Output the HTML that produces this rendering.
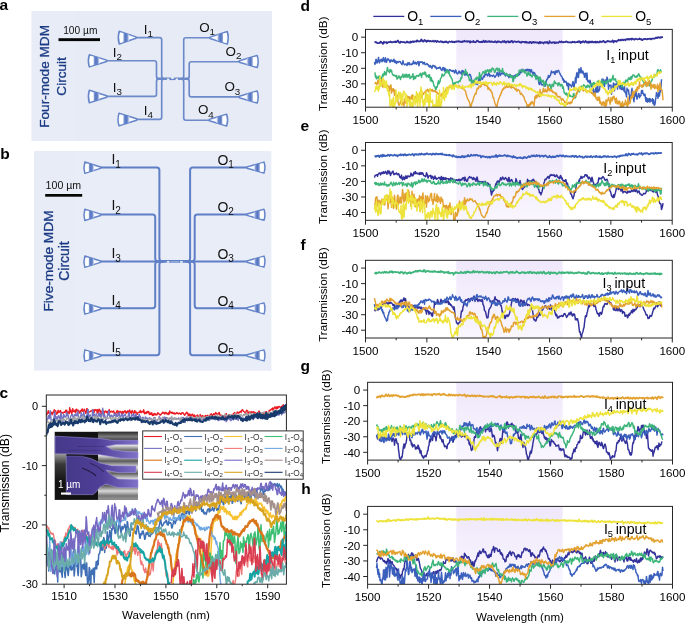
<!DOCTYPE html>
<html><head><meta charset="utf-8"><title>MDM figure</title>
<style>html,body{margin:0;padding:0;background:#fff;} svg{display:block;will-change:transform;}</style>
</head><body>
<svg width="685" height="624" viewBox="0 0 685 624" font-family='"Liberation Sans", sans-serif'>
<defs>
<linearGradient id="shade" x1="0" y1="0" x2="0" y2="1"><stop offset="0" stop-color="#efe7fb"/><stop offset="1" stop-color="#f9f6fe"/></linearGradient>
<linearGradient id="cpl" x1="0" y1="0" x2="1" y2="0"><stop offset="0" stop-color="#ffffff"/><stop offset="1" stop-color="#ffffff"/></linearGradient>
<clipPath id="d"><rect x="365.5" y="29.4" width="306.79999999999995" height="77.80000000000001"/></clipPath>
<clipPath id="e"><rect x="365.5" y="142.5" width="306.70000000000005" height="77.80000000000001"/></clipPath>
<clipPath id="f"><rect x="365.5" y="260.3" width="306.79999999999995" height="77.69999999999999"/></clipPath>
<clipPath id="g"><rect x="367.6" y="382.3" width="304.9" height="77.80000000000001"/></clipPath>
<clipPath id="h"><rect x="367.6" y="506.4" width="304.9" height="77.89999999999998"/></clipPath>
<clipPath id="c"><rect x="46.3" y="395.0" width="240.09999999999997" height="189.20000000000005"/></clipPath>
</defs>
<rect x="0" y="0" width="685" height="624" fill="#ffffff"/>
<text x="-0.60" y="10.20" font-size="15.5" text-anchor="start" font-weight="bold" fill="#000" >a</text>
<text x="0.20" y="158.60" font-size="15.5" text-anchor="start" font-weight="bold" fill="#000" >b</text>
<text x="-0.40" y="398.20" font-size="15.5" text-anchor="start" font-weight="bold" fill="#000" >c</text>
<text x="300.50" y="10.60" font-size="15.5" text-anchor="start" font-weight="bold" fill="#000" >d</text>
<text x="300.60" y="131.00" font-size="15.5" text-anchor="start" font-weight="bold" fill="#000" >e</text>
<text x="300.60" y="250.40" font-size="15.5" text-anchor="start" font-weight="bold" fill="#000" >f</text>
<text x="300.60" y="371.20" font-size="15.5" text-anchor="start" font-weight="bold" fill="#000" >g</text>
<text x="301.20" y="494.00" font-size="15.5" text-anchor="start" font-weight="bold" fill="#000" >h</text>
<rect x="31.4" y="11" width="240.6" height="130" fill="#e8ecf6"/>
<rect x="75" y="11" width="197" height="130" fill="#e6ebf5"/>
<rect x="58.5" y="38.2" width="41.5" height="2.9" fill="#050505"/>
<text x="80.30" y="33.60" font-size="10.2" text-anchor="middle" fill="#111" >100 µm</text>
<text x="49.20" y="76.40" font-size="13.6" text-anchor="middle" fill="#1a3a85" transform="rotate(-90 49.20 76.40)" stroke="#1a3a85" stroke-width="0.3">Four-mode MDM</text>
<text x="66.00" y="76.40" font-size="13.6" text-anchor="middle" fill="#1a3a85" transform="rotate(-90 66.00 76.40)" stroke="#1a3a85" stroke-width="0.3">Circuit</text>
<path d="M136.3,37.6 H159.5 Q161.7,37.6 161.7,39.800000000000004 V76.2 Q161.7,78.8 164.29999999999998,78.8" fill="none" stroke="#6c89ca" stroke-width="1.65" stroke-linejoin="round" stroke-linecap="round"/>
<path d="M107,60.7 H154.3 Q156.5,60.7 156.5,62.900000000000006 V76.2 Q156.5,78.8 159.1,78.8" fill="none" stroke="#6c89ca" stroke-width="1.65" stroke-linejoin="round" stroke-linecap="round"/>
<path d="M107,96.4 H154.3 Q156.5,96.4 156.5,94.2 V81.39999999999999 Q156.5,78.8 159.1,78.8" fill="none" stroke="#6c89ca" stroke-width="1.65" stroke-linejoin="round" stroke-linecap="round"/>
<path d="M137,119.4 H159.5 Q161.7,119.4 161.7,117.2 V81.39999999999999 Q161.7,78.8 164.29999999999998,78.8" fill="none" stroke="#6c89ca" stroke-width="1.65" stroke-linejoin="round" stroke-linecap="round"/>
<path d="M209.3,37.7 H185.89999999999998 Q183.7,37.7 183.7,39.900000000000006 V76.2 Q183.7,78.8 181.1,78.8" fill="none" stroke="#6c89ca" stroke-width="1.65" stroke-linejoin="round" stroke-linecap="round"/>
<path d="M239,61.7 H191.39999999999998 Q189.2,61.7 189.2,63.900000000000006 V76.2 Q189.2,78.8 186.6,78.8" fill="none" stroke="#6c89ca" stroke-width="1.65" stroke-linejoin="round" stroke-linecap="round"/>
<path d="M239,96.9 H191.39999999999998 Q189.2,96.9 189.2,94.7 V81.39999999999999 Q189.2,78.8 186.6,78.8" fill="none" stroke="#6c89ca" stroke-width="1.65" stroke-linejoin="round" stroke-linecap="round"/>
<path d="M209,120.2 H185.89999999999998 Q183.7,120.2 183.7,118.0 V81.39999999999999 Q183.7,78.8 181.1,78.8" fill="none" stroke="#6c89ca" stroke-width="1.65" stroke-linejoin="round" stroke-linecap="round"/>
<path d="M157.5,78.8 H170.2" fill="none" stroke="#6c89ca" stroke-width="2.4" stroke-linejoin="round" stroke-linecap="round"/>
<path d="M174.8,78.8 H188.2" fill="none" stroke="#6c89ca" stroke-width="2.4" stroke-linejoin="round" stroke-linecap="round"/>
<path d="M170,79.6 H175" fill="none" stroke="#5f7fc6" stroke-width="1.0" stroke-linejoin="round" stroke-linecap="round"/>
<ellipse cx="168.1" cy="79.3" rx="1.5" ry="0.8" fill="#f4f7fc"/>
<ellipse cx="176.8" cy="79.3" rx="1.5" ry="0.8" fill="#f4f7fc"/>
<path d="M136.00,36.90 L119.20,31.15 Q117.35,37.60 119.20,44.05 L136.00,38.30 Z" fill="#f6f8fd" stroke="#6685c9" stroke-width="1.5" stroke-linejoin="round"/>
<linearGradient id="g1360_376" gradientUnits="userSpaceOnUse" x1="128.94" y1="0" x2="123.40" y2="0"><stop offset="0" stop-color="#dde5f5"/><stop offset="0.3" stop-color="#6f8cd0"/><stop offset="0.6" stop-color="#5474c0"/><stop offset="1" stop-color="#8aa2d9"/></linearGradient>
<path d="M128.94,34.48 L123.40,32.59 L123.40,42.61 L128.94,40.72 Z" fill="url(#g1360_376)"/>
<path d="M123.06,33.07 L120.00,32.35 L120.00,42.85 L123.06,42.13 Z" fill="#ffffff" opacity="0.9"/>
<path d="M106.70,60.10 L89.30,54.70 Q87.39,60.80 89.30,66.90 L106.70,61.50 Z" fill="#f6f8fd" stroke="#6685c9" stroke-width="1.5" stroke-linejoin="round"/>
<linearGradient id="g1067_608" gradientUnits="userSpaceOnUse" x1="99.39" y1="0" x2="93.65" y2="0"><stop offset="0" stop-color="#dde5f5"/><stop offset="0.3" stop-color="#6f8cd0"/><stop offset="0.6" stop-color="#5474c0"/><stop offset="1" stop-color="#8aa2d9"/></linearGradient>
<path d="M99.39,57.83 L93.65,56.05 L93.65,65.55 L99.39,63.77 Z" fill="url(#g1067_608)"/>
<path d="M93.30,56.54 L90.10,55.90 L90.10,65.70 L93.30,65.06 Z" fill="#ffffff" opacity="0.9"/>
<path d="M106.70,95.80 L89.30,90.30 Q87.39,96.50 89.30,102.70 L106.70,97.20 Z" fill="#f6f8fd" stroke="#6685c9" stroke-width="1.5" stroke-linejoin="round"/>
<linearGradient id="g1067_965" gradientUnits="userSpaceOnUse" x1="99.39" y1="0" x2="93.65" y2="0"><stop offset="0" stop-color="#dde5f5"/><stop offset="0.3" stop-color="#6f8cd0"/><stop offset="0.6" stop-color="#5474c0"/><stop offset="1" stop-color="#8aa2d9"/></linearGradient>
<path d="M99.39,93.49 L93.65,91.67 L93.65,101.33 L99.39,99.51 Z" fill="url(#g1067_965)"/>
<path d="M93.30,92.16 L90.10,91.50 L90.10,101.50 L93.30,100.84 Z" fill="#ffffff" opacity="0.9"/>
<path d="M136.70,118.80 L119.00,113.20 Q117.05,119.50 119.00,125.80 L136.70,120.20 Z" fill="#f6f8fd" stroke="#6685c9" stroke-width="1.5" stroke-linejoin="round"/>
<linearGradient id="g1367_1195" gradientUnits="userSpaceOnUse" x1="129.27" y1="0" x2="123.42" y2="0"><stop offset="0" stop-color="#dde5f5"/><stop offset="0.3" stop-color="#6f8cd0"/><stop offset="0.6" stop-color="#5474c0"/><stop offset="1" stop-color="#8aa2d9"/></linearGradient>
<path d="M129.27,116.45 L123.42,114.60 L123.42,124.40 L129.27,122.55 Z" fill="url(#g1367_1195)"/>
<path d="M123.07,115.09 L119.80,114.40 L119.80,124.60 L123.07,123.91 Z" fill="#ffffff" opacity="0.9"/>
<path d="M210.00,37.10 L227.30,31.50 Q229.20,37.80 227.30,44.10 L210.00,38.50 Z" fill="#f6f8fd" stroke="#6685c9" stroke-width="1.5" stroke-linejoin="round"/>
<linearGradient id="g2100_378" gradientUnits="userSpaceOnUse" x1="217.27" y1="0" x2="222.98" y2="0"><stop offset="0" stop-color="#dde5f5"/><stop offset="0.3" stop-color="#6f8cd0"/><stop offset="0.6" stop-color="#5474c0"/><stop offset="1" stop-color="#8aa2d9"/></linearGradient>
<path d="M217.27,34.75 L222.98,32.90 L222.98,42.70 L217.27,40.85 Z" fill="url(#g2100_378)"/>
<path d="M223.32,33.39 L226.50,32.70 L226.50,42.90 L223.32,42.21 Z" fill="#ffffff" opacity="0.9"/>
<path d="M239.30,60.80 L257.20,55.45 Q259.17,61.50 257.20,67.55 L239.30,62.20 Z" fill="#f6f8fd" stroke="#6685c9" stroke-width="1.5" stroke-linejoin="round"/>
<linearGradient id="g2393_615" gradientUnits="userSpaceOnUse" x1="246.82" y1="0" x2="252.72" y2="0"><stop offset="0" stop-color="#dde5f5"/><stop offset="0.3" stop-color="#6f8cd0"/><stop offset="0.6" stop-color="#5474c0"/><stop offset="1" stop-color="#8aa2d9"/></linearGradient>
<path d="M246.82,58.55 L252.72,56.79 L252.72,66.21 L246.82,64.45 Z" fill="url(#g2393_615)"/>
<path d="M253.08,57.28 L256.40,56.65 L256.40,66.35 L253.08,65.72 Z" fill="#ffffff" opacity="0.9"/>
<path d="M239.30,96.30 L257.20,90.95 Q259.17,97.00 257.20,103.05 L239.30,97.70 Z" fill="#f6f8fd" stroke="#6685c9" stroke-width="1.5" stroke-linejoin="round"/>
<linearGradient id="g2393_970" gradientUnits="userSpaceOnUse" x1="246.82" y1="0" x2="252.72" y2="0"><stop offset="0" stop-color="#dde5f5"/><stop offset="0.3" stop-color="#6f8cd0"/><stop offset="0.6" stop-color="#5474c0"/><stop offset="1" stop-color="#8aa2d9"/></linearGradient>
<path d="M246.82,94.05 L252.72,92.29 L252.72,101.71 L246.82,99.95 Z" fill="url(#g2393_970)"/>
<path d="M253.08,92.78 L256.40,92.15 L256.40,101.85 L253.08,101.22 Z" fill="#ffffff" opacity="0.9"/>
<path d="M209.30,119.40 L226.70,114.25 Q228.61,120.10 226.70,125.95 L209.30,120.80 Z" fill="#f6f8fd" stroke="#6685c9" stroke-width="1.5" stroke-linejoin="round"/>
<linearGradient id="g2093_1201" gradientUnits="userSpaceOnUse" x1="216.61" y1="0" x2="222.35" y2="0"><stop offset="0" stop-color="#dde5f5"/><stop offset="0.3" stop-color="#6f8cd0"/><stop offset="0.6" stop-color="#5474c0"/><stop offset="1" stop-color="#8aa2d9"/></linearGradient>
<path d="M216.61,117.24 L222.35,115.54 L222.35,124.66 L216.61,122.96 Z" fill="url(#g2093_1201)"/>
<path d="M222.70,116.03 L225.90,115.45 L225.90,124.75 L222.70,124.17 Z" fill="#ffffff" opacity="0.9"/>
<text x="143.80" y="33.80" font-size="13.4" fill="#111">I<tspan font-size="9.8" dy="3.2">1</tspan></text>
<text x="112.70" y="57.00" font-size="13.4" fill="#111">I<tspan font-size="9.8" dy="3.2">2</tspan></text>
<text x="112.80" y="91.60" font-size="13.4" fill="#111">I<tspan font-size="9.8" dy="3.2">3</tspan></text>
<text x="143.80" y="115.00" font-size="13.4" fill="#111">I<tspan font-size="9.8" dy="3.2">4</tspan></text>
<text x="199.20" y="31.50" font-size="13.4" fill="#111">O<tspan font-size="9.8" dy="3.2">1</tspan></text>
<text x="225.60" y="56.20" font-size="13.4" fill="#111">O<tspan font-size="9.8" dy="3.2">2</tspan></text>
<text x="224.40" y="91.40" font-size="13.4" fill="#111">O<tspan font-size="9.8" dy="3.2">3</tspan></text>
<text x="197.90" y="114.40" font-size="13.4" fill="#111">O<tspan font-size="9.8" dy="3.2">4</tspan></text>
<rect x="34" y="151" width="237.2" height="219.5" fill="#e8ecf6"/>
<rect x="77" y="151" width="194.2" height="219.5" fill="#e9edf7"/>
<rect x="45.2" y="194" width="37" height="2.7" fill="#050505"/>
<text x="63.40" y="189.00" font-size="10.6" text-anchor="middle" fill="#111" >100 µm</text>
<text x="52.70" y="261.00" font-size="13.7" text-anchor="middle" fill="#1a3a85" transform="rotate(-90 52.70 261.00)" stroke="#1a3a85" stroke-width="0.3">Five-mode MDM</text>
<text x="69.40" y="261.00" font-size="13.9" text-anchor="middle" fill="#1a3a85" transform="rotate(-90 69.40 261.00)" stroke="#1a3a85" stroke-width="0.3">Circuit</text>
<path d="M100.6,167.4 H156.8 Q159.4,167.4 159.4,170.0 V258.2 Q159.4,261.4 162.6,261.4" fill="none" stroke="#5f7fc6" stroke-width="2.0" stroke-linejoin="round" stroke-linecap="round"/>
<path d="M100.6,214.5 H152.6 Q155.2,214.5 155.2,217.1 V258.2 Q155.2,261.4 158.39999999999998,261.4" fill="none" stroke="#5f7fc6" stroke-width="2.0" stroke-linejoin="round" stroke-linecap="round"/>
<path d="M100.6,261.4 H161.4" fill="none" stroke="#5f7fc6" stroke-width="2.0" stroke-linejoin="round" stroke-linecap="round"/>
<path d="M100.6,308.2 H152.6 Q155.2,308.2 155.2,305.59999999999997 V264.59999999999997 Q155.2,261.4 158.39999999999998,261.4" fill="none" stroke="#5f7fc6" stroke-width="2.0" stroke-linejoin="round" stroke-linecap="round"/>
<path d="M100.6,355.2 H156.8 Q159.4,355.2 159.4,352.59999999999997 V264.59999999999997 Q159.4,261.4 162.6,261.4" fill="none" stroke="#5f7fc6" stroke-width="2.0" stroke-linejoin="round" stroke-linecap="round"/>
<path d="M247.0,167.4 H192.7 Q190.1,167.4 190.1,170.0 V258.2 Q190.1,261.4 186.9,261.4" fill="none" stroke="#5f7fc6" stroke-width="2.0" stroke-linejoin="round" stroke-linecap="round"/>
<path d="M247.0,214.5 H197.29999999999998 Q194.7,214.5 194.7,217.1 V258.2 Q194.7,261.4 191.5,261.4" fill="none" stroke="#5f7fc6" stroke-width="2.0" stroke-linejoin="round" stroke-linecap="round"/>
<path d="M247.0,261.4 H188.1" fill="none" stroke="#5f7fc6" stroke-width="2.0" stroke-linejoin="round" stroke-linecap="round"/>
<path d="M247.0,308.2 H197.29999999999998 Q194.7,308.2 194.7,305.59999999999997 V264.59999999999997 Q194.7,261.4 191.5,261.4" fill="none" stroke="#5f7fc6" stroke-width="2.0" stroke-linejoin="round" stroke-linecap="round"/>
<path d="M247.0,355.2 H192.7 Q190.1,355.2 190.1,352.59999999999997 V264.59999999999997 Q190.1,261.4 186.9,261.4" fill="none" stroke="#5f7fc6" stroke-width="2.0" stroke-linejoin="round" stroke-linecap="round"/>
<path d="M159.4,261.4 H190.1" fill="none" stroke="#5f7fc6" stroke-width="2.8" stroke-linejoin="round" stroke-linecap="round"/>
<ellipse cx="168.1" cy="261.9" rx="1.6" ry="0.8" fill="#f4f7fc"/>
<ellipse cx="181.4" cy="261.9" rx="1.6" ry="0.8" fill="#f4f7fc"/>
<rect x="170.5" y="261.2" width="8.5" height="1.2" fill="#9fb3e0"/>
<path d="M100.60,167.00 L84.85,162.05 Q83.12,167.70 84.85,173.35 L100.60,168.40 Z" fill="#f6f8fd" stroke="#6685c9" stroke-width="1.5" stroke-linejoin="round"/>
<linearGradient id="g1006_1677" gradientUnits="userSpaceOnUse" x1="93.98" y1="0" x2="88.79" y2="0"><stop offset="0" stop-color="#dde5f5"/><stop offset="0.3" stop-color="#6f8cd0"/><stop offset="0.6" stop-color="#5474c0"/><stop offset="1" stop-color="#8aa2d9"/></linearGradient>
<path d="M93.98,164.92 L88.79,163.29 L88.79,172.11 L93.98,170.48 Z" fill="url(#g1006_1677)"/>
<path d="M88.47,163.79 L85.65,163.25 L85.65,172.15 L88.47,171.61 Z" fill="#ffffff" opacity="0.9"/>
<path d="M247.00,166.90 L264.00,162.10 Q265.87,167.60 264.00,173.10 L247.00,168.30 Z" fill="#f6f8fd" stroke="#6685c9" stroke-width="1.5" stroke-linejoin="round"/>
<linearGradient id="g2470_1676" gradientUnits="userSpaceOnUse" x1="254.14" y1="0" x2="259.75" y2="0"><stop offset="0" stop-color="#dde5f5"/><stop offset="0.3" stop-color="#6f8cd0"/><stop offset="0.6" stop-color="#5474c0"/><stop offset="1" stop-color="#8aa2d9"/></linearGradient>
<path d="M254.14,164.88 L259.75,163.30 L259.75,171.90 L254.14,170.32 Z" fill="url(#g2470_1676)"/>
<path d="M260.09,163.80 L263.20,163.30 L263.20,171.90 L260.09,171.40 Z" fill="#ffffff" opacity="0.9"/>
<path d="M100.60,214.10 L84.85,209.15 Q83.12,214.80 84.85,220.45 L100.60,215.50 Z" fill="#f6f8fd" stroke="#6685c9" stroke-width="1.5" stroke-linejoin="round"/>
<linearGradient id="g1006_2148" gradientUnits="userSpaceOnUse" x1="93.98" y1="0" x2="88.79" y2="0"><stop offset="0" stop-color="#dde5f5"/><stop offset="0.3" stop-color="#6f8cd0"/><stop offset="0.6" stop-color="#5474c0"/><stop offset="1" stop-color="#8aa2d9"/></linearGradient>
<path d="M93.98,212.02 L88.79,210.39 L88.79,219.21 L93.98,217.58 Z" fill="url(#g1006_2148)"/>
<path d="M88.47,210.89 L85.65,210.35 L85.65,219.25 L88.47,218.71 Z" fill="#ffffff" opacity="0.9"/>
<path d="M247.00,214.00 L264.00,209.20 Q265.87,214.70 264.00,220.20 L247.00,215.40 Z" fill="#f6f8fd" stroke="#6685c9" stroke-width="1.5" stroke-linejoin="round"/>
<linearGradient id="g2470_2147" gradientUnits="userSpaceOnUse" x1="254.14" y1="0" x2="259.75" y2="0"><stop offset="0" stop-color="#dde5f5"/><stop offset="0.3" stop-color="#6f8cd0"/><stop offset="0.6" stop-color="#5474c0"/><stop offset="1" stop-color="#8aa2d9"/></linearGradient>
<path d="M254.14,211.98 L259.75,210.40 L259.75,219.00 L254.14,217.42 Z" fill="url(#g2470_2147)"/>
<path d="M260.09,210.90 L263.20,210.40 L263.20,219.00 L260.09,218.50 Z" fill="#ffffff" opacity="0.9"/>
<path d="M100.60,261.00 L84.85,256.05 Q83.12,261.70 84.85,267.35 L100.60,262.40 Z" fill="#f6f8fd" stroke="#6685c9" stroke-width="1.5" stroke-linejoin="round"/>
<linearGradient id="g1006_2617" gradientUnits="userSpaceOnUse" x1="93.98" y1="0" x2="88.79" y2="0"><stop offset="0" stop-color="#dde5f5"/><stop offset="0.3" stop-color="#6f8cd0"/><stop offset="0.6" stop-color="#5474c0"/><stop offset="1" stop-color="#8aa2d9"/></linearGradient>
<path d="M93.98,258.92 L88.79,257.29 L88.79,266.11 L93.98,264.48 Z" fill="url(#g1006_2617)"/>
<path d="M88.47,257.79 L85.65,257.25 L85.65,266.15 L88.47,265.61 Z" fill="#ffffff" opacity="0.9"/>
<path d="M247.00,260.90 L264.00,256.10 Q265.87,261.60 264.00,267.10 L247.00,262.30 Z" fill="#f6f8fd" stroke="#6685c9" stroke-width="1.5" stroke-linejoin="round"/>
<linearGradient id="g2470_2615" gradientUnits="userSpaceOnUse" x1="254.14" y1="0" x2="259.75" y2="0"><stop offset="0" stop-color="#dde5f5"/><stop offset="0.3" stop-color="#6f8cd0"/><stop offset="0.6" stop-color="#5474c0"/><stop offset="1" stop-color="#8aa2d9"/></linearGradient>
<path d="M254.14,258.88 L259.75,257.30 L259.75,265.90 L254.14,264.32 Z" fill="url(#g2470_2615)"/>
<path d="M260.09,257.80 L263.20,257.30 L263.20,265.90 L260.09,265.40 Z" fill="#ffffff" opacity="0.9"/>
<path d="M100.60,307.80 L84.85,302.85 Q83.12,308.50 84.85,314.15 L100.60,309.20 Z" fill="#f6f8fd" stroke="#6685c9" stroke-width="1.5" stroke-linejoin="round"/>
<linearGradient id="g1006_3085" gradientUnits="userSpaceOnUse" x1="93.98" y1="0" x2="88.79" y2="0"><stop offset="0" stop-color="#dde5f5"/><stop offset="0.3" stop-color="#6f8cd0"/><stop offset="0.6" stop-color="#5474c0"/><stop offset="1" stop-color="#8aa2d9"/></linearGradient>
<path d="M93.98,305.72 L88.79,304.09 L88.79,312.91 L93.98,311.28 Z" fill="url(#g1006_3085)"/>
<path d="M88.47,304.59 L85.65,304.05 L85.65,312.95 L88.47,312.41 Z" fill="#ffffff" opacity="0.9"/>
<path d="M247.00,307.70 L264.00,302.90 Q265.87,308.40 264.00,313.90 L247.00,309.10 Z" fill="#f6f8fd" stroke="#6685c9" stroke-width="1.5" stroke-linejoin="round"/>
<linearGradient id="g2470_3084" gradientUnits="userSpaceOnUse" x1="254.14" y1="0" x2="259.75" y2="0"><stop offset="0" stop-color="#dde5f5"/><stop offset="0.3" stop-color="#6f8cd0"/><stop offset="0.6" stop-color="#5474c0"/><stop offset="1" stop-color="#8aa2d9"/></linearGradient>
<path d="M254.14,305.68 L259.75,304.10 L259.75,312.70 L254.14,311.12 Z" fill="url(#g2470_3084)"/>
<path d="M260.09,304.60 L263.20,304.10 L263.20,312.70 L260.09,312.20 Z" fill="#ffffff" opacity="0.9"/>
<path d="M100.60,354.80 L84.85,349.85 Q83.12,355.50 84.85,361.15 L100.60,356.20 Z" fill="#f6f8fd" stroke="#6685c9" stroke-width="1.5" stroke-linejoin="round"/>
<linearGradient id="g1006_3555" gradientUnits="userSpaceOnUse" x1="93.98" y1="0" x2="88.79" y2="0"><stop offset="0" stop-color="#dde5f5"/><stop offset="0.3" stop-color="#6f8cd0"/><stop offset="0.6" stop-color="#5474c0"/><stop offset="1" stop-color="#8aa2d9"/></linearGradient>
<path d="M93.98,352.72 L88.79,351.09 L88.79,359.91 L93.98,358.28 Z" fill="url(#g1006_3555)"/>
<path d="M88.47,351.59 L85.65,351.05 L85.65,359.95 L88.47,359.41 Z" fill="#ffffff" opacity="0.9"/>
<path d="M247.00,354.70 L264.00,349.90 Q265.87,355.40 264.00,360.90 L247.00,356.10 Z" fill="#f6f8fd" stroke="#6685c9" stroke-width="1.5" stroke-linejoin="round"/>
<linearGradient id="g2470_3554" gradientUnits="userSpaceOnUse" x1="254.14" y1="0" x2="259.75" y2="0"><stop offset="0" stop-color="#dde5f5"/><stop offset="0.3" stop-color="#6f8cd0"/><stop offset="0.6" stop-color="#5474c0"/><stop offset="1" stop-color="#8aa2d9"/></linearGradient>
<path d="M254.14,352.68 L259.75,351.10 L259.75,359.70 L254.14,358.12 Z" fill="url(#g2470_3554)"/>
<path d="M260.09,351.60 L263.20,351.10 L263.20,359.70 L260.09,359.20 Z" fill="#ffffff" opacity="0.9"/>
<text x="111.40" y="164.40" font-size="14" fill="#111">I<tspan font-size="10" dy="3.3">1</tspan></text>
<text x="217.40" y="165.00" font-size="14" fill="#111">O<tspan font-size="10" dy="3.3">1</tspan></text>
<text x="111.40" y="210.30" font-size="14" fill="#111">I<tspan font-size="10" dy="3.3">2</tspan></text>
<text x="217.40" y="212.10" font-size="14" fill="#111">O<tspan font-size="10" dy="3.3">2</tspan></text>
<text x="111.40" y="258.40" font-size="14" fill="#111">I<tspan font-size="10" dy="3.3">3</tspan></text>
<text x="217.40" y="259.00" font-size="14" fill="#111">O<tspan font-size="10" dy="3.3">3</tspan></text>
<text x="111.40" y="305.20" font-size="14" fill="#111">I<tspan font-size="10" dy="3.3">4</tspan></text>
<text x="217.40" y="305.80" font-size="14" fill="#111">O<tspan font-size="10" dy="3.3">4</tspan></text>
<text x="111.40" y="352.20" font-size="14" fill="#111">I<tspan font-size="10" dy="3.3">5</tspan></text>
<text x="217.40" y="352.80" font-size="14" fill="#111">O<tspan font-size="10" dy="3.3">5</tspan></text>
<rect x="456.3" y="29.4" width="106.3" height="77.80" fill="url(#shade)"/>
<polyline points="374.5,42.5 375.0,42.1 375.5,42.3 376.0,42.1 376.5,42.3 377.0,42.9 377.5,43.2 378.0,43.2 378.5,43.2 379.0,43.1 379.5,42.7 380.0,42.8 380.5,41.6 381.0,41.6 381.5,42.4 382.0,42.8 382.5,43.2 383.0,43.9 383.5,42.7 384.0,41.7 384.5,42.6 385.0,42.6 385.5,42.4 386.0,42.3 386.5,42.2 387.0,43.3 387.5,42.9 388.0,42.2 388.5,42.3 389.0,42.1 389.5,42.0 390.0,42.1 390.5,41.5 391.0,42.1 391.5,42.0 392.0,42.5 392.5,42.2 393.0,41.9 393.5,42.0 394.0,41.9 394.5,41.6 395.0,42.3 395.5,41.5 396.0,42.2 396.5,42.1 397.0,41.2 397.5,40.9 398.0,40.5 398.5,41.9 399.0,42.3 399.5,42.7 400.0,42.9 400.5,41.7 401.0,41.7 401.5,42.0 402.0,42.1 402.5,42.0 403.0,42.1 403.5,42.3 404.0,42.0 404.5,42.0 405.0,42.7 405.5,42.7 406.0,42.4 406.5,42.1 407.0,41.4 407.5,42.3 408.0,42.5 408.5,42.2 409.0,42.1 409.5,42.7 410.0,42.6 410.5,41.5 411.0,42.5 411.5,42.3 412.0,41.9 412.5,41.3 413.0,41.4 413.5,42.2 414.0,41.4 414.5,41.6 415.0,41.5 415.5,41.3 416.0,41.6 416.5,41.6 417.0,40.3 417.5,40.5 418.0,41.3 418.5,41.5 419.0,41.4 419.5,41.3 420.0,41.2 420.5,41.3 421.0,39.9 421.5,39.4 422.0,40.5 422.5,41.3 423.0,41.1 423.5,41.6 424.0,40.9 424.5,40.0 425.0,40.3 425.5,40.9 426.0,41.4 426.5,41.9 427.0,40.6 427.5,41.1 428.0,40.6 428.5,40.6 429.0,41.2 429.5,41.4 430.0,41.2 430.5,40.8 431.0,41.3 431.5,41.3 432.0,41.4 432.5,41.4 433.0,40.6 433.5,41.4 434.0,41.6 434.5,41.6 435.0,40.8 435.5,40.7 436.0,41.4 436.5,42.0 437.0,41.5 437.5,40.9 438.0,41.5 438.5,41.7 439.0,41.8 439.5,41.9 440.0,41.8 440.5,41.2 441.0,41.5 441.5,41.9 442.0,41.4 442.5,42.2 443.0,42.4 443.5,42.1 444.0,42.3 444.5,41.6 445.0,42.2 445.5,42.0 446.0,41.3 446.5,42.1 447.0,42.0 447.5,42.3 448.0,42.8 448.5,42.0 449.0,41.8 449.5,41.5 450.0,41.8 450.5,42.0 451.0,41.9 451.5,41.6 452.0,41.3 452.5,42.1 453.0,42.2 453.5,42.1 454.0,41.6 454.5,42.4 455.0,41.9 455.5,41.6 456.0,41.9 456.5,41.3 457.0,41.6 457.5,41.6 458.0,41.3 458.5,41.1 459.0,41.8 459.5,41.5 460.0,41.7 460.5,41.6 461.0,42.1 461.5,41.6 462.0,41.8 462.5,42.1 463.0,41.2 463.5,41.5 464.0,41.4 464.5,40.8 465.0,41.6 465.5,41.3 466.0,41.4 466.5,41.5 467.0,41.1 467.5,41.8 468.0,41.3 468.5,41.3 469.0,41.1 469.5,42.0 470.0,42.6 470.5,41.2 471.0,42.0 471.5,41.8 472.0,41.9 472.5,41.6 473.0,41.8 473.5,40.9 474.0,42.1 474.5,42.2 475.0,42.2 475.5,42.3 476.0,42.0 476.5,41.5 477.0,40.6 477.5,41.1 478.0,41.0 478.5,41.8 479.0,41.9 479.5,41.8 480.0,42.2 480.5,42.2 481.0,41.8 481.5,41.6 482.0,42.3 482.5,42.1 483.0,41.8 483.5,40.6 484.0,41.4 484.5,42.2 485.0,41.8 485.5,41.0 486.0,41.8 486.5,41.3 487.0,41.9 487.5,41.7 488.0,41.8 488.5,41.2 489.0,41.7 489.5,41.3 490.0,42.0 490.5,41.6 491.0,41.8 491.5,41.3 492.0,41.6 492.5,41.9 493.0,41.9 493.5,42.2 494.0,42.1 494.5,42.0 495.0,41.2 495.5,41.4 496.0,42.1 496.5,42.5 497.0,42.3 497.5,41.4 498.0,41.2 498.5,41.9 499.0,41.6 499.5,41.6 500.0,41.9 500.5,42.1 501.0,42.4 501.5,42.3 502.0,42.2 502.5,41.2 503.0,41.3 503.5,41.6 504.0,42.0 504.5,41.0 505.0,41.8 505.5,42.5 506.0,42.7 506.5,41.6 507.0,41.5 507.5,41.8 508.0,41.2 508.5,41.7 509.0,42.6 509.5,41.7 510.0,41.5 510.5,42.2 511.0,41.7 511.5,40.9 512.0,40.8 512.5,41.7 513.0,42.6 513.5,41.6 514.0,41.5 514.5,41.4 515.0,41.6 515.5,41.6 516.0,41.9 516.5,42.1 517.0,41.9 517.5,41.7 518.0,41.6 518.5,41.4 519.0,41.5 519.5,42.2 520.0,42.4 520.5,42.1 521.0,42.9 521.5,42.1 522.0,41.7 522.5,42.0 523.0,41.8 523.5,41.9 524.0,41.9 524.5,42.4 525.0,42.5 525.5,41.7 526.0,41.9 526.5,42.7 527.0,42.1 527.5,42.6 528.0,42.3 528.5,42.8 529.0,43.0 529.5,42.1 530.0,41.9 530.5,42.1 531.0,42.6 531.5,43.2 532.0,42.0 532.5,42.0 533.0,42.7 533.5,41.8 534.0,42.1 534.5,42.6 535.0,42.3 535.5,42.2 536.0,42.7 536.5,42.4 537.0,42.7 537.5,42.4 538.0,43.0 538.5,43.3 539.0,43.3 539.5,41.8 540.0,41.9 540.5,43.2 541.0,42.7 541.5,42.3 542.0,42.4 542.5,42.7 543.0,42.6 543.5,43.5 544.0,42.7 544.5,42.3 545.0,42.1 545.5,42.3 546.0,42.8 546.5,42.6 547.0,41.8 547.5,42.6 548.0,43.4 548.5,43.5 549.0,42.9 549.5,41.2 550.0,42.1 550.5,42.6 551.0,42.5 551.5,42.6 552.0,43.0 552.5,42.4 553.0,42.4 553.5,42.2 554.0,42.0 554.5,43.1 555.0,43.3 555.5,42.6 556.0,42.4 556.5,42.8 557.0,42.6 557.5,42.5 558.0,42.9 558.5,42.7 559.0,42.1 559.5,41.5 560.0,41.9 560.5,41.9 561.0,42.4 561.5,41.4 562.0,41.8 562.5,41.8 563.0,42.4 563.5,42.4 564.0,42.0 564.5,42.2 565.0,42.2 565.5,42.2 566.0,41.3 566.5,41.5 567.0,41.6 567.5,42.2 568.0,42.4 568.5,42.2 569.0,42.3 569.5,42.4 570.0,42.4 570.5,42.2 571.0,42.3 571.5,42.7 572.0,42.2 572.5,41.7 573.0,42.2 573.5,42.1 574.0,42.1 574.5,41.7 575.0,42.5 575.5,42.4 576.0,42.2 576.5,42.2 577.0,42.2 577.5,41.6 578.0,42.3 578.5,41.7 579.0,41.2 579.5,41.3 580.0,42.3 580.5,43.1 581.0,41.7 581.5,42.1 582.0,42.4 582.5,41.9 583.0,41.1 583.5,41.6 584.0,42.0 584.5,42.5 585.0,41.7 585.5,41.0 586.0,41.4 586.5,42.1 587.0,42.6 587.5,42.6 588.0,41.6 588.5,41.8 589.0,42.8 589.5,41.6 590.0,42.1 590.5,41.6 591.0,42.3 591.5,42.4 592.0,41.4 592.5,42.0 593.0,42.4 593.5,42.4 594.0,41.9 594.5,41.9 595.0,42.6 595.5,41.7 596.0,41.6 596.5,42.5 597.0,42.0 597.5,41.7 598.0,42.4 598.5,42.3 599.0,42.5 599.5,41.6 600.0,41.4 600.5,41.6 601.0,42.2 601.5,41.7 602.0,41.9 602.5,41.7 603.0,41.2 603.5,40.8 604.0,41.4 604.5,42.2 605.0,42.3 605.5,42.5 606.0,41.6 606.5,41.7 607.0,41.4 607.5,41.0 608.0,41.4 608.5,41.2 609.0,41.2 609.5,41.7 610.0,41.6 610.5,41.7 611.0,41.8 611.5,41.3 612.0,41.3 612.5,40.3 613.0,41.0 613.5,42.5 614.0,41.8 614.5,40.8 615.0,40.9 615.5,41.3 616.0,41.4 616.5,41.8 617.0,40.9 617.5,40.9 618.0,40.5 618.5,39.7 619.0,40.2 619.5,40.4 620.0,40.4 620.5,39.8 621.0,40.4 621.5,40.0 622.0,39.5 622.5,39.6 623.0,40.4 623.5,40.0 624.0,39.5 624.5,39.6 625.0,39.9 625.5,40.4 626.0,39.4 626.5,39.1 627.0,39.1 627.5,39.5 628.0,38.9 628.5,39.1 629.0,39.7 629.5,39.3 630.0,38.9 630.5,38.8 631.0,39.1 631.5,39.7 632.0,38.5 632.5,38.7 633.0,38.8 633.5,39.3 634.0,39.4 634.5,39.7 635.0,39.0 635.5,38.7 636.0,38.9 636.5,39.0 637.0,39.3 637.5,39.5 638.0,39.3 638.5,39.1 639.0,39.2 639.5,38.5 640.0,39.3 640.5,39.5 641.0,39.0 641.5,39.1 642.0,40.0 642.5,40.1 643.0,39.5 643.5,39.1 644.0,39.0 644.5,39.1 645.0,38.8 645.5,38.8 646.0,39.2 646.5,39.3 647.0,39.3 647.5,38.8 648.0,39.1 648.5,39.0 649.0,38.8 649.5,38.7 650.0,38.9 650.5,38.6 651.0,39.4 651.5,39.3 652.0,38.6 652.5,38.6 653.0,38.6 653.5,38.5 654.0,38.7 654.5,38.7 655.0,38.4 655.5,38.0 656.0,37.5 656.5,37.9 657.0,38.2 657.5,37.4 658.0,37.6 658.5,37.2 659.0,37.4 659.5,37.6 660.0,37.9 660.5,37.2 661.0,37.3 661.5,37.5 662.0,37.0 662.5,37.1 663.0,37.0" fill="none" stroke="#32309a" stroke-width="1.75" stroke-linejoin="round" clip-path="url(#d)"/>
<polyline points="374.5,61.9 375.0,64.4 375.5,62.0 376.0,59.3 376.5,59.9 377.0,63.1 377.5,62.3 378.0,60.8 378.5,57.4 379.0,61.1 379.5,62.9 380.0,60.5 380.5,60.9 381.0,59.3 381.5,59.8 382.0,61.7 382.5,61.1 383.0,58.4 383.5,57.7 384.0,60.4 384.5,61.8 385.0,61.9 385.5,57.7 386.0,60.6 386.5,62.4 387.0,60.5 387.5,59.4 388.0,58.6 388.5,60.1 389.0,59.7 389.5,60.7 390.0,62.4 390.5,61.0 391.0,59.7 391.5,61.1 392.0,60.4 392.5,61.5 393.0,61.2 393.5,60.1 394.0,59.2 394.5,62.4 395.0,60.8 395.5,60.9 396.0,63.0 396.5,63.4 397.0,61.4 397.5,62.1 398.0,62.5 398.5,62.3 399.0,61.3 399.5,61.8 400.0,61.9 400.5,61.7 401.0,63.4 401.5,63.6 402.0,64.7 402.5,63.0 403.0,60.7 403.5,63.1 404.0,64.1 404.5,64.7 405.0,64.6 405.5,64.2 406.0,63.8 406.5,64.5 407.0,65.6 407.5,64.2 408.0,62.6 408.5,63.8 409.0,64.6 409.5,62.7 410.0,64.8 410.5,64.4 411.0,64.5 411.5,64.7 412.0,63.4 412.5,64.2 413.0,62.8 413.5,61.0 414.0,63.6 414.5,63.7 415.0,63.0 415.5,62.2 416.0,63.9 416.5,64.3 417.0,62.8 417.5,62.1 418.0,61.4 418.5,63.8 419.0,65.7 419.5,62.9 420.0,61.6 420.5,62.3 421.0,62.3 421.5,62.3 422.0,61.7 422.5,62.1 423.0,64.1 423.5,62.6 424.0,63.2 424.5,62.3 425.0,64.6 425.5,64.6 426.0,64.5 426.5,64.2 427.0,63.5 427.5,64.3 428.0,65.1 428.5,64.8 429.0,66.5 429.5,66.1 430.0,67.2 430.5,65.6 431.0,66.7 431.5,66.9 432.0,68.4 432.5,66.4 433.0,65.3 433.5,65.8 434.0,66.0 434.5,65.8 435.0,67.4 435.5,66.3 436.0,67.8 436.5,69.1 437.0,68.0 437.5,67.9 438.0,68.3 438.5,67.7 439.0,68.3 439.5,67.2 440.0,67.1 440.5,68.1 441.0,69.4 441.5,69.9 442.0,70.4 442.5,68.8 443.0,67.5 443.5,67.7 444.0,69.7 444.5,71.1 445.0,68.1 445.5,69.9 446.0,70.6 446.5,69.4 447.0,70.9 447.5,70.1 448.0,70.4 448.5,71.6 449.0,70.4 449.5,69.6 450.0,69.8 450.5,70.4 451.0,70.3 451.5,71.1 452.0,70.7 452.5,71.5 453.0,70.3 453.5,71.0 454.0,71.0 454.5,73.0 455.0,72.1 455.5,69.9 456.0,70.4 456.5,73.1 457.0,73.0 457.5,74.0 458.0,73.4 458.5,72.4 459.0,71.0 459.5,71.3 460.0,73.0 460.5,72.5 461.0,72.7 461.5,74.2 462.0,70.6 462.5,70.5 463.0,72.6 463.5,71.3 464.0,73.2 464.5,75.1 465.0,72.1 465.5,73.3 466.0,75.0 466.5,72.9 467.0,73.0 467.5,75.0 468.0,75.8 468.5,76.0 469.0,75.0 469.5,74.3 470.0,74.4 470.5,75.3 471.0,77.2 471.5,79.0 472.0,82.6 472.5,84.3 473.0,82.6 473.5,81.6 474.0,80.2 474.5,82.3 475.0,83.2 475.5,83.7 476.0,83.8 476.5,83.8 477.0,84.6 477.5,84.4 478.0,83.3 478.5,80.1 479.0,78.2 479.5,78.5 480.0,81.1 480.5,80.2 481.0,77.0 481.5,78.8 482.0,78.3 482.5,79.4 483.0,77.8 483.5,76.0 484.0,76.6 484.5,76.9 485.0,73.4 485.5,74.8 486.0,74.2 486.5,74.3 487.0,75.0 487.5,75.9 488.0,74.7 488.5,73.2 489.0,73.2 489.5,75.9 490.0,76.4 490.5,75.1 491.0,75.5 491.5,75.7 492.0,76.0 492.5,76.3 493.0,75.3 493.5,75.1 494.0,75.7 494.5,76.9 495.0,77.3 495.5,76.4 496.0,75.7 496.5,75.0 497.0,72.7 497.5,72.8 498.0,75.3 498.5,76.5 499.0,73.7 499.5,70.9 500.0,74.7 500.5,75.4 501.0,73.8 501.5,73.0 502.0,73.3 502.5,73.8 503.0,72.3 503.5,73.7 504.0,74.3 504.5,74.7 505.0,74.3 505.5,76.0 506.0,75.7 506.5,73.4 507.0,74.7 507.5,75.8 508.0,75.4 508.5,76.3 509.0,77.7 509.5,75.5 510.0,74.3 510.5,75.0 511.0,75.8 511.5,76.1 512.0,75.7 512.5,76.2 513.0,76.6 513.5,77.7 514.0,75.6 514.5,75.6 515.0,77.9 515.5,74.9 516.0,75.0 516.5,76.1 517.0,75.6 517.5,74.4 518.0,75.2 518.5,75.2 519.0,73.5 519.5,74.6 520.0,72.5 520.5,70.8 521.0,72.8 521.5,72.2 522.0,69.3 522.5,71.4 523.0,71.5 523.5,70.7 524.0,71.1 524.5,70.5 525.0,70.6 525.5,69.8 526.0,70.4 526.5,69.3 527.0,70.8 527.5,69.4 528.0,69.3 528.5,71.0 529.0,71.1 529.5,69.5 530.0,70.5 530.5,72.1 531.0,69.7 531.5,69.8 532.0,72.3 532.5,72.5 533.0,74.2 533.5,72.2 534.0,72.9 534.5,72.8 535.0,73.9 535.5,75.7 536.0,75.3 536.5,75.7 537.0,78.5 537.5,77.5 538.0,77.4 538.5,81.1 539.0,84.0 539.5,84.6 540.0,81.9 540.5,80.9 541.0,82.7 541.5,84.5 542.0,85.1 542.5,85.1 543.0,84.5 543.5,84.6 544.0,83.6 544.5,84.8 545.0,86.3 545.5,84.4 546.0,83.6 546.5,80.4 547.0,79.0 547.5,79.1 548.0,77.2 548.5,75.4 549.0,77.4 549.5,77.1 550.0,75.7 550.5,75.2 551.0,73.0 551.5,71.0 552.0,72.8 552.5,72.4 553.0,72.4 553.5,71.8 554.0,71.6 554.5,74.2 555.0,74.4 555.5,71.8 556.0,70.7 556.5,72.4 557.0,72.5 557.5,70.9 558.0,70.7 558.5,70.3 559.0,71.5 559.5,72.8 560.0,73.5 560.5,74.9 561.0,75.7 561.5,76.3 562.0,76.9 562.5,78.4 563.0,80.0 563.5,78.9 564.0,82.3 564.5,80.7 565.0,82.1 565.5,82.0 566.0,81.4 566.5,82.8 567.0,85.7 567.5,84.4 568.0,83.1 568.5,89.8 569.0,83.7 569.5,84.7 570.0,84.4 570.5,85.2 571.0,85.7 571.5,87.1 572.0,85.8 572.5,83.3 573.0,81.4 573.5,84.7 574.0,89.9 574.5,83.3 575.0,82.2 575.5,77.4 576.0,82.9 576.5,74.4 577.0,72.5 577.5,74.6 578.0,77.6 578.5,77.4 579.0,68.8 579.5,69.9 580.0,73.0 580.5,71.7 581.0,67.6 581.5,72.3 582.0,72.9 582.5,70.9 583.0,71.5 583.5,74.0 584.0,73.3 584.5,77.3 585.0,75.7 585.5,73.2 586.0,75.1 586.5,79.5 587.0,73.0 587.5,80.2 588.0,81.8 588.5,80.8 589.0,81.4 589.5,83.1 590.0,80.2 590.5,82.0 591.0,84.9 591.5,86.2 592.0,85.6 592.5,90.4 593.0,89.5 593.5,88.7 594.0,94.1 594.5,91.7 595.0,93.6 595.5,89.7 596.0,87.6 596.5,91.3 597.0,92.4 597.5,82.0 598.0,88.4 598.5,91.8 599.0,90.4 599.5,89.9 600.0,86.1 600.5,86.0 601.0,82.1 601.5,81.3 602.0,79.2 602.5,82.6 603.0,78.9 603.5,82.7 604.0,84.8 604.5,86.4 605.0,80.0 605.5,81.9 606.0,79.9 606.5,80.9 607.0,77.1 607.5,78.4 608.0,81.8 608.5,89.2 609.0,86.2 609.5,85.1 610.0,85.8 610.5,85.4 611.0,85.0 611.5,94.2 612.0,88.5 612.5,87.4 613.0,86.3 613.5,82.9 614.0,90.3 614.5,90.8 615.0,84.1 615.5,84.3 616.0,84.5 616.5,83.2 617.0,83.2 617.5,89.2 618.0,85.4 618.5,84.2 619.0,86.1 619.5,85.1 620.0,88.8 620.5,84.0 621.0,85.2 621.5,89.5 622.0,86.8 622.5,86.2 623.0,89.7 623.5,89.5 624.0,90.9 624.5,86.2 625.0,92.4 625.5,92.0 626.0,94.0 626.5,96.9 627.0,88.1 627.5,90.6 628.0,90.1 628.5,89.8 629.0,94.4 629.5,95.1 630.0,101.7 630.5,96.8 631.0,96.8 631.5,91.2 632.0,88.3 632.5,94.2 633.0,91.5 633.5,99.1 634.0,101.8 634.5,94.4 635.0,94.8 635.5,96.0 636.0,90.4 636.5,96.7 637.0,99.2 637.5,96.5 638.0,96.1 638.5,93.4 639.0,93.7 639.5,97.8 640.0,95.9 640.5,96.1 641.0,95.2 641.5,90.5 642.0,93.2 642.5,90.4 643.0,93.6 643.5,93.6 644.0,95.5 644.5,95.6 645.0,94.1 645.5,98.3 646.0,101.3 646.5,97.8 647.0,101.9 647.5,102.2 648.0,98.8 648.5,101.6 649.0,99.4 649.5,98.6 650.0,102.1 650.5,99.0 651.0,100.9 651.5,101.0 652.0,100.8 652.5,98.7 653.0,103.6 653.5,99.8 654.0,104.7 654.5,105.3 655.0,104.3 655.5,100.2 656.0,97.0 656.5,92.6 657.0,94.3 657.5,95.1 658.0,98.3 658.5,92.6 659.0,96.2 659.5,96.0 660.0,90.4 660.5,91.7 661.0,86.8 661.5,79.3" fill="none" stroke="#3a5fbd" stroke-width="1.45" stroke-linejoin="round" clip-path="url(#d)"/>
<polyline points="374.5,72.6 375.0,73.1 375.5,77.2 376.0,75.7 376.5,78.8 377.0,78.2 377.5,77.6 378.0,76.8 378.5,76.2 379.0,78.9 379.5,76.1 380.0,77.8 380.5,80.0 381.0,79.6 381.5,77.3 382.0,78.3 382.5,75.2 383.0,73.9 383.5,76.0 384.0,75.0 384.5,71.5 385.0,72.6 385.5,74.5 386.0,75.0 386.5,72.5 387.0,70.1 387.5,67.5 388.0,70.2 388.5,71.3 389.0,71.9 389.5,72.7 390.0,69.5 390.5,70.3 391.0,71.6 391.5,70.2 392.0,72.9 392.5,74.2 393.0,75.2 393.5,75.5 394.0,74.8 394.5,75.6 395.0,75.4 395.5,76.5 396.0,75.8 396.5,75.4 397.0,79.2 397.5,78.4 398.0,78.1 398.5,76.5 399.0,75.8 399.5,77.9 400.0,78.0 400.5,79.6 401.0,76.5 401.5,77.4 402.0,76.3 402.5,75.2 403.0,74.1 403.5,77.4 404.0,76.3 404.5,76.7 405.0,74.4 405.5,74.6 406.0,77.4 406.5,74.2 407.0,74.9 407.5,76.9 408.0,77.3 408.5,74.8 409.0,74.7 409.5,74.5 410.0,78.6 410.5,77.4 411.0,77.0 411.5,77.5 412.0,76.2 412.5,75.2 413.0,73.8 413.5,79.6 414.0,78.9 414.5,76.4 415.0,77.8 415.5,78.5 416.0,76.3 416.5,75.5 417.0,76.1 417.5,75.9 418.0,75.6 418.5,76.4 419.0,75.7 419.5,74.3 420.0,74.9 420.5,73.3 421.0,74.8 421.5,77.3 422.0,75.3 422.5,72.9 423.0,74.2 423.5,73.7 424.0,73.0 424.5,72.1 425.0,74.7 425.5,72.3 426.0,74.6 426.5,76.9 427.0,75.5 427.5,76.0 428.0,75.4 428.5,77.3 429.0,74.7 429.5,74.8 430.0,78.0 430.5,80.8 431.0,77.4 431.5,78.5 432.0,81.6 432.5,80.6 433.0,81.6 433.5,83.7 434.0,86.0 434.5,86.4 435.0,87.2 435.5,89.0 436.0,89.7 436.5,86.8 437.0,87.5 437.5,85.9 438.0,82.6 438.5,80.8 439.0,83.9 439.5,82.2 440.0,82.0 440.5,78.3 441.0,78.0 441.5,77.4 442.0,74.1 442.5,74.1 443.0,75.8 443.5,76.0 444.0,75.5 444.5,74.2 445.0,73.8 445.5,71.7 446.0,72.8 446.5,72.4 447.0,69.7 447.5,71.4 448.0,71.9 448.5,73.6 449.0,71.0 449.5,73.9 450.0,76.2 450.5,76.1 451.0,77.2 451.5,78.4 452.0,78.8 452.5,81.0 453.0,84.0 453.5,86.0 454.0,85.5 454.5,82.7 455.0,83.4 455.5,83.4 456.0,82.1 456.5,82.0 457.0,82.0 457.5,82.0 458.0,82.9 458.5,81.9 459.0,81.0 459.5,81.0 460.0,81.5 460.5,79.5 461.0,77.6 461.5,78.5 462.0,76.3 462.5,72.9 463.0,73.8 463.5,73.5 464.0,73.2 464.5,73.8 465.0,72.0 465.5,69.5 466.0,72.7 466.5,71.9 467.0,72.4 467.5,75.1 468.0,74.8 468.5,76.3 469.0,78.4 469.5,80.5 470.0,80.1 470.5,79.5 471.0,81.7 471.5,80.2 472.0,82.6 472.5,81.2 473.0,80.6 473.5,81.2 474.0,83.8 474.5,82.3 475.0,79.6 475.5,78.2 476.0,78.9 476.5,79.5 477.0,77.1 477.5,78.6 478.0,77.4 478.5,78.8 479.0,77.7 479.5,72.6 480.0,75.6 480.5,78.9 481.0,76.0 481.5,75.0 482.0,74.1 482.5,73.7 483.0,71.6 483.5,72.1 484.0,72.6 484.5,73.3 485.0,71.4 485.5,70.3 486.0,73.2 486.5,71.6 487.0,71.2 487.5,69.7 488.0,70.3 488.5,71.9 489.0,72.5 489.5,69.7 490.0,70.2 490.5,69.8 491.0,72.0 491.5,71.1 492.0,68.2 492.5,68.0 493.0,69.0 493.5,68.7 494.0,69.8 494.5,72.5 495.0,72.2 495.5,71.1 496.0,68.8 496.5,69.0 497.0,68.0 497.5,69.2 498.0,71.0 498.5,69.6 499.0,68.5 499.5,69.1 500.0,71.8 500.5,70.6 501.0,70.6 501.5,71.2 502.0,71.8 502.5,68.4 503.0,70.9 503.5,72.3 504.0,72.6 504.5,72.5 505.0,73.7 505.5,74.4 506.0,75.2 506.5,73.5 507.0,74.5 507.5,74.6 508.0,75.7 508.5,75.4 509.0,74.8 509.5,75.6 510.0,74.7 510.5,76.8 511.0,77.5 511.5,75.9 512.0,75.7 512.5,78.2 513.0,81.7 513.5,81.0 514.0,77.5 514.5,76.4 515.0,77.8 515.5,76.7 516.0,76.7 516.5,75.6 517.0,74.0 517.5,76.3 518.0,73.8 518.5,73.9 519.0,71.0 519.5,70.2 520.0,70.4 520.5,70.0 521.0,70.7 521.5,71.9 522.0,71.9 522.5,71.2 523.0,70.1 523.5,69.3 524.0,71.5 524.5,72.9 525.0,71.8 525.5,71.3 526.0,72.7 526.5,73.9 527.0,76.1 527.5,75.4 528.0,72.3 528.5,72.7 529.0,74.6 529.5,72.9 530.0,75.6 530.5,74.0 531.0,75.5 531.5,76.1 532.0,77.1 532.5,75.6 533.0,75.3 533.5,75.3 534.0,75.3 534.5,74.6 535.0,76.8 535.5,76.5 536.0,79.6 536.5,77.4 537.0,76.0 537.5,76.7 538.0,78.2 538.5,77.1 539.0,81.3 539.5,81.1 540.0,77.0 540.5,78.5 541.0,79.6 541.5,82.1 542.0,81.0 542.5,82.2 543.0,80.3 543.5,80.9 544.0,86.3 544.5,84.8 545.0,83.2 545.5,81.3 546.0,82.9 546.5,83.9 547.0,84.2 547.5,85.9 548.0,89.6 548.5,86.5 549.0,85.2 549.5,84.3 550.0,84.5 550.5,86.6 551.0,88.8 551.5,87.9 552.0,84.4 552.5,84.2 553.0,85.6 553.5,86.4 554.0,82.5 554.5,80.9 555.0,83.1 555.5,82.5 556.0,83.7 556.5,83.4 557.0,83.5 557.5,84.2 558.0,85.9 558.5,82.9 559.0,82.8 559.5,84.2 560.0,85.1 560.5,86.1 561.0,84.3 561.5,84.7 562.0,84.6 562.5,88.2 563.0,86.3 563.5,88.1 564.0,92.0 564.5,93.2 565.0,93.1 565.5,94.5 566.0,93.8 566.5,93.0 567.0,94.9 567.5,96.3 568.0,95.0 568.5,93.3 569.0,94.5 569.5,94.5 570.0,96.6 570.5,96.0 571.0,96.2 571.5,96.5 572.0,96.5 572.5,96.9 573.0,97.0 573.5,93.7 574.0,93.5 574.5,98.1 575.0,96.4 575.5,97.8 576.0,95.6 576.5,94.4 577.0,93.5 577.5,92.6 578.0,91.3 578.5,88.6 579.0,87.8 579.5,91.8 580.0,89.0 580.5,87.6 581.0,86.4 581.5,86.7 582.0,86.3 582.5,87.5 583.0,87.6 583.5,84.8 584.0,84.8 584.5,85.6 585.0,86.0 585.5,87.3 586.0,88.0 586.5,87.0 587.0,85.6 587.5,87.0 588.0,85.1 588.5,86.3 589.0,86.2 589.5,87.8 590.0,86.1 590.5,84.1 591.0,84.4 591.5,84.8 592.0,83.4 592.5,84.9 593.0,85.1 593.5,82.7 594.0,82.5 594.5,83.9 595.0,83.6 595.5,84.4 596.0,84.6 596.5,83.1 597.0,83.4 597.5,81.3 598.0,82.4 598.5,81.7 599.0,80.5 599.5,81.0 600.0,83.9 600.5,85.3 601.0,81.7 601.5,82.3 602.0,80.2 602.5,81.9 603.0,85.2 603.5,81.9 604.0,81.8 604.5,81.7 605.0,81.4 605.5,83.8 606.0,83.7 606.5,83.1 607.0,80.7 607.5,81.0 608.0,81.9 608.5,81.4 609.0,81.5 609.5,79.5 610.0,79.2 610.5,81.9 611.0,81.4 611.5,79.2 612.0,80.1 612.5,77.7 613.0,75.3 613.5,78.3 614.0,80.1 614.5,79.7 615.0,79.2 615.5,78.7 616.0,81.6 616.5,81.5 617.0,81.8 617.5,82.3 618.0,82.8 618.5,83.6 619.0,83.6 619.5,83.2 620.0,83.4 620.5,82.4 621.0,83.9 621.5,84.8 622.0,87.0 622.5,84.7 623.0,83.6 623.5,82.2 624.0,83.1 624.5,83.8 625.0,83.8 625.5,80.5 626.0,80.1 626.5,80.2 627.0,81.7 627.5,81.6 628.0,79.0 628.5,79.1 629.0,77.4 629.5,79.4 630.0,79.1 630.5,79.5 631.0,76.4 631.5,79.0 632.0,77.9 632.5,75.9 633.0,74.8 633.5,75.6 634.0,75.2 634.5,75.5 635.0,77.0 635.5,76.7 636.0,77.3 636.5,75.9 637.0,77.0 637.5,76.6 638.0,75.0 638.5,73.8 639.0,74.3 639.5,75.4 640.0,76.9 640.5,76.9 641.0,77.2 641.5,78.8 642.0,79.8 642.5,78.4 643.0,81.1 643.5,81.0 644.0,83.0 644.5,82.8 645.0,84.2 645.5,84.0 646.0,85.1 646.5,86.4 647.0,85.4 647.5,85.1 648.0,84.6 648.5,83.4 649.0,85.1 649.5,85.8 650.0,83.2 650.5,83.3 651.0,81.6 651.5,80.9 652.0,80.4 652.5,77.3 653.0,76.9 653.5,76.9 654.0,77.3 654.5,74.6 655.0,75.4 655.5,75.7 656.0,75.1 656.5,74.1 657.0,74.6 657.5,70.2 658.0,69.6 658.5,70.5 659.0,70.8 659.5,72.5 660.0,72.6 660.5,69.8 661.0,71.4 661.5,70.8" fill="none" stroke="#3db57a" stroke-width="1.45" stroke-linejoin="round" clip-path="url(#d)"/>
<polyline points="374.5,83.8 375.0,83.6 375.5,82.5 376.0,82.6 376.5,83.6 377.0,84.4 377.5,83.4 378.0,79.9 378.5,81.2 379.0,81.8 379.5,86.6 380.0,86.3 380.5,84.6 381.0,82.6 381.5,81.6 382.0,79.5 382.5,86.9 383.0,87.1 383.5,84.6 384.0,84.0 384.5,86.9 385.0,84.7 385.5,85.3 386.0,84.4 386.5,85.4 387.0,84.8 387.5,89.2 388.0,88.2 388.5,86.0 389.0,88.3 389.5,91.0 390.0,87.4 390.5,85.1 391.0,85.0 391.5,93.1 392.0,88.6 392.5,91.1 393.0,90.1 393.5,88.8 394.0,91.4 394.5,95.3 395.0,90.1 395.5,95.5 396.0,100.9 396.5,97.6 397.0,96.7 397.5,94.9 398.0,102.0 398.5,104.2 399.0,105.4 399.5,104.7 400.0,103.4 400.5,101.1 401.0,100.5 401.5,103.8 402.0,104.6 402.5,104.4 403.0,102.5 403.5,102.7 404.0,106.2 404.5,99.1 405.0,99.9 405.5,100.6 406.0,103.2 406.5,98.4 407.0,101.0 407.5,96.2 408.0,96.9 408.5,100.6 409.0,96.7 409.5,97.1 410.0,101.4 410.5,99.0 411.0,98.1 411.5,95.9 412.0,99.0 412.5,94.7 413.0,99.8 413.5,96.9 414.0,97.4 414.5,99.2 415.0,99.1 415.5,96.6 416.0,97.2 416.5,96.4 417.0,94.1 417.5,93.9 418.0,98.8 418.5,98.0 419.0,97.2 419.5,97.7 420.0,95.5 420.5,95.0 421.0,97.9 421.5,95.5 422.0,95.3 422.5,95.2 423.0,93.4 423.5,94.3 424.0,92.6 424.5,92.5 425.0,92.0 425.5,92.1 426.0,90.5 426.5,90.9 427.0,90.6 427.5,89.3 428.0,90.1 428.5,91.8 429.0,90.3 429.5,89.5 430.0,89.1 430.5,89.2 431.0,90.1 431.5,90.9 432.0,89.6 432.5,89.5 433.0,91.6 433.5,91.1 434.0,90.9 434.5,91.5 435.0,90.4 435.5,91.2 436.0,92.4 436.5,91.9 437.0,92.3 437.5,93.8 438.0,93.3 438.5,93.4 439.0,94.7 439.5,94.7 440.0,95.4 440.5,95.5 441.0,96.3 441.5,93.5 442.0,95.4 442.5,94.4 443.0,95.0 443.5,94.0 444.0,93.6 444.5,92.8 445.0,91.3 445.5,90.6 446.0,89.0 446.5,90.3 447.0,88.6 447.5,87.4 448.0,87.6 448.5,87.8 449.0,86.9 449.5,87.7 450.0,87.1 450.5,87.0 451.0,86.9 451.5,87.6 452.0,85.9 452.5,85.1 453.0,88.0 453.5,86.1 454.0,86.3 454.5,86.3 455.0,86.2 455.5,85.1 456.0,85.8 456.5,86.0 457.0,86.6 457.5,86.3 458.0,87.0 458.5,85.5 459.0,85.5 459.5,86.3 460.0,87.0 460.5,87.2 461.0,87.8 461.5,87.5 462.0,88.4 462.5,88.0 463.0,88.6 463.5,89.5 464.0,89.3 464.5,89.9 465.0,90.6 465.5,90.8 466.0,93.6 466.5,95.2 467.0,97.1 467.5,98.7 468.0,99.0 468.5,100.2 469.0,101.5 469.5,102.0 470.0,105.0 470.5,107.5 471.0,106.2 471.5,104.9 472.0,102.3 472.5,102.0 473.0,100.1 473.5,98.3 474.0,96.4 474.5,95.6 475.0,94.2 475.5,93.3 476.0,94.0 476.5,91.6 477.0,88.8 477.5,88.9 478.0,87.8 478.5,88.7 479.0,86.0 479.5,86.4 480.0,86.0 480.5,87.0 481.0,86.5 481.5,84.6 482.0,83.1 482.5,84.2 483.0,83.7 483.5,84.6 484.0,83.8 484.5,83.8 485.0,85.6 485.5,85.5 486.0,85.2 486.5,85.8 487.0,86.0 487.5,85.8 488.0,89.4 488.5,87.7 489.0,87.9 489.5,89.6 490.0,89.3 490.5,90.9 491.0,90.6 491.5,92.0 492.0,92.3 492.5,95.0 493.0,97.6 493.5,97.5 494.0,99.4 494.5,101.6 495.0,103.6 495.5,104.4 496.0,106.0 496.5,106.4 497.0,106.6 497.5,103.4 498.0,101.4 498.5,99.6 499.0,98.3 499.5,97.4 500.0,95.5 500.5,95.4 501.0,92.9 501.5,93.2 502.0,90.5 502.5,90.3 503.0,88.7 503.5,89.5 504.0,87.7 504.5,87.2 505.0,88.1 505.5,87.2 506.0,86.2 506.5,85.8 507.0,87.2 507.5,86.7 508.0,87.3 508.5,86.8 509.0,86.9 509.5,85.2 510.0,84.6 510.5,87.4 511.0,85.5 511.5,88.0 512.0,87.4 512.5,86.9 513.0,87.6 513.5,86.8 514.0,87.7 514.5,88.1 515.0,89.0 515.5,89.8 516.0,88.7 516.5,89.6 517.0,91.4 517.5,90.0 518.0,89.6 518.5,90.0 519.0,90.4 519.5,90.6 520.0,92.7 520.5,94.3 521.0,93.9 521.5,93.2 522.0,94.2 522.5,95.3 523.0,95.5 523.5,96.8 524.0,96.9 524.5,99.3 525.0,100.3 525.5,101.5 526.0,102.0 526.5,103.6 527.0,105.1 527.5,108.2 528.0,104.9 528.5,109.7 529.0,104.6 529.5,104.2 530.0,105.5 530.5,102.5 531.0,104.3 531.5,103.3 532.0,101.4 532.5,102.0 533.0,103.5 533.5,104.1 534.0,105.9 534.5,101.0 535.0,96.6 535.5,98.6 536.0,95.4 536.5,97.9 537.0,95.2 537.5,96.8 538.0,95.1 538.5,95.6 539.0,94.0 539.5,96.8 540.0,89.5 540.5,94.4 541.0,94.1 541.5,92.9 542.0,92.6 542.5,91.9 543.0,90.1 543.5,88.2 544.0,91.9 544.5,91.6 545.0,91.5 545.5,89.2 546.0,91.5 546.5,91.3 547.0,92.0 547.5,89.3 548.0,86.5 548.5,88.9 549.0,90.6 549.5,88.8 550.0,90.8 550.5,89.4 551.0,90.5 551.5,91.2 552.0,90.1 552.5,91.8 553.0,92.8 553.5,91.9 554.0,92.3 554.5,92.4 555.0,93.3 555.5,94.3 556.0,93.0 556.5,93.8 557.0,95.8 557.5,95.9 558.0,97.1 558.5,96.9 559.0,96.6 559.5,96.4 560.0,97.7 560.5,97.3 561.0,98.9 561.5,100.5 562.0,99.1 562.5,98.8 563.0,99.0 563.5,100.4 564.0,100.6 564.5,102.1 565.0,102.9 565.5,101.9 566.0,102.4 566.5,102.1 567.0,103.8 567.5,104.3 568.0,103.0 568.5,102.7 569.0,102.2 569.5,103.6 570.0,103.9 570.5,102.0 571.0,102.3 571.5,103.1 572.0,102.1 572.5,99.8 573.0,99.4 573.5,98.2 574.0,98.5 574.5,96.4 575.0,96.6 575.5,96.2 576.0,96.1 576.5,92.4 577.0,94.0 577.5,91.3 578.0,90.3 578.5,91.2 579.0,90.9 579.5,90.1 580.0,90.3 580.5,89.6 581.0,89.2 581.5,88.5 582.0,88.9 582.5,89.4 583.0,90.4 583.5,91.1 584.0,89.5 584.5,89.5 585.0,89.3 585.5,90.9 586.0,90.1 586.5,92.2 587.0,90.5 587.5,90.9 588.0,91.4 588.5,91.5 589.0,91.0 589.5,91.9 590.0,92.1 590.5,92.1 591.0,92.9 591.5,93.3 592.0,92.0 592.5,93.6 593.0,94.7 593.5,93.9 594.0,95.6 594.5,96.2 595.0,92.6 595.5,96.0 596.0,98.5 596.5,97.9 597.0,99.8 597.5,100.3 598.0,97.0 598.5,100.6 599.0,99.3 599.5,97.1 600.0,103.5 600.5,101.3 601.0,103.3 601.5,104.8 602.0,105.5 602.5,102.7 603.0,101.9 603.5,101.8 604.0,105.4 604.5,102.4 605.0,106.7 605.5,105.4 606.0,100.0 606.5,105.5 607.0,100.1 607.5,100.9 608.0,100.4 608.5,97.4 609.0,99.3 609.5,100.5 610.0,104.4 610.5,102.0 611.0,97.4 611.5,99.0 612.0,101.0 612.5,98.5 613.0,96.8 613.5,97.9 614.0,96.2 614.5,99.8 615.0,98.5 615.5,103.0 616.0,99.9 616.5,98.1 617.0,103.8 617.5,102.0 618.0,101.2 618.5,104.0 619.0,102.2 619.5,101.1 620.0,102.3 620.5,107.3 621.0,108.2 621.5,103.6 622.0,105.9 622.5,101.6 623.0,107.5 623.5,104.1 624.0,105.6 624.5,103.6 625.0,104.0 625.5,100.1 626.0,104.8 626.5,102.7 627.0,104.1 627.5,107.4 628.0,96.9 628.5,104.6 629.0,103.1 629.5,102.5 630.0,103.2 630.5,100.5 631.0,96.7 631.5,98.4 632.0,97.7 632.5,91.7 633.0,96.9 633.5,96.4 634.0,91.7 634.5,93.1 635.0,91.7 635.5,90.4 636.0,89.4 636.5,91.1 637.0,87.5 637.5,90.9 638.0,86.5 638.5,88.6 639.0,88.5 639.5,82.0 640.0,85.8 640.5,85.9 641.0,85.8 641.5,85.2 642.0,87.4 642.5,87.1 643.0,84.4 643.5,86.3 644.0,83.7 644.5,84.7 645.0,82.8 645.5,80.9 646.0,82.1 646.5,86.4 647.0,84.9 647.5,82.8 648.0,85.7 648.5,81.6 649.0,81.5 649.5,80.7 650.0,83.5 650.5,85.4 651.0,89.2 651.5,83.9 652.0,85.6 652.5,86.1 653.0,87.6 653.5,84.8 654.0,84.7 654.5,88.5 655.0,84.8 655.5,88.1 656.0,86.9 656.5,87.8 657.0,88.4 657.5,84.2 658.0,91.6 658.5,85.7 659.0,86.7 659.5,89.4 660.0,82.9 660.5,86.3 661.0,89.3 661.5,89.2 662.0,90.5 662.5,94.1 663.0,100.2" fill="none" stroke="#e3a12f" stroke-width="1.45" stroke-linejoin="round" clip-path="url(#d)"/>
<polyline points="374.5,92.1 375.0,90.5 375.5,89.5 376.0,86.4 376.5,85.7 377.0,89.5 377.5,88.1 378.0,86.5 378.5,91.2 379.0,86.6 379.5,88.5 380.0,75.9 380.5,85.4 381.0,85.8 381.5,83.2 382.0,84.3 382.5,80.7 383.0,78.0 383.5,80.6 384.0,87.5 384.5,80.3 385.0,82.5 385.5,87.5 386.0,87.7 386.5,81.0 387.0,86.9 387.5,91.0 388.0,87.7 388.5,92.0 389.0,95.9 389.5,92.1 390.0,106.3 390.5,104.7 391.0,105.1 391.5,100.5 392.0,99.4 392.5,110.1 393.0,100.6 393.5,97.1 394.0,107.8 394.5,107.5 395.0,102.9 395.5,103.6 396.0,90.0 396.5,101.1 397.0,101.5 397.5,98.9 398.0,98.3 398.5,92.0 399.0,95.7 399.5,92.8 400.0,99.1 400.5,92.6 401.0,97.4 401.5,105.6 402.0,94.3 402.5,101.5 403.0,96.2 403.5,91.2 404.0,92.0 404.5,91.9 405.0,92.9 405.5,101.0 406.0,98.7 406.5,94.8 407.0,106.4 407.5,100.5 408.0,98.3 408.5,99.9 409.0,101.1 409.5,105.2 410.0,105.9 410.5,99.2 411.0,104.5 411.5,108.7 412.0,102.7 412.5,102.7 413.0,107.2 413.5,96.8 414.0,95.6 414.5,97.2 415.0,104.9 415.5,100.9 416.0,102.4 416.5,91.7 417.0,93.8 417.5,106.9 418.0,102.3 418.5,94.7 419.0,100.5 419.5,92.1 420.0,106.1 420.5,94.3 421.0,87.0 421.5,91.0 422.0,90.8 422.5,102.6 423.0,100.8 423.5,109.4 424.0,101.6 424.5,99.1 425.0,104.8 425.5,93.6 426.0,98.2 426.5,91.8 427.0,102.2 427.5,101.3 428.0,94.4 428.5,98.5 429.0,108.4 429.5,109.1 430.0,89.0 430.5,100.0 431.0,102.2 431.5,102.2 432.0,102.3 432.5,100.1 433.0,107.6 433.5,105.7 434.0,106.9 434.5,104.5 435.0,105.4 435.5,114.9 436.0,110.3 436.5,94.8 437.0,107.5 437.5,100.7 438.0,106.8 438.5,96.3 439.0,106.3 439.5,90.1 440.0,100.5 440.5,107.2 441.0,105.6 441.5,103.4 442.0,98.1 442.5,92.8 443.0,98.2 443.5,87.4 444.0,94.5 444.5,100.4 445.0,92.7 445.5,96.9 446.0,97.0 446.5,87.2 447.0,87.7 447.5,94.1 448.0,90.6 448.5,90.5 449.0,87.4 449.5,85.3 450.0,85.3 450.5,87.1 451.0,85.1 451.5,89.5 452.0,88.2 452.5,88.6 453.0,85.8 453.5,85.8 454.0,89.5 454.5,87.3 455.0,84.8 455.5,86.2 456.0,84.8 456.5,87.1 457.0,86.3 457.5,86.1 458.0,88.1 458.5,86.1 459.0,87.4 459.5,87.1 460.0,87.8 460.5,87.3 461.0,88.3 461.5,86.9 462.0,87.5 462.5,85.1 463.0,86.9 463.5,87.3 464.0,89.4 464.5,87.6 465.0,86.6 465.5,86.9 466.0,86.4 466.5,86.8 467.0,86.8 467.5,86.7 468.0,85.9 468.5,87.2 469.0,86.9 469.5,84.9 470.0,85.1 470.5,84.1 471.0,88.0 471.5,87.1 472.0,85.0 472.5,84.1 473.0,83.5 473.5,85.7 474.0,84.3 474.5,83.8 475.0,83.6 475.5,80.6 476.0,81.6 476.5,82.6 477.0,83.2 477.5,81.7 478.0,83.1 478.5,82.3 479.0,81.6 479.5,83.2 480.0,81.5 480.5,81.9 481.0,84.3 481.5,83.7 482.0,82.9 482.5,83.4 483.0,82.4 483.5,82.1 484.0,83.1 484.5,83.0 485.0,83.5 485.5,81.7 486.0,84.0 486.5,82.3 487.0,82.6 487.5,85.1 488.0,83.4 488.5,82.8 489.0,83.7 489.5,82.8 490.0,82.7 490.5,82.4 491.0,82.4 491.5,82.8 492.0,84.2 492.5,85.5 493.0,83.4 493.5,83.8 494.0,82.1 494.5,84.4 495.0,83.4 495.5,84.5 496.0,83.7 496.5,85.2 497.0,82.5 497.5,82.4 498.0,83.1 498.5,83.4 499.0,84.4 499.5,83.4 500.0,81.8 500.5,82.4 501.0,82.7 501.5,83.6 502.0,83.2 502.5,84.8 503.0,84.2 503.5,83.2 504.0,81.7 504.5,85.2 505.0,84.0 505.5,83.3 506.0,83.7 506.5,83.3 507.0,84.6 507.5,83.7 508.0,85.7 508.5,83.1 509.0,84.4 509.5,83.6 510.0,85.0 510.5,85.7 511.0,84.6 511.5,84.3 512.0,84.9 512.5,84.8 513.0,86.3 513.5,85.2 514.0,84.9 514.5,84.4 515.0,85.0 515.5,85.5 516.0,87.0 516.5,85.0 517.0,85.8 517.5,85.2 518.0,85.6 518.5,84.5 519.0,85.4 519.5,85.8 520.0,83.6 520.5,84.9 521.0,84.2 521.5,86.2 522.0,85.5 522.5,87.8 523.0,86.8 523.5,85.5 524.0,86.5 524.5,86.3 525.0,86.0 525.5,87.9 526.0,86.8 526.5,87.7 527.0,88.5 527.5,87.2 528.0,88.0 528.5,89.7 529.0,88.6 529.5,88.0 530.0,89.6 530.5,88.8 531.0,88.2 531.5,90.1 532.0,88.8 532.5,89.9 533.0,90.3 533.5,90.8 534.0,91.3 534.5,90.4 535.0,91.2 535.5,91.6 536.0,92.6 536.5,92.1 537.0,91.9 537.5,93.3 538.0,91.8 538.5,92.8 539.0,92.5 539.5,95.2 540.0,93.9 540.5,95.1 541.0,96.5 541.5,94.6 542.0,95.2 542.5,94.0 543.0,95.0 543.5,94.5 544.0,95.8 544.5,95.4 545.0,94.9 545.5,95.0 546.0,95.1 546.5,95.3 547.0,95.5 547.5,96.3 548.0,94.7 548.5,94.9 549.0,95.7 549.5,96.8 550.0,95.9 550.5,96.3 551.0,95.8 551.5,97.4 552.0,95.8 552.5,95.8 553.0,96.1 553.5,96.0 554.0,96.7 554.5,98.4 555.0,98.0 555.5,96.3 556.0,99.0 556.5,99.6 557.0,99.0 557.5,100.6 558.0,100.0 558.5,101.0 559.0,99.9 559.5,103.5 560.0,103.6 560.5,103.6 561.0,104.6 561.5,102.2 562.0,103.2 562.5,104.4 563.0,104.0 563.5,103.6 564.0,105.6 564.5,106.0 565.0,104.9 565.5,106.6 566.0,104.7 566.5,102.1 567.0,100.0 567.5,98.1 568.0,98.1 568.5,94.1 569.0,93.6 569.5,91.9 570.0,88.4 570.5,89.9 571.0,89.6 571.5,90.6 572.0,89.4 572.5,89.4 573.0,89.0 573.5,89.3 574.0,87.4 574.5,87.8 575.0,89.3 575.5,90.6 576.0,87.4 576.5,89.8 577.0,88.7 577.5,88.6 578.0,88.4 578.5,87.7 579.0,87.4 579.5,90.3 580.0,86.1 580.5,88.1 581.0,89.8 581.5,87.8 582.0,89.3 582.5,88.6 583.0,86.5 583.5,89.4 584.0,89.6 584.5,89.2 585.0,90.3 585.5,89.1 586.0,90.2 586.5,90.1 587.0,92.8 587.5,91.9 588.0,91.4 588.5,90.8 589.0,90.2 589.5,90.4 590.0,89.4 590.5,91.8 591.0,88.6 591.5,90.1 592.0,90.0 592.5,87.8 593.0,88.0 593.5,85.9 594.0,86.4 594.5,85.4 595.0,87.0 595.5,84.4 596.0,83.9 596.5,85.0 597.0,82.2 597.5,83.7 598.0,85.6 598.5,83.8 599.0,84.9 599.5,80.4 600.0,83.7 600.5,85.2 601.0,83.7 601.5,86.8 602.0,84.7 602.5,86.4 603.0,87.5 603.5,88.3 604.0,88.6 604.5,88.1 605.0,89.8 605.5,89.6 606.0,92.7 606.5,91.2 607.0,90.8 607.5,93.7 608.0,94.9 608.5,93.4 609.0,92.4 609.5,90.5 610.0,91.4 610.5,93.2 611.0,93.2 611.5,89.5 612.0,90.4 612.5,88.1 613.0,91.2 613.5,91.2 614.0,88.5 614.5,89.3 615.0,86.1 615.5,86.3 616.0,87.1 616.5,87.2 617.0,85.4 617.5,86.0 618.0,84.0 618.5,80.3 619.0,84.6 619.5,84.9 620.0,80.4 620.5,83.3 621.0,84.4 621.5,84.3 622.0,83.3 622.5,82.6 623.0,84.1 623.5,83.6 624.0,84.7 624.5,84.0 625.0,85.7 625.5,83.7 626.0,85.2 626.5,85.0 627.0,84.1 627.5,84.7 628.0,82.2 628.5,83.5 629.0,86.5 629.5,85.4 630.0,83.7 630.5,85.1 631.0,84.0 631.5,82.3 632.0,83.9 632.5,84.9 633.0,83.1 633.5,85.3 634.0,83.1 634.5,82.0 635.0,81.5 635.5,83.9 636.0,84.0 636.5,80.0 637.0,80.5 637.5,79.0 638.0,81.4 638.5,79.0 639.0,79.7 639.5,78.8 640.0,77.6 640.5,80.7 641.0,78.8 641.5,78.6 642.0,77.8 642.5,78.2 643.0,79.8 643.5,78.0 644.0,81.1 644.5,80.0 645.0,78.0 645.5,78.1 646.0,77.4 646.5,77.9 647.0,76.2 647.5,77.0 648.0,80.7 648.5,77.9 649.0,79.1 649.5,76.7 650.0,77.6 650.5,76.6 651.0,75.0 651.5,77.3 652.0,78.1 652.5,76.9 653.0,77.6 653.5,77.3 654.0,74.5 654.5,75.4 655.0,76.2 655.5,76.1 656.0,75.7 656.5,74.1 657.0,76.1 657.5,74.7 658.0,72.3 658.5,72.1 659.0,72.8 659.5,73.4 660.0,71.8 660.5,72.6 661.0,72.0 661.5,73.0" fill="none" stroke="#ede33a" stroke-width="1.45" stroke-linejoin="round" clip-path="url(#d)"/>
<rect x="365.5" y="29.4" width="306.80" height="77.80" fill="none" stroke="#262626" stroke-width="1.0"/>
<line x1="365.50" y1="107.20" x2="365.50" y2="111.60" stroke="#262626" stroke-width="1.0"/>
<text x="365.50" y="123.80" font-size="11.6" text-anchor="middle" >1500</text>
<line x1="396.18" y1="107.20" x2="396.18" y2="109.50" stroke="#262626" stroke-width="1.0"/>
<line x1="426.86" y1="107.20" x2="426.86" y2="111.60" stroke="#262626" stroke-width="1.0"/>
<text x="426.86" y="123.80" font-size="11.6" text-anchor="middle" >1520</text>
<line x1="457.54" y1="107.20" x2="457.54" y2="109.50" stroke="#262626" stroke-width="1.0"/>
<line x1="488.22" y1="107.20" x2="488.22" y2="111.60" stroke="#262626" stroke-width="1.0"/>
<text x="488.22" y="123.80" font-size="11.6" text-anchor="middle" >1540</text>
<line x1="518.90" y1="107.20" x2="518.90" y2="109.50" stroke="#262626" stroke-width="1.0"/>
<line x1="549.58" y1="107.20" x2="549.58" y2="111.60" stroke="#262626" stroke-width="1.0"/>
<text x="549.58" y="123.80" font-size="11.6" text-anchor="middle" >1560</text>
<line x1="580.26" y1="107.20" x2="580.26" y2="109.50" stroke="#262626" stroke-width="1.0"/>
<line x1="610.94" y1="107.20" x2="610.94" y2="111.60" stroke="#262626" stroke-width="1.0"/>
<text x="610.94" y="123.80" font-size="11.6" text-anchor="middle" >1580</text>
<line x1="641.62" y1="107.20" x2="641.62" y2="109.50" stroke="#262626" stroke-width="1.0"/>
<line x1="672.30" y1="107.20" x2="672.30" y2="111.60" stroke="#262626" stroke-width="1.0"/>
<text x="672.30" y="123.80" font-size="11.6" text-anchor="middle" >1600</text>
<line x1="365.50" y1="37.18" x2="361.10" y2="37.18" stroke="#262626" stroke-width="1.0"/>
<text x="358.20" y="41.38" font-size="11.6" text-anchor="end" >0</text>
<line x1="365.50" y1="52.74" x2="361.10" y2="52.74" stroke="#262626" stroke-width="1.0"/>
<text x="358.20" y="56.94" font-size="11.6" text-anchor="end" >-10</text>
<line x1="365.50" y1="68.30" x2="361.10" y2="68.30" stroke="#262626" stroke-width="1.0"/>
<text x="358.20" y="72.50" font-size="11.6" text-anchor="end" >-20</text>
<line x1="365.50" y1="83.86" x2="361.10" y2="83.86" stroke="#262626" stroke-width="1.0"/>
<text x="358.20" y="88.06" font-size="11.6" text-anchor="end" >-30</text>
<line x1="365.50" y1="99.42" x2="361.10" y2="99.42" stroke="#262626" stroke-width="1.0"/>
<text x="358.20" y="103.62" font-size="11.6" text-anchor="end" >-40</text>
<text x="327.40" y="63.80" font-size="11.7" text-anchor="middle" transform="rotate(-90 327.40 63.80)" >Transmission (dB)</text>
<text x="606.20" y="60.40" font-size="14.2">I<tspan font-size="9.2" dy="3.0">1</tspan><tspan dy="-3.0" dx="2.7">input</tspan></text>
<rect x="456.3" y="142.5" width="106.3" height="77.80" fill="url(#shade)"/>
<polyline points="374.5,177.6 375.0,175.6 375.5,175.3 376.0,175.0 376.5,174.8 377.0,174.7 377.5,176.2 378.0,174.4 378.5,174.1 379.0,173.2 379.5,173.2 380.0,172.8 380.5,174.9 381.0,173.9 381.5,173.0 382.0,172.3 382.5,173.5 383.0,173.6 383.5,171.7 384.0,173.1 384.5,173.2 385.0,172.3 385.5,171.3 386.0,172.5 386.5,173.8 387.0,174.2 387.5,171.9 388.0,170.6 388.5,172.0 389.0,173.5 389.5,171.3 390.0,172.3 390.5,175.6 391.0,174.1 391.5,173.6 392.0,172.3 392.5,171.8 393.0,171.1 393.5,173.4 394.0,174.7 394.5,173.6 395.0,173.4 395.5,174.1 396.0,173.7 396.5,172.9 397.0,174.1 397.5,174.7 398.0,174.5 398.5,173.6 399.0,174.2 399.5,176.3 400.0,177.5 400.5,178.0 401.0,176.7 401.5,175.1 402.0,178.7 402.5,179.9 403.0,178.5 403.5,177.0 404.0,178.6 404.5,179.6 405.0,177.6 405.5,175.9 406.0,178.3 406.5,176.2 407.0,178.3 407.5,175.9 408.0,176.7 408.5,175.9 409.0,176.4 409.5,176.8 410.0,176.6 410.5,175.2 411.0,173.1 411.5,173.9 412.0,175.9 412.5,174.5 413.0,175.8 413.5,174.0 414.0,172.3 414.5,173.8 415.0,172.3 415.5,171.5 416.0,173.8 416.5,173.4 417.0,173.1 417.5,173.2 418.0,174.1 418.5,173.5 419.0,173.2 419.5,174.6 420.0,172.5 420.5,173.7 421.0,174.2 421.5,172.8 422.0,173.9 422.5,172.8 423.0,173.4 423.5,175.2 424.0,175.7 424.5,175.9 425.0,176.2 425.5,176.7 426.0,176.2 426.5,172.7 427.0,173.9 427.5,174.8 428.0,178.1 428.5,176.9 429.0,176.1 429.5,175.7 430.0,175.7 430.5,175.2 431.0,177.5 431.5,178.6 432.0,176.1 432.5,176.3 433.0,176.7 433.5,179.3 434.0,178.6 434.5,177.9 435.0,176.0 435.5,178.6 436.0,177.7 436.5,179.2 437.0,179.0 437.5,178.6 438.0,178.5 438.5,177.5 439.0,177.4 439.5,177.6 440.0,178.8 440.5,180.1 441.0,177.4 441.5,176.4 442.0,179.5 442.5,180.2 443.0,177.7 443.5,177.5 444.0,179.5 444.5,178.8 445.0,177.7 445.5,179.6 446.0,177.9 446.5,178.6 447.0,178.8 447.5,178.8 448.0,178.9 448.5,178.8 449.0,181.9 449.5,181.4 450.0,178.9 450.5,178.0 451.0,180.5 451.5,180.3 452.0,178.3 452.5,179.0 453.0,179.1 453.5,179.5 454.0,179.4 454.5,182.0 455.0,180.3 455.5,181.0 456.0,179.8 456.5,179.9 457.0,179.7 457.5,180.8 458.0,180.1 458.5,180.4 459.0,179.1 459.5,180.1 460.0,180.7 460.5,179.5 461.0,180.1 461.5,179.3 462.0,179.9 462.5,178.0 463.0,178.4 463.5,177.7 464.0,178.8 464.5,180.7 465.0,177.1 465.5,178.8 466.0,179.7 466.5,181.2 467.0,180.6 467.5,181.1 468.0,178.6 468.5,177.8 469.0,177.5 469.5,176.6 470.0,177.8 470.5,177.8 471.0,177.3 471.5,177.3 472.0,178.3 472.5,179.2 473.0,179.6 473.5,177.5 474.0,178.3 474.5,179.1 475.0,178.5 475.5,180.9 476.0,181.3 476.5,179.0 477.0,177.0 477.5,178.7 478.0,181.7 478.5,184.0 479.0,181.2 479.5,182.4 480.0,183.1 480.5,182.1 481.0,181.6 481.5,183.0 482.0,182.9 482.5,181.9 483.0,181.5 483.5,182.7 484.0,182.6 484.5,183.7 485.0,181.2 485.5,182.3 486.0,184.2 486.5,184.7 487.0,182.6 487.5,183.3 488.0,183.1 488.5,185.2 489.0,184.6 489.5,184.2 490.0,184.9 490.5,189.7 491.0,192.0 491.5,195.1 492.0,193.4 492.5,190.6 493.0,191.5 493.5,190.1 494.0,190.3 494.5,188.9 495.0,186.9 495.5,185.1 496.0,183.5 496.5,184.6 497.0,181.6 497.5,181.0 498.0,182.0 498.5,181.1 499.0,182.8 499.5,181.2 500.0,180.1 500.5,177.8 501.0,178.7 501.5,179.9 502.0,179.0 502.5,177.0 503.0,177.6 503.5,178.3 504.0,179.5 504.5,179.1 505.0,178.3 505.5,177.5 506.0,178.4 506.5,178.7 507.0,180.3 507.5,180.7 508.0,181.6 508.5,177.8 509.0,177.4 509.5,180.9 510.0,181.7 510.5,180.5 511.0,180.1 511.5,179.5 512.0,180.2 512.5,182.0 513.0,182.2 513.5,182.7 514.0,182.7 514.5,183.2 515.0,182.2 515.5,182.6 516.0,178.6 516.5,180.2 517.0,181.7 517.5,184.0 518.0,184.6 518.5,183.6 519.0,182.4 519.5,184.3 520.0,180.4 520.5,182.8 521.0,185.0 521.5,186.3 522.0,188.4 522.5,189.6 523.0,188.4 523.5,188.1 524.0,187.1 524.5,187.0 525.0,186.3 525.5,185.1 526.0,183.6 526.5,183.7 527.0,183.5 527.5,179.3 528.0,181.4 528.5,183.3 529.0,180.6 529.5,181.3 530.0,180.8 530.5,182.1 531.0,181.5 531.5,180.9 532.0,180.8 532.5,179.6 533.0,180.1 533.5,179.3 534.0,180.5 534.5,181.8 535.0,181.5 535.5,182.5 536.0,181.6 536.5,185.6 537.0,187.0 537.5,184.0 538.0,186.3 538.5,189.0 539.0,190.1 539.5,192.9 540.0,192.3 540.5,192.8 541.0,194.9 541.5,192.9 542.0,192.0 542.5,189.3 543.0,186.9 543.5,185.1 544.0,182.8 544.5,181.7 545.0,179.2 545.5,179.4 546.0,179.7 546.5,178.6 547.0,178.1 547.5,177.2 548.0,176.4 548.5,177.5 549.0,178.5 549.5,176.9 550.0,175.3 550.5,175.7 551.0,174.5 551.5,175.2 552.0,175.2 552.5,174.9 553.0,175.4 553.5,175.3 554.0,174.6 554.5,176.4 555.0,176.0 555.5,176.5 556.0,175.9 556.5,174.9 557.0,175.3 557.5,177.1 558.0,177.3 558.5,177.9 559.0,177.1 559.5,178.7 560.0,177.2 560.5,175.5 561.0,176.1 561.5,178.7 562.0,177.8 562.5,179.5 563.0,180.3 563.5,181.2 564.0,180.6 564.5,181.3 565.0,181.4 565.5,179.7 566.0,179.9 566.5,184.1 567.0,183.7 567.5,183.1 568.0,185.9 568.5,186.8 569.0,187.9 569.5,187.9 570.0,189.5 570.5,193.5 571.0,194.2 571.5,194.3 572.0,196.7 572.5,197.2 573.0,198.8 573.5,197.0 574.0,195.6 574.5,191.5 575.0,192.4 575.5,192.1 576.0,187.3 576.5,184.1 577.0,183.8 577.5,183.2 578.0,182.7 578.5,183.3 579.0,180.1 579.5,181.1 580.0,178.7 580.5,178.4 581.0,176.3 581.5,177.5 582.0,178.4 582.5,176.9 583.0,177.0 583.5,176.8 584.0,177.1 584.5,176.4 585.0,174.6 585.5,174.6 586.0,175.0 586.5,176.1 587.0,174.9 587.5,177.0 588.0,177.6 588.5,178.9 589.0,177.1 589.5,177.3 590.0,178.4 590.5,179.2 591.0,181.9 591.5,179.6 592.0,177.2 592.5,179.1 593.0,182.2 593.5,182.4 594.0,185.1 594.5,186.6 595.0,184.5 595.5,185.1 596.0,184.4 596.5,184.0 597.0,183.7 597.5,182.7 598.0,183.0 598.5,179.5 599.0,177.8 599.5,179.0 600.0,178.8 600.5,178.5 601.0,178.1 601.5,178.9 602.0,178.0 602.5,177.2 603.0,176.5 603.5,177.5 604.0,177.8 604.5,179.3 605.0,180.2 605.5,180.5 606.0,179.4 606.5,179.5 607.0,179.2 607.5,180.5 608.0,183.2 608.5,184.7 609.0,186.0 609.5,188.3 610.0,191.1 610.5,191.7 611.0,193.4 611.5,195.6 612.0,196.6 612.5,197.1 613.0,197.5 613.5,194.8 614.0,197.4 614.5,196.2 615.0,194.0 615.5,192.4 616.0,190.1 616.5,188.0 617.0,187.4 617.5,187.5 618.0,188.6 618.5,189.6 619.0,189.1 619.5,187.6 620.0,188.7 620.5,189.3 621.0,191.0 621.5,190.2 622.0,188.5 622.5,191.0 623.0,192.9 623.5,191.6 624.0,191.7 624.5,191.7 625.0,191.3 625.5,192.1 626.0,192.4 626.5,192.8 627.0,193.3 627.5,191.3 628.0,192.6 628.5,192.1 629.0,191.2 629.5,191.4 630.0,192.3 630.5,191.5 631.0,191.7 631.5,190.0 632.0,190.6 632.5,190.9 633.0,191.4 633.5,190.3 634.0,189.5 634.5,190.9 635.0,189.3 635.5,191.5 636.0,190.3 636.5,189.7 637.0,190.9 637.5,192.7 638.0,191.4 638.5,192.0 639.0,190.9 639.5,192.5 640.0,194.1 640.5,194.0 641.0,194.1 641.5,195.2 642.0,195.4 642.5,195.1 643.0,194.4 643.5,193.5 644.0,193.3 644.5,193.8 645.0,193.7 645.5,193.2 646.0,192.3 646.5,190.2 647.0,191.1 647.5,190.7 648.0,189.3 648.5,190.1 649.0,189.4 649.5,190.2 650.0,189.9 650.5,189.7 651.0,190.6 651.5,190.5 652.0,190.9 652.5,191.3 653.0,191.8 653.5,192.0 654.0,190.4 654.5,189.2 655.0,189.7 655.5,192.4 656.0,192.1 656.5,189.9 657.0,192.1 657.5,194.9 658.0,196.1 658.5,197.3 659.0,200.0 659.5,202.7 660.0,203.8 660.5,203.6 661.0,204.4 661.5,209.6 662.0,208.1 662.5,206.5 663.0,203.2" fill="none" stroke="#32309a" stroke-width="1.45" stroke-linejoin="round" clip-path="url(#e)"/>
<polyline points="374.5,155.9 375.0,155.9 375.5,156.6 376.0,156.9 376.5,155.8 377.0,155.9 377.5,155.7 378.0,156.3 378.5,155.4 379.0,156.0 379.5,157.1 380.0,156.4 380.5,155.7 381.0,155.2 381.5,155.3 382.0,156.6 382.5,156.3 383.0,154.7 383.5,155.9 384.0,156.1 384.5,155.2 385.0,155.9 385.5,156.2 386.0,155.5 386.5,155.5 387.0,155.9 387.5,155.5 388.0,154.7 388.5,154.9 389.0,155.3 389.5,156.0 390.0,154.8 390.5,154.9 391.0,155.2 391.5,155.2 392.0,155.2 392.5,155.5 393.0,155.5 393.5,155.6 394.0,155.2 394.5,154.7 395.0,155.2 395.5,155.5 396.0,155.2 396.5,155.2 397.0,155.8 397.5,156.3 398.0,155.2 398.5,155.3 399.0,155.4 399.5,155.0 400.0,154.6 400.5,154.2 401.0,155.3 401.5,155.2 402.0,154.6 402.5,154.6 403.0,154.5 403.5,155.5 404.0,155.3 404.5,154.3 405.0,154.2 405.5,154.7 406.0,155.5 406.5,155.4 407.0,154.8 407.5,155.1 408.0,154.7 408.5,154.9 409.0,154.4 409.5,154.4 410.0,154.5 410.5,155.0 411.0,154.9 411.5,154.7 412.0,154.7 412.5,153.8 413.0,154.3 413.5,155.0 414.0,155.7 414.5,154.4 415.0,154.3 415.5,154.2 416.0,154.5 416.5,154.1 417.0,154.7 417.5,154.3 418.0,154.3 418.5,154.8 419.0,154.5 419.5,153.7 420.0,154.2 420.5,154.6 421.0,154.5 421.5,153.5 422.0,154.1 422.5,154.2 423.0,154.3 423.5,154.2 424.0,154.8 424.5,154.0 425.0,153.8 425.5,154.4 426.0,154.2 426.5,153.4 427.0,153.3 427.5,153.7 428.0,154.2 428.5,154.4 429.0,154.3 429.5,154.0 430.0,154.0 430.5,153.8 431.0,154.1 431.5,154.8 432.0,154.7 432.5,154.3 433.0,153.5 433.5,153.7 434.0,154.3 434.5,153.9 435.0,154.6 435.5,154.4 436.0,153.4 436.5,153.8 437.0,153.9 437.5,154.3 438.0,154.4 438.5,153.8 439.0,154.0 439.5,153.9 440.0,154.3 440.5,153.6 441.0,154.0 441.5,154.5 442.0,153.4 442.5,154.3 443.0,154.6 443.5,154.6 444.0,154.5 444.5,154.9 445.0,155.0 445.5,154.6 446.0,154.6 446.5,155.3 447.0,155.2 447.5,155.1 448.0,155.0 448.5,154.8 449.0,155.3 449.5,154.7 450.0,155.5 450.5,155.3 451.0,155.6 451.5,155.6 452.0,155.5 452.5,156.6 453.0,155.6 453.5,155.1 454.0,155.8 454.5,156.3 455.0,156.3 455.5,156.9 456.0,156.6 456.5,156.3 457.0,157.3 457.5,157.4 458.0,157.0 458.5,156.6 459.0,157.3 459.5,156.8 460.0,156.7 460.5,157.4 461.0,157.1 461.5,157.1 462.0,155.8 462.5,156.0 463.0,156.7 463.5,157.3 464.0,156.1 464.5,157.3 465.0,156.3 465.5,156.4 466.0,156.6 466.5,156.2 467.0,156.5 467.5,156.0 468.0,154.9 468.5,156.2 469.0,155.9 469.5,156.4 470.0,156.1 470.5,155.8 471.0,154.6 471.5,155.3 472.0,155.4 472.5,155.6 473.0,155.5 473.5,155.4 474.0,154.8 474.5,155.5 475.0,155.7 475.5,154.9 476.0,155.1 476.5,155.0 477.0,154.8 477.5,155.3 478.0,155.8 478.5,155.7 479.0,155.5 479.5,155.5 480.0,155.9 480.5,155.7 481.0,157.5 481.5,156.7 482.0,156.7 482.5,156.0 483.0,156.3 483.5,156.3 484.0,156.7 484.5,156.6 485.0,157.0 485.5,157.1 486.0,156.7 486.5,156.6 487.0,157.0 487.5,157.6 488.0,157.5 488.5,156.9 489.0,156.7 489.5,156.7 490.0,157.8 490.5,157.3 491.0,157.2 491.5,156.3 492.0,156.4 492.5,156.8 493.0,156.7 493.5,156.8 494.0,156.4 494.5,156.3 495.0,156.8 495.5,155.7 496.0,155.0 496.5,155.2 497.0,157.1 497.5,156.6 498.0,155.8 498.5,156.1 499.0,155.6 499.5,155.1 500.0,156.0 500.5,155.6 501.0,155.7 501.5,155.9 502.0,155.9 502.5,156.0 503.0,155.9 503.5,155.5 504.0,155.5 504.5,155.0 505.0,155.3 505.5,155.7 506.0,155.6 506.5,156.1 507.0,156.5 507.5,155.3 508.0,155.6 508.5,155.9 509.0,156.3 509.5,156.2 510.0,156.0 510.5,156.5 511.0,156.7 511.5,156.5 512.0,157.0 512.5,157.6 513.0,156.4 513.5,156.0 514.0,157.1 514.5,156.8 515.0,157.5 515.5,157.0 516.0,157.5 516.5,157.5 517.0,158.3 517.5,157.8 518.0,158.1 518.5,157.8 519.0,157.3 519.5,157.5 520.0,157.9 520.5,157.3 521.0,157.6 521.5,158.1 522.0,158.3 522.5,158.5 523.0,157.8 523.5,158.1 524.0,156.8 524.5,157.7 525.0,157.3 525.5,157.2 526.0,157.5 526.5,158.1 527.0,157.5 527.5,157.4 528.0,156.8 528.5,156.3 529.0,156.1 529.5,157.1 530.0,156.9 530.5,156.9 531.0,156.2 531.5,155.4 532.0,155.5 532.5,155.8 533.0,156.3 533.5,156.1 534.0,155.2 534.5,156.1 535.0,156.3 535.5,156.5 536.0,156.3 536.5,155.0 537.0,155.7 537.5,156.2 538.0,155.7 538.5,155.5 539.0,155.3 539.5,155.7 540.0,156.8 540.5,156.5 541.0,156.0 541.5,155.6 542.0,155.8 542.5,155.7 543.0,155.9 543.5,156.8 544.0,156.4 544.5,155.6 545.0,155.9 545.5,155.4 546.0,155.7 546.5,156.3 547.0,156.9 547.5,157.3 548.0,157.2 548.5,157.0 549.0,157.0 549.5,155.7 550.0,156.8 550.5,156.8 551.0,156.9 551.5,157.5 552.0,157.1 552.5,156.3 553.0,156.9 553.5,157.2 554.0,156.5 554.5,156.9 555.0,157.2 555.5,156.9 556.0,156.5 556.5,155.9 557.0,155.7 557.5,155.6 558.0,156.4 558.5,156.6 559.0,155.9 559.5,155.4 560.0,155.8 560.5,155.6 561.0,155.4 561.5,156.2 562.0,156.5 562.5,156.0 563.0,155.2 563.5,155.7 564.0,156.1 564.5,156.7 565.0,156.8 565.5,156.0 566.0,155.7 566.5,156.1 567.0,156.4 567.5,156.5 568.0,156.1 568.5,156.5 569.0,156.7 569.5,156.7 570.0,156.3 570.5,156.7 571.0,156.2 571.5,156.7 572.0,156.2 572.5,155.7 573.0,156.3 573.5,156.2 574.0,156.6 574.5,157.1 575.0,155.9 575.5,156.2 576.0,155.8 576.5,156.6 577.0,157.3 577.5,156.7 578.0,156.9 578.5,156.6 579.0,156.3 579.5,155.9 580.0,156.9 580.5,156.9 581.0,156.9 581.5,156.9 582.0,156.5 582.5,157.3 583.0,157.7 583.5,157.3 584.0,157.5 584.5,157.1 585.0,156.5 585.5,156.3 586.0,156.2 586.5,157.0 587.0,157.3 587.5,156.5 588.0,156.9 588.5,156.5 589.0,156.6 589.5,156.9 590.0,157.2 590.5,156.4 591.0,155.9 591.5,156.6 592.0,156.9 592.5,157.4 593.0,156.6 593.5,156.5 594.0,156.3 594.5,156.5 595.0,157.0 595.5,157.0 596.0,155.8 596.5,155.8 597.0,156.9 597.5,156.8 598.0,156.8 598.5,156.7 599.0,156.6 599.5,157.2 600.0,156.1 600.5,157.2 601.0,157.3 601.5,157.4 602.0,157.0 602.5,157.1 603.0,156.4 603.5,156.1 604.0,156.8 604.5,155.9 605.0,156.4 605.5,156.2 606.0,156.8 606.5,157.1 607.0,156.5 607.5,156.7 608.0,156.0 608.5,156.9 609.0,156.8 609.5,156.9 610.0,156.7 610.5,156.5 611.0,156.5 611.5,156.7 612.0,157.0 612.5,157.2 613.0,156.5 613.5,156.5 614.0,156.5 614.5,156.1 615.0,156.7 615.5,156.5 616.0,156.8 616.5,157.5 617.0,156.8 617.5,156.4 618.0,156.3 618.5,156.6 619.0,156.8 619.5,155.7 620.0,156.1 620.5,156.2 621.0,155.4 621.5,155.5 622.0,155.9 622.5,155.4 623.0,155.6 623.5,155.3 624.0,155.3 624.5,155.4 625.0,155.5 625.5,155.1 626.0,153.8 626.5,154.3 627.0,155.5 627.5,155.5 628.0,154.6 628.5,153.5 629.0,153.8 629.5,154.2 630.0,154.2 630.5,155.2 631.0,154.7 631.5,154.3 632.0,153.6 632.5,154.2 633.0,154.0 633.5,153.5 634.0,154.2 634.5,154.4 635.0,154.5 635.5,154.4 636.0,154.2 636.5,154.6 637.0,154.3 637.5,154.9 638.0,154.2 638.5,153.5 639.0,153.5 639.5,153.1 640.0,153.5 640.5,153.6 641.0,153.9 641.5,153.0 642.0,153.8 642.5,154.8 643.0,154.1 643.5,153.9 644.0,153.4 644.5,153.7 645.0,153.1 645.5,153.4 646.0,153.8 646.5,153.1 647.0,153.1 647.5,153.4 648.0,153.5 648.5,154.1 649.0,154.4 649.5,153.9 650.0,154.1 650.5,153.4 651.0,153.2 651.5,153.2 652.0,153.3 652.5,153.5 653.0,153.2 653.5,153.2 654.0,153.9 654.5,153.4 655.0,153.3 655.5,152.8 656.0,152.7 656.5,153.3 657.0,153.7 657.5,153.2 658.0,152.9 658.5,153.1 659.0,152.9 659.5,153.2 660.0,153.1 660.5,153.1 661.0,152.9 661.5,153.0 662.0,153.1" fill="none" stroke="#3a5fbd" stroke-width="1.75" stroke-linejoin="round" clip-path="url(#e)"/>
<polyline points="374.5,184.0 375.0,182.4 375.5,184.6 376.0,182.6 376.5,182.9 377.0,184.8 377.5,183.5 378.0,184.1 378.5,183.3 379.0,185.6 379.5,185.2 380.0,185.0 380.5,182.9 381.0,184.1 381.5,185.1 382.0,183.8 382.5,183.3 383.0,184.5 383.5,184.9 384.0,185.0 384.5,182.0 385.0,184.8 385.5,184.4 386.0,185.0 386.5,184.3 387.0,186.3 387.5,185.7 388.0,185.1 388.5,184.6 389.0,185.9 389.5,185.1 390.0,184.2 390.5,183.1 391.0,182.2 391.5,183.9 392.0,183.9 392.5,185.9 393.0,185.6 393.5,182.3 394.0,183.3 394.5,183.6 395.0,185.4 395.5,184.1 396.0,182.5 396.5,183.1 397.0,184.6 397.5,184.3 398.0,183.8 398.5,183.4 399.0,182.4 399.5,184.5 400.0,182.9 400.5,183.1 401.0,182.7 401.5,182.3 402.0,182.5 402.5,185.9 403.0,183.9 403.5,182.7 404.0,184.7 404.5,185.0 405.0,184.9 405.5,184.5 406.0,183.5 406.5,185.4 407.0,186.6 407.5,185.2 408.0,182.9 408.5,184.1 409.0,183.8 409.5,184.2 410.0,185.3 410.5,185.1 411.0,186.1 411.5,182.4 412.0,183.5 412.5,187.3 413.0,186.3 413.5,183.2 414.0,183.1 414.5,182.2 415.0,183.3 415.5,184.7 416.0,181.8 416.5,183.6 417.0,183.1 417.5,183.4 418.0,182.7 418.5,180.4 419.0,180.2 419.5,182.5 420.0,182.6 420.5,180.9 421.0,181.6 421.5,181.3 422.0,178.8 422.5,179.1 423.0,181.7 423.5,180.2 424.0,179.8 424.5,178.9 425.0,181.3 425.5,180.4 426.0,180.2 426.5,180.2 427.0,182.5 427.5,180.8 428.0,181.1 428.5,180.3 429.0,180.6 429.5,181.4 430.0,181.3 430.5,180.7 431.0,182.6 431.5,183.5 432.0,183.6 432.5,183.2 433.0,182.0 433.5,181.2 434.0,181.7 434.5,183.9 435.0,184.3 435.5,183.5 436.0,183.6 436.5,184.3 437.0,183.6 437.5,183.1 438.0,183.6 438.5,180.8 439.0,183.5 439.5,183.3 440.0,184.1 440.5,183.2 441.0,180.7 441.5,181.4 442.0,182.6 442.5,181.1 443.0,183.6 443.5,183.4 444.0,182.1 444.5,182.8 445.0,182.6 445.5,182.1 446.0,183.4 446.5,180.3 447.0,181.5 447.5,183.0 448.0,181.8 448.5,181.7 449.0,180.6 449.5,181.7 450.0,182.7 450.5,181.0 451.0,180.9 451.5,179.4 452.0,180.7 452.5,182.1 453.0,182.8 453.5,181.4 454.0,179.4 454.5,179.5 455.0,181.9 455.5,182.7 456.0,182.7 456.5,182.6 457.0,183.5 457.5,183.5 458.0,183.5 458.5,184.2 459.0,183.1 459.5,181.8 460.0,182.0 460.5,183.3 461.0,184.2 461.5,185.7 462.0,185.5 462.5,183.1 463.0,183.8 463.5,184.7 464.0,183.5 464.5,184.4 465.0,183.6 465.5,183.4 466.0,184.3 466.5,185.1 467.0,186.9 467.5,186.2 468.0,185.0 468.5,183.7 469.0,183.0 469.5,184.8 470.0,186.5 470.5,184.4 471.0,184.0 471.5,184.3 472.0,185.1 472.5,185.5 473.0,183.0 473.5,182.8 474.0,183.6 474.5,184.4 475.0,183.8 475.5,185.0 476.0,184.3 476.5,185.1 477.0,184.1 477.5,183.5 478.0,182.4 478.5,184.1 479.0,182.4 479.5,185.3 480.0,183.0 480.5,182.6 481.0,182.5 481.5,183.4 482.0,183.6 482.5,183.3 483.0,183.1 483.5,185.9 484.0,183.8 484.5,182.1 485.0,185.0 485.5,184.9 486.0,183.7 486.5,182.6 487.0,185.4 487.5,186.2 488.0,185.8 488.5,185.8 489.0,186.1 489.5,184.9 490.0,184.9 490.5,186.4 491.0,189.0 491.5,187.9 492.0,189.1 492.5,190.1 493.0,189.4 493.5,189.1 494.0,188.8 494.5,189.0 495.0,187.2 495.5,186.8 496.0,186.4 496.5,188.1 497.0,187.7 497.5,184.8 498.0,183.8 498.5,184.8 499.0,183.0 499.5,184.3 500.0,185.8 500.5,185.4 501.0,185.2 501.5,184.1 502.0,182.7 502.5,183.1 503.0,182.7 503.5,184.3 504.0,184.9 504.5,184.0 505.0,184.2 505.5,184.2 506.0,185.6 506.5,184.4 507.0,184.1 507.5,184.3 508.0,183.8 508.5,183.9 509.0,182.9 509.5,186.0 510.0,182.9 510.5,183.5 511.0,184.8 511.5,186.0 512.0,184.4 512.5,182.5 513.0,183.4 513.5,185.0 514.0,182.7 514.5,182.7 515.0,184.4 515.5,185.9 516.0,183.0 516.5,182.3 517.0,184.2 517.5,183.0 518.0,182.7 518.5,185.0 519.0,184.7 519.5,185.0 520.0,184.2 520.5,185.4 521.0,185.4 521.5,187.0 522.0,185.3 522.5,184.8 523.0,185.6 523.5,186.2 524.0,186.5 524.5,184.5 525.0,183.5 525.5,183.8 526.0,182.9 526.5,185.4 527.0,186.9 527.5,185.9 528.0,185.2 528.5,182.4 529.0,182.9 529.5,182.1 530.0,181.1 530.5,182.4 531.0,184.3 531.5,184.1 532.0,184.6 532.5,181.8 533.0,183.6 533.5,184.1 534.0,185.2 534.5,187.2 535.0,185.2 535.5,186.0 536.0,186.1 536.5,183.5 537.0,184.0 537.5,184.5 538.0,186.5 538.5,188.4 539.0,187.4 539.5,184.6 540.0,185.4 540.5,186.6 541.0,186.5 541.5,185.9 542.0,185.4 542.5,185.8 543.0,186.3 543.5,187.0 544.0,188.6 544.5,185.1 545.0,185.0 545.5,184.8 546.0,185.5 546.5,185.6 547.0,183.8 547.5,183.0 548.0,184.3 548.5,184.4 549.0,182.8 549.5,180.9 550.0,180.8 550.5,181.3 551.0,182.1 551.5,181.8 552.0,181.3 552.5,180.5 553.0,180.8 553.5,181.5 554.0,181.0 554.5,181.2 555.0,182.9 555.5,183.0 556.0,181.5 556.5,179.3 557.0,180.5 557.5,182.0 558.0,183.9 558.5,184.0 559.0,182.5 559.5,180.4 560.0,182.5 560.5,182.6 561.0,182.5 561.5,183.5 562.0,184.3 562.5,185.2 563.0,186.0 563.5,185.7 564.0,185.3 564.5,184.0 565.0,184.7 565.5,187.0 566.0,187.2 566.5,186.1 567.0,185.7 567.5,187.6 568.0,188.5 568.5,187.9 569.0,186.7 569.5,188.9 570.0,190.2 570.5,189.1 571.0,189.9 571.5,188.9 572.0,187.8 572.5,185.0 573.0,187.1 573.5,186.7 574.0,186.3 574.5,184.6 575.0,187.1 575.5,186.5 576.0,183.5 576.5,183.6 577.0,182.2 577.5,183.2 578.0,183.2 578.5,182.7 579.0,182.4 579.5,182.9 580.0,182.8 580.5,183.4 581.0,182.3 581.5,182.9 582.0,182.1 582.5,182.6 583.0,182.6 583.5,183.0 584.0,182.1 584.5,183.1 585.0,181.4 585.5,181.8 586.0,180.3 586.5,181.6 587.0,182.8 587.5,182.0 588.0,182.3 588.5,183.4 589.0,181.7 589.5,183.1 590.0,184.1 590.5,185.4 591.0,185.1 591.5,185.2 592.0,186.1 592.5,184.6 593.0,186.1 593.5,186.0 594.0,186.4 594.5,185.1 595.0,185.5 595.5,186.5 596.0,187.2 596.5,186.1 597.0,184.6 597.5,184.3 598.0,184.8 598.5,186.7 599.0,184.0 599.5,185.6 600.0,183.5 600.5,185.4 601.0,183.8 601.5,182.2 602.0,180.5 602.5,182.0 603.0,182.7 603.5,184.0 604.0,183.5 604.5,185.5 605.0,183.3 605.5,183.3 606.0,185.5 606.5,184.2 607.0,181.3 607.5,183.9 608.0,185.1 608.5,185.8 609.0,185.5 609.5,183.8 610.0,185.4 610.5,186.6 611.0,187.2 611.5,186.3 612.0,184.2 612.5,184.6 613.0,185.3 613.5,184.9 614.0,185.2 614.5,185.3 615.0,186.6 615.5,185.5 616.0,185.9 616.5,186.2 617.0,186.0 617.5,188.0 618.0,184.8 618.5,184.5 619.0,186.2 619.5,185.0 620.0,185.6 620.5,184.4 621.0,186.9 621.5,185.9 622.0,183.9 622.5,186.0 623.0,186.8 623.5,185.0 624.0,186.1 624.5,185.9 625.0,186.9 625.5,185.0 626.0,187.0 626.5,185.7 627.0,185.0 627.5,184.5 628.0,185.2 628.5,184.1 629.0,185.3 629.5,184.0 630.0,187.4 630.5,187.6 631.0,185.5 631.5,184.8 632.0,185.0 632.5,187.6 633.0,185.5 633.5,186.1 634.0,186.5 634.5,185.5 635.0,185.2 635.5,186.1 636.0,186.6 636.5,186.6 637.0,187.8 637.5,186.4 638.0,185.5 638.5,183.8 639.0,187.2 639.5,188.7 640.0,186.3 640.5,187.3 641.0,188.6 641.5,188.7 642.0,188.5 642.5,187.3 643.0,187.5 643.5,188.7 644.0,189.1 644.5,187.3 645.0,187.7 645.5,189.5 646.0,189.7 646.5,188.0 647.0,187.9 647.5,188.9 648.0,190.5 648.5,191.4 649.0,188.8 649.5,188.7 650.0,189.1 650.5,189.5 651.0,188.6 651.5,189.9 652.0,189.2 652.5,188.9 653.0,190.1 653.5,189.4 654.0,188.8 654.5,191.0 655.0,191.2 655.5,191.7 656.0,190.1 656.5,188.9 657.0,189.7 657.5,191.1 658.0,190.4 658.5,189.8 659.0,190.2 659.5,189.7 660.0,191.3 660.5,194.0 661.0,194.0 661.5,187.9" fill="none" stroke="#3db57a" stroke-width="1.45" stroke-linejoin="round" clip-path="url(#e)"/>
<polyline points="374.5,204.4 375.0,205.0 375.5,199.0 376.0,197.3 376.5,198.5 377.0,196.8 377.5,205.9 378.0,202.3 378.5,200.5 379.0,200.1 379.5,203.1 380.0,204.6 380.5,201.3 381.0,201.3 381.5,203.1 382.0,198.9 382.5,201.1 383.0,201.7 383.5,199.5 384.0,204.6 384.5,205.1 385.0,203.8 385.5,195.4 386.0,198.8 386.5,199.7 387.0,199.3 387.5,196.7 388.0,208.8 388.5,203.5 389.0,195.6 389.5,197.8 390.0,202.2 390.5,202.1 391.0,198.8 391.5,207.4 392.0,203.4 392.5,197.3 393.0,198.5 393.5,208.4 394.0,202.2 394.5,195.3 395.0,200.8 395.5,205.0 396.0,202.3 396.5,209.2 397.0,201.1 397.5,195.3 398.0,195.3 398.5,204.6 399.0,202.4 399.5,202.6 400.0,197.0 400.5,197.5 401.0,203.3 401.5,202.4 402.0,197.0 402.5,189.5 403.0,192.3 403.5,198.8 404.0,202.1 404.5,199.9 405.0,193.5 405.5,194.0 406.0,200.9 406.5,192.7 407.0,194.4 407.5,200.4 408.0,195.3 408.5,190.1 409.0,192.4 409.5,200.1 410.0,201.6 410.5,195.8 411.0,206.3 411.5,201.1 412.0,191.2 412.5,197.2 413.0,203.1 413.5,198.4 414.0,194.2 414.5,204.0 415.0,202.0 415.5,206.7 416.0,199.7 416.5,203.1 417.0,202.1 417.5,199.2 418.0,206.6 418.5,198.9 419.0,202.9 419.5,195.6 420.0,211.6 420.5,202.9 421.0,196.8 421.5,199.2 422.0,206.9 422.5,195.6 423.0,193.0 423.5,203.5 424.0,201.7 424.5,201.4 425.0,203.4 425.5,195.7 426.0,197.5 426.5,207.1 427.0,199.1 427.5,195.9 428.0,197.6 428.5,201.9 429.0,199.8 429.5,200.6 430.0,196.9 430.5,195.0 431.0,193.4 431.5,193.5 432.0,200.9 432.5,199.7 433.0,204.5 433.5,201.1 434.0,198.4 434.5,193.6 435.0,200.0 435.5,200.8 436.0,201.3 436.5,198.7 437.0,194.3 437.5,202.2 438.0,201.9 438.5,196.6 439.0,198.1 439.5,199.8 440.0,201.2 440.5,203.2 441.0,196.9 441.5,200.0 442.0,201.1 442.5,199.1 443.0,202.5 443.5,207.0 444.0,206.4 444.5,205.7 445.0,205.5 445.5,211.0 446.0,206.8 446.5,205.2 447.0,207.7 447.5,208.0 448.0,209.7 448.5,205.8 449.0,211.2 449.5,205.7 450.0,203.0 450.5,212.7 451.0,214.6 451.5,211.4 452.0,210.9 452.5,209.4 453.0,211.3 453.5,213.7 454.0,224.5 454.5,220.7 455.0,221.7 455.5,212.3 456.0,216.1 456.5,213.4 457.0,216.1 457.5,214.5 458.0,207.4 458.5,212.0 459.0,206.6 459.5,201.1 460.0,205.3 460.5,203.4 461.0,204.1 461.5,204.2 462.0,205.9 462.5,202.1 463.0,201.3 463.5,203.6 464.0,205.1 464.5,197.7 465.0,200.4 465.5,204.1 466.0,200.4 466.5,201.7 467.0,200.1 467.5,199.0 468.0,200.4 468.5,200.4 469.0,200.7 469.5,199.6 470.0,198.5 470.5,199.0 471.0,199.5 471.5,199.7 472.0,199.0 472.5,200.2 473.0,201.5 473.5,201.5 474.0,201.3 474.5,201.0 475.0,200.6 475.5,202.0 476.0,202.4 476.5,203.4 477.0,203.4 477.5,205.6 478.0,205.4 478.5,206.3 479.0,207.3 479.5,209.8 480.0,209.2 480.5,211.7 481.0,213.4 481.5,214.8 482.0,215.5 482.5,216.2 483.0,216.7 483.5,217.4 484.0,217.4 484.5,217.4 485.0,216.6 485.5,215.2 486.0,214.2 486.5,212.6 487.0,212.9 487.5,210.8 488.0,208.5 488.5,207.1 489.0,206.3 489.5,205.6 490.0,204.2 490.5,202.6 491.0,201.3 491.5,201.3 492.0,200.1 492.5,199.0 493.0,198.5 493.5,197.0 494.0,196.1 494.5,195.9 495.0,195.8 495.5,195.2 496.0,195.4 496.5,194.2 497.0,195.2 497.5,196.0 498.0,194.5 498.5,194.7 499.0,195.0 499.5,195.3 500.0,194.2 500.5,196.3 501.0,196.3 501.5,197.1 502.0,197.0 502.5,197.5 503.0,197.2 503.5,198.6 504.0,200.6 504.5,200.1 505.0,202.1 505.5,202.1 506.0,204.2 506.5,206.6 507.0,205.7 507.5,206.0 508.0,207.2 508.5,206.6 509.0,206.7 509.5,205.1 510.0,204.9 510.5,204.6 511.0,202.9 511.5,203.7 512.0,202.2 512.5,201.6 513.0,199.7 513.5,196.8 514.0,198.1 514.5,196.6 515.0,196.7 515.5,195.5 516.0,192.8 516.5,191.6 517.0,192.7 517.5,192.1 518.0,191.0 518.5,191.5 519.0,190.9 519.5,189.4 520.0,189.0 520.5,187.7 521.0,187.3 521.5,185.7 522.0,187.4 522.5,186.3 523.0,186.8 523.5,183.8 524.0,185.1 524.5,184.6 525.0,184.8 525.5,185.6 526.0,183.5 526.5,182.6 527.0,183.3 527.5,184.6 528.0,184.9 528.5,182.3 529.0,183.6 529.5,185.3 530.0,183.4 530.5,182.7 531.0,183.7 531.5,183.9 532.0,182.8 532.5,184.1 533.0,183.5 533.5,183.7 534.0,182.1 534.5,182.9 535.0,182.7 535.5,183.7 536.0,181.1 536.5,184.7 537.0,184.2 537.5,182.6 538.0,184.0 538.5,183.0 539.0,183.5 539.5,185.1 540.0,185.8 540.5,184.9 541.0,186.2 541.5,185.1 542.0,185.9 542.5,185.4 543.0,186.2 543.5,186.2 544.0,184.5 544.5,184.5 545.0,184.5 545.5,185.5 546.0,185.7 546.5,183.7 547.0,183.2 547.5,183.7 548.0,185.5 548.5,181.9 549.0,182.6 549.5,183.2 550.0,182.9 550.5,182.1 551.0,182.6 551.5,182.4 552.0,181.9 552.5,182.0 553.0,181.8 553.5,183.5 554.0,181.5 554.5,182.0 555.0,181.0 555.5,180.7 556.0,181.0 556.5,182.2 557.0,181.4 557.5,181.7 558.0,181.2 558.5,180.4 559.0,181.9 559.5,181.2 560.0,181.6 560.5,182.0 561.0,182.2 561.5,182.4 562.0,182.5 562.5,181.9 563.0,182.7 563.5,182.2 564.0,183.7 564.5,184.5 565.0,183.7 565.5,186.6 566.0,187.7 566.5,186.8 567.0,186.9 567.5,187.4 568.0,189.8 568.5,189.0 569.0,189.3 569.5,190.3 570.0,190.8 570.5,191.4 571.0,192.1 571.5,191.2 572.0,192.0 572.5,191.9 573.0,192.2 573.5,192.8 574.0,190.8 574.5,191.1 575.0,190.6 575.5,190.8 576.0,189.6 576.5,190.0 577.0,188.2 577.5,188.2 578.0,187.9 578.5,188.1 579.0,186.3 579.5,186.4 580.0,185.2 580.5,186.0 581.0,183.2 581.5,184.0 582.0,182.7 582.5,181.0 583.0,181.9 583.5,183.8 584.0,183.3 584.5,181.7 585.0,182.1 585.5,181.4 586.0,183.1 586.5,183.0 587.0,182.6 587.5,182.9 588.0,183.5 588.5,185.3 589.0,183.1 589.5,184.4 590.0,184.9 590.5,184.9 591.0,185.7 591.5,185.6 592.0,185.2 592.5,186.8 593.0,186.9 593.5,187.0 594.0,187.5 594.5,186.8 595.0,188.4 595.5,188.4 596.0,189.9 596.5,190.2 597.0,189.3 597.5,190.3 598.0,189.3 598.5,191.0 599.0,192.2 599.5,191.7 600.0,193.0 600.5,193.4 601.0,192.6 601.5,194.4 602.0,194.0 602.5,192.3 603.0,193.3 603.5,193.4 604.0,193.8 604.5,193.6 605.0,193.0 605.5,191.4 606.0,191.7 606.5,190.3 607.0,189.8 607.5,190.6 608.0,189.6 608.5,189.7 609.0,188.8 609.5,187.6 610.0,187.8 610.5,187.6 611.0,187.7 611.5,186.1 612.0,185.6 612.5,186.2 613.0,186.7 613.5,186.5 614.0,185.8 614.5,186.5 615.0,186.2 615.5,187.5 616.0,186.8 616.5,187.0 617.0,186.1 617.5,186.9 618.0,185.1 618.5,186.4 619.0,187.0 619.5,186.3 620.0,188.3 620.5,188.3 621.0,187.5 621.5,187.9 622.0,187.9 622.5,186.0 623.0,187.3 623.5,187.8 624.0,190.0 624.5,186.9 625.0,188.3 625.5,189.9 626.0,187.9 626.5,188.0 627.0,190.4 627.5,188.0 628.0,188.5 628.5,188.1 629.0,187.6 629.5,187.6 630.0,187.6 630.5,188.6 631.0,187.9 631.5,188.9 632.0,188.9 632.5,189.1 633.0,188.5 633.5,188.6 634.0,187.7 634.5,185.7 635.0,188.9 635.5,188.7 636.0,187.9 636.5,187.8 637.0,188.5 637.5,188.0 638.0,187.6 638.5,187.9 639.0,187.5 639.5,187.2 640.0,186.7 640.5,187.1 641.0,187.9 641.5,187.8 642.0,187.3 642.5,189.6 643.0,187.3 643.5,187.1 644.0,187.3 644.5,188.2 645.0,188.3 645.5,187.4 646.0,187.4 646.5,189.0 647.0,186.7 647.5,186.3 648.0,187.5 648.5,187.6 649.0,188.1 649.5,187.1 650.0,187.7 650.5,187.7 651.0,188.1 651.5,187.1 652.0,188.5 652.5,187.7 653.0,188.7 653.5,188.7 654.0,186.8 654.5,187.7 655.0,188.5 655.5,187.8 656.0,188.6 656.5,187.4 657.0,188.1 657.5,188.4 658.0,187.5 658.5,187.5 659.0,188.4 659.5,188.2 660.0,188.4 660.5,188.2 661.0,188.7 661.5,189.7" fill="none" stroke="#e3a12f" stroke-width="1.45" stroke-linejoin="round" clip-path="url(#e)"/>
<polyline points="374.5,209.6 375.0,205.2 375.5,212.1 376.0,210.3 376.5,201.1 377.0,209.6 377.5,212.2 378.0,215.5 378.5,214.2 379.0,202.8 379.5,205.5 380.0,210.5 380.5,214.0 381.0,213.3 381.5,203.2 382.0,204.8 382.5,199.6 383.0,201.0 383.5,202.5 384.0,203.9 384.5,196.7 385.0,195.7 385.5,201.7 386.0,200.2 386.5,195.7 387.0,194.6 387.5,195.0 388.0,199.9 388.5,202.3 389.0,202.9 389.5,199.7 390.0,189.1 390.5,197.5 391.0,195.7 391.5,191.8 392.0,206.8 392.5,202.2 393.0,198.0 393.5,202.7 394.0,204.0 394.5,203.2 395.0,207.6 395.5,200.4 396.0,203.0 396.5,203.4 397.0,202.9 397.5,204.4 398.0,204.5 398.5,208.7 399.0,211.9 399.5,212.2 400.0,211.2 400.5,213.7 401.0,205.2 401.5,218.4 402.0,218.7 402.5,218.7 403.0,205.8 403.5,203.0 404.0,217.2 404.5,210.7 405.0,207.0 405.5,203.9 406.0,209.1 406.5,202.7 407.0,197.8 407.5,189.6 408.0,194.8 408.5,203.2 409.0,199.8 409.5,198.5 410.0,200.1 410.5,195.5 411.0,196.4 411.5,208.9 412.0,195.2 412.5,198.7 413.0,200.1 413.5,198.2 414.0,201.2 414.5,206.5 415.0,201.0 415.5,197.7 416.0,205.3 416.5,205.3 417.0,211.1 417.5,202.9 418.0,203.4 418.5,203.2 419.0,201.3 419.5,202.6 420.0,211.3 420.5,210.2 421.0,199.6 421.5,208.3 422.0,203.2 422.5,212.6 423.0,206.4 423.5,200.0 424.0,204.1 424.5,204.6 425.0,212.1 425.5,222.2 426.0,215.3 426.5,215.8 427.0,214.3 427.5,217.8 428.0,212.5 428.5,212.6 429.0,213.4 429.5,218.9 430.0,217.6 430.5,211.5 431.0,214.2 431.5,211.5 432.0,217.0 432.5,213.3 433.0,208.3 433.5,211.2 434.0,213.6 434.5,213.8 435.0,219.4 435.5,210.9 436.0,207.7 436.5,204.0 437.0,208.0 437.5,225.5 438.0,212.3 438.5,207.8 439.0,210.0 439.5,213.8 440.0,212.5 440.5,212.5 441.0,216.6 441.5,216.5 442.0,208.6 442.5,206.8 443.0,214.6 443.5,220.6 444.0,216.4 444.5,209.5 445.0,210.4 445.5,209.4 446.0,210.9 446.5,216.8 447.0,210.3 447.5,218.1 448.0,213.0 448.5,211.4 449.0,214.1 449.5,208.8 450.0,208.3 450.5,213.1 451.0,210.1 451.5,211.2 452.0,206.5 452.5,212.1 453.0,213.1 453.5,208.2 454.0,210.1 454.5,208.7 455.0,206.6 455.5,208.9 456.0,207.8 456.5,206.9 457.0,204.4 457.5,207.6 458.0,205.8 458.5,203.5 459.0,204.8 459.5,209.0 460.0,208.5 460.5,202.8 461.0,209.9 461.5,205.7 462.0,205.9 462.5,201.4 463.0,208.6 463.5,205.7 464.0,210.2 464.5,206.9 465.0,206.5 465.5,209.1 466.0,206.0 466.5,209.1 467.0,211.0 467.5,214.1 468.0,211.9 468.5,214.6 469.0,214.4 469.5,217.6 470.0,217.2 470.5,217.3 471.0,218.4 471.5,218.1 472.0,216.1 472.5,216.0 473.0,215.2 473.5,214.9 474.0,212.2 474.5,211.9 475.0,211.4 475.5,211.1 476.0,209.0 476.5,207.8 477.0,207.3 477.5,206.4 478.0,205.7 478.5,203.9 479.0,203.6 479.5,204.4 480.0,205.1 480.5,204.9 481.0,205.0 481.5,203.2 482.0,205.6 482.5,203.2 483.0,203.5 483.5,205.0 484.0,204.9 484.5,205.1 485.0,203.7 485.5,203.1 486.0,204.7 486.5,205.1 487.0,203.0 487.5,201.5 488.0,202.1 488.5,204.1 489.0,201.5 489.5,203.0 490.0,202.7 490.5,202.8 491.0,203.9 491.5,201.7 492.0,204.1 492.5,202.8 493.0,201.6 493.5,199.9 494.0,200.2 494.5,200.9 495.0,199.7 495.5,199.7 496.0,199.9 496.5,199.5 497.0,199.2 497.5,198.7 498.0,199.6 498.5,198.7 499.0,200.4 499.5,198.8 500.0,198.6 500.5,198.1 501.0,197.8 501.5,197.5 502.0,198.5 502.5,197.4 503.0,197.9 503.5,198.4 504.0,198.7 504.5,198.9 505.0,200.5 505.5,202.6 506.0,201.1 506.5,202.4 507.0,201.2 507.5,202.4 508.0,204.5 508.5,205.3 509.0,204.3 509.5,203.8 510.0,206.8 510.5,203.3 511.0,207.0 511.5,205.7 512.0,204.8 512.5,208.0 513.0,206.0 513.5,206.7 514.0,206.1 514.5,206.9 515.0,206.1 515.5,206.3 516.0,203.9 516.5,203.5 517.0,201.4 517.5,203.1 518.0,201.5 518.5,200.4 519.0,199.3 519.5,199.7 520.0,198.0 520.5,198.0 521.0,197.0 521.5,198.6 522.0,196.3 522.5,195.2 523.0,193.5 523.5,195.2 524.0,194.6 524.5,194.2 525.0,194.1 525.5,194.0 526.0,192.3 526.5,191.9 527.0,192.0 527.5,194.4 528.0,193.4 528.5,194.7 529.0,193.7 529.5,193.6 530.0,196.3 530.5,194.7 531.0,195.6 531.5,194.8 532.0,196.0 532.5,195.3 533.0,194.6 533.5,195.8 534.0,196.6 534.5,196.6 535.0,197.0 535.5,197.0 536.0,199.0 536.5,197.0 537.0,198.0 537.5,200.2 538.0,199.6 538.5,200.6 539.0,201.1 539.5,200.6 540.0,201.4 540.5,202.5 541.0,202.5 541.5,202.1 542.0,201.8 542.5,201.2 543.0,202.5 543.5,201.7 544.0,201.5 544.5,202.2 545.0,202.9 545.5,201.8 546.0,200.9 546.5,201.6 547.0,202.0 547.5,200.4 548.0,200.3 548.5,198.8 549.0,200.9 549.5,199.1 550.0,198.6 550.5,200.4 551.0,198.6 551.5,200.4 552.0,197.1 552.5,197.7 553.0,197.4 553.5,196.4 554.0,196.0 554.5,197.2 555.0,197.2 555.5,196.5 556.0,196.0 556.5,195.4 557.0,198.3 557.5,195.1 558.0,196.8 558.5,195.7 559.0,197.4 559.5,196.9 560.0,197.4 560.5,196.2 561.0,197.2 561.5,195.3 562.0,196.3 562.5,197.0 563.0,197.7 563.5,198.5 564.0,198.9 564.5,199.4 565.0,200.8 565.5,201.3 566.0,200.8 566.5,203.7 567.0,204.5 567.5,203.8 568.0,203.1 568.5,206.3 569.0,205.9 569.5,207.6 570.0,206.8 570.5,208.2 571.0,209.6 571.5,208.9 572.0,207.3 572.5,209.5 573.0,208.4 573.5,207.8 574.0,207.4 574.5,205.9 575.0,208.0 575.5,204.8 576.0,204.3 576.5,203.8 577.0,203.7 577.5,202.3 578.0,202.2 578.5,201.4 579.0,199.8 579.5,200.5 580.0,200.3 580.5,199.6 581.0,200.1 581.5,198.6 582.0,199.8 582.5,199.3 583.0,197.7 583.5,197.6 584.0,199.0 584.5,199.5 585.0,199.2 585.5,200.1 586.0,199.9 586.5,198.5 587.0,199.0 587.5,199.9 588.0,198.6 588.5,199.0 589.0,198.0 589.5,199.6 590.0,198.9 590.5,199.3 591.0,200.5 591.5,199.0 592.0,199.2 592.5,198.2 593.0,196.3 593.5,198.0 594.0,199.2 594.5,198.4 595.0,199.0 595.5,199.3 596.0,197.3 596.5,199.6 597.0,199.1 597.5,198.3 598.0,201.3 598.5,199.7 599.0,199.3 599.5,200.2 600.0,200.2 600.5,201.4 601.0,200.8 601.5,200.9 602.0,200.5 602.5,202.2 603.0,202.6 603.5,200.2 604.0,201.7 604.5,201.7 605.0,203.3 605.5,205.1 606.0,203.7 606.5,205.8 607.0,205.3 607.5,204.9 608.0,206.4 608.5,206.4 609.0,208.0 609.5,207.3 610.0,206.9 610.5,207.4 611.0,208.8 611.5,208.0 612.0,208.1 612.5,208.5 613.0,209.6 613.5,207.8 614.0,209.3 614.5,207.0 615.0,206.9 615.5,206.4 616.0,205.1 616.5,205.2 617.0,207.4 617.5,205.5 618.0,203.2 618.5,203.7 619.0,204.3 619.5,202.4 620.0,202.2 620.5,201.6 621.0,201.3 621.5,200.9 622.0,202.7 622.5,200.5 623.0,200.7 623.5,201.7 624.0,203.4 624.5,205.5 625.0,201.3 625.5,201.5 626.0,202.0 626.5,201.6 627.0,203.0 627.5,206.3 628.0,205.3 628.5,204.6 629.0,204.4 629.5,204.7 630.0,204.9 630.5,203.6 631.0,205.7 631.5,206.4 632.0,207.2 632.5,206.3 633.0,205.5 633.5,207.7 634.0,206.8 634.5,207.3 635.0,208.5 635.5,210.5 636.0,206.8 636.5,212.3 637.0,208.3 637.5,206.9 638.0,207.2 638.5,210.6 639.0,208.5 639.5,209.3 640.0,210.3 640.5,211.9 641.0,211.0 641.5,210.1 642.0,210.1 642.5,212.4 643.0,207.6 643.5,209.2 644.0,208.4 644.5,206.9 645.0,207.2 645.5,207.2 646.0,210.0 646.5,208.9 647.0,207.4 647.5,205.1 648.0,206.3 648.5,203.5 649.0,203.6 649.5,200.0 650.0,204.0 650.5,201.1 651.0,202.0 651.5,201.3 652.0,199.4 652.5,197.2 653.0,197.8 653.5,202.5 654.0,200.2 654.5,198.7 655.0,201.5 655.5,202.1 656.0,200.7 656.5,200.1 657.0,200.3 657.5,197.4 658.0,201.2 658.5,201.4 659.0,198.1 659.5,199.8 660.0,196.9 660.5,197.1 661.0,197.2 661.5,200.1" fill="none" stroke="#ede33a" stroke-width="1.45" stroke-linejoin="round" clip-path="url(#e)"/>
<rect x="365.5" y="142.5" width="306.70" height="77.80" fill="none" stroke="#262626" stroke-width="1.0"/>
<line x1="365.50" y1="220.30" x2="365.50" y2="224.70" stroke="#262626" stroke-width="1.0"/>
<text x="365.50" y="236.90" font-size="11.6" text-anchor="middle" >1500</text>
<line x1="396.17" y1="220.30" x2="396.17" y2="222.60" stroke="#262626" stroke-width="1.0"/>
<line x1="426.84" y1="220.30" x2="426.84" y2="224.70" stroke="#262626" stroke-width="1.0"/>
<text x="426.84" y="236.90" font-size="11.6" text-anchor="middle" >1520</text>
<line x1="457.51" y1="220.30" x2="457.51" y2="222.60" stroke="#262626" stroke-width="1.0"/>
<line x1="488.18" y1="220.30" x2="488.18" y2="224.70" stroke="#262626" stroke-width="1.0"/>
<text x="488.18" y="236.90" font-size="11.6" text-anchor="middle" >1540</text>
<line x1="518.85" y1="220.30" x2="518.85" y2="222.60" stroke="#262626" stroke-width="1.0"/>
<line x1="549.52" y1="220.30" x2="549.52" y2="224.70" stroke="#262626" stroke-width="1.0"/>
<text x="549.52" y="236.90" font-size="11.6" text-anchor="middle" >1560</text>
<line x1="580.19" y1="220.30" x2="580.19" y2="222.60" stroke="#262626" stroke-width="1.0"/>
<line x1="610.86" y1="220.30" x2="610.86" y2="224.70" stroke="#262626" stroke-width="1.0"/>
<text x="610.86" y="236.90" font-size="11.6" text-anchor="middle" >1580</text>
<line x1="641.53" y1="220.30" x2="641.53" y2="222.60" stroke="#262626" stroke-width="1.0"/>
<line x1="672.20" y1="220.30" x2="672.20" y2="224.70" stroke="#262626" stroke-width="1.0"/>
<text x="672.20" y="236.90" font-size="11.6" text-anchor="middle" >1600</text>
<line x1="365.50" y1="150.28" x2="361.10" y2="150.28" stroke="#262626" stroke-width="1.0"/>
<text x="358.20" y="154.48" font-size="11.6" text-anchor="end" >0</text>
<line x1="365.50" y1="165.84" x2="361.10" y2="165.84" stroke="#262626" stroke-width="1.0"/>
<text x="358.20" y="170.04" font-size="11.6" text-anchor="end" >-10</text>
<line x1="365.50" y1="181.40" x2="361.10" y2="181.40" stroke="#262626" stroke-width="1.0"/>
<text x="358.20" y="185.60" font-size="11.6" text-anchor="end" >-20</text>
<line x1="365.50" y1="196.96" x2="361.10" y2="196.96" stroke="#262626" stroke-width="1.0"/>
<text x="358.20" y="201.16" font-size="11.6" text-anchor="end" >-30</text>
<line x1="365.50" y1="212.52" x2="361.10" y2="212.52" stroke="#262626" stroke-width="1.0"/>
<text x="358.20" y="216.72" font-size="11.6" text-anchor="end" >-40</text>
<text x="327.40" y="176.90" font-size="11.7" text-anchor="middle" transform="rotate(-90 327.40 176.90)" >Transmission (dB)</text>
<text x="603.30" y="172.50" font-size="14.2">I<tspan font-size="9.2" dy="3.0">2</tspan><tspan dy="-3.0" dx="2.7">input</tspan></text>
<rect x="456.3" y="260.3" width="106.3" height="77.70" fill="url(#shade)"/>
<polyline points="374.5,309.4 375.0,310.6 375.5,310.8 376.0,308.3 376.5,308.8 377.0,309.8 377.5,308.0 378.0,310.0 378.5,309.5 379.0,309.3 379.5,309.1 380.0,305.4 380.5,305.7 381.0,308.4 381.5,307.3 382.0,306.4 382.5,304.9 383.0,305.2 383.5,302.7 384.0,302.8 384.5,302.5 385.0,304.1 385.5,302.3 386.0,303.1 386.5,302.2 387.0,303.0 387.5,302.9 388.0,304.7 388.5,304.1 389.0,302.2 389.5,303.2 390.0,303.4 390.5,302.2 391.0,302.4 391.5,302.9 392.0,303.7 392.5,303.9 393.0,305.5 393.5,305.0 394.0,304.5 394.5,307.1 395.0,308.3 395.5,307.0 396.0,307.7 396.5,305.9 397.0,307.7 397.5,306.2 398.0,305.4 398.5,306.5 399.0,303.1 399.5,301.8 400.0,302.0 400.5,300.2 401.0,301.9 401.5,299.9 402.0,301.5 402.5,301.2 403.0,300.8 403.5,298.8 404.0,297.8 404.5,300.3 405.0,300.8 405.5,298.8 406.0,301.4 406.5,303.1 407.0,305.1 407.5,307.1 408.0,306.9 408.5,306.2 409.0,308.7 409.5,308.5 410.0,307.1 410.5,308.0 411.0,307.7 411.5,305.8 412.0,307.4 412.5,305.2 413.0,306.3 413.5,308.1 414.0,305.4 414.5,308.7 415.0,308.3 415.5,308.8 416.0,306.5 416.5,306.7 417.0,306.3 417.5,307.0 418.0,308.4 418.5,307.2 419.0,307.6 419.5,307.1 420.0,307.8 420.5,308.7 421.0,306.9 421.5,308.8 422.0,309.1 422.5,308.1 423.0,308.0 423.5,308.8 424.0,307.7 424.5,308.7 425.0,309.5 425.5,310.7 426.0,311.1 426.5,314.1 427.0,310.0 427.5,310.6 428.0,310.4 428.5,312.0 429.0,314.4 429.5,311.8 430.0,312.5 430.5,313.2 431.0,312.9 431.5,315.7 432.0,313.5 432.5,316.2 433.0,312.8 433.5,311.9 434.0,307.8 434.5,303.3 435.0,303.7 435.5,304.3 436.0,303.6 436.5,303.0 437.0,302.2 437.5,299.4 438.0,300.6 438.5,303.4 439.0,303.7 439.5,303.4 440.0,303.2 440.5,301.2 441.0,299.2 441.5,301.1 442.0,301.7 442.5,302.1 443.0,302.0 443.5,301.1 444.0,300.3 444.5,300.5 445.0,301.1 445.5,302.3 446.0,302.8 446.5,302.3 447.0,301.4 447.5,301.9 448.0,300.5 448.5,304.2 449.0,302.1 449.5,304.2 450.0,303.5 450.5,305.2 451.0,304.8 451.5,305.1 452.0,306.7 452.5,307.2 453.0,307.4 453.5,309.5 454.0,306.6 454.5,309.2 455.0,314.2 455.5,318.6 456.0,319.0 456.5,322.9 457.0,322.9 457.5,323.2 458.0,324.4 458.5,323.7 459.0,322.5 459.5,322.5 460.0,321.8 460.5,318.7 461.0,314.3 461.5,310.9 462.0,311.4 462.5,310.8 463.0,307.0 463.5,305.9 464.0,302.2 464.5,301.1 465.0,301.7 465.5,300.2 466.0,299.6 466.5,300.2 467.0,300.2 467.5,299.8 468.0,298.7 468.5,298.7 469.0,300.2 469.5,301.7 470.0,299.0 470.5,298.7 471.0,298.2 471.5,298.1 472.0,298.7 472.5,300.5 473.0,299.1 473.5,296.9 474.0,296.0 474.5,298.2 475.0,301.4 475.5,299.1 476.0,299.5 476.5,299.5 477.0,298.0 477.5,300.2 478.0,301.5 478.5,300.2 479.0,299.4 479.5,300.7 480.0,300.3 480.5,299.9 481.0,301.3 481.5,301.4 482.0,299.5 482.5,300.0 483.0,304.7 483.5,305.1 484.0,306.8 484.5,310.6 485.0,310.8 485.5,311.7 486.0,314.0 486.5,316.2 487.0,318.0 487.5,317.6 488.0,317.6 488.5,313.2 489.0,309.7 489.5,308.9 490.0,307.9 490.5,307.4 491.0,306.2 491.5,304.8 492.0,300.9 492.5,301.0 493.0,301.5 493.5,300.8 494.0,300.6 494.5,299.1 495.0,296.8 495.5,298.4 496.0,299.9 496.5,299.7 497.0,299.8 497.5,301.1 498.0,301.7 498.5,300.9 499.0,300.6 499.5,301.2 500.0,302.9 500.5,305.3 501.0,305.2 501.5,307.2 502.0,310.5 502.5,313.1 503.0,312.3 503.5,315.2 504.0,315.4 504.5,316.6 505.0,318.5 505.5,318.2 506.0,315.3 506.5,315.2 507.0,316.0 507.5,315.1 508.0,316.5 508.5,314.9 509.0,315.1 509.5,313.3 510.0,311.6 510.5,308.7 511.0,305.6 511.5,303.3 512.0,299.9 512.5,299.3 513.0,298.4 513.5,299.0 514.0,300.1 514.5,300.4 515.0,299.6 515.5,298.5 516.0,299.4 516.5,300.4 517.0,300.3 517.5,298.9 518.0,299.2 518.5,301.0 519.0,305.3 519.5,303.3 520.0,302.9 520.5,300.0 521.0,301.2 521.5,300.3 522.0,300.8 522.5,304.7 523.0,306.0 523.5,301.8 524.0,300.5 524.5,303.9 525.0,305.1 525.5,305.1 526.0,303.0 526.5,303.3 527.0,304.0 527.5,305.5 528.0,304.5 528.5,304.6 529.0,305.1 529.5,305.2 530.0,305.7 530.5,305.9 531.0,306.6 531.5,307.1 532.0,309.6 532.5,310.2 533.0,313.9 533.5,316.9 534.0,319.9 534.5,319.6 535.0,319.9 535.5,321.1 536.0,320.9 536.5,319.1 537.0,316.5 537.5,317.4 538.0,316.4 538.5,316.1 539.0,314.7 539.5,312.9 540.0,314.9 540.5,314.9 541.0,311.9 541.5,311.0 542.0,310.7 542.5,310.0 543.0,309.4 543.5,308.5 544.0,307.5 544.5,306.9 545.0,305.9 545.5,305.6 546.0,306.2 546.5,307.7 547.0,308.2 547.5,306.9 548.0,306.9 548.5,306.8 549.0,308.5 549.5,309.2 550.0,309.5 550.5,304.9 551.0,306.0 551.5,307.7 552.0,310.3 552.5,309.7 553.0,308.7 553.5,309.3 554.0,309.3 554.5,308.6 555.0,312.5 555.5,314.2 556.0,315.8 556.5,314.3 557.0,315.6 557.5,318.1 558.0,318.0 558.5,316.8 559.0,317.5 559.5,316.2 560.0,316.1 560.5,316.3 561.0,316.0 561.5,315.8 562.0,315.4 562.5,316.5 563.0,316.4 563.5,315.5 564.0,313.8 564.5,314.1 565.0,313.5 565.5,314.7 566.0,315.8 566.5,317.4 567.0,316.6 567.5,316.2 568.0,314.6 568.5,314.6 569.0,313.0 569.5,313.2 570.0,314.8 570.5,312.5 571.0,311.9 571.5,313.4 572.0,315.3 572.5,316.0 573.0,313.9 573.5,314.0 574.0,315.3 574.5,314.1 575.0,316.8 575.5,319.8 576.0,318.6 576.5,319.1 577.0,320.1 577.5,318.7 578.0,320.8 578.5,323.0 579.0,327.6 579.5,331.9 580.0,331.4 580.5,334.5 581.0,335.5 581.5,338.0 582.0,334.0 582.5,332.8 583.0,331.4 583.5,328.8 584.0,327.6 584.5,323.1 585.0,318.9 585.5,315.8 586.0,316.9 586.5,316.5 587.0,312.9 587.5,311.5 588.0,308.7 588.5,306.8 589.0,305.1 589.5,306.9 590.0,304.7 590.5,305.0 591.0,304.8 591.5,304.2 592.0,304.5 592.5,304.5 593.0,305.0 593.5,304.6 594.0,306.5 594.5,306.4 595.0,305.4 595.5,306.4 596.0,309.5 596.5,310.5 597.0,312.6 597.5,313.9 598.0,313.6 598.5,313.4 599.0,316.2 599.5,315.9 600.0,312.5 600.5,312.7 601.0,312.6 601.5,314.3 602.0,312.7 602.5,310.4 603.0,307.2 603.5,306.0 604.0,306.8 604.5,304.1 605.0,303.5 605.5,304.1 606.0,303.9 606.5,304.0 607.0,304.5 607.5,302.7 608.0,300.6 608.5,301.5 609.0,301.0 609.5,302.2 610.0,303.5 610.5,302.5 611.0,303.1 611.5,304.3 612.0,305.1 612.5,306.0 613.0,306.9 613.5,309.9 614.0,310.0 614.5,307.6 615.0,309.2 615.5,310.4 616.0,310.7 616.5,309.9 617.0,306.5 617.5,309.8 618.0,310.9 618.5,308.8 619.0,308.0 619.5,308.8 620.0,311.0 620.5,311.5 621.0,309.7 621.5,310.0 622.0,310.1 622.5,313.4 623.0,311.8 623.5,311.5 624.0,312.8 624.5,312.4 625.0,316.2 625.5,316.3 626.0,315.3 626.5,315.0 627.0,315.7 627.5,317.8 628.0,317.0 628.5,314.2 629.0,314.4 629.5,315.4 630.0,313.1 630.5,313.7 631.0,312.2 631.5,310.6 632.0,311.1 632.5,312.8 633.0,309.3 633.5,310.1 634.0,311.5 634.5,309.5 635.0,309.8 635.5,309.9 636.0,309.5 636.5,306.8 637.0,307.9 637.5,306.9 638.0,305.2 638.5,305.2 639.0,305.6 639.5,305.1 640.0,306.7 640.5,305.2 641.0,303.2 641.5,305.4 642.0,304.1 642.5,306.6 643.0,307.0 643.5,308.6 644.0,309.7 644.5,310.9 645.0,311.5 645.5,312.9 646.0,314.9 646.5,315.0 647.0,314.7 647.5,316.4 648.0,318.6 648.5,317.6 649.0,318.3 649.5,317.4 650.0,315.3 650.5,315.7 651.0,316.4 651.5,316.1 652.0,314.7 652.5,312.6 653.0,311.0 653.5,309.0 654.0,307.9 654.5,308.9 655.0,308.0 655.5,306.7 656.0,305.6 656.5,303.6 657.0,304.7 657.5,306.9 658.0,306.2 658.5,303.5 659.0,301.9 659.5,301.8 660.0,304.7 660.5,305.8 661.0,302.6 661.5,304.5 662.0,304.3" fill="none" stroke="#32309a" stroke-width="1.45" stroke-linejoin="round" clip-path="url(#f)"/>
<polyline points="374.5,304.1 375.0,308.6 375.5,308.8 376.0,309.1 376.5,306.9 377.0,308.6 377.5,306.5 378.0,307.5 378.5,307.9 379.0,309.0 379.5,306.5 380.0,305.7 380.5,308.0 381.0,307.0 381.5,308.8 382.0,310.8 382.5,309.8 383.0,313.2 383.5,312.1 384.0,314.5 384.5,316.4 385.0,317.3 385.5,318.0 386.0,319.0 386.5,321.2 387.0,319.2 387.5,320.4 388.0,315.4 388.5,315.2 389.0,311.9 389.5,311.9 390.0,310.1 390.5,310.7 391.0,310.5 391.5,309.2 392.0,309.3 392.5,309.7 393.0,307.8 393.5,308.1 394.0,308.2 394.5,309.9 395.0,308.8 395.5,308.5 396.0,305.1 396.5,306.8 397.0,309.0 397.5,308.0 398.0,306.6 398.5,307.8 399.0,306.2 399.5,305.4 400.0,306.1 400.5,305.0 401.0,305.8 401.5,306.3 402.0,307.7 402.5,305.9 403.0,306.2 403.5,307.2 404.0,304.3 404.5,304.3 405.0,305.5 405.5,306.4 406.0,307.9 406.5,308.0 407.0,308.0 407.5,310.8 408.0,309.4 408.5,311.7 409.0,311.2 409.5,310.0 410.0,311.2 410.5,310.0 411.0,308.3 411.5,306.0 412.0,310.1 412.5,310.0 413.0,309.5 413.5,307.6 414.0,306.7 414.5,306.1 415.0,304.9 415.5,305.4 416.0,307.8 416.5,306.5 417.0,305.0 417.5,305.4 418.0,306.2 418.5,304.1 419.0,304.7 419.5,303.5 420.0,302.4 420.5,302.8 421.0,300.8 421.5,301.6 422.0,301.7 422.5,302.8 423.0,301.2 423.5,300.3 424.0,301.7 424.5,304.2 425.0,299.8 425.5,299.4 426.0,299.7 426.5,300.9 427.0,300.4 427.5,300.3 428.0,299.8 428.5,300.3 429.0,299.0 429.5,299.3 430.0,299.8 430.5,300.0 431.0,300.3 431.5,301.9 432.0,301.3 432.5,301.1 433.0,301.1 433.5,302.6 434.0,302.4 434.5,301.4 435.0,302.4 435.5,302.4 436.0,302.8 436.5,303.7 437.0,303.3 437.5,302.9 438.0,304.2 438.5,303.6 439.0,303.3 439.5,303.2 440.0,304.3 440.5,304.1 441.0,302.4 441.5,302.9 442.0,303.9 442.5,300.7 443.0,301.0 443.5,301.8 444.0,302.8 444.5,300.5 445.0,299.0 445.5,299.5 446.0,300.5 446.5,300.3 447.0,297.1 447.5,298.2 448.0,298.4 448.5,299.3 449.0,299.0 449.5,298.3 450.0,296.7 450.5,299.5 451.0,299.7 451.5,297.9 452.0,297.2 452.5,294.6 453.0,296.7 453.5,297.0 454.0,297.5 454.5,298.3 455.0,300.4 455.5,296.3 456.0,296.9 456.5,297.8 457.0,300.5 457.5,299.0 458.0,299.5 458.5,299.5 459.0,297.5 459.5,296.8 460.0,297.4 460.5,300.6 461.0,301.5 461.5,299.6 462.0,302.4 462.5,302.6 463.0,302.5 463.5,303.1 464.0,303.3 464.5,301.8 465.0,304.8 465.5,303.4 466.0,303.6 466.5,305.5 467.0,306.2 467.5,304.1 468.0,301.9 468.5,299.7 469.0,300.2 469.5,301.3 470.0,301.5 470.5,299.5 471.0,298.8 471.5,299.5 472.0,299.5 472.5,298.8 473.0,298.0 473.5,297.8 474.0,297.1 474.5,296.9 475.0,300.5 475.5,298.3 476.0,298.1 476.5,295.1 477.0,294.5 477.5,296.5 478.0,297.1 478.5,296.7 479.0,296.4 479.5,295.9 480.0,296.8 480.5,296.9 481.0,295.9 481.5,296.7 482.0,297.1 482.5,297.6 483.0,298.0 483.5,297.2 484.0,298.0 484.5,299.3 485.0,298.4 485.5,296.3 486.0,296.9 486.5,298.7 487.0,300.5 487.5,299.4 488.0,298.1 488.5,297.8 489.0,298.4 489.5,299.7 490.0,301.7 490.5,300.6 491.0,301.7 491.5,303.5 492.0,303.0 492.5,303.5 493.0,303.7 493.5,302.4 494.0,302.5 494.5,301.4 495.0,304.4 495.5,305.3 496.0,302.5 496.5,304.9 497.0,305.6 497.5,304.6 498.0,302.4 498.5,303.9 499.0,304.2 499.5,302.7 500.0,303.7 500.5,304.1 501.0,303.4 501.5,303.4 502.0,303.0 502.5,302.9 503.0,300.8 503.5,300.8 504.0,301.7 504.5,301.4 505.0,298.4 505.5,300.5 506.0,300.6 506.5,301.2 507.0,302.2 507.5,300.5 508.0,297.0 508.5,297.0 509.0,300.0 509.5,300.1 510.0,300.3 510.5,300.3 511.0,299.4 511.5,299.4 512.0,299.5 512.5,300.1 513.0,301.3 513.5,299.4 514.0,300.0 514.5,299.0 515.0,301.4 515.5,300.6 516.0,302.6 516.5,301.1 517.0,302.2 517.5,301.4 518.0,302.3 518.5,303.3 519.0,304.1 519.5,303.6 520.0,306.3 520.5,306.2 521.0,303.6 521.5,304.0 522.0,304.3 522.5,306.1 523.0,304.1 523.5,303.3 524.0,303.9 524.5,304.2 525.0,305.6 525.5,303.6 526.0,302.8 526.5,302.1 527.0,300.0 527.5,300.0 528.0,298.5 528.5,299.1 529.0,298.7 529.5,298.0 530.0,299.6 530.5,300.7 531.0,301.7 531.5,299.3 532.0,297.6 532.5,297.0 533.0,298.6 533.5,299.5 534.0,300.7 534.5,298.8 535.0,300.1 535.5,298.9 536.0,298.7 536.5,299.6 537.0,299.1 537.5,298.8 538.0,300.6 538.5,300.3 539.0,298.8 539.5,299.2 540.0,300.3 540.5,301.4 541.0,301.7 541.5,301.0 542.0,301.6 542.5,300.7 543.0,301.2 543.5,301.1 544.0,303.2 544.5,303.2 545.0,300.7 545.5,301.3 546.0,301.7 546.5,299.0 547.0,300.5 547.5,299.9 548.0,301.7 548.5,299.0 549.0,297.6 549.5,300.8 550.0,298.2 550.5,298.1 551.0,298.2 551.5,299.3 552.0,297.2 552.5,295.0 553.0,295.7 553.5,296.9 554.0,298.5 554.5,298.7 555.0,297.9 555.5,297.4 556.0,299.0 556.5,296.8 557.0,297.3 557.5,296.4 558.0,297.7 558.5,299.0 559.0,296.0 559.5,297.5 560.0,298.7 560.5,299.8 561.0,298.1 561.5,298.1 562.0,296.8 562.5,296.9 563.0,297.1 563.5,300.6 564.0,298.6 564.5,296.8 565.0,297.6 565.5,298.1 566.0,295.8 566.5,297.4 567.0,296.5 567.5,299.0 568.0,296.3 568.5,298.9 569.0,299.3 569.5,296.8 570.0,296.1 570.5,295.8 571.0,294.9 571.5,297.4 572.0,295.6 572.5,296.4 573.0,293.9 573.5,294.1 574.0,297.2 574.5,297.0 575.0,298.5 575.5,297.7 576.0,296.1 576.5,295.2 577.0,297.2 577.5,297.5 578.0,296.7 578.5,295.5 579.0,297.2 579.5,296.5 580.0,296.7 580.5,297.3 581.0,297.2 581.5,296.4 582.0,296.1 582.5,294.5 583.0,296.5 583.5,298.8 584.0,298.6 584.5,298.3 585.0,296.0 585.5,295.8 586.0,296.9 586.5,296.3 587.0,295.7 587.5,298.2 588.0,298.3 588.5,297.3 589.0,294.8 589.5,295.8 590.0,297.6 590.5,298.0 591.0,297.5 591.5,295.5 592.0,294.7 592.5,295.6 593.0,297.2 593.5,296.9 594.0,296.1 594.5,298.0 595.0,296.6 595.5,296.6 596.0,296.9 596.5,296.7 597.0,294.5 597.5,295.8 598.0,297.4 598.5,297.5 599.0,297.5 599.5,296.8 600.0,296.5 600.5,296.5 601.0,295.1 601.5,295.9 602.0,294.2 602.5,294.7 603.0,294.9 603.5,295.7 604.0,296.6 604.5,295.8 605.0,294.5 605.5,295.3 606.0,293.7 606.5,294.8 607.0,293.7 607.5,292.9 608.0,295.2 608.5,293.6 609.0,293.5 609.5,294.3 610.0,292.0 610.5,291.5 611.0,294.0 611.5,292.4 612.0,292.5 612.5,292.1 613.0,292.7 613.5,291.8 614.0,291.9 614.5,294.1 615.0,294.1 615.5,293.3 616.0,291.2 616.5,292.4 617.0,292.2 617.5,294.0 618.0,293.5 618.5,292.5 619.0,292.0 619.5,291.4 620.0,291.3 620.5,291.1 621.0,291.6 621.5,289.8 622.0,291.0 622.5,292.6 623.0,291.2 623.5,290.1 624.0,290.4 624.5,292.1 625.0,292.3 625.5,291.5 626.0,292.0 626.5,293.8 627.0,290.8 627.5,288.2 628.0,290.8 628.5,291.8 629.0,291.8 629.5,293.1 630.0,289.4 630.5,290.7 631.0,289.9 631.5,292.2 632.0,292.2 632.5,291.0 633.0,291.5 633.5,292.4 634.0,291.4 634.5,290.8 635.0,292.9 635.5,292.3 636.0,292.2 636.5,291.0 637.0,292.2 637.5,293.1 638.0,295.5 638.5,294.8 639.0,294.0 639.5,293.2 640.0,291.7 640.5,291.8 641.0,293.9 641.5,294.6 642.0,294.5 642.5,293.7 643.0,293.8 643.5,294.2 644.0,295.5 644.5,294.5 645.0,292.9 645.5,293.5 646.0,296.4 646.5,296.6 647.0,296.6 647.5,293.6 648.0,290.5 648.5,293.8 649.0,295.2 649.5,294.8 650.0,292.9 650.5,293.7 651.0,296.1 651.5,295.6 652.0,295.8 652.5,295.1 653.0,293.8 653.5,294.2 654.0,296.8 654.5,295.3 655.0,295.1 655.5,297.0 656.0,297.0 656.5,296.9 657.0,295.7 657.5,294.8 658.0,295.3 658.5,296.1 659.0,294.9 659.5,295.1 660.0,296.8 660.5,297.0 661.0,297.9 661.5,297.1 662.0,296.7" fill="none" stroke="#3a5fbd" stroke-width="1.45" stroke-linejoin="round" clip-path="url(#f)"/>
<polyline points="374.5,274.1 375.0,273.4 375.5,272.6 376.0,272.5 376.5,273.5 377.0,273.3 377.5,273.0 378.0,272.9 378.5,272.1 379.0,272.5 379.5,272.1 380.0,272.5 380.5,272.8 381.0,272.7 381.5,272.9 382.0,272.5 382.5,272.1 383.0,272.4 383.5,272.8 384.0,272.4 384.5,271.6 385.0,272.0 385.5,272.9 386.0,272.3 386.5,271.8 387.0,272.2 387.5,272.5 388.0,272.8 388.5,272.6 389.0,272.1 389.5,272.6 390.0,271.4 390.5,271.3 391.0,271.9 391.5,272.2 392.0,271.2 392.5,272.5 393.0,272.8 393.5,272.0 394.0,272.1 394.5,271.8 395.0,271.9 395.5,272.1 396.0,272.3 396.5,272.3 397.0,272.1 397.5,272.1 398.0,272.0 398.5,272.6 399.0,272.6 399.5,273.3 400.0,273.2 400.5,272.0 401.0,272.2 401.5,272.2 402.0,272.3 402.5,272.1 403.0,273.1 403.5,273.5 404.0,273.5 404.5,272.6 405.0,272.1 405.5,272.6 406.0,272.8 406.5,273.0 407.0,273.9 407.5,273.4 408.0,272.8 408.5,273.2 409.0,272.7 409.5,272.2 410.0,272.4 410.5,273.5 411.0,273.3 411.5,273.0 412.0,272.3 412.5,272.3 413.0,272.4 413.5,272.2 414.0,271.7 414.5,271.8 415.0,271.7 415.5,270.8 416.0,271.1 416.5,271.7 417.0,271.6 417.5,270.8 418.0,270.8 418.5,271.5 419.0,270.7 419.5,270.4 420.0,270.4 420.5,270.5 421.0,271.1 421.5,271.3 422.0,271.4 422.5,271.1 423.0,271.5 423.5,271.1 424.0,269.9 424.5,270.3 425.0,271.0 425.5,272.2 426.0,271.8 426.5,271.2 427.0,271.2 427.5,271.2 428.0,270.9 428.5,271.4 429.0,271.5 429.5,271.2 430.0,271.8 430.5,271.6 431.0,271.9 431.5,271.4 432.0,271.6 432.5,271.9 433.0,271.2 433.5,271.9 434.0,271.6 434.5,271.0 435.0,271.7 435.5,271.7 436.0,271.8 436.5,271.8 437.0,271.8 437.5,271.9 438.0,272.3 438.5,271.5 439.0,272.0 439.5,271.7 440.0,272.3 440.5,271.9 441.0,271.0 441.5,271.3 442.0,272.0 442.5,271.9 443.0,272.0 443.5,271.8 444.0,272.8 444.5,273.1 445.0,272.2 445.5,272.3 446.0,272.4 446.5,272.3 447.0,272.0 447.5,272.9 448.0,272.8 448.5,271.7 449.0,273.3 449.5,273.4 450.0,273.5 450.5,273.0 451.0,272.8 451.5,272.9 452.0,272.9 452.5,272.8 453.0,273.2 453.5,274.8 454.0,273.2 454.5,273.2 455.0,273.3 455.5,272.2 456.0,272.6 456.5,272.8 457.0,272.5 457.5,272.7 458.0,273.0 458.5,273.0 459.0,273.1 459.5,273.1 460.0,273.0 460.5,272.1 461.0,271.9 461.5,272.1 462.0,272.9 462.5,273.2 463.0,273.1 463.5,272.5 464.0,272.6 464.5,272.0 465.0,271.8 465.5,273.2 466.0,272.9 466.5,272.1 467.0,271.5 467.5,272.1 468.0,271.4 468.5,271.9 469.0,272.6 469.5,272.0 470.0,272.5 470.5,272.5 471.0,272.1 471.5,272.2 472.0,272.7 472.5,272.3 473.0,271.6 473.5,270.7 474.0,272.3 474.5,272.5 475.0,271.9 475.5,271.5 476.0,272.0 476.5,272.1 477.0,271.8 477.5,271.4 478.0,271.8 478.5,272.7 479.0,272.3 479.5,271.8 480.0,272.5 480.5,272.2 481.0,271.8 481.5,271.8 482.0,271.6 482.5,271.5 483.0,272.1 483.5,272.8 484.0,272.3 484.5,272.4 485.0,272.0 485.5,272.4 486.0,272.9 486.5,272.1 487.0,272.3 487.5,271.7 488.0,272.2 488.5,272.7 489.0,273.1 489.5,271.9 490.0,272.6 490.5,272.5 491.0,272.4 491.5,272.3 492.0,273.3 492.5,273.2 493.0,272.3 493.5,272.3 494.0,272.2 494.5,272.8 495.0,273.6 495.5,273.3 496.0,272.1 496.5,271.9 497.0,271.7 497.5,272.3 498.0,272.6 498.5,272.6 499.0,272.9 499.5,273.2 500.0,272.8 500.5,272.0 501.0,272.6 501.5,272.9 502.0,272.6 502.5,272.4 503.0,272.6 503.5,271.9 504.0,271.9 504.5,272.0 505.0,272.1 505.5,271.9 506.0,271.9 506.5,271.7 507.0,271.6 507.5,271.9 508.0,272.4 508.5,272.8 509.0,273.7 509.5,272.3 510.0,272.7 510.5,272.2 511.0,271.8 511.5,272.3 512.0,272.9 512.5,271.9 513.0,272.5 513.5,272.2 514.0,272.8 514.5,272.8 515.0,273.0 515.5,272.3 516.0,271.8 516.5,271.2 517.0,272.1 517.5,271.8 518.0,272.5 518.5,273.0 519.0,272.9 519.5,273.3 520.0,272.9 520.5,273.1 521.0,272.7 521.5,272.4 522.0,271.9 522.5,272.6 523.0,272.7 523.5,272.6 524.0,272.1 524.5,272.8 525.0,273.4 525.5,272.7 526.0,272.7 526.5,272.7 527.0,272.8 527.5,272.1 528.0,272.2 528.5,273.0 529.0,273.0 529.5,271.8 530.0,272.4 530.5,271.7 531.0,272.5 531.5,273.0 532.0,272.7 532.5,273.2 533.0,272.2 533.5,272.3 534.0,272.7 534.5,272.9 535.0,272.4 535.5,272.8 536.0,272.8 536.5,273.7 537.0,273.2 537.5,272.1 538.0,272.2 538.5,272.9 539.0,273.4 539.5,272.3 540.0,272.3 540.5,272.5 541.0,272.0 541.5,272.7 542.0,273.4 542.5,273.4 543.0,272.7 543.5,271.6 544.0,271.8 544.5,272.3 545.0,273.6 545.5,273.7 546.0,273.2 546.5,273.5 547.0,273.1 547.5,273.1 548.0,272.5 548.5,272.0 549.0,272.4 549.5,273.5 550.0,274.2 550.5,273.0 551.0,272.2 551.5,272.6 552.0,273.0 552.5,273.2 553.0,273.0 553.5,272.3 554.0,272.9 554.5,273.1 555.0,272.8 555.5,272.6 556.0,272.9 556.5,274.0 557.0,273.9 557.5,273.4 558.0,273.4 558.5,273.0 559.0,272.2 559.5,272.2 560.0,272.8 560.5,272.7 561.0,272.8 561.5,273.6 562.0,272.1 562.5,272.3 563.0,272.3 563.5,273.0 564.0,272.5 564.5,273.1 565.0,272.7 565.5,272.9 566.0,272.3 566.5,272.6 567.0,272.6 567.5,272.1 568.0,272.6 568.5,273.4 569.0,272.3 569.5,272.7 570.0,273.0 570.5,272.2 571.0,273.1 571.5,272.8 572.0,272.3 572.5,272.6 573.0,273.3 573.5,273.2 574.0,273.3 574.5,273.3 575.0,273.2 575.5,272.7 576.0,272.5 576.5,273.2 577.0,273.0 577.5,273.0 578.0,272.4 578.5,272.1 579.0,272.5 579.5,272.5 580.0,272.3 580.5,272.8 581.0,273.0 581.5,272.7 582.0,273.4 582.5,273.3 583.0,273.2 583.5,272.5 584.0,272.7 584.5,273.5 585.0,273.3 585.5,273.8 586.0,273.1 586.5,273.7 587.0,274.0 587.5,273.0 588.0,271.9 588.5,272.3 589.0,272.1 589.5,272.8 590.0,273.3 590.5,273.4 591.0,273.6 591.5,273.0 592.0,272.7 592.5,272.7 593.0,272.9 593.5,272.7 594.0,273.3 594.5,273.6 595.0,273.1 595.5,273.2 596.0,273.3 596.5,273.2 597.0,273.7 597.5,273.4 598.0,273.5 598.5,272.8 599.0,272.7 599.5,272.9 600.0,273.8 600.5,273.9 601.0,273.9 601.5,273.6 602.0,273.0 602.5,274.2 603.0,273.5 603.5,274.1 604.0,273.9 604.5,273.4 605.0,273.3 605.5,273.1 606.0,273.1 606.5,273.3 607.0,274.1 607.5,273.6 608.0,272.3 608.5,272.6 609.0,273.4 609.5,273.6 610.0,273.3 610.5,273.2 611.0,273.3 611.5,273.6 612.0,273.2 612.5,272.9 613.0,273.9 613.5,274.2 614.0,273.8 614.5,273.5 615.0,272.5 615.5,273.5 616.0,273.9 616.5,273.7 617.0,273.7 617.5,273.2 618.0,273.4 618.5,273.6 619.0,273.1 619.5,273.1 620.0,273.5 620.5,274.0 621.0,273.3 621.5,273.4 622.0,273.2 622.5,273.9 623.0,273.6 623.5,273.5 624.0,273.2 624.5,273.6 625.0,273.0 625.5,273.5 626.0,273.5 626.5,274.3 627.0,273.3 627.5,273.4 628.0,273.8 628.5,274.4 629.0,273.7 629.5,273.3 630.0,273.1 630.5,273.9 631.0,273.5 631.5,273.7 632.0,274.1 632.5,274.1 633.0,273.9 633.5,273.4 634.0,273.9 634.5,273.9 635.0,274.4 635.5,273.3 636.0,273.0 636.5,272.8 637.0,272.7 637.5,273.8 638.0,273.9 638.5,273.9 639.0,273.6 639.5,273.8 640.0,273.1 640.5,272.9 641.0,273.9 641.5,273.7 642.0,274.0 642.5,273.9 643.0,273.7 643.5,274.6 644.0,273.8 644.5,273.7 645.0,273.9 645.5,273.6 646.0,273.0 646.5,273.2 647.0,273.6 647.5,273.2 648.0,273.9 648.5,273.7 649.0,273.4 649.5,274.2 650.0,273.9 650.5,273.8 651.0,273.3 651.5,273.8 652.0,273.9 652.5,273.6 653.0,273.8 653.5,273.4 654.0,273.5 654.5,273.9 655.0,273.0 655.5,273.8 656.0,274.2 656.5,274.1 657.0,273.5 657.5,273.5 658.0,273.9 658.5,274.2 659.0,273.7 659.5,274.6 660.0,273.4 660.5,274.2 661.0,274.2 661.5,273.7 662.0,274.6" fill="none" stroke="#3db57a" stroke-width="1.75" stroke-linejoin="round" clip-path="url(#f)"/>
<polyline points="374.5,298.1 375.0,300.4 375.5,302.3 376.0,306.2 376.5,306.2 377.0,304.7 377.5,304.5 378.0,305.5 378.5,305.3 379.0,305.7 379.5,303.6 380.0,303.9 380.5,305.0 381.0,303.2 381.5,301.6 382.0,301.0 382.5,301.6 383.0,303.2 383.5,303.0 384.0,301.7 384.5,301.1 385.0,302.9 385.5,302.8 386.0,300.3 386.5,299.8 387.0,299.0 387.5,300.1 388.0,301.0 388.5,300.9 389.0,300.5 389.5,301.4 390.0,298.3 390.5,300.8 391.0,298.5 391.5,300.2 392.0,299.8 392.5,299.5 393.0,300.3 393.5,301.2 394.0,300.9 394.5,302.7 395.0,302.1 395.5,302.7 396.0,303.9 396.5,304.3 397.0,302.9 397.5,303.2 398.0,304.3 398.5,303.8 399.0,304.5 399.5,304.3 400.0,303.2 400.5,305.0 401.0,306.4 401.5,303.5 402.0,302.8 402.5,302.6 403.0,304.0 403.5,304.6 404.0,302.6 404.5,302.2 405.0,304.2 405.5,305.3 406.0,302.1 406.5,301.3 407.0,303.1 407.5,306.9 408.0,304.2 408.5,304.5 409.0,301.9 409.5,302.6 410.0,305.1 410.5,306.4 411.0,305.3 411.5,304.8 412.0,305.6 412.5,305.7 413.0,307.1 413.5,307.9 414.0,308.9 414.5,308.4 415.0,308.4 415.5,309.9 416.0,310.8 416.5,309.5 417.0,309.7 417.5,311.8 418.0,311.3 418.5,313.1 419.0,313.3 419.5,310.6 420.0,310.7 420.5,310.0 421.0,313.1 421.5,311.0 422.0,312.0 422.5,309.3 423.0,308.8 423.5,309.4 424.0,308.0 424.5,308.1 425.0,308.4 425.5,307.4 426.0,307.5 426.5,309.0 427.0,308.4 427.5,308.9 428.0,308.3 428.5,307.5 429.0,306.7 429.5,305.9 430.0,308.4 430.5,307.7 431.0,309.4 431.5,309.5 432.0,310.2 432.5,309.8 433.0,309.5 433.5,308.8 434.0,309.0 434.5,313.4 435.0,313.0 435.5,311.1 436.0,311.7 436.5,315.6 437.0,314.9 437.5,313.9 438.0,314.4 438.5,313.9 439.0,315.7 439.5,316.7 440.0,314.7 440.5,313.6 441.0,314.9 441.5,310.8 442.0,312.4 442.5,312.0 443.0,312.9 443.5,310.7 444.0,310.2 444.5,310.2 445.0,311.6 445.5,309.0 446.0,307.7 446.5,309.6 447.0,310.2 447.5,307.8 448.0,309.2 448.5,309.8 449.0,310.2 449.5,309.9 450.0,311.2 450.5,311.1 451.0,311.7 451.5,312.3 452.0,312.3 452.5,312.1 453.0,312.3 453.5,313.5 454.0,312.9 454.5,313.9 455.0,316.8 455.5,317.6 456.0,318.8 456.5,319.7 457.0,319.4 457.5,317.3 458.0,318.9 458.5,320.1 459.0,320.2 459.5,318.8 460.0,318.4 460.5,319.6 461.0,319.8 461.5,321.0 462.0,319.8 462.5,321.5 463.0,321.7 463.5,319.7 464.0,318.5 464.5,320.8 465.0,318.8 465.5,318.7 466.0,318.8 466.5,316.6 467.0,316.0 467.5,315.4 468.0,316.0 468.5,315.7 469.0,315.7 469.5,312.2 470.0,311.7 470.5,313.7 471.0,314.0 471.5,313.6 472.0,312.5 472.5,312.7 473.0,314.5 473.5,314.8 474.0,314.4 474.5,313.3 475.0,313.8 475.5,315.7 476.0,318.6 476.5,318.5 477.0,316.7 477.5,318.7 478.0,320.8 478.5,321.2 479.0,321.6 479.5,323.5 480.0,325.3 480.5,327.5 481.0,329.2 481.5,329.1 482.0,330.3 482.5,333.0 483.0,336.5 483.5,338.7 484.0,337.5 484.5,336.4 485.0,338.4 485.5,336.6 486.0,336.5 486.5,334.5 487.0,331.8 487.5,327.5 488.0,328.5 488.5,328.7 489.0,327.4 489.5,324.4 490.0,324.0 490.5,322.1 491.0,322.5 491.5,322.0 492.0,318.7 492.5,316.4 493.0,318.0 493.5,314.8 494.0,314.3 494.5,314.6 495.0,317.5 495.5,319.3 496.0,318.7 496.5,316.9 497.0,317.7 497.5,316.5 498.0,317.6 498.5,321.3 499.0,320.6 499.5,319.0 500.0,319.8 500.5,320.7 501.0,322.1 501.5,323.5 502.0,325.6 502.5,326.6 503.0,328.0 503.5,329.3 504.0,332.5 504.5,331.6 505.0,330.9 505.5,327.2 506.0,329.7 506.5,332.0 507.0,330.3 507.5,328.9 508.0,329.6 508.5,329.5 509.0,332.3 509.5,331.7 510.0,329.0 510.5,329.9 511.0,327.7 511.5,325.8 512.0,326.7 512.5,326.5 513.0,326.5 513.5,322.6 514.0,322.2 514.5,322.5 515.0,322.2 515.5,324.4 516.0,323.5 516.5,322.6 517.0,322.3 517.5,325.0 518.0,323.8 518.5,322.2 519.0,322.6 519.5,322.5 520.0,322.7 520.5,322.2 521.0,321.5 521.5,321.4 522.0,321.1 522.5,322.3 523.0,322.5 523.5,321.7 524.0,322.6 524.5,319.6 525.0,318.9 525.5,318.7 526.0,319.0 526.5,316.5 527.0,318.3 527.5,318.6 528.0,316.9 528.5,318.3 529.0,316.4 529.5,315.2 530.0,317.4 530.5,317.7 531.0,317.0 531.5,316.6 532.0,317.0 532.5,318.0 533.0,315.6 533.5,316.0 534.0,316.2 534.5,315.4 535.0,316.5 535.5,316.4 536.0,315.3 536.5,314.0 537.0,316.0 537.5,313.3 538.0,313.4 538.5,311.6 539.0,310.0 539.5,307.4 540.0,308.1 540.5,308.4 541.0,309.1 541.5,308.7 542.0,306.7 542.5,306.3 543.0,306.6 543.5,307.9 544.0,307.4 544.5,307.2 545.0,306.7 545.5,306.1 546.0,306.9 546.5,307.0 547.0,307.3 547.5,309.4 548.0,307.4 548.5,305.8 549.0,306.3 549.5,307.3 550.0,306.8 550.5,307.7 551.0,306.4 551.5,306.6 552.0,305.7 552.5,306.9 553.0,306.8 553.5,307.2 554.0,305.9 554.5,307.2 555.0,305.3 555.5,303.6 556.0,305.6 556.5,306.8 557.0,306.1 557.5,304.7 558.0,307.6 558.5,304.9 559.0,302.7 559.5,304.9 560.0,305.7 560.5,305.4 561.0,305.5 561.5,303.0 562.0,302.8 562.5,303.2 563.0,307.0 563.5,306.4 564.0,303.5 564.5,303.4 565.0,302.0 565.5,303.9 566.0,301.9 566.5,301.5 567.0,303.5 567.5,304.2 568.0,305.1 568.5,301.0 569.0,299.6 569.5,302.6 570.0,302.4 570.5,301.7 571.0,300.6 571.5,301.9 572.0,300.8 572.5,303.2 573.0,300.2 573.5,300.2 574.0,301.1 574.5,301.9 575.0,302.6 575.5,302.3 576.0,300.4 576.5,298.5 577.0,300.3 577.5,301.7 578.0,303.4 578.5,301.9 579.0,299.6 579.5,300.9 580.0,300.8 580.5,302.1 581.0,301.9 581.5,301.6 582.0,301.3 582.5,304.0 583.0,300.5 583.5,301.2 584.0,300.8 584.5,302.8 585.0,304.8 585.5,302.8 586.0,302.7 586.5,304.1 587.0,305.4 587.5,303.5 588.0,303.3 588.5,302.5 589.0,303.5 589.5,304.4 590.0,303.0 590.5,303.9 591.0,305.8 591.5,305.4 592.0,304.4 592.5,304.7 593.0,303.7 593.5,303.7 594.0,300.7 594.5,303.2 595.0,305.0 595.5,303.7 596.0,303.4 596.5,303.0 597.0,303.6 597.5,302.3 598.0,302.3 598.5,302.0 599.0,300.2 599.5,300.5 600.0,301.8 600.5,300.4 601.0,299.3 601.5,297.9 602.0,299.8 602.5,299.4 603.0,299.2 603.5,299.8 604.0,300.1 604.5,298.2 605.0,300.3 605.5,300.6 606.0,301.1 606.5,298.7 607.0,301.1 607.5,302.1 608.0,301.6 608.5,302.7 609.0,302.8 609.5,302.8 610.0,304.0 610.5,303.3 611.0,303.3 611.5,306.0 612.0,305.4 612.5,305.2 613.0,307.6 613.5,306.7 614.0,306.5 614.5,305.5 615.0,305.4 615.5,308.4 616.0,306.3 616.5,306.2 617.0,305.9 617.5,307.6 618.0,307.8 618.5,308.1 619.0,306.0 619.5,305.0 620.0,303.1 620.5,306.2 621.0,305.3 621.5,305.2 622.0,306.7 622.5,306.0 623.0,306.3 623.5,304.3 624.0,305.2 624.5,306.0 625.0,305.0 625.5,302.8 626.0,304.1 626.5,303.6 627.0,303.6 627.5,304.1 628.0,302.8 628.5,302.2 629.0,304.2 629.5,302.7 630.0,303.5 630.5,301.5 631.0,301.2 631.5,301.1 632.0,303.8 632.5,305.2 633.0,304.7 633.5,305.5 634.0,304.5 634.5,304.1 635.0,302.9 635.5,305.4 636.0,307.0 636.5,306.8 637.0,304.5 637.5,303.9 638.0,304.1 638.5,306.2 639.0,305.5 639.5,306.3 640.0,305.1 640.5,304.1 641.0,306.1 641.5,304.6 642.0,303.1 642.5,304.7 643.0,302.6 643.5,302.2 644.0,301.6 644.5,305.2 645.0,303.4 645.5,303.1 646.0,302.9 646.5,301.0 647.0,301.5 647.5,302.0 648.0,301.0 648.5,302.2 649.0,303.4 649.5,301.9 650.0,302.8 650.5,302.1 651.0,300.4 651.5,302.2 652.0,302.9 652.5,301.1 653.0,302.4 653.5,301.6 654.0,301.5 654.5,302.9 655.0,303.0 655.5,303.5 656.0,303.0 656.5,303.2 657.0,302.8 657.5,302.4 658.0,304.1 658.5,302.3 659.0,302.5 659.5,302.3 660.0,304.2 660.5,303.8 661.0,302.5 661.5,305.5 662.0,307.5" fill="none" stroke="#e3a12f" stroke-width="1.45" stroke-linejoin="round" clip-path="url(#f)"/>
<polyline points="374.5,309.1 375.0,307.2 375.5,307.9 376.0,309.9 376.5,309.5 377.0,307.3 377.5,306.5 378.0,306.7 378.5,306.9 379.0,307.5 379.5,306.2 380.0,304.6 380.5,303.1 381.0,305.8 381.5,305.5 382.0,305.6 382.5,306.4 383.0,305.4 383.5,305.6 384.0,304.8 384.5,304.5 385.0,306.0 385.5,307.0 386.0,305.5 386.5,304.9 387.0,307.1 387.5,306.5 388.0,305.0 388.5,305.8 389.0,306.9 389.5,306.4 390.0,305.6 390.5,308.1 391.0,310.4 391.5,308.3 392.0,308.8 392.5,310.5 393.0,314.4 393.5,313.1 394.0,312.7 394.5,314.5 395.0,313.4 395.5,315.4 396.0,317.6 396.5,318.7 397.0,315.8 397.5,316.7 398.0,318.0 398.5,316.1 399.0,315.7 399.5,315.5 400.0,313.4 400.5,313.7 401.0,312.5 401.5,312.7 402.0,312.2 402.5,311.6 403.0,310.5 403.5,311.2 404.0,310.3 404.5,309.1 405.0,309.7 405.5,308.7 406.0,309.0 406.5,308.2 407.0,307.2 407.5,307.8 408.0,308.7 408.5,308.1 409.0,310.5 409.5,312.1 410.0,309.7 410.5,306.8 411.0,306.6 411.5,308.1 412.0,308.2 412.5,308.4 413.0,308.0 413.5,309.1 414.0,310.3 414.5,311.1 415.0,309.7 415.5,311.4 416.0,313.3 416.5,314.0 417.0,316.0 417.5,318.1 418.0,319.1 418.5,318.0 419.0,322.1 419.5,321.5 420.0,321.9 420.5,320.9 421.0,322.2 421.5,320.4 422.0,320.4 422.5,321.1 423.0,322.1 423.5,321.9 424.0,319.4 424.5,321.2 425.0,322.8 425.5,322.7 426.0,322.8 426.5,322.4 427.0,320.7 427.5,319.7 428.0,319.0 428.5,318.4 429.0,321.6 429.5,319.8 430.0,320.4 430.5,321.6 431.0,321.8 431.5,320.8 432.0,319.6 432.5,320.4 433.0,318.8 433.5,320.4 434.0,319.3 434.5,322.1 435.0,319.5 435.5,319.1 436.0,320.4 436.5,318.4 437.0,318.5 437.5,321.7 438.0,323.6 438.5,320.9 439.0,321.1 439.5,319.5 440.0,317.6 440.5,319.9 441.0,321.2 441.5,320.2 442.0,321.0 442.5,322.3 443.0,323.2 443.5,320.8 444.0,320.1 444.5,321.8 445.0,319.3 445.5,315.1 446.0,319.9 446.5,321.7 447.0,322.8 447.5,321.7 448.0,317.4 448.5,319.0 449.0,320.4 449.5,322.1 450.0,324.2 450.5,328.4 451.0,333.3 451.5,334.1 452.0,336.5 452.5,337.9 453.0,338.7 453.5,335.2 454.0,335.3 454.5,334.2 455.0,331.8 455.5,333.9 456.0,332.6 456.5,327.9 457.0,333.7 457.5,335.5 458.0,329.0 458.5,325.5 459.0,326.3 459.5,326.7 460.0,326.7 460.5,326.5 461.0,323.9 461.5,323.8 462.0,324.8 462.5,324.0 463.0,324.7 463.5,320.0 464.0,320.8 464.5,320.5 465.0,320.7 465.5,318.3 466.0,319.0 466.5,315.8 467.0,317.4 467.5,318.1 468.0,318.2 468.5,317.5 469.0,318.5 469.5,317.5 470.0,318.6 470.5,318.2 471.0,315.9 471.5,317.2 472.0,319.0 472.5,317.9 473.0,317.9 473.5,317.4 474.0,316.2 474.5,318.8 475.0,320.6 475.5,321.8 476.0,318.1 476.5,318.2 477.0,322.7 477.5,320.3 478.0,321.0 478.5,324.1 479.0,321.4 479.5,324.2 480.0,323.4 480.5,321.2 481.0,322.6 481.5,324.4 482.0,327.3 482.5,325.5 483.0,325.7 483.5,325.7 484.0,326.0 484.5,325.1 485.0,326.0 485.5,327.3 486.0,330.3 486.5,329.9 487.0,328.4 487.5,327.2 488.0,328.2 488.5,333.9 489.0,333.3 489.5,333.6 490.0,335.8 490.5,338.3 491.0,333.0 491.5,334.8 492.0,334.4 492.5,335.3 493.0,334.1 493.5,333.2 494.0,329.0 494.5,326.6 495.0,328.2 495.5,326.8 496.0,324.5 496.5,320.7 497.0,319.2 497.5,321.5 498.0,323.1 498.5,320.6 499.0,318.5 499.5,318.2 500.0,318.2 500.5,318.1 501.0,317.2 501.5,315.3 502.0,313.0 502.5,314.5 503.0,318.1 503.5,313.3 504.0,313.4 504.5,311.1 505.0,312.2 505.5,311.0 506.0,307.6 506.5,305.5 507.0,306.9 507.5,309.2 508.0,309.7 508.5,308.0 509.0,309.3 509.5,308.4 510.0,306.3 510.5,307.3 511.0,311.0 511.5,309.2 512.0,308.2 512.5,310.7 513.0,311.7 513.5,312.2 514.0,308.5 514.5,313.3 515.0,315.5 515.5,316.1 516.0,319.8 516.5,317.5 517.0,316.8 517.5,320.3 518.0,325.6 518.5,329.2 519.0,326.7 519.5,327.9 520.0,325.8 520.5,325.8 521.0,329.0 521.5,330.0 522.0,330.0 522.5,325.0 523.0,323.8 523.5,326.5 524.0,324.7 524.5,323.5 525.0,320.7 525.5,321.4 526.0,316.5 526.5,314.4 527.0,316.5 527.5,313.9 528.0,310.1 528.5,312.9 529.0,314.4 529.5,309.7 530.0,312.1 530.5,307.7 531.0,305.2 531.5,303.9 532.0,304.5 532.5,309.7 533.0,307.7 533.5,306.3 534.0,307.7 534.5,308.8 535.0,306.7 535.5,308.6 536.0,305.9 536.5,307.5 537.0,306.8 537.5,308.6 538.0,306.0 538.5,307.5 539.0,306.8 539.5,309.5 540.0,311.1 540.5,311.7 541.0,313.9 541.5,311.4 542.0,311.2 542.5,315.2 543.0,316.7 543.5,315.2 544.0,315.7 544.5,314.3 545.0,315.7 545.5,315.8 546.0,315.7 546.5,316.5 547.0,316.3 547.5,318.3 548.0,315.7 548.5,314.3 549.0,311.9 549.5,313.0 550.0,311.9 550.5,314.2 551.0,313.6 551.5,312.5 552.0,314.6 552.5,309.2 553.0,310.2 553.5,308.0 554.0,306.0 554.5,309.2 555.0,309.3 555.5,308.2 556.0,310.9 556.5,310.0 557.0,305.5 557.5,306.2 558.0,307.5 558.5,305.0 559.0,307.6 559.5,306.6 560.0,303.8 560.5,304.2 561.0,301.9 561.5,303.7 562.0,305.5 562.5,306.8 563.0,302.0 563.5,305.9 564.0,305.4 564.5,302.6 565.0,303.2 565.5,304.5 566.0,304.5 566.5,303.3 567.0,302.9 567.5,300.6 568.0,298.9 568.5,301.1 569.0,307.4 569.5,306.6 570.0,303.0 570.5,300.0 571.0,301.3 571.5,302.4 572.0,305.9 572.5,304.4 573.0,300.2 573.5,298.6 574.0,301.5 574.5,303.7 575.0,305.0 575.5,302.6 576.0,301.4 576.5,301.5 577.0,303.5 577.5,301.6 578.0,301.6 578.5,302.0 579.0,302.3 579.5,300.7 580.0,298.9 580.5,301.2 581.0,304.0 581.5,303.0 582.0,301.7 582.5,302.1 583.0,300.8 583.5,299.8 584.0,301.1 584.5,301.0 585.0,303.6 585.5,301.9 586.0,302.3 586.5,300.4 587.0,301.5 587.5,303.1 588.0,300.8 588.5,300.8 589.0,301.9 589.5,301.9 590.0,302.5 590.5,299.9 591.0,302.6 591.5,300.4 592.0,300.9 592.5,301.9 593.0,300.9 593.5,300.5 594.0,299.6 594.5,299.3 595.0,303.4 595.5,300.7 596.0,301.2 596.5,302.0 597.0,301.2 597.5,299.5 598.0,298.4 598.5,298.2 599.0,301.0 599.5,299.4 600.0,300.3 600.5,299.5 601.0,298.5 601.5,299.0 602.0,300.6 602.5,299.3 603.0,299.5 603.5,299.6 604.0,296.8 604.5,296.7 605.0,296.9 605.5,299.2 606.0,298.1 606.5,299.2 607.0,299.3 607.5,298.2 608.0,299.4 608.5,299.9 609.0,299.0 609.5,297.6 610.0,297.4 610.5,300.1 611.0,299.5 611.5,300.4 612.0,299.9 612.5,297.8 613.0,298.4 613.5,299.5 614.0,300.5 614.5,300.2 615.0,300.7 615.5,301.6 616.0,303.7 616.5,300.9 617.0,300.3 617.5,301.6 618.0,303.2 618.5,301.7 619.0,301.4 619.5,299.7 620.0,301.4 620.5,301.8 621.0,300.8 621.5,300.5 622.0,300.9 622.5,302.5 623.0,301.9 623.5,301.6 624.0,301.7 624.5,302.6 625.0,302.5 625.5,299.8 626.0,301.1 626.5,301.4 627.0,300.5 627.5,301.5 628.0,303.1 628.5,299.5 629.0,298.8 629.5,301.3 630.0,301.9 630.5,299.5 631.0,296.6 631.5,301.3 632.0,299.8 632.5,298.8 633.0,300.1 633.5,298.7 634.0,298.7 634.5,301.4 635.0,300.2 635.5,301.5 636.0,302.1 636.5,300.8 637.0,295.9 637.5,298.5 638.0,302.1 638.5,303.3 639.0,302.3 639.5,301.5 640.0,302.8 640.5,301.3 641.0,301.1 641.5,302.4 642.0,306.4 642.5,303.4 643.0,303.4 643.5,302.4 644.0,303.4 644.5,304.4 645.0,304.1 645.5,305.3 646.0,306.5 646.5,305.0 647.0,304.9 647.5,305.9 648.0,304.1 648.5,306.3 649.0,306.7 649.5,305.1 650.0,304.5 650.5,305.4 651.0,306.5 651.5,305.5 652.0,304.0 652.5,304.4 653.0,305.6 653.5,303.4 654.0,304.2 654.5,304.2 655.0,303.2 655.5,304.7 656.0,304.9 656.5,304.5 657.0,304.4 657.5,304.2 658.0,302.5 658.5,304.3 659.0,303.3 659.5,302.5 660.0,301.9 660.5,303.0 661.0,303.3 661.5,302.8 662.0,301.5" fill="none" stroke="#ede33a" stroke-width="1.45" stroke-linejoin="round" clip-path="url(#f)"/>
<rect x="365.5" y="260.3" width="306.80" height="77.70" fill="none" stroke="#262626" stroke-width="1.0"/>
<line x1="365.50" y1="338.00" x2="365.50" y2="342.40" stroke="#262626" stroke-width="1.0"/>
<text x="365.50" y="354.60" font-size="11.6" text-anchor="middle" >1500</text>
<line x1="396.18" y1="338.00" x2="396.18" y2="340.30" stroke="#262626" stroke-width="1.0"/>
<line x1="426.86" y1="338.00" x2="426.86" y2="342.40" stroke="#262626" stroke-width="1.0"/>
<text x="426.86" y="354.60" font-size="11.6" text-anchor="middle" >1520</text>
<line x1="457.54" y1="338.00" x2="457.54" y2="340.30" stroke="#262626" stroke-width="1.0"/>
<line x1="488.22" y1="338.00" x2="488.22" y2="342.40" stroke="#262626" stroke-width="1.0"/>
<text x="488.22" y="354.60" font-size="11.6" text-anchor="middle" >1540</text>
<line x1="518.90" y1="338.00" x2="518.90" y2="340.30" stroke="#262626" stroke-width="1.0"/>
<line x1="549.58" y1="338.00" x2="549.58" y2="342.40" stroke="#262626" stroke-width="1.0"/>
<text x="549.58" y="354.60" font-size="11.6" text-anchor="middle" >1560</text>
<line x1="580.26" y1="338.00" x2="580.26" y2="340.30" stroke="#262626" stroke-width="1.0"/>
<line x1="610.94" y1="338.00" x2="610.94" y2="342.40" stroke="#262626" stroke-width="1.0"/>
<text x="610.94" y="354.60" font-size="11.6" text-anchor="middle" >1580</text>
<line x1="641.62" y1="338.00" x2="641.62" y2="340.30" stroke="#262626" stroke-width="1.0"/>
<line x1="672.30" y1="338.00" x2="672.30" y2="342.40" stroke="#262626" stroke-width="1.0"/>
<text x="672.30" y="354.60" font-size="11.6" text-anchor="middle" >1600</text>
<line x1="365.50" y1="268.07" x2="361.10" y2="268.07" stroke="#262626" stroke-width="1.0"/>
<text x="358.20" y="272.27" font-size="11.6" text-anchor="end" >0</text>
<line x1="365.50" y1="283.61" x2="361.10" y2="283.61" stroke="#262626" stroke-width="1.0"/>
<text x="358.20" y="287.81" font-size="11.6" text-anchor="end" >-10</text>
<line x1="365.50" y1="299.15" x2="361.10" y2="299.15" stroke="#262626" stroke-width="1.0"/>
<text x="358.20" y="303.35" font-size="11.6" text-anchor="end" >-20</text>
<line x1="365.50" y1="314.69" x2="361.10" y2="314.69" stroke="#262626" stroke-width="1.0"/>
<text x="358.20" y="318.89" font-size="11.6" text-anchor="end" >-30</text>
<line x1="365.50" y1="330.23" x2="361.10" y2="330.23" stroke="#262626" stroke-width="1.0"/>
<text x="358.20" y="334.43" font-size="11.6" text-anchor="end" >-40</text>
<text x="327.40" y="294.65" font-size="11.7" text-anchor="middle" transform="rotate(-90 327.40 294.65)" >Transmission (dB)</text>
<text x="602.60" y="287.90" font-size="14.2">I<tspan font-size="9.2" dy="3.0">3</tspan><tspan dy="-3.0" dx="2.7">input</tspan></text>
<rect x="456.3" y="382.3" width="106.3" height="77.80" fill="url(#shade)"/>
<polyline points="376.5,437.3 377.0,435.6 377.5,438.9 378.0,434.9 378.5,435.7 379.0,438.1 379.5,440.6 380.0,438.2 380.5,436.9 381.0,435.5 381.5,436.5 382.0,435.4 382.5,440.6 383.0,438.2 383.5,438.2 384.0,438.6 384.5,440.1 385.0,439.1 385.5,438.2 386.0,437.7 386.5,439.5 387.0,439.5 387.5,438.3 388.0,438.1 388.5,437.6 389.0,440.2 389.5,440.5 390.0,438.1 390.5,438.8 391.0,438.1 391.5,438.1 392.0,441.6 392.5,440.1 393.0,438.2 393.5,438.1 394.0,439.8 394.5,445.2 395.0,441.4 395.5,439.9 396.0,438.6 396.5,440.4 397.0,443.4 397.5,443.7 398.0,443.4 398.5,449.6 399.0,452.8 399.5,457.9 400.0,458.7 400.5,459.8 401.0,458.5 401.5,456.7 402.0,457.5 402.5,454.0 403.0,449.7 403.5,446.2 404.0,444.0 404.5,448.0 405.0,445.8 405.5,443.8 406.0,443.3 406.5,440.5 407.0,435.4 407.5,435.3 408.0,433.9 408.5,435.1 409.0,435.5 409.5,437.5 410.0,440.6 410.5,439.9 411.0,441.8 411.5,445.0 412.0,443.2 412.5,446.9 413.0,446.7 413.5,445.2 414.0,444.7 414.5,444.9 415.0,446.3 415.5,449.1 416.0,449.0 416.5,447.1 417.0,448.3 417.5,448.5 418.0,445.1 418.5,445.8 419.0,449.6 419.5,448.3 420.0,453.0 420.5,450.5 421.0,450.6 421.5,454.8 422.0,455.5 422.5,457.1 423.0,456.1 423.5,458.2 424.0,457.1 424.5,456.7 425.0,455.6 425.5,455.7 426.0,456.8 426.5,454.3 427.0,454.0 427.5,450.7 428.0,450.7 428.5,446.4 429.0,445.5 429.5,440.7 430.0,439.1 430.5,441.7 431.0,438.5 431.5,437.7 432.0,436.5 432.5,440.4 433.0,436.8 433.5,433.2 434.0,431.5 434.5,436.2 435.0,436.0 435.5,437.4 436.0,440.8 436.5,437.3 437.0,434.7 437.5,433.7 438.0,433.5 438.5,433.0 439.0,434.1 439.5,435.2 440.0,438.0 440.5,436.3 441.0,439.0 441.5,439.1 442.0,441.8 442.5,441.9 443.0,439.7 443.5,443.6 444.0,444.4 444.5,446.7 445.0,446.0 445.5,445.9 446.0,446.4 446.5,447.8 447.0,448.7 447.5,444.5 448.0,444.3 448.5,443.4 449.0,443.3 449.5,442.1 450.0,439.2 450.5,438.6 451.0,439.0 451.5,439.4 452.0,436.5 452.5,438.3 453.0,442.3 453.5,440.8 454.0,436.3 454.5,436.1 455.0,435.7 455.5,437.2 456.0,432.9 456.5,434.0 457.0,432.7 457.5,435.5 458.0,435.6 458.5,434.3 459.0,434.9 459.5,435.1 460.0,434.1 460.5,435.6 461.0,435.4 461.5,437.1 462.0,436.4 462.5,433.7 463.0,436.2 463.5,435.8 464.0,435.0 464.5,436.7 465.0,435.1 465.5,435.7 466.0,436.1 466.5,438.0 467.0,435.7 467.5,439.9 468.0,439.6 468.5,438.5 469.0,443.2 469.5,444.9 470.0,442.3 470.5,445.2 471.0,448.9 471.5,450.4 472.0,449.0 472.5,449.6 473.0,445.4 473.5,445.8 474.0,439.8 474.5,436.8 475.0,437.1 475.5,437.4 476.0,434.0 476.5,431.7 477.0,430.6 477.5,433.8 478.0,431.2 478.5,435.0 479.0,433.6 479.5,428.6 480.0,427.4 480.5,426.8 481.0,428.7 481.5,428.8 482.0,429.6 482.5,431.8 483.0,429.7 483.5,428.7 484.0,428.3 484.5,426.4 485.0,429.1 485.5,431.9 486.0,429.7 486.5,429.5 487.0,427.3 487.5,429.6 488.0,428.9 488.5,427.5 489.0,429.9 489.5,431.4 490.0,431.7 490.5,429.0 491.0,428.0 491.5,429.5 492.0,433.5 492.5,437.0 493.0,435.0 493.5,436.2 494.0,435.5 494.5,436.9 495.0,440.3 495.5,443.1 496.0,442.4 496.5,443.5 497.0,447.7 497.5,450.7 498.0,446.7 498.5,447.5 499.0,444.7 499.5,442.1 500.0,438.9 500.5,438.5 501.0,439.0 501.5,443.0 502.0,439.4 502.5,434.0 503.0,429.2 503.5,430.5 504.0,432.1 504.5,427.9 505.0,428.9 505.5,428.6 506.0,426.1 506.5,422.6 507.0,422.0 507.5,422.2 508.0,427.4 508.5,428.0 509.0,424.5 509.5,425.8 510.0,426.3 510.5,425.4 511.0,423.9 511.5,426.5 512.0,423.2 512.5,426.7 513.0,425.7 513.5,425.1 514.0,425.6 514.5,426.3 515.0,428.3 515.5,431.4 516.0,432.6 516.5,432.7 517.0,429.7 517.5,432.6 518.0,434.2 518.5,438.5 519.0,438.2 519.5,437.4 520.0,441.4 520.5,436.0 521.0,434.3 521.5,440.9 522.0,441.8 522.5,445.1 523.0,447.4 523.5,442.2 524.0,442.8 524.5,443.8 525.0,446.7 525.5,447.6 526.0,450.5 526.5,454.3 527.0,455.1 527.5,458.1 528.0,460.2 528.5,460.1 529.0,456.7 529.5,456.6 530.0,452.9 530.5,451.1 531.0,453.5 531.5,452.3 532.0,449.0 532.5,446.5 533.0,442.9 533.5,440.2 534.0,437.5 534.5,435.7 535.0,433.9 535.5,434.4 536.0,435.1 536.5,434.0 537.0,433.8 537.5,431.0 538.0,428.9 538.5,431.3 539.0,432.5 539.5,432.6 540.0,432.0 540.5,427.7 541.0,431.0 541.5,432.1 542.0,433.5 542.5,430.8 543.0,430.4 543.5,434.5 544.0,435.9 544.5,438.0 545.0,437.2 545.5,439.4 546.0,437.5 546.5,438.3 547.0,440.3 547.5,441.2 548.0,438.5 548.5,439.8 549.0,441.4 549.5,441.4 550.0,446.0 550.5,445.5 551.0,441.3 551.5,439.6 552.0,441.4 552.5,441.0 553.0,442.0 553.5,441.5 554.0,442.9 554.5,443.9 555.0,443.8 555.5,444.6 556.0,446.2 556.5,445.7 557.0,445.6 557.5,445.8 558.0,445.2 558.5,444.9 559.0,447.3 559.5,449.8 560.0,449.5 560.5,448.6 561.0,450.6 561.5,449.5 562.0,448.9 562.5,449.3 563.0,450.2 563.5,449.0 564.0,451.0 564.5,454.9 565.0,456.8 565.5,454.9 566.0,455.3 566.5,456.0 567.0,457.2 567.5,456.2 568.0,457.6 568.5,457.2 569.0,457.1 569.5,457.3 570.0,458.1 570.5,461.6 571.0,459.1 571.5,457.8 572.0,458.2 572.5,453.8 573.0,453.3 573.5,451.0 574.0,449.1 574.5,451.7 575.0,451.6 575.5,447.7 576.0,447.6 576.5,448.0 577.0,444.7 577.5,444.4 578.0,443.3 578.5,441.6 579.0,441.5 579.5,442.7 580.0,439.9 580.5,435.2 581.0,437.4 581.5,438.6 582.0,438.3 582.5,437.7 583.0,433.7 583.5,430.8 584.0,431.8 584.5,430.7 585.0,433.3 585.5,435.1 586.0,433.2 586.5,431.1 587.0,430.0 587.5,434.5 588.0,433.8 588.5,434.3 589.0,434.2 589.5,429.9 590.0,436.1 590.5,438.3 591.0,438.2 591.5,436.8 592.0,436.4 592.5,439.8 593.0,438.6 593.5,441.6 594.0,441.2 594.5,441.3 595.0,443.4 595.5,443.0 596.0,441.5 596.5,444.5 597.0,440.9 597.5,446.0 598.0,447.4 598.5,443.5 599.0,442.2 599.5,443.1 600.0,444.6 600.5,445.5 601.0,445.7 601.5,442.3 602.0,443.2 602.5,445.7 603.0,447.6 603.5,448.7 604.0,447.1 604.5,444.5 605.0,444.1 605.5,445.6 606.0,447.4 606.5,452.1 607.0,451.7 607.5,452.7 608.0,453.6 608.5,454.6 609.0,452.6 609.5,454.3 610.0,457.1 610.5,459.2 611.0,457.7 611.5,457.1 612.0,457.7 612.5,455.6 613.0,456.8 613.5,456.2 614.0,456.8 614.5,457.0 615.0,453.8 615.5,450.9 616.0,451.0 616.5,445.5 617.0,442.6 617.5,443.3 618.0,442.4 618.5,440.4 619.0,441.8 619.5,440.6 620.0,438.3 620.5,437.1 621.0,434.7 621.5,439.8 622.0,441.2 622.5,439.1 623.0,436.9 623.5,437.4 624.0,440.7 624.5,441.1 625.0,442.3 625.5,443.4 626.0,441.9 626.5,440.1 627.0,442.6 627.5,444.0 628.0,449.5 628.5,449.3 629.0,450.8 629.5,452.8 630.0,454.5 630.5,452.8 631.0,455.3 631.5,454.1 632.0,451.8 632.5,445.3 633.0,442.6 633.5,443.1 634.0,439.9 634.5,435.5 635.0,439.5 635.5,437.1 636.0,435.5 636.5,436.2 637.0,433.3 637.5,430.6 638.0,426.5 638.5,427.4 639.0,430.8 639.5,431.1 640.0,429.1 640.5,428.9 641.0,429.4 641.5,425.6 642.0,427.1 642.5,428.2 643.0,424.9 643.5,426.7 644.0,430.0 644.5,431.7 645.0,434.1 645.5,432.8 646.0,434.3 646.5,438.5 647.0,437.5 647.5,434.1 648.0,441.8 648.5,448.3 649.0,448.2 649.5,449.8 650.0,449.8 650.5,449.6 651.0,451.0 651.5,451.3 652.0,450.3 652.5,449.9 653.0,456.2 653.5,453.6 654.0,452.3 654.5,450.3 655.0,448.0 655.5,447.0 656.0,447.5 656.5,447.6 657.0,445.7 657.5,445.7 658.0,449.6 658.5,447.1 659.0,443.1 659.5,446.3 660.0,446.0 660.5,444.4 661.0,444.8 661.5,443.1 662.0,441.4" fill="none" stroke="#32309a" stroke-width="1.45" stroke-linejoin="round" clip-path="url(#g)"/>
<polyline points="376.5,436.1 377.0,437.3 377.5,434.2 378.0,436.5 378.5,435.0 379.0,436.6 379.5,437.6 380.0,440.2 380.5,439.7 381.0,441.5 381.5,441.4 382.0,439.9 382.5,435.4 383.0,439.1 383.5,441.7 384.0,442.7 384.5,438.3 385.0,435.5 385.5,433.5 386.0,441.3 386.5,439.7 387.0,439.9 387.5,440.0 388.0,438.2 388.5,434.0 389.0,435.1 389.5,440.4 390.0,438.1 390.5,437.0 391.0,436.2 391.5,438.6 392.0,435.8 392.5,435.7 393.0,433.7 393.5,435.0 394.0,433.5 394.5,436.3 395.0,436.3 395.5,433.3 396.0,435.8 396.5,434.2 397.0,434.0 397.5,431.2 398.0,433.0 398.5,435.1 399.0,432.3 399.5,434.4 400.0,435.1 400.5,432.8 401.0,430.9 401.5,432.0 402.0,432.3 402.5,434.6 403.0,433.5 403.5,431.7 404.0,429.7 404.5,431.1 405.0,434.6 405.5,432.2 406.0,432.4 406.5,432.3 407.0,435.9 407.5,434.1 408.0,432.8 408.5,434.6 409.0,436.4 409.5,432.9 410.0,435.0 410.5,433.5 411.0,433.9 411.5,437.1 412.0,437.8 412.5,434.0 413.0,435.4 413.5,434.1 414.0,434.2 414.5,433.5 415.0,434.9 415.5,433.2 416.0,432.5 416.5,433.4 417.0,433.8 417.5,434.0 418.0,431.9 418.5,432.2 419.0,431.0 419.5,432.0 420.0,434.7 420.5,434.8 421.0,432.3 421.5,430.2 422.0,431.7 422.5,429.0 423.0,430.6 423.5,433.7 424.0,432.1 424.5,431.7 425.0,432.2 425.5,432.5 426.0,430.9 426.5,434.5 427.0,439.1 427.5,435.9 428.0,431.5 428.5,432.5 429.0,435.7 429.5,436.0 430.0,435.6 430.5,437.3 431.0,438.2 431.5,437.8 432.0,435.3 432.5,434.0 433.0,432.9 433.5,432.8 434.0,433.2 434.5,433.6 435.0,431.9 435.5,433.1 436.0,434.3 436.5,434.8 437.0,432.7 437.5,430.5 438.0,433.1 438.5,433.0 439.0,433.0 439.5,432.2 440.0,431.3 440.5,432.1 441.0,430.8 441.5,431.6 442.0,434.0 442.5,431.3 443.0,430.6 443.5,432.0 444.0,432.9 444.5,430.8 445.0,431.6 445.5,433.9 446.0,434.3 446.5,434.7 447.0,435.9 447.5,438.1 448.0,438.0 448.5,438.0 449.0,437.0 449.5,437.1 450.0,438.9 450.5,440.8 451.0,439.6 451.5,439.7 452.0,440.2 452.5,438.6 453.0,437.5 453.5,438.8 454.0,436.8 454.5,439.4 455.0,436.6 455.5,437.4 456.0,437.8 456.5,437.0 457.0,435.9 457.5,434.4 458.0,434.6 458.5,432.3 459.0,435.8 459.5,434.1 460.0,432.4 460.5,430.7 461.0,428.6 461.5,428.7 462.0,426.0 462.5,426.5 463.0,426.0 463.5,426.6 464.0,423.0 464.5,422.8 465.0,425.3 465.5,424.1 466.0,422.9 466.5,425.2 467.0,424.4 467.5,426.7 468.0,423.6 468.5,425.7 469.0,425.3 469.5,421.8 470.0,423.7 470.5,426.1 471.0,426.4 471.5,425.2 472.0,424.5 472.5,424.6 473.0,425.0 473.5,428.6 474.0,428.9 474.5,428.8 475.0,429.3 475.5,430.2 476.0,430.0 476.5,428.6 477.0,427.6 477.5,434.5 478.0,433.9 478.5,432.0 479.0,429.2 479.5,430.4 480.0,430.2 480.5,431.4 481.0,432.6 481.5,429.0 482.0,428.4 482.5,430.3 483.0,429.0 483.5,428.8 484.0,428.6 484.5,426.2 485.0,426.6 485.5,425.9 486.0,427.5 486.5,427.5 487.0,427.4 487.5,424.1 488.0,425.9 488.5,427.6 489.0,425.8 489.5,430.1 490.0,426.8 490.5,424.0 491.0,423.9 491.5,426.6 492.0,426.6 492.5,424.7 493.0,426.3 493.5,425.2 494.0,425.3 494.5,424.3 495.0,423.2 495.5,425.5 496.0,425.2 496.5,426.4 497.0,423.5 497.5,425.8 498.0,423.5 498.5,425.5 499.0,426.5 499.5,429.1 500.0,428.1 500.5,425.5 501.0,425.0 501.5,427.2 502.0,427.7 502.5,429.7 503.0,429.8 503.5,428.8 504.0,430.7 504.5,431.7 505.0,430.7 505.5,433.3 506.0,433.2 506.5,432.2 507.0,432.3 507.5,436.0 508.0,437.7 508.5,438.4 509.0,438.2 509.5,438.1 510.0,440.1 510.5,443.7 511.0,443.3 511.5,443.5 512.0,439.8 512.5,439.1 513.0,438.3 513.5,434.4 514.0,435.3 514.5,433.5 515.0,433.9 515.5,433.2 516.0,431.7 516.5,429.8 517.0,429.5 517.5,430.6 518.0,431.1 518.5,432.2 519.0,430.8 519.5,428.9 520.0,427.3 520.5,427.6 521.0,427.3 521.5,428.2 522.0,427.0 522.5,426.4 523.0,428.0 523.5,425.7 524.0,427.9 524.5,426.6 525.0,428.3 525.5,427.6 526.0,427.4 526.5,428.6 527.0,424.3 527.5,426.1 528.0,426.4 528.5,426.1 529.0,426.5 529.5,424.8 530.0,428.9 530.5,430.0 531.0,428.3 531.5,425.4 532.0,427.9 532.5,427.5 533.0,429.6 533.5,428.9 534.0,429.0 534.5,428.3 535.0,429.9 535.5,431.1 536.0,430.6 536.5,429.2 537.0,427.7 537.5,429.9 538.0,429.7 538.5,432.4 539.0,430.1 539.5,429.9 540.0,430.0 540.5,432.2 541.0,431.0 541.5,430.0 542.0,428.5 542.5,431.5 543.0,429.3 543.5,431.9 544.0,428.8 544.5,425.4 545.0,426.8 545.5,430.2 546.0,429.3 546.5,426.6 547.0,426.2 547.5,427.8 548.0,428.0 548.5,425.6 549.0,425.0 549.5,424.0 550.0,426.8 550.5,427.9 551.0,427.1 551.5,423.1 552.0,422.7 552.5,424.0 553.0,425.4 553.5,424.1 554.0,424.1 554.5,421.7 555.0,420.9 555.5,424.8 556.0,426.5 556.5,427.8 557.0,424.9 557.5,423.4 558.0,422.1 558.5,425.6 559.0,425.0 559.5,424.2 560.0,420.9 560.5,424.5 561.0,424.1 561.5,425.3 562.0,428.3 562.5,428.5 563.0,424.7 563.5,424.4 564.0,426.1 564.5,427.3 565.0,425.3 565.5,428.7 566.0,428.0 566.5,425.7 567.0,426.7 567.5,429.2 568.0,428.9 568.5,429.0 569.0,426.8 569.5,428.7 570.0,425.8 570.5,428.1 571.0,426.5 571.5,427.0 572.0,427.1 572.5,428.3 573.0,426.7 573.5,427.1 574.0,426.5 574.5,425.4 575.0,425.3 575.5,425.6 576.0,425.3 576.5,424.9 577.0,423.3 577.5,426.2 578.0,425.9 578.5,422.3 579.0,422.7 579.5,423.8 580.0,421.4 580.5,421.7 581.0,422.6 581.5,423.5 582.0,424.5 582.5,424.6 583.0,422.6 583.5,422.3 584.0,419.8 584.5,420.9 585.0,423.6 585.5,421.9 586.0,421.1 586.5,422.5 587.0,421.8 587.5,421.5 588.0,422.5 588.5,424.2 589.0,425.9 589.5,424.4 590.0,424.3 590.5,424.8 591.0,426.6 591.5,428.5 592.0,426.6 592.5,428.2 593.0,428.9 593.5,430.9 594.0,429.8 594.5,427.2 595.0,428.6 595.5,431.7 596.0,430.4 596.5,428.0 597.0,428.3 597.5,432.9 598.0,432.3 598.5,430.6 599.0,431.7 599.5,432.0 600.0,433.9 600.5,430.5 601.0,432.7 601.5,431.3 602.0,430.8 602.5,434.0 603.0,429.4 603.5,428.2 604.0,431.0 604.5,432.0 605.0,432.1 605.5,430.7 606.0,430.4 606.5,429.7 607.0,429.6 607.5,427.2 608.0,429.7 608.5,431.4 609.0,429.7 609.5,429.7 610.0,428.5 610.5,429.4 611.0,429.0 611.5,430.0 612.0,428.7 612.5,427.6 613.0,431.8 613.5,434.6 614.0,434.2 614.5,432.2 615.0,432.5 615.5,433.2 616.0,434.1 616.5,436.0 617.0,435.9 617.5,434.4 618.0,431.2 618.5,433.0 619.0,434.7 619.5,434.7 620.0,435.4 620.5,435.5 621.0,433.9 621.5,435.5 622.0,439.2 622.5,437.7 623.0,436.4 623.5,435.6 624.0,436.3 624.5,434.2 625.0,436.2 625.5,436.8 626.0,434.4 626.5,438.1 627.0,439.4 627.5,436.6 628.0,435.7 628.5,436.9 629.0,434.8 629.5,439.1 630.0,438.5 630.5,436.3 631.0,434.2 631.5,434.6 632.0,434.9 632.5,433.7 633.0,435.1 633.5,436.9 634.0,438.8 634.5,439.8 635.0,438.4 635.5,433.4 636.0,434.4 636.5,435.8 637.0,435.4 637.5,435.0 638.0,436.1 638.5,436.7 639.0,433.8 639.5,434.0 640.0,432.0 640.5,431.8 641.0,435.6 641.5,437.8 642.0,435.5 642.5,434.0 643.0,431.3 643.5,431.5 644.0,432.7 644.5,433.0 645.0,435.1 645.5,434.0 646.0,430.8 646.5,430.3 647.0,432.7 647.5,433.9 648.0,432.8 648.5,429.9 649.0,428.5 649.5,430.5 650.0,431.5 650.5,431.2 651.0,429.5 651.5,429.3 652.0,427.0 652.5,429.0 653.0,429.7 653.5,428.4 654.0,429.1 654.5,431.1 655.0,429.9 655.5,427.0 656.0,427.6 656.5,430.3 657.0,435.1 657.5,431.5 658.0,428.5 658.5,430.5 659.0,430.3 659.5,430.0 660.0,431.7 660.5,433.4 661.0,434.1 661.5,435.2 662.0,434.6 662.5,434.1 663.0,435.3" fill="none" stroke="#3a5fbd" stroke-width="1.45" stroke-linejoin="round" clip-path="url(#g)"/>
<polyline points="376.5,426.0 377.0,424.9 377.5,427.2 378.0,426.7 378.5,428.0 379.0,429.6 379.5,429.8 380.0,430.2 380.5,431.6 381.0,429.8 381.5,429.7 382.0,432.0 382.5,432.3 383.0,429.2 383.5,428.5 384.0,430.2 384.5,428.2 385.0,429.7 385.5,428.7 386.0,427.0 386.5,426.6 387.0,430.9 387.5,430.4 388.0,427.8 388.5,427.9 389.0,428.0 389.5,427.9 390.0,427.8 390.5,428.6 391.0,427.9 391.5,425.6 392.0,428.0 392.5,429.8 393.0,430.4 393.5,428.0 394.0,427.0 394.5,427.3 395.0,429.9 395.5,428.2 396.0,428.3 396.5,427.2 397.0,429.2 397.5,427.3 398.0,429.6 398.5,432.3 399.0,429.2 399.5,430.4 400.0,425.9 400.5,427.9 401.0,427.2 401.5,427.7 402.0,428.3 402.5,427.8 403.0,428.0 403.5,429.7 404.0,430.0 404.5,428.5 405.0,429.4 405.5,428.0 406.0,425.7 406.5,428.5 407.0,430.2 407.5,427.8 408.0,427.3 408.5,427.5 409.0,426.5 409.5,428.3 410.0,427.6 410.5,427.7 411.0,426.9 411.5,428.2 412.0,426.5 412.5,425.8 413.0,425.5 413.5,425.7 414.0,427.8 414.5,425.1 415.0,424.5 415.5,426.5 416.0,424.5 416.5,425.6 417.0,423.8 417.5,424.6 418.0,425.5 418.5,424.2 419.0,425.2 419.5,425.6 420.0,422.8 420.5,425.6 421.0,424.0 421.5,424.2 422.0,426.2 422.5,423.7 423.0,422.3 423.5,425.0 424.0,425.0 424.5,426.9 425.0,427.9 425.5,427.0 426.0,423.6 426.5,425.5 427.0,428.1 427.5,427.6 428.0,425.9 428.5,425.2 429.0,425.3 429.5,427.5 430.0,427.3 430.5,427.7 431.0,426.1 431.5,424.6 432.0,426.3 432.5,426.4 433.0,427.3 433.5,426.5 434.0,423.9 434.5,425.6 435.0,425.6 435.5,426.1 436.0,424.9 436.5,422.6 437.0,421.7 437.5,422.6 438.0,423.4 438.5,423.9 439.0,426.0 439.5,425.6 440.0,423.1 440.5,420.6 441.0,423.9 441.5,425.0 442.0,423.7 442.5,424.7 443.0,424.8 443.5,424.9 444.0,425.0 444.5,426.3 445.0,423.4 445.5,422.6 446.0,423.7 446.5,425.7 447.0,427.8 447.5,428.5 448.0,427.1 448.5,426.7 449.0,428.0 449.5,428.5 450.0,430.2 450.5,429.2 451.0,429.9 451.5,429.0 452.0,428.7 452.5,429.3 453.0,432.6 453.5,433.8 454.0,431.5 454.5,431.6 455.0,433.5 455.5,432.9 456.0,431.9 456.5,429.1 457.0,430.0 457.5,431.4 458.0,431.7 458.5,431.0 459.0,431.1 459.5,427.4 460.0,425.2 460.5,428.3 461.0,427.7 461.5,428.0 462.0,428.1 462.5,427.7 463.0,429.8 463.5,428.2 464.0,430.1 464.5,432.2 465.0,427.4 465.5,427.3 466.0,427.0 466.5,429.8 467.0,428.2 467.5,428.7 468.0,427.3 468.5,429.5 469.0,429.7 469.5,431.8 470.0,432.2 470.5,428.4 471.0,426.9 471.5,430.5 472.0,433.0 472.5,431.1 473.0,431.1 473.5,431.1 474.0,433.1 474.5,433.5 475.0,432.4 475.5,433.4 476.0,433.8 476.5,434.3 477.0,435.1 477.5,437.7 478.0,436.6 478.5,435.1 479.0,437.6 479.5,436.2 480.0,435.7 480.5,433.9 481.0,432.2 481.5,431.5 482.0,431.5 482.5,433.0 483.0,429.6 483.5,429.7 484.0,428.2 484.5,428.9 485.0,426.9 485.5,425.1 486.0,425.9 486.5,428.5 487.0,427.4 487.5,424.0 488.0,424.9 488.5,426.5 489.0,425.8 489.5,425.6 490.0,423.7 490.5,424.5 491.0,424.7 491.5,422.1 492.0,424.1 492.5,426.2 493.0,426.2 493.5,425.4 494.0,423.8 494.5,424.9 495.0,425.6 495.5,425.4 496.0,425.4 496.5,426.5 497.0,425.6 497.5,426.0 498.0,425.3 498.5,426.2 499.0,426.8 499.5,429.0 500.0,430.3 500.5,428.1 501.0,426.2 501.5,427.7 502.0,427.8 502.5,427.3 503.0,428.3 503.5,427.4 504.0,428.5 504.5,424.3 505.0,423.5 505.5,426.3 506.0,429.1 506.5,428.0 507.0,426.4 507.5,425.6 508.0,426.0 508.5,427.5 509.0,425.4 509.5,425.8 510.0,425.9 510.5,425.6 511.0,426.5 511.5,426.1 512.0,425.7 512.5,425.6 513.0,427.9 513.5,429.9 514.0,426.5 514.5,427.5 515.0,426.8 515.5,426.1 516.0,426.2 516.5,429.6 517.0,428.9 517.5,430.8 518.0,431.0 518.5,430.2 519.0,429.0 519.5,428.9 520.0,430.2 520.5,430.9 521.0,431.7 521.5,431.9 522.0,433.1 522.5,435.4 523.0,435.1 523.5,434.1 524.0,433.5 524.5,434.8 525.0,438.5 525.5,439.2 526.0,435.8 526.5,436.2 527.0,437.9 527.5,437.6 528.0,436.1 528.5,436.1 529.0,438.4 529.5,438.6 530.0,439.3 530.5,439.9 531.0,437.6 531.5,436.7 532.0,436.5 532.5,437.4 533.0,434.8 533.5,435.2 534.0,435.1 534.5,434.5 535.0,435.2 535.5,435.6 536.0,435.3 536.5,436.7 537.0,438.9 537.5,438.7 538.0,436.9 538.5,435.0 539.0,440.4 539.5,441.7 540.0,442.8 540.5,442.8 541.0,444.7 541.5,447.5 542.0,445.6 542.5,445.9 543.0,446.1 543.5,447.2 544.0,446.2 544.5,445.8 545.0,444.1 545.5,444.2 546.0,442.9 546.5,441.6 547.0,443.2 547.5,442.5 548.0,440.5 548.5,438.9 549.0,439.1 549.5,440.4 550.0,438.2 550.5,434.6 551.0,435.5 551.5,436.1 552.0,436.0 552.5,435.4 553.0,434.1 553.5,434.6 554.0,433.6 554.5,433.1 555.0,432.5 555.5,433.5 556.0,433.9 556.5,432.9 557.0,434.5 557.5,433.9 558.0,435.4 558.5,437.7 559.0,433.7 559.5,432.5 560.0,434.7 560.5,437.2 561.0,435.9 561.5,437.6 562.0,437.7 562.5,438.1 563.0,437.1 563.5,438.9 564.0,441.8 564.5,443.3 565.0,443.6 565.5,443.9 566.0,447.8 566.5,445.5 567.0,445.0 567.5,440.4 568.0,442.5 568.5,442.6 569.0,442.3 569.5,441.3 570.0,438.3 570.5,438.2 571.0,435.9 571.5,435.9 572.0,435.3 572.5,433.4 573.0,433.2 573.5,431.4 574.0,431.2 574.5,428.0 575.0,427.9 575.5,427.2 576.0,427.4 576.5,424.2 577.0,422.4 577.5,424.6 578.0,427.0 578.5,427.9 579.0,425.5 579.5,424.4 580.0,423.6 580.5,425.0 581.0,428.9 581.5,429.1 582.0,427.6 582.5,429.4 583.0,430.6 583.5,428.9 584.0,430.9 584.5,430.6 585.0,429.5 585.5,431.2 586.0,430.9 586.5,431.9 587.0,431.4 587.5,431.7 588.0,433.2 588.5,433.8 589.0,434.3 589.5,433.2 590.0,432.1 590.5,432.8 591.0,432.5 591.5,431.8 592.0,433.1 592.5,435.0 593.0,432.7 593.5,432.8 594.0,432.0 594.5,435.3 595.0,435.0 595.5,434.2 596.0,434.4 596.5,433.1 597.0,431.4 597.5,430.3 598.0,429.3 598.5,429.4 599.0,431.5 599.5,427.9 600.0,427.4 600.5,429.0 601.0,426.1 601.5,423.8 602.0,423.8 602.5,423.8 603.0,425.1 603.5,424.5 604.0,421.5 604.5,422.6 605.0,422.6 605.5,425.1 606.0,426.0 606.5,426.4 607.0,428.1 607.5,425.8 608.0,424.9 608.5,427.7 609.0,428.2 609.5,427.5 610.0,429.6 610.5,428.2 611.0,429.8 611.5,429.7 612.0,427.0 612.5,427.9 613.0,426.4 613.5,432.3 614.0,430.7 614.5,431.8 615.0,427.5 615.5,427.0 616.0,427.4 616.5,427.7 617.0,430.5 617.5,429.4 618.0,427.7 618.5,428.9 619.0,430.8 619.5,430.3 620.0,426.5 620.5,427.7 621.0,429.1 621.5,430.0 622.0,430.1 622.5,428.3 623.0,427.0 623.5,429.0 624.0,425.8 624.5,424.9 625.0,425.8 625.5,426.4 626.0,425.4 626.5,425.8 627.0,426.6 627.5,424.5 628.0,423.9 628.5,422.7 629.0,422.4 629.5,426.8 630.0,424.9 630.5,426.3 631.0,424.9 631.5,423.6 632.0,422.7 632.5,423.4 633.0,425.2 633.5,428.0 634.0,425.9 634.5,428.1 635.0,433.6 635.5,431.5 636.0,430.8 636.5,431.1 637.0,432.9 637.5,432.5 638.0,434.8 638.5,433.9 639.0,433.1 639.5,434.1 640.0,433.4 640.5,435.0 641.0,433.0 641.5,429.4 642.0,431.2 642.5,428.5 643.0,429.5 643.5,430.3 644.0,427.8 644.5,425.5 645.0,426.3 645.5,425.3 646.0,426.6 646.5,426.3 647.0,427.2 647.5,426.5 648.0,426.3 648.5,427.6 649.0,426.6 649.5,423.8 650.0,424.2 650.5,426.9 651.0,425.8 651.5,426.3 652.0,424.4 652.5,425.8 653.0,428.9 653.5,426.0 654.0,425.4 654.5,426.6 655.0,428.4 655.5,430.5 656.0,429.2 656.5,429.1 657.0,428.8 657.5,428.6 658.0,430.9 658.5,430.2 659.0,431.0 659.5,431.6 660.0,432.1 660.5,432.9 661.0,435.4 661.5,436.0 662.0,438.2 662.5,439.3 663.0,439.0" fill="none" stroke="#3db57a" stroke-width="1.45" stroke-linejoin="round" clip-path="url(#g)"/>
<polyline points="376.5,396.6 377.0,397.6 377.5,396.5 378.0,397.2 378.5,396.8 379.0,396.6 379.5,396.2 380.0,396.1 380.5,397.4 381.0,396.1 381.5,395.5 382.0,395.2 382.5,396.0 383.0,396.4 383.5,396.2 384.0,396.4 384.5,396.5 385.0,395.7 385.5,395.1 386.0,394.3 386.5,395.6 387.0,395.9 387.5,396.1 388.0,395.8 388.5,394.4 389.0,395.7 389.5,396.4 390.0,395.7 390.5,395.3 391.0,395.3 391.5,395.8 392.0,395.1 392.5,396.3 393.0,395.3 393.5,395.0 394.0,395.3 394.5,395.4 395.0,395.7 395.5,395.5 396.0,395.1 396.5,395.0 397.0,395.9 397.5,396.0 398.0,395.9 398.5,395.6 399.0,396.1 399.5,396.6 400.0,397.4 400.5,397.0 401.0,396.6 401.5,396.4 402.0,396.3 402.5,396.9 403.0,396.7 403.5,396.9 404.0,397.0 404.5,397.2 405.0,396.7 405.5,396.7 406.0,397.0 406.5,396.7 407.0,396.5 407.5,395.8 408.0,396.4 408.5,396.3 409.0,396.4 409.5,395.2 410.0,395.8 410.5,395.6 411.0,395.1 411.5,395.4 412.0,395.4 412.5,394.7 413.0,395.3 413.5,394.3 414.0,394.4 414.5,394.4 415.0,395.0 415.5,394.9 416.0,394.6 416.5,394.8 417.0,394.8 417.5,394.7 418.0,394.5 418.5,394.4 419.0,394.1 419.5,394.1 420.0,394.6 420.5,395.4 421.0,395.2 421.5,394.3 422.0,393.9 422.5,394.7 423.0,395.5 423.5,394.1 424.0,394.2 424.5,394.8 425.0,395.2 425.5,394.6 426.0,394.1 426.5,394.5 427.0,394.5 427.5,394.6 428.0,394.0 428.5,394.5 429.0,394.8 429.5,394.7 430.0,394.7 430.5,394.5 431.0,394.1 431.5,394.9 432.0,395.5 432.5,395.1 433.0,394.3 433.5,393.9 434.0,393.8 434.5,393.8 435.0,394.7 435.5,394.2 436.0,394.6 436.5,394.3 437.0,394.7 437.5,394.1 438.0,394.4 438.5,394.0 439.0,393.9 439.5,393.6 440.0,394.5 440.5,395.3 441.0,395.1 441.5,394.4 442.0,394.3 442.5,394.6 443.0,394.6 443.5,393.7 444.0,393.8 444.5,394.6 445.0,394.4 445.5,394.9 446.0,395.2 446.5,395.4 447.0,395.2 447.5,395.4 448.0,395.3 448.5,395.6 449.0,394.1 449.5,394.7 450.0,395.5 450.5,394.7 451.0,394.9 451.5,394.6 452.0,395.1 452.5,395.6 453.0,395.2 453.5,395.2 454.0,394.8 454.5,395.1 455.0,395.8 455.5,395.2 456.0,395.1 456.5,395.2 457.0,395.0 457.5,395.1 458.0,395.5 458.5,395.5 459.0,394.4 459.5,394.8 460.0,394.8 460.5,395.1 461.0,395.1 461.5,395.3 462.0,395.6 462.5,395.7 463.0,395.1 463.5,395.0 464.0,395.2 464.5,394.5 465.0,395.5 465.5,395.2 466.0,396.6 466.5,396.5 467.0,395.9 467.5,395.1 468.0,395.5 468.5,395.5 469.0,396.1 469.5,396.2 470.0,395.6 470.5,396.2 471.0,395.4 471.5,395.8 472.0,396.0 472.5,395.4 473.0,395.6 473.5,396.4 474.0,395.6 474.5,395.7 475.0,395.5 475.5,396.4 476.0,396.6 476.5,395.6 477.0,395.7 477.5,395.7 478.0,395.6 478.5,396.1 479.0,396.3 479.5,395.4 480.0,395.6 480.5,396.2 481.0,395.9 481.5,396.1 482.0,396.2 482.5,396.2 483.0,396.1 483.5,397.1 484.0,396.5 484.5,396.3 485.0,396.3 485.5,396.5 486.0,396.6 486.5,396.7 487.0,396.7 487.5,396.7 488.0,396.1 488.5,396.8 489.0,396.8 489.5,396.8 490.0,396.3 490.5,395.9 491.0,396.1 491.5,396.3 492.0,396.0 492.5,396.9 493.0,396.6 493.5,396.0 494.0,396.6 494.5,396.6 495.0,396.9 495.5,397.0 496.0,397.7 496.5,397.3 497.0,397.3 497.5,397.3 498.0,396.5 498.5,396.4 499.0,396.2 499.5,396.2 500.0,395.8 500.5,397.3 501.0,396.7 501.5,397.4 502.0,396.9 502.5,397.5 503.0,396.9 503.5,396.9 504.0,396.9 504.5,396.7 505.0,397.3 505.5,397.6 506.0,397.2 506.5,396.1 507.0,396.8 507.5,397.3 508.0,397.4 508.5,397.2 509.0,397.0 509.5,398.1 510.0,397.5 510.5,396.9 511.0,396.9 511.5,396.9 512.0,397.2 512.5,397.9 513.0,397.4 513.5,397.2 514.0,396.9 514.5,396.9 515.0,397.6 515.5,396.9 516.0,396.4 516.5,396.9 517.0,397.0 517.5,396.9 518.0,396.5 518.5,396.7 519.0,396.7 519.5,396.6 520.0,397.0 520.5,396.8 521.0,397.7 521.5,396.8 522.0,396.6 522.5,396.5 523.0,396.8 523.5,396.9 524.0,396.8 524.5,396.6 525.0,397.8 525.5,397.2 526.0,396.7 526.5,397.4 527.0,397.6 527.5,397.0 528.0,397.2 528.5,398.1 529.0,397.5 529.5,397.1 530.0,396.9 530.5,397.1 531.0,396.7 531.5,396.8 532.0,397.3 532.5,397.3 533.0,396.8 533.5,396.3 534.0,396.8 534.5,397.5 535.0,397.0 535.5,397.1 536.0,397.6 536.5,397.1 537.0,397.2 537.5,397.3 538.0,396.9 538.5,396.4 539.0,396.6 539.5,397.2 540.0,397.3 540.5,397.9 541.0,397.8 541.5,397.5 542.0,397.5 542.5,396.6 543.0,397.4 543.5,398.2 544.0,397.9 544.5,396.8 545.0,396.0 545.5,397.4 546.0,397.6 546.5,397.7 547.0,397.6 547.5,398.1 548.0,397.1 548.5,397.0 549.0,397.8 549.5,397.3 550.0,397.2 550.5,396.8 551.0,397.2 551.5,397.5 552.0,396.3 552.5,396.5 553.0,396.5 553.5,397.1 554.0,397.7 554.5,396.4 555.0,396.5 555.5,397.3 556.0,397.2 556.5,397.5 557.0,397.3 557.5,397.7 558.0,396.4 558.5,396.4 559.0,396.2 559.5,396.4 560.0,396.3 560.5,396.6 561.0,397.3 561.5,397.0 562.0,396.4 562.5,397.7 563.0,397.0 563.5,397.1 564.0,397.2 564.5,396.8 565.0,397.0 565.5,396.7 566.0,396.6 566.5,396.4 567.0,396.6 567.5,397.5 568.0,397.2 568.5,396.4 569.0,397.0 569.5,396.8 570.0,396.4 570.5,396.6 571.0,396.5 571.5,397.1 572.0,396.7 572.5,396.6 573.0,396.8 573.5,396.4 574.0,395.7 574.5,397.0 575.0,396.7 575.5,396.5 576.0,397.2 576.5,396.9 577.0,396.5 577.5,396.5 578.0,396.4 578.5,396.7 579.0,397.0 579.5,396.9 580.0,396.7 580.5,395.9 581.0,395.9 581.5,396.2 582.0,396.2 582.5,396.3 583.0,397.1 583.5,396.9 584.0,397.1 584.5,396.8 585.0,396.7 585.5,396.6 586.0,396.2 586.5,396.3 587.0,396.6 587.5,396.3 588.0,396.1 588.5,396.5 589.0,396.2 589.5,396.3 590.0,396.7 590.5,397.1 591.0,396.3 591.5,396.1 592.0,396.2 592.5,396.0 593.0,396.9 593.5,396.5 594.0,396.2 594.5,396.2 595.0,396.7 595.5,396.5 596.0,397.2 596.5,396.5 597.0,396.0 597.5,396.9 598.0,397.2 598.5,397.1 599.0,397.0 599.5,397.1 600.0,398.0 600.5,397.4 601.0,397.3 601.5,397.4 602.0,397.3 602.5,397.6 603.0,398.2 603.5,397.1 604.0,397.4 604.5,397.8 605.0,398.1 605.5,398.8 606.0,398.4 606.5,398.4 607.0,397.8 607.5,398.4 608.0,397.1 608.5,397.7 609.0,398.7 609.5,398.5 610.0,398.6 610.5,398.4 611.0,397.9 611.5,398.3 612.0,397.8 612.5,398.4 613.0,398.0 613.5,399.0 614.0,398.5 614.5,398.0 615.0,397.7 615.5,398.6 616.0,397.9 616.5,398.6 617.0,398.1 617.5,397.2 618.0,398.2 618.5,398.4 619.0,398.4 619.5,398.5 620.0,398.2 620.5,398.1 621.0,397.7 621.5,398.5 622.0,398.0 622.5,397.2 623.0,397.4 623.5,397.9 624.0,398.6 624.5,398.6 625.0,398.1 625.5,398.2 626.0,397.4 626.5,398.2 627.0,398.3 627.5,398.1 628.0,397.2 628.5,397.5 629.0,398.6 629.5,398.6 630.0,398.2 630.5,397.5 631.0,398.5 631.5,398.4 632.0,398.3 632.5,398.9 633.0,397.7 633.5,397.5 634.0,397.9 634.5,397.9 635.0,398.8 635.5,398.7 636.0,398.0 636.5,397.7 637.0,398.4 637.5,398.1 638.0,398.3 638.5,398.6 639.0,397.6 639.5,397.7 640.0,397.8 640.5,397.8 641.0,397.9 641.5,397.8 642.0,397.9 642.5,398.5 643.0,397.7 643.5,398.3 644.0,397.9 644.5,398.0 645.0,398.2 645.5,398.5 646.0,398.0 646.5,397.8 647.0,397.7 647.5,397.4 648.0,398.8 648.5,398.2 649.0,398.2 649.5,398.2 650.0,398.0 650.5,398.3 651.0,398.1 651.5,398.7 652.0,397.6 652.5,397.1 653.0,397.7 653.5,398.9 654.0,397.8 654.5,397.7 655.0,397.6 655.5,397.2 656.0,397.6 656.5,398.6 657.0,399.3 657.5,397.7 658.0,397.3 658.5,396.5 659.0,397.6 659.5,397.2 660.0,397.7 660.5,398.2 661.0,397.2 661.5,397.1 662.0,397.1 662.5,397.2 663.0,398.1" fill="none" stroke="#e3a12f" stroke-width="1.75" stroke-linejoin="round" clip-path="url(#g)"/>
<polyline points="376.5,428.8 377.0,429.1 377.5,426.9 378.0,427.4 378.5,438.6 379.0,434.2 379.5,434.1 380.0,437.6 380.5,431.5 381.0,435.4 381.5,434.4 382.0,436.4 382.5,435.5 383.0,432.7 383.5,431.4 384.0,436.0 384.5,434.9 385.0,436.2 385.5,430.4 386.0,437.3 386.5,430.8 387.0,430.9 387.5,430.5 388.0,431.3 388.5,425.6 389.0,426.8 389.5,428.0 390.0,430.0 390.5,436.5 391.0,431.5 391.5,434.5 392.0,427.8 392.5,429.1 393.0,432.1 393.5,431.1 394.0,429.1 394.5,427.1 395.0,429.8 395.5,436.5 396.0,429.6 396.5,430.5 397.0,429.9 397.5,432.6 398.0,431.7 398.5,431.1 399.0,431.0 399.5,427.2 400.0,429.3 400.5,436.8 401.0,427.9 401.5,429.8 402.0,427.8 402.5,430.9 403.0,432.0 403.5,432.7 404.0,424.6 404.5,426.7 405.0,432.2 405.5,432.1 406.0,430.3 406.5,428.1 407.0,434.6 407.5,435.6 408.0,437.4 408.5,432.0 409.0,432.5 409.5,428.0 410.0,434.5 410.5,433.6 411.0,434.0 411.5,436.3 412.0,431.6 412.5,428.8 413.0,432.5 413.5,428.4 414.0,434.4 414.5,428.3 415.0,424.4 415.5,425.5 416.0,423.0 416.5,424.6 417.0,425.0 417.5,425.7 418.0,426.2 418.5,428.6 419.0,431.2 419.5,427.6 420.0,420.6 420.5,424.4 421.0,427.4 421.5,426.4 422.0,423.7 422.5,424.1 423.0,428.3 423.5,421.9 424.0,423.3 424.5,428.4 425.0,429.6 425.5,426.6 426.0,424.1 426.5,426.6 427.0,428.8 427.5,427.3 428.0,427.0 428.5,425.3 429.0,425.6 429.5,427.0 430.0,426.2 430.5,427.5 431.0,427.2 431.5,431.7 432.0,427.9 432.5,430.9 433.0,430.8 433.5,428.9 434.0,429.2 434.5,429.5 435.0,429.7 435.5,426.9 436.0,425.4 436.5,424.7 437.0,427.6 437.5,430.1 438.0,430.3 438.5,429.7 439.0,427.9 439.5,428.0 440.0,427.0 440.5,425.1 441.0,427.3 441.5,427.0 442.0,424.0 442.5,425.3 443.0,426.7 443.5,424.6 444.0,427.0 444.5,426.3 445.0,427.3 445.5,426.6 446.0,429.3 446.5,429.3 447.0,427.1 447.5,425.8 448.0,428.5 448.5,428.6 449.0,430.8 449.5,429.9 450.0,429.5 450.5,428.6 451.0,430.0 451.5,431.2 452.0,432.7 452.5,430.3 453.0,432.2 453.5,431.6 454.0,430.8 454.5,430.7 455.0,430.8 455.5,434.1 456.0,431.8 456.5,431.0 457.0,430.7 457.5,432.5 458.0,435.8 458.5,437.1 459.0,433.2 459.5,430.4 460.0,430.8 460.5,434.5 461.0,434.4 461.5,435.7 462.0,432.7 462.5,434.5 463.0,434.9 463.5,435.9 464.0,434.9 464.5,434.0 465.0,434.8 465.5,433.2 466.0,434.7 466.5,438.6 467.0,438.7 467.5,436.3 468.0,436.4 468.5,437.1 469.0,438.9 469.5,438.9 470.0,438.3 470.5,441.1 471.0,443.1 471.5,443.8 472.0,443.4 472.5,442.2 473.0,441.7 473.5,445.5 474.0,447.0 474.5,448.6 475.0,449.6 475.5,450.8 476.0,446.6 476.5,448.6 477.0,447.2 477.5,444.8 478.0,445.7 478.5,445.8 479.0,442.7 479.5,443.4 480.0,441.2 480.5,440.6 481.0,441.6 481.5,440.0 482.0,438.4 482.5,436.7 483.0,439.9 483.5,437.4 484.0,436.4 484.5,438.9 485.0,440.9 485.5,440.5 486.0,437.7 486.5,438.8 487.0,438.5 487.5,436.6 488.0,437.3 488.5,436.9 489.0,438.6 489.5,438.4 490.0,437.9 490.5,438.2 491.0,439.1 491.5,441.3 492.0,439.9 492.5,442.2 493.0,443.2 493.5,443.4 494.0,444.4 494.5,444.5 495.0,445.6 495.5,445.7 496.0,446.7 496.5,446.7 497.0,443.6 497.5,444.7 498.0,446.0 498.5,446.7 499.0,445.2 499.5,442.8 500.0,445.2 500.5,442.1 501.0,442.6 501.5,442.1 502.0,442.7 502.5,440.8 503.0,443.8 503.5,442.2 504.0,440.5 504.5,438.3 505.0,439.2 505.5,439.7 506.0,442.7 506.5,441.3 507.0,440.4 507.5,439.9 508.0,437.8 508.5,437.4 509.0,438.5 509.5,437.3 510.0,435.9 510.5,436.4 511.0,436.5 511.5,438.5 512.0,438.4 512.5,436.9 513.0,437.8 513.5,438.2 514.0,437.8 514.5,440.8 515.0,439.6 515.5,438.1 516.0,438.3 516.5,438.7 517.0,440.8 517.5,441.2 518.0,439.5 518.5,440.7 519.0,441.4 519.5,440.5 520.0,441.2 520.5,440.5 521.0,442.0 521.5,445.1 522.0,442.6 522.5,441.6 523.0,442.6 523.5,443.2 524.0,444.5 524.5,444.3 525.0,445.0 525.5,445.0 526.0,444.8 526.5,443.1 527.0,440.4 527.5,441.1 528.0,442.5 528.5,442.8 529.0,441.1 529.5,439.8 530.0,440.2 530.5,437.9 531.0,439.0 531.5,437.2 532.0,435.8 532.5,435.4 533.0,433.4 533.5,433.5 534.0,433.1 534.5,432.7 535.0,429.4 535.5,430.9 536.0,431.7 536.5,430.6 537.0,428.7 537.5,429.2 538.0,428.0 538.5,427.4 539.0,428.3 539.5,430.7 540.0,429.5 540.5,428.8 541.0,427.6 541.5,427.5 542.0,430.0 542.5,428.1 543.0,429.7 543.5,428.8 544.0,429.7 544.5,428.6 545.0,429.5 545.5,432.2 546.0,432.6 546.5,433.5 547.0,432.3 547.5,432.4 548.0,433.7 548.5,433.9 549.0,435.4 549.5,434.0 550.0,436.3 550.5,434.3 551.0,433.1 551.5,434.0 552.0,434.4 552.5,434.8 553.0,434.0 553.5,431.9 554.0,431.2 554.5,427.7 555.0,429.3 555.5,427.9 556.0,425.4 556.5,427.7 557.0,426.6 557.5,426.1 558.0,424.7 558.5,424.4 559.0,422.9 559.5,421.1 560.0,423.0 560.5,423.9 561.0,424.4 561.5,422.1 562.0,421.2 562.5,422.4 563.0,422.2 563.5,420.5 564.0,422.4 564.5,425.5 565.0,422.7 565.5,421.7 566.0,421.0 566.5,421.0 567.0,420.6 567.5,420.7 568.0,421.3 568.5,422.1 569.0,424.9 569.5,424.3 570.0,422.2 570.5,420.7 571.0,419.9 571.5,420.3 572.0,421.5 572.5,423.2 573.0,420.8 573.5,420.7 574.0,422.7 574.5,421.5 575.0,420.9 575.5,422.6 576.0,420.5 576.5,422.1 577.0,418.7 577.5,420.3 578.0,420.8 578.5,420.7 579.0,420.3 579.5,418.4 580.0,417.9 580.5,418.3 581.0,417.6 581.5,418.9 582.0,419.1 582.5,418.4 583.0,419.3 583.5,419.4 584.0,416.7 584.5,416.6 585.0,415.5 585.5,418.0 586.0,418.2 586.5,416.9 587.0,416.6 587.5,417.2 588.0,414.6 588.5,415.3 589.0,417.3 589.5,415.0 590.0,415.4 590.5,415.5 591.0,416.6 591.5,417.6 592.0,415.3 592.5,412.5 593.0,413.3 593.5,415.8 594.0,416.2 594.5,414.8 595.0,416.6 595.5,415.9 596.0,414.6 596.5,413.7 597.0,412.5 597.5,413.1 598.0,416.4 598.5,416.7 599.0,415.0 599.5,414.4 600.0,413.5 600.5,412.0 601.0,414.5 601.5,414.2 602.0,414.1 602.5,413.3 603.0,415.8 603.5,414.6 604.0,414.4 604.5,413.3 605.0,414.0 605.5,412.3 606.0,413.0 606.5,414.4 607.0,412.7 607.5,412.9 608.0,410.8 608.5,413.6 609.0,413.3 609.5,415.4 610.0,414.1 610.5,413.7 611.0,412.8 611.5,413.8 612.0,413.1 612.5,411.8 613.0,412.7 613.5,413.6 614.0,410.6 614.5,410.4 615.0,412.6 615.5,412.6 616.0,412.5 616.5,411.2 617.0,411.0 617.5,411.2 618.0,412.4 618.5,412.1 619.0,412.7 619.5,413.0 620.0,412.9 620.5,410.7 621.0,412.2 621.5,411.8 622.0,410.9 622.5,414.0 623.0,412.7 623.5,410.7 624.0,410.7 624.5,410.9 625.0,412.4 625.5,411.3 626.0,411.4 626.5,411.6 627.0,411.3 627.5,410.8 628.0,413.6 628.5,412.7 629.0,410.2 629.5,407.5 630.0,409.5 630.5,408.0 631.0,410.7 631.5,411.5 632.0,413.7 632.5,409.9 633.0,410.8 633.5,411.1 634.0,411.3 634.5,409.3 635.0,409.1 635.5,411.1 636.0,410.6 636.5,414.3 637.0,412.9 637.5,409.3 638.0,410.1 638.5,409.6 639.0,409.7 639.5,408.3 640.0,408.8 640.5,410.3 641.0,411.1 641.5,410.2 642.0,410.8 642.5,411.2 643.0,408.6 643.5,408.0 644.0,409.8 644.5,409.4 645.0,410.7 645.5,410.7 646.0,411.4 646.5,410.4 647.0,409.3 647.5,410.4 648.0,408.6 648.5,408.2 649.0,409.5 649.5,408.8 650.0,408.8 650.5,408.2 651.0,409.4 651.5,409.4 652.0,410.9 652.5,411.8 653.0,410.4 653.5,409.6 654.0,409.5 654.5,409.4 655.0,409.0 655.5,410.7 656.0,411.3 656.5,411.8 657.0,408.5 657.5,409.5 658.0,411.0 658.5,411.3 659.0,411.0 659.5,412.5 660.0,413.1 660.5,409.7 661.0,411.6 661.5,411.2 662.0,411.2 662.5,410.3 663.0,411.8" fill="none" stroke="#ede33a" stroke-width="1.45" stroke-linejoin="round" clip-path="url(#g)"/>
<rect x="367.6" y="382.3" width="304.90" height="77.80" fill="none" stroke="#262626" stroke-width="1.0"/>
<line x1="367.60" y1="460.10" x2="367.60" y2="464.50" stroke="#262626" stroke-width="1.0"/>
<text x="367.60" y="476.70" font-size="11.6" text-anchor="middle" >1500</text>
<line x1="398.09" y1="460.10" x2="398.09" y2="462.40" stroke="#262626" stroke-width="1.0"/>
<line x1="428.58" y1="460.10" x2="428.58" y2="464.50" stroke="#262626" stroke-width="1.0"/>
<text x="428.58" y="476.70" font-size="11.6" text-anchor="middle" >1520</text>
<line x1="459.07" y1="460.10" x2="459.07" y2="462.40" stroke="#262626" stroke-width="1.0"/>
<line x1="489.56" y1="460.10" x2="489.56" y2="464.50" stroke="#262626" stroke-width="1.0"/>
<text x="489.56" y="476.70" font-size="11.6" text-anchor="middle" >1540</text>
<line x1="520.05" y1="460.10" x2="520.05" y2="462.40" stroke="#262626" stroke-width="1.0"/>
<line x1="550.54" y1="460.10" x2="550.54" y2="464.50" stroke="#262626" stroke-width="1.0"/>
<text x="550.54" y="476.70" font-size="11.6" text-anchor="middle" >1560</text>
<line x1="581.03" y1="460.10" x2="581.03" y2="462.40" stroke="#262626" stroke-width="1.0"/>
<line x1="611.52" y1="460.10" x2="611.52" y2="464.50" stroke="#262626" stroke-width="1.0"/>
<text x="611.52" y="476.70" font-size="11.6" text-anchor="middle" >1580</text>
<line x1="642.01" y1="460.10" x2="642.01" y2="462.40" stroke="#262626" stroke-width="1.0"/>
<line x1="672.50" y1="460.10" x2="672.50" y2="464.50" stroke="#262626" stroke-width="1.0"/>
<text x="672.50" y="476.70" font-size="11.6" text-anchor="middle" >1600</text>
<line x1="367.60" y1="390.08" x2="363.20" y2="390.08" stroke="#262626" stroke-width="1.0"/>
<text x="360.30" y="394.28" font-size="11.6" text-anchor="end" >0</text>
<line x1="367.60" y1="405.64" x2="363.20" y2="405.64" stroke="#262626" stroke-width="1.0"/>
<text x="360.30" y="409.84" font-size="11.6" text-anchor="end" >-10</text>
<line x1="367.60" y1="421.20" x2="363.20" y2="421.20" stroke="#262626" stroke-width="1.0"/>
<text x="360.30" y="425.40" font-size="11.6" text-anchor="end" >-20</text>
<line x1="367.60" y1="436.76" x2="363.20" y2="436.76" stroke="#262626" stroke-width="1.0"/>
<text x="360.30" y="440.96" font-size="11.6" text-anchor="end" >-30</text>
<line x1="367.60" y1="452.32" x2="363.20" y2="452.32" stroke="#262626" stroke-width="1.0"/>
<text x="360.30" y="456.52" font-size="11.6" text-anchor="end" >-40</text>
<text x="329.60" y="416.70" font-size="11.7" text-anchor="middle" transform="rotate(-90 329.60 416.70)" >Transmission (dB)</text>
<text x="603.90" y="409.00" font-size="14.2">I<tspan font-size="9.2" dy="3.0">4</tspan><tspan dy="-3.0" dx="2.7">input</tspan></text>
<rect x="456.3" y="506.4" width="106.3" height="77.90" fill="url(#shade)"/>
<polyline points="376.5,562.4 377.0,560.3 377.5,558.7 378.0,557.4 378.5,557.2 379.0,556.6 379.5,557.9 380.0,557.3 380.5,559.1 381.0,558.0 381.5,558.5 382.0,558.2 382.5,559.2 383.0,560.2 383.5,561.4 384.0,561.0 384.5,560.6 385.0,562.7 385.5,561.9 386.0,561.4 386.5,563.8 387.0,563.2 387.5,560.7 388.0,558.5 388.5,559.9 389.0,562.8 389.5,563.2 390.0,560.0 390.5,562.3 391.0,563.9 391.5,563.0 392.0,561.4 392.5,563.9 393.0,564.5 393.5,565.5 394.0,565.7 394.5,566.6 395.0,567.3 395.5,568.8 396.0,569.0 396.5,568.4 397.0,571.2 397.5,569.6 398.0,574.4 398.5,574.8 399.0,575.5 399.5,574.1 400.0,578.5 400.5,577.5 401.0,576.0 401.5,574.6 402.0,575.1 402.5,571.5 403.0,570.2 403.5,568.5 404.0,569.7 404.5,564.3 405.0,561.5 405.5,559.3 406.0,560.4 406.5,561.4 407.0,556.6 407.5,557.1 408.0,555.5 408.5,554.3 409.0,556.7 409.5,557.7 410.0,555.9 410.5,557.7 411.0,555.0 411.5,553.3 412.0,552.8 412.5,555.2 413.0,554.0 413.5,556.8 414.0,557.4 414.5,555.4 415.0,555.4 415.5,556.6 416.0,554.8 416.5,559.9 417.0,560.5 417.5,558.8 418.0,558.2 418.5,558.8 419.0,561.3 419.5,563.1 420.0,566.3 420.5,568.7 421.0,569.0 421.5,570.2 422.0,572.5 422.5,574.9 423.0,572.2 423.5,573.0 424.0,576.4 424.5,574.7 425.0,575.7 425.5,575.6 426.0,575.9 426.5,574.5 427.0,573.2 427.5,575.8 428.0,573.8 428.5,575.7 429.0,574.6 429.5,574.4 430.0,574.9 430.5,573.8 431.0,573.7 431.5,573.5 432.0,573.0 432.5,574.5 433.0,573.7 433.5,571.8 434.0,571.7 434.5,573.4 435.0,576.8 435.5,572.5 436.0,571.3 436.5,573.6 437.0,572.7 437.5,570.6 438.0,572.1 438.5,572.9 439.0,570.4 439.5,569.9 440.0,569.8 440.5,570.6 441.0,569.7 441.5,568.4 442.0,564.6 442.5,566.1 443.0,565.7 443.5,561.6 444.0,563.2 444.5,563.2 445.0,563.5 445.5,562.9 446.0,559.1 446.5,558.2 447.0,558.6 447.5,560.0 448.0,559.6 448.5,559.0 449.0,558.4 449.5,559.8 450.0,558.2 450.5,558.2 451.0,561.2 451.5,559.4 452.0,560.2 452.5,560.3 453.0,557.7 453.5,561.4 454.0,560.5 454.5,561.9 455.0,560.7 455.5,562.0 456.0,561.4 456.5,561.3 457.0,564.3 457.5,564.8 458.0,563.2 458.5,562.2 459.0,563.0 459.5,563.3 460.0,561.5 460.5,558.9 461.0,556.7 461.5,556.3 462.0,557.9 462.5,556.6 463.0,558.0 463.5,558.5 464.0,558.1 464.5,553.3 465.0,554.1 465.5,555.1 466.0,556.1 466.5,556.0 467.0,557.7 467.5,558.1 468.0,557.5 468.5,556.7 469.0,557.6 469.5,559.5 470.0,560.9 470.5,560.1 471.0,562.9 471.5,565.2 472.0,566.4 472.5,561.8 473.0,562.0 473.5,564.9 474.0,566.4 474.5,563.6 475.0,560.7 475.5,561.3 476.0,559.1 476.5,559.0 477.0,556.5 477.5,554.9 478.0,552.9 478.5,556.3 479.0,553.7 479.5,551.2 480.0,551.0 480.5,553.4 481.0,553.4 481.5,552.1 482.0,551.9 482.5,551.1 483.0,548.9 483.5,549.1 484.0,552.6 484.5,551.9 485.0,551.4 485.5,551.8 486.0,553.5 486.5,555.2 487.0,555.8 487.5,557.4 488.0,557.4 488.5,554.9 489.0,557.7 489.5,557.0 490.0,554.3 490.5,556.3 491.0,556.4 491.5,552.8 492.0,550.3 492.5,549.3 493.0,550.1 493.5,546.5 494.0,547.8 494.5,552.2 495.0,549.6 495.5,547.9 496.0,548.1 496.5,548.4 497.0,548.6 497.5,550.8 498.0,551.4 498.5,551.1 499.0,551.4 499.5,549.5 500.0,550.9 500.5,554.0 501.0,553.2 501.5,552.7 502.0,555.3 502.5,554.4 503.0,558.0 503.5,559.2 504.0,559.1 504.5,559.4 505.0,561.8 505.5,560.9 506.0,561.2 506.5,556.5 507.0,556.9 507.5,554.8 508.0,556.9 508.5,554.8 509.0,552.7 509.5,553.4 510.0,551.3 510.5,553.3 511.0,554.7 511.5,555.5 512.0,552.5 512.5,552.0 513.0,552.3 513.5,553.1 514.0,552.9 514.5,554.7 515.0,556.4 515.5,556.4 516.0,556.6 516.5,559.1 517.0,556.2 517.5,554.9 518.0,556.5 518.5,554.6 519.0,556.3 519.5,555.2 520.0,557.4 520.5,557.1 521.0,557.6 521.5,554.8 522.0,552.0 522.5,552.9 523.0,552.2 523.5,551.2 524.0,548.7 524.5,549.1 525.0,548.0 525.5,549.1 526.0,550.5 526.5,549.2 527.0,548.8 527.5,549.2 528.0,550.2 528.5,551.4 529.0,551.5 529.5,549.7 530.0,550.0 530.5,553.3 531.0,556.3 531.5,555.6 532.0,552.8 532.5,552.9 533.0,554.6 533.5,555.4 534.0,554.9 534.5,556.0 535.0,557.7 535.5,557.0 536.0,557.3 536.5,557.6 537.0,558.3 537.5,557.2 538.0,555.7 538.5,555.0 539.0,556.7 539.5,555.6 540.0,552.5 540.5,550.3 541.0,550.2 541.5,549.6 542.0,551.9 542.5,548.7 543.0,548.1 543.5,547.0 544.0,549.3 544.5,549.2 545.0,549.3 545.5,551.3 546.0,550.4 546.5,552.2 547.0,553.9 547.5,554.5 548.0,557.4 548.5,559.0 549.0,558.3 549.5,558.6 550.0,561.2 550.5,560.5 551.0,563.5 551.5,565.4 552.0,564.1 552.5,560.1 553.0,563.1 553.5,563.3 554.0,561.5 554.5,560.2 555.0,559.0 555.5,560.1 556.0,559.2 556.5,560.8 557.0,558.7 557.5,558.6 558.0,558.1 558.5,560.5 559.0,561.2 559.5,560.7 560.0,561.9 560.5,560.9 561.0,560.4 561.5,557.8 562.0,558.0 562.5,561.5 563.0,560.5 563.5,560.0 564.0,558.5 564.5,557.5 565.0,558.2 565.5,557.1 566.0,555.3 566.5,557.3 567.0,556.4 567.5,555.2 568.0,553.0 568.5,553.3 569.0,554.7 569.5,550.0 570.0,551.3 570.5,551.9 571.0,551.4 571.5,551.5 572.0,552.5 572.5,552.7 573.0,552.5 573.5,550.5 574.0,550.3 574.5,551.4 575.0,549.6 575.5,550.6 576.0,552.2 576.5,552.7 577.0,552.7 577.5,550.9 578.0,551.7 578.5,551.0 579.0,551.6 579.5,553.5 580.0,552.5 580.5,552.5 581.0,554.9 581.5,554.8 582.0,553.2 582.5,556.7 583.0,558.4 583.5,559.5 584.0,559.9 584.5,558.8 585.0,557.6 585.5,556.8 586.0,558.0 586.5,561.1 587.0,563.7 587.5,563.1 588.0,563.6 588.5,561.1 589.0,558.7 589.5,557.1 590.0,558.8 590.5,561.7 591.0,563.4 591.5,563.3 592.0,559.8 592.5,561.7 593.0,561.0 593.5,557.6 594.0,561.3 594.5,560.6 595.0,559.3 595.5,556.0 596.0,557.7 596.5,557.7 597.0,557.0 597.5,557.5 598.0,555.5 598.5,556.5 599.0,553.8 599.5,556.4 600.0,552.0 600.5,550.3 601.0,553.8 601.5,555.0 602.0,552.4 602.5,556.4 603.0,553.9 603.5,552.4 604.0,555.1 604.5,555.4 605.0,554.4 605.5,551.6 606.0,553.3 606.5,555.6 607.0,553.1 607.5,554.9 608.0,557.2 608.5,555.0 609.0,556.1 609.5,557.3 610.0,555.5 610.5,555.7 611.0,557.7 611.5,559.4 612.0,558.5 612.5,557.1 613.0,557.2 613.5,554.7 614.0,556.4 614.5,560.2 615.0,561.9 615.5,558.2 616.0,554.5 616.5,555.2 617.0,557.7 617.5,560.8 618.0,559.1 618.5,558.4 619.0,557.0 619.5,557.0 620.0,560.1 620.5,560.2 621.0,558.0 621.5,557.7 622.0,557.2 622.5,558.0 623.0,558.7 623.5,560.0 624.0,561.9 624.5,557.2 625.0,557.6 625.5,557.8 626.0,558.9 626.5,557.0 627.0,561.0 627.5,561.0 628.0,560.3 628.5,557.0 629.0,557.1 629.5,558.7 630.0,559.9 630.5,557.5 631.0,560.4 631.5,559.3 632.0,560.5 632.5,560.5 633.0,561.6 633.5,562.2 634.0,560.3 634.5,559.7 635.0,560.7 635.5,561.6 636.0,560.3 636.5,558.4 637.0,562.3 637.5,562.9 638.0,562.5 638.5,560.4 639.0,559.9 639.5,562.3 640.0,560.5 640.5,557.9 641.0,561.1 641.5,558.9 642.0,557.7 642.5,559.5 643.0,558.7 643.5,556.8 644.0,554.7 644.5,551.9 645.0,553.0 645.5,554.4 646.0,554.7 646.5,551.9 647.0,549.0 647.5,549.2 648.0,553.0 648.5,555.9 649.0,553.5 649.5,551.2 650.0,550.3 650.5,550.3 651.0,550.9 651.5,552.0 652.0,551.7 652.5,552.4 653.0,553.1 653.5,553.0 654.0,552.1 654.5,554.2 655.0,553.2 655.5,555.4 656.0,556.7 656.5,558.7 657.0,558.3 657.5,557.0 658.0,556.1 658.5,556.7 659.0,556.5 659.5,557.2 660.0,555.7 660.5,557.3 661.0,556.9 661.5,558.1 662.0,556.8 662.5,556.9 663.0,558.0" fill="none" stroke="#32309a" stroke-width="1.45" stroke-linejoin="round" clip-path="url(#h)"/>
<polyline points="376.5,568.1 377.0,563.5 377.5,570.1 378.0,574.4 378.5,569.4 379.0,577.1 379.5,573.3 380.0,580.6 380.5,579.4 381.0,580.9 381.5,583.2 382.0,585.1 382.5,577.9 383.0,578.0 383.5,569.9 384.0,579.4 384.5,579.7 385.0,569.4 385.5,579.9 386.0,567.3 386.5,569.1 387.0,577.6 387.5,569.2 388.0,565.2 388.5,562.3 389.0,563.2 389.5,577.0 390.0,571.9 390.5,566.1 391.0,563.8 391.5,568.2 392.0,568.4 392.5,574.1 393.0,567.1 393.5,573.4 394.0,575.5 394.5,567.2 395.0,576.4 395.5,573.9 396.0,575.5 396.5,574.5 397.0,572.5 397.5,578.4 398.0,580.2 398.5,568.9 399.0,576.7 399.5,577.0 400.0,581.9 400.5,585.9 401.0,581.4 401.5,583.3 402.0,578.4 402.5,575.9 403.0,586.7 403.5,578.2 404.0,585.8 404.5,582.3 405.0,574.9 405.5,569.4 406.0,571.2 406.5,566.4 407.0,558.8 407.5,566.4 408.0,569.9 408.5,574.6 409.0,573.4 409.5,562.2 410.0,561.3 410.5,564.2 411.0,571.0 411.5,567.3 412.0,572.6 412.5,571.9 413.0,569.6 413.5,569.7 414.0,568.7 414.5,570.4 415.0,576.3 415.5,570.7 416.0,565.0 416.5,577.9 417.0,571.0 417.5,579.5 418.0,581.0 418.5,578.3 419.0,576.7 419.5,582.7 420.0,577.7 420.5,581.8 421.0,582.4 421.5,578.4 422.0,585.6 422.5,580.7 423.0,575.2 423.5,578.6 424.0,581.1 424.5,573.0 425.0,577.1 425.5,581.5 426.0,579.6 426.5,579.5 427.0,579.2 427.5,578.6 428.0,572.9 428.5,571.7 429.0,574.4 429.5,568.9 430.0,577.1 430.5,573.4 431.0,582.4 431.5,578.8 432.0,573.3 432.5,577.8 433.0,576.0 433.5,577.8 434.0,586.1 434.5,572.6 435.0,572.9 435.5,579.6 436.0,587.0 436.5,577.8 437.0,585.3 437.5,580.1 438.0,579.6 438.5,571.8 439.0,578.0 439.5,578.0 440.0,580.8 440.5,585.5 441.0,577.6 441.5,572.2 442.0,577.4 442.5,588.9 443.0,580.6 443.5,582.5 444.0,582.2 444.5,581.1 445.0,578.3 445.5,572.7 446.0,580.9 446.5,577.7 447.0,576.2 447.5,573.8 448.0,577.4 448.5,571.5 449.0,574.9 449.5,570.8 450.0,578.7 450.5,570.7 451.0,575.1 451.5,566.5 452.0,568.7 452.5,568.2 453.0,570.9 453.5,573.5 454.0,571.4 454.5,572.5 455.0,569.6 455.5,569.5 456.0,568.3 456.5,575.7 457.0,573.9 457.5,567.7 458.0,563.2 458.5,574.9 459.0,580.7 459.5,578.4 460.0,575.7 460.5,578.7 461.0,575.1 461.5,572.9 462.0,576.8 462.5,579.4 463.0,575.2 463.5,572.6 464.0,576.0 464.5,576.0 465.0,574.5 465.5,573.0 466.0,576.6 466.5,576.0 467.0,575.0 467.5,575.6 468.0,574.1 468.5,578.1 469.0,576.2 469.5,575.8 470.0,575.0 470.5,578.2 471.0,578.6 471.5,577.6 472.0,581.3 472.5,580.4 473.0,580.6 473.5,580.5 474.0,582.9 474.5,581.6 475.0,582.1 475.5,582.3 476.0,581.1 476.5,581.7 477.0,579.4 477.5,578.9 478.0,581.7 478.5,576.8 479.0,577.9 479.5,577.2 480.0,573.2 480.5,575.2 481.0,575.6 481.5,574.1 482.0,573.6 482.5,572.9 483.0,572.6 483.5,572.2 484.0,570.7 484.5,571.8 485.0,570.7 485.5,570.5 486.0,569.4 486.5,568.8 487.0,568.8 487.5,569.2 488.0,570.9 488.5,570.2 489.0,569.5 489.5,569.2 490.0,567.3 490.5,570.1 491.0,570.4 491.5,569.3 492.0,570.9 492.5,570.4 493.0,570.5 493.5,571.3 494.0,570.9 494.5,572.1 495.0,572.3 495.5,574.2 496.0,576.2 496.5,573.3 497.0,572.6 497.5,574.4 498.0,575.4 498.5,574.9 499.0,575.0 499.5,576.0 500.0,577.8 500.5,577.4 501.0,576.1 501.5,575.3 502.0,575.6 502.5,575.2 503.0,575.1 503.5,573.9 504.0,572.4 504.5,571.3 505.0,571.1 505.5,571.7 506.0,568.6 506.5,568.9 507.0,568.0 507.5,567.8 508.0,566.7 508.5,567.5 509.0,566.0 509.5,566.8 510.0,564.1 510.5,564.3 511.0,566.7 511.5,565.4 512.0,564.2 512.5,565.0 513.0,565.2 513.5,564.4 514.0,566.8 514.5,566.2 515.0,564.6 515.5,567.1 516.0,569.6 516.5,567.1 517.0,569.1 517.5,566.6 518.0,566.2 518.5,568.4 519.0,569.2 519.5,569.4 520.0,568.0 520.5,567.6 521.0,566.0 521.5,568.6 522.0,565.6 522.5,567.3 523.0,566.9 523.5,566.6 524.0,567.1 524.5,567.3 525.0,567.2 525.5,566.0 526.0,565.0 526.5,564.3 527.0,564.4 527.5,566.4 528.0,564.5 528.5,563.7 529.0,563.8 529.5,564.9 530.0,564.9 530.5,563.9 531.0,561.5 531.5,563.1 532.0,562.5 532.5,562.9 533.0,564.4 533.5,563.3 534.0,561.6 534.5,564.0 535.0,562.7 535.5,562.4 536.0,563.5 536.5,563.5 537.0,563.3 537.5,562.5 538.0,562.3 538.5,564.4 539.0,565.1 539.5,562.8 540.0,563.6 540.5,564.2 541.0,565.1 541.5,566.1 542.0,568.2 542.5,567.8 543.0,570.1 543.5,571.1 544.0,573.0 544.5,575.2 545.0,575.7 545.5,575.8 546.0,578.1 546.5,576.2 547.0,574.7 547.5,576.9 548.0,574.2 548.5,572.6 549.0,572.4 549.5,571.2 550.0,570.2 550.5,568.6 551.0,568.4 551.5,565.7 552.0,566.1 552.5,566.4 553.0,563.3 553.5,562.9 554.0,562.8 554.5,563.2 555.0,564.1 555.5,561.2 556.0,560.4 556.5,562.3 557.0,560.0 557.5,559.8 558.0,558.8 558.5,560.0 559.0,557.8 559.5,556.5 560.0,557.7 560.5,558.5 561.0,557.8 561.5,557.2 562.0,558.3 562.5,560.2 563.0,559.4 563.5,558.7 564.0,559.0 564.5,561.2 565.0,561.0 565.5,562.1 566.0,563.1 566.5,565.5 567.0,564.8 567.5,565.0 568.0,565.3 568.5,567.8 569.0,568.5 569.5,570.2 570.0,570.2 570.5,574.4 571.0,573.3 571.5,575.0 572.0,576.3 572.5,574.9 573.0,574.5 573.5,573.5 574.0,574.2 574.5,572.9 575.0,572.5 575.5,571.3 576.0,571.2 576.5,568.9 577.0,570.2 577.5,567.0 578.0,567.0 578.5,566.3 579.0,566.8 579.5,565.7 580.0,566.5 580.5,564.2 581.0,564.2 581.5,563.6 582.0,563.2 582.5,563.2 583.0,563.2 583.5,562.8 584.0,563.3 584.5,561.1 585.0,562.5 585.5,560.8 586.0,561.7 586.5,561.8 587.0,560.6 587.5,560.1 588.0,560.7 588.5,561.5 589.0,560.9 589.5,560.7 590.0,560.4 590.5,561.0 591.0,561.6 591.5,561.6 592.0,562.5 592.5,562.5 593.0,566.8 593.5,565.4 594.0,566.4 594.5,567.2 595.0,568.8 595.5,569.5 596.0,571.2 596.5,569.7 597.0,570.6 597.5,567.9 598.0,569.2 598.5,568.1 599.0,568.6 599.5,568.0 600.0,567.3 600.5,568.1 601.0,567.7 601.5,568.0 602.0,567.1 602.5,566.8 603.0,567.1 603.5,567.3 604.0,565.3 604.5,565.0 605.0,565.6 605.5,564.3 606.0,564.5 606.5,564.7 607.0,565.9 607.5,567.9 608.0,567.4 608.5,565.7 609.0,567.4 609.5,568.5 610.0,566.7 610.5,567.1 611.0,567.5 611.5,567.5 612.0,568.9 612.5,567.9 613.0,569.1 613.5,568.0 614.0,570.0 614.5,570.1 615.0,568.2 615.5,570.9 616.0,571.0 616.5,570.5 617.0,569.6 617.5,569.6 618.0,569.5 618.5,570.4 619.0,569.2 619.5,570.7 620.0,570.1 620.5,572.4 621.0,570.2 621.5,570.4 622.0,570.0 622.5,571.4 623.0,570.8 623.5,571.3 624.0,570.0 624.5,570.8 625.0,569.7 625.5,569.6 626.0,568.5 626.5,568.2 627.0,566.2 627.5,566.7 628.0,565.4 628.5,568.2 629.0,567.1 629.5,566.3 630.0,565.3 630.5,568.3 631.0,566.9 631.5,565.4 632.0,568.2 632.5,567.7 633.0,569.5 633.5,564.6 634.0,566.7 634.5,565.7 635.0,569.0 635.5,569.4 636.0,572.6 636.5,573.1 637.0,573.9 637.5,575.7 638.0,575.3 638.5,580.0 639.0,581.6 639.5,581.2 640.0,581.0 640.5,579.6 641.0,581.9 641.5,583.3 642.0,579.8 642.5,579.4 643.0,579.8 643.5,580.3 644.0,583.4 644.5,581.0 645.0,584.6 645.5,583.4 646.0,580.8 646.5,576.4 647.0,580.3 647.5,582.2 648.0,581.8 648.5,585.1 649.0,579.1 649.5,575.4 650.0,582.2 650.5,580.2 651.0,574.7 651.5,580.0 652.0,575.8 652.5,579.0 653.0,577.2 653.5,577.5 654.0,573.5 654.5,573.8 655.0,575.4 655.5,574.8 656.0,574.6 656.5,574.2 657.0,575.3 657.5,571.8 658.0,571.4 658.5,576.5 659.0,575.7 659.5,580.1 660.0,573.7 660.5,573.2 661.0,574.3 661.5,575.7 662.0,574.8 662.5,567.2 663.0,571.0" fill="none" stroke="#3a5fbd" stroke-width="1.45" stroke-linejoin="round" clip-path="url(#h)"/>
<polyline points="376.5,553.5 377.0,553.8 377.5,554.1 378.0,553.7 378.5,554.4 379.0,552.9 379.5,551.3 380.0,552.7 380.5,551.9 381.0,551.8 381.5,552.0 382.0,551.8 382.5,553.1 383.0,550.6 383.5,553.4 384.0,551.5 384.5,552.9 385.0,552.5 385.5,552.7 386.0,554.3 386.5,548.9 387.0,550.7 387.5,554.4 388.0,554.6 388.5,555.3 389.0,554.8 389.5,556.8 390.0,557.8 390.5,557.5 391.0,557.0 391.5,556.7 392.0,556.3 392.5,558.9 393.0,557.5 393.5,558.0 394.0,559.4 394.5,559.9 395.0,559.5 395.5,560.9 396.0,561.3 396.5,561.5 397.0,560.3 397.5,562.2 398.0,561.4 398.5,561.7 399.0,561.4 399.5,561.5 400.0,559.9 400.5,562.2 401.0,558.7 401.5,559.8 402.0,560.1 402.5,560.6 403.0,560.8 403.5,561.4 404.0,559.3 404.5,556.8 405.0,555.5 405.5,558.5 406.0,559.9 406.5,559.6 407.0,559.9 407.5,559.2 408.0,556.9 408.5,555.4 409.0,558.1 409.5,557.5 410.0,557.2 410.5,558.2 411.0,557.9 411.5,556.5 412.0,556.3 412.5,560.4 413.0,563.8 413.5,562.5 414.0,558.6 414.5,559.8 415.0,564.1 415.5,564.6 416.0,564.5 416.5,566.4 417.0,570.6 417.5,572.3 418.0,570.9 418.5,572.2 419.0,573.8 419.5,573.8 420.0,574.6 420.5,573.5 421.0,573.1 421.5,575.9 422.0,575.4 422.5,574.7 423.0,572.2 423.5,572.2 424.0,568.1 424.5,567.7 425.0,566.6 425.5,569.9 426.0,570.5 426.5,568.6 427.0,568.8 427.5,566.9 428.0,566.3 428.5,565.7 429.0,566.8 429.5,567.4 430.0,568.7 430.5,567.1 431.0,567.8 431.5,567.2 432.0,563.3 432.5,562.2 433.0,560.1 433.5,563.6 434.0,565.8 434.5,565.2 435.0,564.7 435.5,565.6 436.0,564.2 436.5,564.2 437.0,564.5 437.5,565.1 438.0,562.6 438.5,561.4 439.0,563.0 439.5,564.7 440.0,564.7 440.5,565.6 441.0,562.7 441.5,564.8 442.0,566.7 442.5,563.2 443.0,565.0 443.5,565.0 444.0,566.4 444.5,567.1 445.0,567.7 445.5,567.2 446.0,568.6 446.5,569.6 447.0,569.5 447.5,568.4 448.0,569.0 448.5,569.8 449.0,571.7 449.5,570.0 450.0,571.9 450.5,571.9 451.0,569.4 451.5,568.1 452.0,568.3 452.5,568.0 453.0,568.8 453.5,567.6 454.0,567.4 454.5,566.8 455.0,565.9 455.5,565.9 456.0,565.5 456.5,562.0 457.0,562.5 457.5,563.5 458.0,566.5 458.5,566.1 459.0,561.3 459.5,561.1 460.0,562.5 460.5,561.3 461.0,562.7 461.5,562.7 462.0,561.5 462.5,561.2 463.0,559.7 463.5,561.4 464.0,562.9 464.5,563.2 465.0,565.6 465.5,562.1 466.0,564.1 466.5,561.5 467.0,561.9 467.5,563.0 468.0,561.9 468.5,560.6 469.0,561.6 469.5,563.4 470.0,563.4 470.5,565.6 471.0,567.5 471.5,565.6 472.0,566.3 472.5,569.1 473.0,568.0 473.5,568.8 474.0,569.1 474.5,568.9 475.0,568.4 475.5,571.9 476.0,570.8 476.5,569.5 477.0,567.4 477.5,569.8 478.0,572.2 478.5,573.7 479.0,574.1 479.5,573.5 480.0,571.1 480.5,567.6 481.0,574.3 481.5,576.7 482.0,572.7 482.5,570.3 483.0,572.0 483.5,571.3 484.0,569.7 484.5,571.4 485.0,573.6 485.5,569.8 486.0,567.5 486.5,568.8 487.0,568.4 487.5,571.0 488.0,569.9 488.5,568.2 489.0,566.8 489.5,567.5 490.0,565.3 490.5,566.2 491.0,566.3 491.5,566.5 492.0,564.5 492.5,562.9 493.0,564.1 493.5,566.7 494.0,566.0 494.5,566.5 495.0,565.1 495.5,564.0 496.0,563.4 496.5,566.8 497.0,569.8 497.5,570.0 498.0,571.0 498.5,569.4 499.0,572.4 499.5,574.4 500.0,573.2 500.5,574.3 501.0,575.0 501.5,574.6 502.0,573.9 502.5,575.8 503.0,575.4 503.5,574.7 504.0,576.7 504.5,579.5 505.0,576.0 505.5,577.0 506.0,578.8 506.5,582.1 507.0,579.0 507.5,581.3 508.0,578.7 508.5,577.2 509.0,580.5 509.5,579.7 510.0,578.4 510.5,579.9 511.0,579.5 511.5,581.8 512.0,579.2 512.5,577.8 513.0,578.8 513.5,579.4 514.0,581.4 514.5,580.0 515.0,578.9 515.5,578.9 516.0,578.0 516.5,579.8 517.0,580.0 517.5,578.9 518.0,580.0 518.5,581.9 519.0,580.9 519.5,580.6 520.0,584.1 520.5,583.3 521.0,583.8 521.5,580.6 522.0,580.2 522.5,581.4 523.0,582.0 523.5,582.4 524.0,582.0 524.5,580.2 525.0,579.1 525.5,579.8 526.0,577.7 526.5,577.8 527.0,578.9 527.5,577.4 528.0,577.0 528.5,575.9 529.0,574.9 529.5,569.6 530.0,570.5 530.5,570.9 531.0,571.3 531.5,568.2 532.0,565.2 532.5,566.2 533.0,566.1 533.5,568.2 534.0,565.8 534.5,566.9 535.0,566.1 535.5,564.9 536.0,565.3 536.5,563.6 537.0,564.1 537.5,565.2 538.0,565.9 538.5,564.0 539.0,562.3 539.5,566.7 540.0,566.4 540.5,565.1 541.0,566.5 541.5,566.2 542.0,566.2 542.5,567.3 543.0,566.7 543.5,564.1 544.0,564.7 544.5,565.7 545.0,567.5 545.5,568.1 546.0,567.3 546.5,570.2 547.0,568.2 547.5,569.5 548.0,566.0 548.5,566.9 549.0,565.2 549.5,567.1 550.0,569.1 550.5,566.7 551.0,566.8 551.5,565.2 552.0,565.8 552.5,566.4 553.0,566.8 553.5,565.2 554.0,565.0 554.5,564.2 555.0,564.8 555.5,564.2 556.0,564.0 556.5,563.5 557.0,564.2 557.5,566.9 558.0,565.1 558.5,567.7 559.0,566.5 559.5,566.5 560.0,566.1 560.5,564.7 561.0,563.9 561.5,562.4 562.0,564.6 562.5,564.2 563.0,567.2 563.5,566.1 564.0,563.2 564.5,561.5 565.0,561.9 565.5,560.8 566.0,561.1 566.5,561.9 567.0,563.3 567.5,560.9 568.0,561.2 568.5,562.9 569.0,562.3 569.5,559.9 570.0,559.0 570.5,558.4 571.0,560.4 571.5,564.1 572.0,561.2 572.5,558.3 573.0,560.9 573.5,560.7 574.0,560.0 574.5,558.4 575.0,557.1 575.5,557.6 576.0,558.8 576.5,559.0 577.0,559.1 577.5,557.6 578.0,558.1 578.5,560.0 579.0,560.6 579.5,562.0 580.0,558.2 580.5,557.4 581.0,555.7 581.5,555.5 582.0,560.2 582.5,562.0 583.0,562.3 583.5,560.2 584.0,560.1 584.5,560.1 585.0,559.6 585.5,559.2 586.0,560.5 586.5,561.5 587.0,562.0 587.5,561.3 588.0,559.8 588.5,559.4 589.0,560.9 589.5,561.0 590.0,560.7 590.5,559.0 591.0,560.1 591.5,558.8 592.0,558.4 592.5,560.4 593.0,559.7 593.5,558.2 594.0,556.4 594.5,556.9 595.0,556.5 595.5,557.8 596.0,558.6 596.5,560.0 597.0,556.9 597.5,555.7 598.0,554.1 598.5,555.6 599.0,556.8 599.5,555.7 600.0,555.8 600.5,554.0 601.0,555.5 601.5,555.9 602.0,553.0 602.5,556.1 603.0,556.5 603.5,557.8 604.0,555.6 604.5,554.7 605.0,554.6 605.5,554.7 606.0,556.3 606.5,556.5 607.0,552.9 607.5,554.7 608.0,555.4 608.5,554.6 609.0,555.4 609.5,557.8 610.0,557.9 610.5,555.3 611.0,554.1 611.5,554.3 612.0,554.5 612.5,557.9 613.0,554.2 613.5,553.6 614.0,556.7 614.5,559.7 615.0,558.3 615.5,555.8 616.0,555.0 616.5,554.1 617.0,556.4 617.5,557.4 618.0,557.9 618.5,558.6 619.0,558.6 619.5,559.0 620.0,559.7 620.5,560.4 621.0,558.1 621.5,556.6 622.0,556.1 622.5,559.4 623.0,556.9 623.5,558.9 624.0,557.6 624.5,558.6 625.0,556.0 625.5,554.7 626.0,555.3 626.5,553.4 627.0,554.6 627.5,556.4 628.0,556.0 628.5,556.1 629.0,556.0 629.5,553.4 630.0,555.7 630.5,555.0 631.0,554.3 631.5,551.3 632.0,551.7 632.5,554.8 633.0,556.1 633.5,553.5 634.0,553.0 634.5,554.0 635.0,552.9 635.5,555.1 636.0,555.2 636.5,554.8 637.0,554.8 637.5,553.7 638.0,555.7 638.5,554.8 639.0,553.9 639.5,553.3 640.0,555.1 640.5,554.6 641.0,555.5 641.5,553.1 642.0,554.2 642.5,555.8 643.0,556.6 643.5,557.9 644.0,557.0 644.5,554.7 645.0,553.9 645.5,557.8 646.0,559.1 646.5,558.9 647.0,559.6 647.5,558.5 648.0,559.1 648.5,559.8 649.0,558.3 649.5,556.9 650.0,560.9 650.5,561.2 651.0,556.9 651.5,558.0 652.0,558.9 652.5,558.6 653.0,562.3 653.5,562.8 654.0,561.5 654.5,561.6 655.0,560.2 655.5,561.3 656.0,560.2 656.5,560.6 657.0,561.5 657.5,561.8 658.0,561.2 658.5,561.7 659.0,562.5 659.5,562.1 660.0,561.2 660.5,558.1 661.0,559.4 661.5,559.1 662.0,558.7 662.5,557.6 663.0,556.6" fill="none" stroke="#3db57a" stroke-width="1.45" stroke-linejoin="round" clip-path="url(#h)"/>
<polyline points="376.5,550.9 377.0,550.1 377.5,550.9 378.0,552.8 378.5,555.2 379.0,553.3 379.5,552.1 380.0,556.7 380.5,555.5 381.0,556.5 381.5,550.9 382.0,552.4 382.5,551.8 383.0,555.7 383.5,555.9 384.0,553.8 384.5,553.2 385.0,554.8 385.5,555.0 386.0,555.0 386.5,555.7 387.0,553.1 387.5,552.3 388.0,553.8 388.5,553.9 389.0,551.6 389.5,552.4 390.0,551.6 390.5,551.6 391.0,550.6 391.5,551.5 392.0,554.2 392.5,552.5 393.0,550.5 393.5,550.3 394.0,554.1 394.5,552.6 395.0,552.0 395.5,554.3 396.0,553.6 396.5,552.5 397.0,553.0 397.5,553.6 398.0,552.0 398.5,552.1 399.0,552.0 399.5,552.0 400.0,551.4 400.5,554.5 401.0,553.4 401.5,555.3 402.0,553.3 402.5,550.3 403.0,552.4 403.5,551.5 404.0,554.4 404.5,556.3 405.0,555.2 405.5,553.1 406.0,556.5 406.5,555.0 407.0,555.0 407.5,555.9 408.0,556.9 408.5,559.3 409.0,560.0 409.5,559.9 410.0,559.9 410.5,558.4 411.0,556.8 411.5,560.1 412.0,559.2 412.5,557.0 413.0,556.9 413.5,558.1 414.0,557.8 414.5,556.1 415.0,555.9 415.5,556.5 416.0,554.8 416.5,554.8 417.0,557.9 417.5,555.0 418.0,553.3 418.5,552.6 419.0,553.4 419.5,555.3 420.0,554.0 420.5,552.4 421.0,553.9 421.5,554.0 422.0,553.6 422.5,552.0 423.0,551.2 423.5,552.4 424.0,552.2 424.5,554.2 425.0,552.1 425.5,550.9 426.0,553.0 426.5,553.1 427.0,553.2 427.5,555.0 428.0,553.0 428.5,550.9 429.0,551.7 429.5,554.3 430.0,554.2 430.5,556.1 431.0,555.5 431.5,554.5 432.0,555.5 432.5,556.5 433.0,556.0 433.5,553.4 434.0,554.1 434.5,555.2 435.0,554.6 435.5,555.3 436.0,557.9 436.5,557.5 437.0,555.8 437.5,557.1 438.0,555.8 438.5,555.6 439.0,556.1 439.5,556.8 440.0,558.1 440.5,555.1 441.0,554.1 441.5,557.9 442.0,558.2 442.5,555.6 443.0,556.1 443.5,555.2 444.0,555.6 444.5,555.1 445.0,558.9 445.5,558.0 446.0,558.1 446.5,558.6 447.0,559.0 447.5,558.1 448.0,556.7 448.5,558.0 449.0,561.7 449.5,559.9 450.0,557.3 450.5,557.6 451.0,559.0 451.5,557.9 452.0,557.9 452.5,557.7 453.0,558.5 453.5,559.6 454.0,560.6 454.5,560.9 455.0,559.4 455.5,558.5 456.0,558.2 456.5,558.6 457.0,558.3 457.5,560.0 458.0,560.1 458.5,560.3 459.0,560.6 459.5,559.3 460.0,557.3 460.5,560.1 461.0,559.8 461.5,558.8 462.0,558.3 462.5,560.5 463.0,562.8 463.5,560.0 464.0,560.9 464.5,561.3 465.0,559.4 465.5,559.8 466.0,562.2 466.5,561.0 467.0,562.3 467.5,563.5 468.0,563.0 468.5,560.0 469.0,561.0 469.5,563.9 470.0,564.8 470.5,565.8 471.0,565.9 471.5,566.8 472.0,566.7 472.5,567.5 473.0,568.1 473.5,568.7 474.0,569.2 474.5,568.3 475.0,570.9 475.5,573.4 476.0,573.0 476.5,568.6 477.0,570.2 477.5,569.4 478.0,569.4 478.5,571.1 479.0,568.8 479.5,569.1 480.0,570.5 480.5,570.6 481.0,568.4 481.5,565.6 482.0,567.9 482.5,567.6 483.0,565.5 483.5,567.1 484.0,568.3 484.5,565.9 485.0,566.8 485.5,567.1 486.0,567.6 486.5,566.9 487.0,565.3 487.5,564.4 488.0,564.5 488.5,564.6 489.0,567.1 489.5,565.0 490.0,566.6 490.5,567.4 491.0,565.9 491.5,567.6 492.0,565.3 492.5,567.3 493.0,569.0 493.5,569.0 494.0,570.9 494.5,571.0 495.0,571.5 495.5,571.5 496.0,573.9 496.5,576.4 497.0,574.7 497.5,576.4 498.0,577.0 498.5,578.9 499.0,580.1 499.5,583.3 500.0,583.3 500.5,582.0 501.0,583.3 501.5,582.4 502.0,580.6 502.5,577.6 503.0,578.2 503.5,576.5 504.0,573.2 504.5,571.0 505.0,572.9 505.5,572.4 506.0,570.1 506.5,571.4 507.0,571.1 507.5,569.7 508.0,570.7 508.5,571.3 509.0,572.7 509.5,569.6 510.0,570.9 510.5,571.2 511.0,571.7 511.5,570.3 512.0,569.1 512.5,571.2 513.0,567.3 513.5,568.5 514.0,569.6 514.5,572.2 515.0,572.4 515.5,569.7 516.0,568.7 516.5,570.3 517.0,569.6 517.5,571.2 518.0,570.7 518.5,569.1 519.0,570.3 519.5,570.6 520.0,572.1 520.5,574.5 521.0,573.5 521.5,573.3 522.0,574.4 522.5,572.2 523.0,574.4 523.5,574.9 524.0,573.4 524.5,574.2 525.0,574.0 525.5,578.3 526.0,575.2 526.5,574.6 527.0,574.1 527.5,573.1 528.0,572.5 528.5,568.3 529.0,567.7 529.5,564.9 530.0,567.0 530.5,563.8 531.0,561.9 531.5,563.8 532.0,561.9 532.5,561.7 533.0,562.5 533.5,560.9 534.0,560.2 534.5,563.8 535.0,563.6 535.5,561.4 536.0,559.5 536.5,558.2 537.0,560.1 537.5,562.4 538.0,560.5 538.5,560.4 539.0,560.5 539.5,559.9 540.0,560.3 540.5,563.8 541.0,563.6 541.5,561.4 542.0,559.6 542.5,561.8 543.0,561.4 543.5,563.3 544.0,563.4 544.5,561.7 545.0,562.5 545.5,561.1 546.0,561.9 546.5,563.0 547.0,563.6 547.5,563.0 548.0,564.6 548.5,563.2 549.0,562.1 549.5,563.0 550.0,562.9 550.5,563.7 551.0,565.9 551.5,565.5 552.0,564.6 552.5,564.9 553.0,565.0 553.5,561.6 554.0,560.8 554.5,559.0 555.0,554.8 555.5,557.0 556.0,556.1 556.5,552.9 557.0,553.4 557.5,552.0 558.0,549.9 558.5,550.1 559.0,549.4 559.5,550.5 560.0,551.6 560.5,551.1 561.0,550.1 561.5,551.4 562.0,550.3 562.5,549.3 563.0,550.7 563.5,552.6 564.0,551.9 564.5,549.9 565.0,549.7 565.5,549.5 566.0,550.1 566.5,550.5 567.0,549.3 567.5,549.4 568.0,549.1 568.5,550.0 569.0,548.7 569.5,550.1 570.0,551.6 570.5,550.9 571.0,549.1 571.5,548.6 572.0,549.2 572.5,549.1 573.0,550.4 573.5,550.0 574.0,548.6 574.5,547.7 575.0,547.6 575.5,549.2 576.0,551.1 576.5,549.5 577.0,546.8 577.5,548.4 578.0,546.6 578.5,548.3 579.0,550.1 579.5,548.4 580.0,548.2 580.5,549.5 581.0,548.5 581.5,546.8 582.0,549.4 582.5,549.3 583.0,549.1 583.5,547.2 584.0,547.6 584.5,546.9 585.0,546.0 585.5,546.6 586.0,544.6 586.5,545.3 587.0,545.7 587.5,545.4 588.0,545.3 588.5,546.4 589.0,545.8 589.5,545.1 590.0,543.1 590.5,543.2 591.0,545.9 591.5,544.1 592.0,544.3 592.5,545.7 593.0,542.7 593.5,542.6 594.0,542.7 594.5,542.7 595.0,544.0 595.5,542.3 596.0,540.8 596.5,541.7 597.0,543.3 597.5,542.6 598.0,542.9 598.5,542.4 599.0,543.9 599.5,542.6 600.0,540.5 600.5,543.2 601.0,541.4 601.5,540.6 602.0,543.5 602.5,540.0 603.0,539.7 603.5,539.8 604.0,541.3 604.5,540.0 605.0,541.1 605.5,539.2 606.0,539.5 606.5,539.5 607.0,539.2 607.5,539.6 608.0,541.0 608.5,541.6 609.0,538.7 609.5,538.8 610.0,541.2 610.5,540.9 611.0,540.7 611.5,538.8 612.0,537.7 612.5,539.8 613.0,538.4 613.5,539.4 614.0,538.9 614.5,541.4 615.0,538.2 615.5,537.5 616.0,538.5 616.5,540.6 617.0,540.0 617.5,539.9 618.0,539.1 618.5,538.4 619.0,539.7 619.5,537.8 620.0,536.2 620.5,536.2 621.0,539.3 621.5,540.7 622.0,539.6 622.5,537.0 623.0,539.1 623.5,539.3 624.0,539.3 624.5,539.5 625.0,538.1 625.5,537.2 626.0,536.9 626.5,537.3 627.0,537.2 627.5,536.5 628.0,539.4 628.5,538.7 629.0,538.3 629.5,538.9 630.0,539.9 630.5,538.2 631.0,538.7 631.5,536.4 632.0,536.5 632.5,538.2 633.0,538.5 633.5,538.6 634.0,539.4 634.5,538.6 635.0,538.9 635.5,538.0 636.0,537.9 636.5,537.3 637.0,535.4 637.5,538.0 638.0,540.0 638.5,539.1 639.0,539.3 639.5,537.3 640.0,536.9 640.5,537.9 641.0,538.1 641.5,537.4 642.0,536.5 642.5,537.1 643.0,535.6 643.5,537.1 644.0,538.1 644.5,539.2 645.0,538.3 645.5,537.9 646.0,535.8 646.5,537.6 647.0,537.5 647.5,537.1 648.0,537.5 648.5,538.8 649.0,537.7 649.5,538.8 650.0,538.4 650.5,538.9 651.0,537.7 651.5,539.9 652.0,540.8 652.5,540.7 653.0,538.8 653.5,539.1 654.0,542.1 654.5,542.0 655.0,540.4 655.5,540.5 656.0,541.0 656.5,540.2 657.0,540.3 657.5,540.6 658.0,540.0 658.5,541.0 659.0,541.5 659.5,542.2 660.0,541.4 660.5,542.0 661.0,540.3 661.5,540.0 662.0,539.8 662.5,541.9 663.0,541.6" fill="none" stroke="#e3a12f" stroke-width="1.45" stroke-linejoin="round" clip-path="url(#h)"/>
<polyline points="376.5,521.1 377.0,520.8 377.5,521.4 378.0,521.7 378.5,521.8 379.0,521.4 379.5,521.0 380.0,521.2 380.5,521.4 381.0,520.9 381.5,520.8 382.0,521.3 382.5,521.3 383.0,521.4 383.5,520.9 384.0,521.3 384.5,521.4 385.0,521.3 385.5,520.9 386.0,520.6 386.5,521.4 387.0,521.7 387.5,520.0 388.0,519.3 388.5,519.9 389.0,520.7 389.5,521.2 390.0,520.2 390.5,520.3 391.0,521.1 391.5,520.9 392.0,520.7 392.5,520.5 393.0,520.3 393.5,520.3 394.0,520.3 394.5,519.7 395.0,520.3 395.5,521.1 396.0,520.9 396.5,520.3 397.0,519.7 397.5,519.6 398.0,519.9 398.5,520.0 399.0,519.3 399.5,519.8 400.0,520.2 400.5,520.5 401.0,520.6 401.5,519.6 402.0,519.5 402.5,520.0 403.0,520.5 403.5,520.4 404.0,519.9 404.5,520.0 405.0,520.1 405.5,519.6 406.0,519.2 406.5,519.5 407.0,519.5 407.5,519.1 408.0,520.1 408.5,519.9 409.0,519.6 409.5,519.4 410.0,519.1 410.5,518.8 411.0,518.9 411.5,519.2 412.0,519.5 412.5,519.2 413.0,519.5 413.5,519.2 414.0,519.6 414.5,519.1 415.0,519.6 415.5,519.8 416.0,518.8 416.5,518.8 417.0,519.8 417.5,519.1 418.0,519.0 418.5,519.0 419.0,519.3 419.5,519.2 420.0,519.0 420.5,519.1 421.0,518.9 421.5,519.0 422.0,519.1 422.5,519.1 423.0,518.9 423.5,518.6 424.0,518.4 424.5,519.3 425.0,518.3 425.5,518.9 426.0,519.0 426.5,518.6 427.0,518.6 427.5,518.4 428.0,517.1 428.5,518.2 429.0,519.0 429.5,518.6 430.0,518.8 430.5,518.4 431.0,518.5 431.5,518.9 432.0,518.5 432.5,518.3 433.0,518.6 433.5,518.8 434.0,518.4 434.5,518.9 435.0,518.9 435.5,518.5 436.0,518.3 436.5,518.4 437.0,517.8 437.5,518.1 438.0,518.4 438.5,518.3 439.0,518.1 439.5,518.9 440.0,519.1 440.5,518.4 441.0,518.7 441.5,518.9 442.0,518.7 442.5,518.9 443.0,518.5 443.5,519.0 444.0,518.9 444.5,518.3 445.0,519.7 445.5,519.1 446.0,518.8 446.5,519.4 447.0,520.1 447.5,519.5 448.0,519.3 448.5,518.9 449.0,518.7 449.5,518.9 450.0,519.5 450.5,519.6 451.0,519.4 451.5,519.9 452.0,519.0 452.5,519.5 453.0,519.4 453.5,520.0 454.0,519.6 454.5,519.0 455.0,519.4 455.5,519.8 456.0,519.4 456.5,519.5 457.0,519.9 457.5,519.8 458.0,520.6 458.5,520.2 459.0,519.2 459.5,520.0 460.0,519.1 460.5,519.3 461.0,519.3 461.5,519.2 462.0,519.3 462.5,519.7 463.0,519.7 463.5,519.3 464.0,519.5 464.5,519.6 465.0,519.5 465.5,520.0 466.0,519.0 466.5,518.8 467.0,519.0 467.5,519.5 468.0,519.3 468.5,519.9 469.0,519.4 469.5,518.8 470.0,518.8 470.5,519.2 471.0,518.8 471.5,519.4 472.0,519.3 472.5,519.3 473.0,519.2 473.5,519.3 474.0,519.5 474.5,519.1 475.0,518.9 475.5,519.9 476.0,519.1 476.5,519.2 477.0,519.6 477.5,519.7 478.0,518.9 478.5,519.0 479.0,519.4 479.5,518.9 480.0,518.8 480.5,519.4 481.0,519.6 481.5,518.4 482.0,519.4 482.5,520.1 483.0,519.8 483.5,518.6 484.0,518.0 484.5,519.5 485.0,520.3 485.5,520.0 486.0,519.3 486.5,519.2 487.0,519.0 487.5,519.1 488.0,519.6 488.5,519.5 489.0,519.7 489.5,519.1 490.0,519.1 490.5,518.5 491.0,518.8 491.5,520.1 492.0,519.8 492.5,518.7 493.0,518.4 493.5,518.9 494.0,519.6 494.5,519.6 495.0,519.6 495.5,518.7 496.0,519.6 496.5,519.6 497.0,519.0 497.5,518.7 498.0,519.3 498.5,519.9 499.0,520.1 499.5,519.1 500.0,519.2 500.5,518.8 501.0,519.0 501.5,520.3 502.0,519.7 502.5,519.8 503.0,518.7 503.5,519.1 504.0,520.1 504.5,519.8 505.0,519.9 505.5,519.5 506.0,519.5 506.5,519.1 507.0,518.6 507.5,519.4 508.0,520.1 508.5,520.0 509.0,519.8 509.5,519.5 510.0,519.5 510.5,519.7 511.0,519.8 511.5,519.4 512.0,518.9 512.5,519.8 513.0,520.0 513.5,519.9 514.0,520.3 514.5,519.2 515.0,519.2 515.5,519.8 516.0,520.5 516.5,519.7 517.0,520.3 517.5,520.1 518.0,519.5 518.5,519.4 519.0,520.1 519.5,519.9 520.0,520.3 520.5,520.3 521.0,520.2 521.5,519.6 522.0,519.6 522.5,520.1 523.0,520.5 523.5,519.8 524.0,519.6 524.5,520.3 525.0,519.7 525.5,519.2 526.0,519.2 526.5,520.5 527.0,520.8 527.5,520.3 528.0,519.9 528.5,519.3 529.0,519.6 529.5,519.6 530.0,520.0 530.5,520.4 531.0,520.2 531.5,520.4 532.0,520.3 532.5,520.3 533.0,519.7 533.5,519.5 534.0,520.7 534.5,520.3 535.0,520.0 535.5,520.3 536.0,519.2 536.5,518.7 537.0,519.7 537.5,520.2 538.0,519.7 538.5,520.2 539.0,520.4 539.5,520.8 540.0,519.7 540.5,520.3 541.0,520.8 541.5,519.4 542.0,519.9 542.5,520.6 543.0,520.9 543.5,520.1 544.0,520.1 544.5,520.7 545.0,520.3 545.5,520.3 546.0,520.2 546.5,519.2 547.0,520.0 547.5,521.5 548.0,520.4 548.5,519.8 549.0,520.4 549.5,520.4 550.0,520.8 550.5,520.5 551.0,520.7 551.5,520.3 552.0,520.0 552.5,519.8 553.0,519.7 553.5,520.1 554.0,520.4 554.5,520.9 555.0,521.2 555.5,520.2 556.0,520.7 556.5,519.8 557.0,520.3 557.5,521.1 558.0,520.8 558.5,520.1 559.0,520.4 559.5,521.0 560.0,520.8 560.5,520.1 561.0,520.4 561.5,520.5 562.0,520.6 562.5,520.5 563.0,520.0 563.5,520.1 564.0,520.5 564.5,520.3 565.0,519.8 565.5,520.7 566.0,521.2 566.5,521.1 567.0,520.4 567.5,520.9 568.0,520.2 568.5,520.9 569.0,520.3 569.5,520.5 570.0,520.3 570.5,520.7 571.0,520.7 571.5,520.5 572.0,520.5 572.5,520.5 573.0,520.3 573.5,520.9 574.0,520.9 574.5,520.5 575.0,521.0 575.5,521.1 576.0,520.5 576.5,520.7 577.0,521.1 577.5,521.7 578.0,521.0 578.5,520.3 579.0,519.5 579.5,520.5 580.0,521.3 580.5,521.0 581.0,521.1 581.5,521.6 582.0,521.4 582.5,521.3 583.0,521.0 583.5,521.0 584.0,520.6 584.5,521.7 585.0,520.9 585.5,520.4 586.0,520.7 586.5,521.1 587.0,521.8 587.5,521.5 588.0,520.7 588.5,522.0 589.0,521.3 589.5,521.3 590.0,521.2 590.5,521.7 591.0,521.5 591.5,520.6 592.0,520.3 592.5,521.5 593.0,522.1 593.5,521.6 594.0,521.0 594.5,520.7 595.0,521.1 595.5,521.8 596.0,522.1 596.5,522.0 597.0,522.1 597.5,521.9 598.0,521.3 598.5,520.9 599.0,521.8 599.5,521.7 600.0,521.9 600.5,522.1 601.0,521.3 601.5,520.9 602.0,521.0 602.5,521.3 603.0,521.5 603.5,521.9 604.0,521.9 604.5,521.5 605.0,522.2 605.5,521.6 606.0,521.4 606.5,521.9 607.0,521.7 607.5,521.4 608.0,521.5 608.5,522.1 609.0,521.8 609.5,521.0 610.0,521.5 610.5,521.9 611.0,521.9 611.5,522.8 612.0,521.8 612.5,521.6 613.0,522.0 613.5,521.8 614.0,521.3 614.5,521.9 615.0,521.9 615.5,521.8 616.0,522.0 616.5,522.0 617.0,521.9 617.5,521.8 618.0,522.1 618.5,521.9 619.0,522.1 619.5,522.2 620.0,521.9 620.5,522.0 621.0,522.1 621.5,521.7 622.0,521.4 622.5,521.1 623.0,522.5 623.5,523.9 624.0,523.1 624.5,522.6 625.0,522.2 625.5,522.2 626.0,522.6 626.5,522.5 627.0,522.8 627.5,522.6 628.0,521.7 628.5,522.1 629.0,522.4 629.5,523.2 630.0,523.0 630.5,522.3 631.0,521.4 631.5,522.6 632.0,522.5 632.5,522.2 633.0,522.1 633.5,522.5 634.0,522.9 634.5,522.0 635.0,522.6 635.5,523.2 636.0,523.3 636.5,523.2 637.0,522.5 637.5,523.6 638.0,522.9 638.5,523.1 639.0,522.7 639.5,522.2 640.0,522.8 640.5,522.9 641.0,522.9 641.5,523.0 642.0,523.1 642.5,522.9 643.0,523.1 643.5,522.7 644.0,523.3 644.5,522.6 645.0,522.8 645.5,523.3 646.0,523.4 646.5,522.7 647.0,522.7 647.5,522.1 648.0,522.5 648.5,522.5 649.0,522.4 649.5,522.8 650.0,522.9 650.5,523.3 651.0,523.4 651.5,523.3 652.0,522.7 652.5,522.4 653.0,522.9 653.5,522.7 654.0,523.7 654.5,523.7 655.0,522.8 655.5,522.0 656.0,523.5 656.5,523.4 657.0,523.6 657.5,522.5 658.0,522.3 658.5,522.5 659.0,522.1 659.5,523.1 660.0,523.2 660.5,522.5 661.0,523.0 661.5,523.3 662.0,523.2 662.5,522.8 663.0,522.6" fill="none" stroke="#ede33a" stroke-width="1.75" stroke-linejoin="round" clip-path="url(#h)"/>
<rect x="367.6" y="506.4" width="304.90" height="77.90" fill="none" stroke="#262626" stroke-width="1.0"/>
<line x1="367.60" y1="584.30" x2="367.60" y2="588.70" stroke="#262626" stroke-width="1.0"/>
<text x="367.60" y="600.90" font-size="11.6" text-anchor="middle" >1500</text>
<line x1="398.09" y1="584.30" x2="398.09" y2="586.60" stroke="#262626" stroke-width="1.0"/>
<line x1="428.58" y1="584.30" x2="428.58" y2="588.70" stroke="#262626" stroke-width="1.0"/>
<text x="428.58" y="600.90" font-size="11.6" text-anchor="middle" >1520</text>
<line x1="459.07" y1="584.30" x2="459.07" y2="586.60" stroke="#262626" stroke-width="1.0"/>
<line x1="489.56" y1="584.30" x2="489.56" y2="588.70" stroke="#262626" stroke-width="1.0"/>
<text x="489.56" y="600.90" font-size="11.6" text-anchor="middle" >1540</text>
<line x1="520.05" y1="584.30" x2="520.05" y2="586.60" stroke="#262626" stroke-width="1.0"/>
<line x1="550.54" y1="584.30" x2="550.54" y2="588.70" stroke="#262626" stroke-width="1.0"/>
<text x="550.54" y="600.90" font-size="11.6" text-anchor="middle" >1560</text>
<line x1="581.03" y1="584.30" x2="581.03" y2="586.60" stroke="#262626" stroke-width="1.0"/>
<line x1="611.52" y1="584.30" x2="611.52" y2="588.70" stroke="#262626" stroke-width="1.0"/>
<text x="611.52" y="600.90" font-size="11.6" text-anchor="middle" >1580</text>
<line x1="642.01" y1="584.30" x2="642.01" y2="586.60" stroke="#262626" stroke-width="1.0"/>
<line x1="672.50" y1="584.30" x2="672.50" y2="588.70" stroke="#262626" stroke-width="1.0"/>
<text x="672.50" y="600.90" font-size="11.6" text-anchor="middle" >1600</text>
<line x1="367.60" y1="514.19" x2="363.20" y2="514.19" stroke="#262626" stroke-width="1.0"/>
<text x="360.30" y="518.39" font-size="11.6" text-anchor="end" >0</text>
<line x1="367.60" y1="529.77" x2="363.20" y2="529.77" stroke="#262626" stroke-width="1.0"/>
<text x="360.30" y="533.97" font-size="11.6" text-anchor="end" >-10</text>
<line x1="367.60" y1="545.35" x2="363.20" y2="545.35" stroke="#262626" stroke-width="1.0"/>
<text x="360.30" y="549.55" font-size="11.6" text-anchor="end" >-20</text>
<line x1="367.60" y1="560.93" x2="363.20" y2="560.93" stroke="#262626" stroke-width="1.0"/>
<text x="360.30" y="565.13" font-size="11.6" text-anchor="end" >-30</text>
<line x1="367.60" y1="576.51" x2="363.20" y2="576.51" stroke="#262626" stroke-width="1.0"/>
<text x="360.30" y="580.71" font-size="11.6" text-anchor="end" >-40</text>
<text x="329.60" y="540.85" font-size="11.7" text-anchor="middle" transform="rotate(-90 329.60 540.85)" >Transmission (dB)</text>
<text x="603.90" y="533.90" font-size="14.2">I<tspan font-size="9.2" dy="3.0">5</tspan><tspan dy="-3.0" dx="2.7">input</tspan></text>
<text x="520.00" y="620.80" font-size="11.6" text-anchor="middle" >Wavelength (nm)</text>
<line x1="373.30" y1="16.4" x2="404.30" y2="16.4" stroke="#32309a" stroke-width="1.3"/>
<text x="407.20" y="21.0" font-size="14">O<tspan font-size="9.5" dy="3.9">1</tspan></text>
<line x1="430.30" y1="16.4" x2="461.30" y2="16.4" stroke="#3a5fbd" stroke-width="1.3"/>
<text x="464.20" y="21.0" font-size="14">O<tspan font-size="9.5" dy="3.9">2</tspan></text>
<line x1="487.30" y1="16.4" x2="518.30" y2="16.4" stroke="#3db57a" stroke-width="1.3"/>
<text x="521.20" y="21.0" font-size="14">O<tspan font-size="9.5" dy="3.9">3</tspan></text>
<line x1="544.30" y1="16.4" x2="575.30" y2="16.4" stroke="#e3a12f" stroke-width="1.3"/>
<text x="578.20" y="21.0" font-size="14">O<tspan font-size="9.5" dy="3.9">4</tspan></text>
<line x1="601.30" y1="16.4" x2="632.30" y2="16.4" stroke="#ede33a" stroke-width="1.3"/>
<text x="635.20" y="21.0" font-size="14">O<tspan font-size="9.5" dy="3.9">5</tspan></text>
<polyline points="46.2,416.4 46.7,413.2 47.2,414.1 47.7,413.6 48.2,410.6 48.7,411.9 49.2,413.4 49.7,413.2 50.2,413.0 50.7,413.6 51.2,412.8 51.7,412.3 52.2,414.7 52.7,412.5 53.2,412.9 53.7,411.8 54.2,409.8 54.7,410.3 55.2,410.6 55.7,410.9 56.2,413.0 56.7,414.2 57.2,413.6 57.7,411.7 58.2,410.3 58.7,412.5 59.2,412.0 59.7,412.0 60.2,410.4 60.7,411.2 61.2,413.5 61.7,412.6 62.2,412.4 62.7,413.1 63.2,413.1 63.7,412.3 64.2,412.3 64.7,411.8 65.2,412.5 65.7,410.2 66.2,411.8 66.7,410.1 67.2,413.0 67.7,413.2 68.2,411.8 68.7,412.0 69.2,413.7 69.7,407.7 70.2,411.7 70.7,410.0 71.2,412.0 71.7,413.9 72.2,412.0 72.7,408.6 73.2,410.6 73.7,411.5 74.2,411.0 74.7,411.9 75.2,410.0 75.7,412.5 76.2,409.4 76.7,409.2 77.2,410.8 77.7,411.5 78.2,410.1 78.7,411.5 79.2,412.7 79.7,413.1 80.2,410.8 80.7,412.0 81.2,410.6 81.7,409.6 82.2,408.9 82.7,411.4 83.2,410.8 83.7,411.1 84.2,409.1 84.7,410.3 85.2,411.4 85.7,413.3 86.2,412.6 86.7,408.8 87.2,408.7 87.7,410.5 88.2,411.5 88.7,411.8 89.2,412.0 89.7,411.8 90.2,411.7 90.7,411.0 91.2,410.9 91.7,411.1 92.2,410.2 92.7,411.6 93.2,409.8 93.7,411.2 94.2,412.4 94.7,409.6 95.2,409.5 95.7,410.3 96.2,410.5 96.7,409.8 97.2,413.1 97.7,409.6 98.2,411.7 98.7,412.4 99.2,409.2 99.7,409.9 100.2,410.5 100.7,412.2 101.2,414.4 101.7,412.8 102.2,410.9 102.7,410.3 103.2,411.3 103.7,414.1 104.2,413.1 104.7,411.6 105.2,411.2 105.7,410.9 106.2,412.2 106.7,412.6 107.2,411.5 107.7,413.3 108.2,411.9 108.7,410.3 109.2,409.6 109.7,412.1 110.2,412.2 110.7,411.8 111.2,411.1 111.7,411.3 112.2,412.2 112.7,411.8 113.2,411.3 113.7,410.9 114.2,413.0 114.7,412.8 115.2,413.7 115.7,413.6 116.2,412.5 116.7,411.2 117.2,410.6 117.7,412.2 118.2,414.2 118.7,411.2 119.2,412.1 119.7,412.9 120.2,411.3 120.7,411.6 121.2,412.1 121.7,413.8 122.2,413.4 122.7,411.4 123.2,413.3 123.7,411.7 124.2,411.3 124.7,410.9 125.2,412.2 125.7,411.1 126.2,413.2 126.7,412.5 127.2,411.9 127.7,410.8 128.2,412.8 128.7,413.6 129.2,410.5 129.7,410.0 130.2,412.4 130.7,411.8 131.2,413.5 131.7,411.7 132.2,410.6 132.7,412.0 133.2,412.8 133.7,413.5 134.2,411.5 134.7,410.5 135.2,412.9 135.7,411.8 136.2,412.0 136.7,412.8 137.2,414.4 137.7,413.0 138.2,412.7 138.7,412.4 139.2,412.1 139.7,412.2 140.2,410.5 140.7,411.6 141.2,412.7 141.7,411.6 142.2,411.2 142.7,411.7 143.2,412.4 143.7,409.8 144.2,411.9 144.7,413.9 145.2,413.3 145.7,412.3 146.2,413.5 146.7,412.0 147.2,411.4 147.7,412.7 148.2,411.9 148.7,411.4 149.2,414.1 149.7,414.6 150.2,413.0 150.7,414.4 151.2,414.1 151.7,412.7 152.2,415.0 152.7,415.6 153.2,414.2 153.7,415.3 154.2,413.5 154.7,413.8 155.2,414.8 155.7,413.9 156.2,415.0 156.7,414.7 157.2,414.5 157.7,412.8 158.2,413.2 158.7,413.4 159.2,414.2 159.7,414.8 160.2,414.5 160.7,415.0 161.2,414.2 161.7,413.5 162.2,413.1 162.7,412.2 163.2,413.1 163.7,412.7 164.2,413.5 164.7,414.1 165.2,412.3 165.7,412.7 166.2,413.4 166.7,412.8 167.2,414.1 167.7,413.7 168.2,414.6 168.7,412.6 169.2,414.1 169.7,410.9 170.2,412.8 170.7,412.3 171.2,412.1 171.7,413.1 172.2,413.2 172.7,412.3 173.2,413.6 173.7,413.3 174.2,413.9 174.7,412.9 175.2,414.0 175.7,413.7 176.2,413.5 176.7,412.6 177.2,412.9 177.7,413.6 178.2,413.5 178.7,413.9 179.2,413.0 179.7,413.4 180.2,413.5 180.7,414.4 181.2,414.2 181.7,412.9 182.2,412.7 182.7,413.1 183.2,412.9 183.7,413.7 184.2,414.8 184.7,415.2 185.2,414.4 185.7,413.7 186.2,412.7 186.7,412.2 187.2,413.6 187.7,413.1 188.2,415.7 188.7,415.6 189.2,413.9 189.7,415.9 190.2,414.5 190.7,415.2 191.2,416.0 191.7,414.8 192.2,414.1 192.7,414.7 193.2,416.4 193.7,415.6 194.2,414.8 194.7,416.6 195.2,416.7 195.7,415.9 196.2,417.6 196.7,416.0 197.2,415.0 197.7,415.1 198.2,417.8 198.7,416.3 199.2,418.0 199.7,416.7 200.2,414.5 200.7,416.6 201.2,419.4 201.7,415.9 202.2,418.3 202.7,415.4 203.2,416.8 203.7,419.0 204.2,417.6 204.7,417.1 205.2,415.5 205.7,415.7 206.2,416.5 206.7,415.8 207.2,417.3 207.7,415.1 208.2,416.6 208.7,417.9 209.2,416.6 209.7,416.2 210.2,414.8 210.7,414.2 211.2,413.8 211.7,415.7 212.2,415.0 212.7,415.7 213.2,414.4 213.7,413.8 214.2,414.3 214.7,414.7 215.2,413.9 215.7,412.4 216.2,413.5 216.7,414.2 217.2,414.1 217.7,414.0 218.2,413.3 218.7,414.1 219.2,412.4 219.7,414.2 220.2,415.9 220.7,416.7 221.2,415.3 221.7,415.2 222.2,416.8 222.7,415.8 223.2,416.8 223.7,416.0 224.2,417.1 224.7,417.2 225.2,417.0 225.7,415.3 226.2,413.4 226.7,415.6 227.2,416.9 227.7,415.8 228.2,417.2 228.7,417.1 229.2,418.2 229.7,414.6 230.2,415.6 230.7,416.1 231.2,416.4 231.7,415.7 232.2,417.1 232.7,416.5 233.2,414.0 233.7,413.4 234.2,413.0 234.7,412.5 235.2,413.5 235.7,413.9 236.2,415.3 236.7,413.6 237.2,412.2 237.7,412.0 238.2,412.8 238.7,413.2 239.2,412.5 239.7,412.3 240.2,411.3 240.7,411.5 241.2,412.3 241.7,410.2 242.2,410.4 242.7,409.7 243.2,411.0 243.7,411.4 244.2,411.6 244.7,412.3 245.2,413.2 245.7,412.7 246.2,411.0 246.7,410.2 247.2,410.6 247.7,410.8 248.2,414.2 248.7,413.2 249.2,412.1 249.7,412.0 250.2,412.0 250.7,412.6 251.2,412.9 251.7,411.7 252.2,412.1 252.7,412.2 253.2,411.8 253.7,412.4 254.2,411.9 254.7,413.2 255.2,414.9 255.7,412.7 256.2,414.4 256.7,414.0 257.2,413.8 257.7,412.7 258.2,414.1 258.7,411.2 259.2,411.3 259.7,413.4 260.2,412.6 260.7,413.1 261.2,413.7 261.7,415.0 262.2,412.9 262.7,415.6 263.2,413.9 263.7,413.8 264.2,413.4 264.7,413.5 265.2,413.5 265.7,411.9 266.2,411.6 266.7,411.9 267.2,413.7 267.7,413.7 268.2,413.1 268.7,412.5 269.2,410.3 269.7,411.0 270.2,410.2 270.7,409.9 271.2,409.3 271.7,408.9 272.2,410.1 272.7,407.9 273.2,410.1 273.7,409.2 274.2,408.1 274.7,407.1 275.2,407.9 275.7,407.0 276.2,409.0 276.7,407.9 277.2,406.6 277.7,408.5 278.2,407.7 278.7,406.7 279.2,406.4 279.7,407.0 280.2,407.3 280.7,407.4 281.2,406.7 281.7,406.9 282.2,405.9 282.7,406.9 283.2,404.8 283.7,405.8 284.2,407.4 284.7,407.3 285.2,405.7 285.7,405.1 286.2,406.3" fill="none" stroke="#ec1c24" stroke-width="1.4" stroke-linejoin="round" clip-path="url(#c)"/>
<polyline points="46.2,563.7 46.7,557.6 47.2,557.5 47.7,556.3 48.2,558.9 48.7,570.9 49.2,562.3 49.7,555.0 50.2,560.3 50.7,556.9 51.2,556.7 51.7,556.7 52.2,555.1 52.7,561.9 53.2,569.5 53.7,572.8 54.2,573.4 54.7,574.0 55.2,567.0 55.7,568.3 56.2,570.0 56.7,558.9 57.2,561.9 57.7,581.9 58.2,564.1 58.7,561.1 59.2,564.8 59.7,571.5 60.2,572.0 60.7,569.8 61.2,562.0 61.7,573.5 62.2,577.2 62.7,565.4 63.2,562.5 63.7,561.7 64.2,560.4 64.7,574.4 65.2,577.6 65.7,567.8 66.2,560.6 66.7,569.6 67.2,566.8 67.7,572.1 68.2,575.6 68.7,570.4 69.2,565.5 69.7,560.8 70.2,565.5 70.7,569.3 71.2,570.1 71.7,565.2 72.2,569.7 72.7,558.1 73.2,551.6 73.7,566.7 74.2,576.0 74.7,570.4 75.2,556.7 75.7,556.0 76.2,562.3 76.7,566.4 77.2,563.2 77.7,572.2 78.2,575.6 78.7,566.6 79.2,552.1 79.7,555.3 80.2,560.4 80.7,557.4 81.2,576.7 81.7,574.0 82.2,564.9 82.7,564.9 83.2,564.5 83.7,569.1 84.2,564.2 84.7,562.3 85.2,570.9 85.7,575.5 86.2,566.7 86.7,562.9 87.2,577.1 87.7,585.1 88.2,581.7 88.7,579.1 89.2,567.4 89.7,568.3 90.2,583.0 90.7,587.3 91.2,572.4 91.7,569.9 92.2,573.1 92.7,574.4 93.2,568.3 93.7,573.5 94.2,582.5 94.7,567.7 95.2,569.1 95.7,568.0 96.2,561.6 96.7,569.0 97.2,562.6 97.7,560.6 98.2,564.8 98.7,554.3 99.2,553.9 99.7,553.3 100.2,549.8 100.7,542.1 101.2,547.7 101.7,550.0 102.2,549.6 102.7,550.2 103.2,544.3 103.7,537.6 104.2,539.1 104.7,552.4 105.2,545.4 105.7,542.7 106.2,548.3 106.7,541.7 107.2,531.8 107.7,538.1 108.2,541.2 108.7,535.9 109.2,536.5 109.7,530.4 110.2,533.9 110.7,541.8 111.2,539.7 111.7,528.4 112.2,529.9 112.7,528.4 113.2,524.5 113.7,521.2 114.2,523.1 114.7,531.3 115.2,533.5 115.7,530.8 116.2,522.5 116.7,527.8 117.2,531.7 117.7,534.6 118.2,530.1 118.7,525.1 119.2,517.0 119.7,521.6 120.2,528.4 120.7,531.0 121.2,533.0 121.7,527.3 122.2,526.4 122.7,529.2 123.2,528.6 123.7,527.0 124.2,526.9 124.7,524.2 125.2,525.4 125.7,529.2 126.2,535.0 126.7,530.1 127.2,521.5 127.7,522.6 128.2,528.3 128.7,531.2 129.2,529.2 129.7,536.1 130.2,535.9 130.7,526.7 131.2,523.0 131.7,528.8 132.2,530.0 132.7,529.5 133.2,528.9 133.7,530.4 134.2,529.1 134.7,530.4 135.2,533.3 135.7,532.0 136.2,534.0 136.7,530.4 137.2,525.3 137.7,527.0 138.2,526.4 138.7,531.7 139.2,533.7 139.7,538.1 140.2,538.2 140.7,533.7 141.2,533.8 141.7,534.8 142.2,531.3 142.7,533.5 143.2,531.1 143.7,533.8 144.2,535.5 144.7,539.3 145.2,538.7 145.7,535.5 146.2,532.7 146.7,534.3 147.2,534.0 147.7,532.1 148.2,533.7 148.7,536.0 149.2,535.6 149.7,535.7 150.2,536.5 150.7,534.8 151.2,529.3 151.7,534.1 152.2,533.3 152.7,533.5 153.2,532.6 153.7,529.7 154.2,530.6 154.7,530.0 155.2,527.4 155.7,533.6 156.2,531.0 156.7,527.6 157.2,528.3 157.7,529.9 158.2,530.4 158.7,527.9 159.2,525.8 159.7,523.7 160.2,519.8 160.7,519.1 161.2,523.0 161.7,525.7 162.2,525.3 162.7,525.9 163.2,524.3 163.7,523.8 164.2,522.2 164.7,522.5 165.2,522.4 165.7,521.2 166.2,520.1 166.7,521.3 167.2,524.7 167.7,523.9 168.2,525.1 168.7,521.2 169.2,523.2 169.7,523.3 170.2,522.7 170.7,522.8 171.2,524.1 171.7,528.0 172.2,527.8 172.7,525.3 173.2,523.5 173.7,520.8 174.2,522.5 174.7,521.2 175.2,523.8 175.7,522.3 176.2,520.0 176.7,519.8 177.2,520.0 177.7,518.0 178.2,517.9 178.7,516.5 179.2,515.2 179.7,518.7 180.2,520.5 180.7,518.6 181.2,516.6 181.7,514.6 182.2,513.2 182.7,516.7 183.2,519.1 183.7,517.4 184.2,511.3 184.7,511.2 185.2,513.7 185.7,511.4 186.2,512.8 186.7,513.8 187.2,511.1 187.7,510.1 188.2,507.7 188.7,512.3 189.2,514.6 189.7,513.1 190.2,509.0 190.7,509.6 191.2,509.8 191.7,508.1 192.2,507.0 192.7,509.8 193.2,508.0 193.7,507.4 194.2,506.3 194.7,505.9 195.2,505.1 195.7,510.9 196.2,507.9 196.7,505.3 197.2,506.4 197.7,507.1 198.2,502.9 198.7,503.8 199.2,504.7 199.7,509.5 200.2,506.7 200.7,504.7 201.2,505.9 201.7,511.4 202.2,510.7 202.7,511.8 203.2,509.5 203.7,512.9 204.2,514.0 204.7,512.3 205.2,512.9 205.7,512.9 206.2,514.6 206.7,512.8 207.2,510.8 207.7,509.3 208.2,509.4 208.7,508.9 209.2,511.9 209.7,507.6 210.2,510.3 210.7,510.9 211.2,510.1 211.7,510.1 212.2,508.1 212.7,507.6 213.2,509.9 213.7,511.0 214.2,510.2 214.7,507.8 215.2,505.9 215.7,506.3 216.2,505.8 216.7,510.2 217.2,510.1 217.7,508.5 218.2,510.8 218.7,511.4 219.2,505.4 219.7,504.7 220.2,502.8 220.7,502.0 221.2,502.2 221.7,497.5 222.2,500.3 222.7,501.0 223.2,504.2 223.7,504.9 224.2,501.0 224.7,499.4 225.2,496.7 225.7,498.3 226.2,498.0 226.7,500.0 227.2,502.1 227.7,495.9 228.2,496.8 228.7,496.8 229.2,498.9 229.7,496.7 230.2,500.9 230.7,498.1 231.2,495.0 231.7,498.5 232.2,503.3 232.7,502.7 233.2,497.7 233.7,499.8 234.2,500.7 234.7,500.1 235.2,496.2 235.7,496.2 236.2,495.4 236.7,496.5 237.2,498.6 237.7,501.3 238.2,498.4 238.7,496.7 239.2,495.1 239.7,495.5 240.2,500.5 240.7,502.4 241.2,503.8 241.7,496.4 242.2,495.0 242.7,496.3 243.2,496.0 243.7,495.4 244.2,496.8 244.7,498.9 245.2,497.1 245.7,494.6 246.2,497.0 246.7,497.8 247.2,500.3 247.7,493.9 248.2,492.7 248.7,494.3 249.2,496.6 249.7,495.5 250.2,498.7 250.7,500.2 251.2,497.1 251.7,494.9 252.2,494.3 252.7,492.8 253.2,493.9 253.7,491.4 254.2,495.7 254.7,494.9 255.2,497.9 255.7,500.4 256.2,494.8 256.7,490.4 257.2,492.4 257.7,493.9 258.2,497.5 258.7,497.4 259.2,497.2 259.7,495.5 260.2,493.3 260.7,488.8 261.2,489.2 261.7,489.9 262.2,486.9 262.7,489.7 263.2,494.3 263.7,494.5 264.2,491.0 264.7,490.6 265.2,491.4 265.7,489.8 266.2,490.5 266.7,487.4 267.2,487.4 267.7,486.5 268.2,490.5 268.7,489.1 269.2,485.9 269.7,489.9 270.2,487.0 270.7,485.3 271.2,482.9 271.7,483.0 272.2,484.9 272.7,485.9 273.2,485.4 273.7,484.5 274.2,483.6 274.7,483.9 275.2,484.0 275.7,485.5 276.2,486.0 276.7,485.1 277.2,483.4 277.7,487.0 278.2,487.4 278.7,486.1 279.2,483.9 279.7,485.6 280.2,485.8 280.7,487.7 281.2,486.1 281.7,487.4 282.2,492.3 282.7,489.0 283.2,490.1 283.7,493.1 284.2,491.6 284.7,494.8 285.2,494.3 285.7,492.2 286.2,495.2" fill="none" stroke="#3f6fb5" stroke-width="1.5" stroke-linejoin="round" clip-path="url(#c)"/>
<polyline points="123.7,599.0 124.2,589.3 124.7,584.4 125.2,581.9 125.7,578.0 126.2,574.4 126.7,573.1 127.2,571.0 127.7,567.5 128.2,567.0 128.7,565.6 129.2,568.0 129.7,567.0 130.2,565.3 130.7,565.1 131.2,569.2 131.7,569.4 132.2,572.0 132.7,570.9 133.2,574.5 133.7,577.2 134.2,581.0 134.7,581.4 135.2,583.0 135.7,583.7 136.2,585.2 136.7,585.9 137.2,588.6 137.7,587.7 138.2,587.6 138.7,586.4 139.2,588.3 139.7,589.8 140.2,590.0 140.7,588.7 141.2,588.3 141.7,587.3 142.2,588.0 142.7,587.8 143.2,588.9 143.7,589.1 144.2,586.1 144.7,589.2 145.2,588.8 145.7,587.5 146.2,587.2 146.7,589.3 147.2,585.9 147.7,587.9 148.2,588.6 148.7,589.2 149.2,590.0 149.7,591.1 150.2,588.0 150.7,588.8 151.2,588.8 151.7,589.1 152.2,590.2 152.7,587.8 153.2,587.9 153.7,588.8 154.2,588.3 154.7,588.8 155.2,588.1 155.7,587.8 156.2,588.2 156.7,588.4 157.2,585.3 157.7,587.2 158.2,587.9 158.7,588.0 159.2,586.6 159.7,589.4 160.2,591.4 160.7,589.6 161.2,587.7 161.7,588.6 162.2,587.7 162.7,590.4 163.2,589.1 163.7,589.5 164.2,587.7 164.7,588.3 165.2,587.0 165.7,587.4 166.2,587.7 166.7,589.9 167.2,590.8 167.7,588.8 168.2,587.0 168.7,589.3 169.2,590.4 169.7,589.1 170.2,588.4 170.7,587.8 171.2,588.1 171.7,586.1 172.2,585.3 172.7,584.4 173.2,580.6 173.7,575.2 174.2,571.1 174.7,566.1 175.2,562.1 175.7,559.5 176.2,553.6 176.7,552.9 177.2,549.5 177.7,547.8 178.2,544.3 178.7,543.3 179.2,537.7 179.7,534.4 180.2,534.5 180.7,533.2 181.2,529.9 181.7,530.2 182.2,530.1 182.7,526.9 183.2,521.2 183.7,520.7 184.2,519.4 184.7,519.4 185.2,518.0 185.7,516.0 186.2,518.4 186.7,520.4 187.2,519.6 187.7,515.8 188.2,517.8 188.7,519.7 189.2,517.9 189.7,516.9 190.2,515.9 190.7,518.9 191.2,519.8 191.7,519.6 192.2,521.2 192.7,524.0 193.2,524.6 193.7,524.5 194.2,527.1 194.7,528.9 195.2,528.3 195.7,531.3 196.2,533.6 196.7,536.0 197.2,535.9 197.7,536.0 198.2,539.1 198.7,539.8 199.2,538.3 199.7,539.9 200.2,540.2 200.7,538.5 201.2,542.0 201.7,546.4 202.2,549.9 202.7,554.7 203.2,561.7 203.7,567.6 204.2,570.9 204.7,574.0 205.2,575.1 205.7,574.8 206.2,574.5 206.7,574.7 207.2,576.1 207.7,575.9 208.2,576.1 208.7,575.2 209.2,570.6 209.7,571.0 210.2,564.2 210.7,556.6 211.2,546.5 211.7,539.2 212.2,532.6 212.7,527.1 213.2,524.0 213.7,522.2 214.2,521.3 214.7,520.3 215.2,521.0 215.7,518.4 216.2,517.3 216.7,518.5 217.2,520.5 217.7,515.2 218.2,510.8 218.7,513.1 219.2,512.7 219.7,512.6 220.2,509.7 220.7,506.0 221.2,508.1 221.7,507.7 222.2,509.5 222.7,506.9 223.2,506.9 223.7,506.4 224.2,511.6 224.7,511.8 225.2,509.5 225.7,508.4 226.2,511.1 226.7,514.1 227.2,511.6 227.7,511.2 228.2,512.5 228.7,512.4 229.2,514.8 229.7,511.7 230.2,514.4 230.7,515.8 231.2,514.8 231.7,515.2 232.2,517.2 232.7,518.2 233.2,519.4 233.7,519.3 234.2,516.3 234.7,518.7 235.2,519.4 235.7,516.3 236.2,516.7 236.7,519.6 237.2,516.2 237.7,518.0 238.2,516.7 238.7,517.0 239.2,515.4 239.7,514.8 240.2,512.4 240.7,513.6 241.2,515.3 241.7,513.1 242.2,510.7 242.7,510.8 243.2,511.8 243.7,509.4 244.2,509.8 244.7,509.8 245.2,509.5 245.7,507.6 246.2,508.9 246.7,505.6 247.2,504.3 247.7,504.1 248.2,503.3 248.7,502.4 249.2,502.3 249.7,501.2 250.2,503.8 250.7,500.9 251.2,500.4 251.7,500.6 252.2,502.3 252.7,502.8 253.2,501.2 253.7,500.6 254.2,504.1 254.7,502.7 255.2,499.6 255.7,498.1 256.2,501.0 256.7,504.4 257.2,501.9 257.7,502.3 258.2,505.4 258.7,503.9 259.2,504.0 259.7,503.3 260.2,503.2 260.7,504.0 261.2,503.3 261.7,505.4 262.2,505.0 262.7,508.4 263.2,508.7 263.7,509.6 264.2,506.7 264.7,509.3 265.2,511.1 265.7,511.9 266.2,509.9 266.7,510.6 267.2,513.5 267.7,510.9 268.2,514.0 268.7,513.5 269.2,517.2 269.7,516.8 270.2,512.7 270.7,515.9 271.2,515.6 271.7,518.0 272.2,516.0 272.7,516.0 273.2,515.1 273.7,516.6 274.2,517.0 274.7,517.0 275.2,516.0 275.7,516.4 276.2,518.1 276.7,516.2 277.2,514.1 277.7,512.0 278.2,510.5 278.7,510.4 279.2,510.5 279.7,508.3 280.2,504.0 280.7,503.9 281.2,505.9 281.7,502.9 282.2,500.5 282.7,501.6 283.2,499.2 283.7,500.6 284.2,500.1 284.7,501.5 285.2,498.1 285.7,496.4 286.2,497.2" fill="none" stroke="#f7c12f" stroke-width="1.6" stroke-linejoin="round" clip-path="url(#c)"/>
<polyline points="193.0,584.0 193.5,579.6 194.0,590.2 194.5,591.8 195.0,580.5 195.5,579.9 196.0,582.6 196.5,574.8 197.0,575.8 197.5,578.7 198.0,572.6 198.5,581.4 199.0,581.9 199.5,577.3 200.0,573.0 200.5,566.7 201.0,555.8 201.5,555.2 202.0,561.5 202.5,573.2 203.0,578.1 203.5,556.7 204.0,546.4 204.5,554.7 205.0,560.2 205.5,560.1 206.0,566.4 206.5,567.5 207.0,555.4 207.5,553.3 208.0,551.6 208.5,552.5 209.0,560.9 209.5,554.6 210.0,553.0 210.5,555.2 211.0,558.8 211.5,570.3 212.0,560.7 212.5,556.2 213.0,563.1 213.5,564.9 214.0,560.1 214.5,566.8 215.0,564.8 215.5,570.9 216.0,566.6 216.5,556.7 217.0,565.1 217.5,560.0 218.0,551.4 218.5,560.0 219.0,561.6 219.5,550.7 220.0,542.5 220.5,558.6 221.0,556.7 221.5,550.5 222.0,559.7 222.5,570.6 223.0,548.5 223.5,541.1 224.0,540.5 224.5,539.5 225.0,531.7 225.5,534.0 226.0,535.1 226.5,531.6 227.0,533.9 227.5,536.0 228.0,539.1 228.5,539.3 229.0,531.8 229.5,534.7 230.0,544.9 230.5,537.9 231.0,531.7 231.5,545.5 232.0,547.3 232.5,535.7 233.0,541.7 233.5,543.2 234.0,540.2 234.5,536.2 235.0,541.9 235.5,557.8 236.0,563.6 236.5,557.2 237.0,545.4 237.5,540.9 238.0,535.9 238.5,546.8 239.0,553.6 239.5,552.5 240.0,551.3 240.5,542.1 241.0,547.5 241.5,545.2 242.0,543.7 242.5,548.5 243.0,552.3 243.5,537.1 244.0,540.3 244.5,546.6 245.0,541.2 245.5,541.9 246.0,542.5 246.5,542.4 247.0,537.6 247.5,538.9 248.0,534.6 248.5,535.7 249.0,549.5 249.5,545.8 250.0,539.9 250.5,535.1 251.0,533.3 251.5,536.5 252.0,537.3 252.5,541.3 253.0,546.2 253.5,543.0 254.0,533.8 254.5,534.9 255.0,531.8 255.5,538.0 256.0,545.0 256.5,542.9 257.0,539.7 257.5,536.5 258.0,527.4 258.5,534.8 259.0,547.3 259.5,550.3 260.0,546.8 260.5,535.2 261.0,524.7 261.5,533.6 262.0,541.6 262.5,538.2 263.0,536.2 263.5,538.3 264.0,536.1 264.5,543.9 265.0,542.7 265.5,542.4 266.0,537.9 266.5,533.9 267.0,536.8 267.5,531.2 268.0,537.6 268.5,547.2 269.0,541.5 269.5,529.3 270.0,538.1 270.5,540.0 271.0,536.0 271.5,531.9 272.0,529.2 272.5,533.7 273.0,529.3 273.5,526.2 274.0,533.3 274.5,542.4 275.0,538.6 275.5,534.9 276.0,530.4 276.5,523.7 277.0,518.2 277.5,525.9 278.0,534.5 278.5,530.3 279.0,533.6 279.5,530.0 280.0,528.1 280.5,525.6 281.0,522.0 281.5,531.8 282.0,530.2 282.5,524.4 283.0,519.0 283.5,520.2 284.0,533.3 284.5,538.2 285.0,529.7 285.5,527.0 286.0,523.8" fill="none" stroke="#3dbf73" stroke-width="1.5" stroke-linejoin="round" clip-path="url(#c)"/>
<polyline points="46.2,421.9 46.7,422.3 47.2,419.1 47.7,419.0 48.2,416.0 48.7,415.5 49.2,418.6 49.7,415.1 50.2,410.7 50.7,416.5 51.2,421.4 51.7,420.9 52.2,420.5 52.7,419.8 53.2,421.4 53.7,420.6 54.2,415.5 54.7,411.8 55.2,414.3 55.7,418.3 56.2,419.1 56.7,417.0 57.2,419.4 57.7,417.5 58.2,416.4 58.7,415.6 59.2,417.4 59.7,419.5 60.2,420.7 60.7,414.4 61.2,413.0 61.7,416.3 62.2,421.2 62.7,423.8 63.2,418.8 63.7,414.3 64.2,415.6 64.7,417.0 65.2,416.5 65.7,417.1 66.2,415.9 66.7,412.2 67.2,414.1 67.7,415.8 68.2,415.1 68.7,419.9 69.2,422.4 69.7,420.7 70.2,419.0 70.7,416.0 71.2,415.7 71.7,414.6 72.2,414.6 72.7,414.6 73.2,419.0 73.7,419.6 74.2,416.7 74.7,414.7 75.2,415.2 75.7,414.0 76.2,415.7 76.7,415.7 77.2,413.8 77.7,411.2 78.2,414.8 78.7,422.9 79.2,421.8 79.7,417.6 80.2,417.8 80.7,416.4 81.2,412.8 81.7,414.2 82.2,415.8 82.7,420.3 83.2,417.1 83.7,412.2 84.2,414.5 84.7,416.6 85.2,417.4 85.7,417.6 86.2,416.5 86.7,417.0 87.2,414.0 87.7,409.6 88.2,409.6 88.7,417.8 89.2,419.0 89.7,416.0 90.2,414.8 90.7,417.3 91.2,418.1 91.7,417.8 92.2,416.6 92.7,409.4 93.2,411.4 93.7,416.0 94.2,414.2 94.7,415.2 95.2,417.7 95.7,416.4 96.2,413.8 96.7,417.4 97.2,418.8 97.7,418.7 98.2,415.4 98.7,413.0 99.2,413.5 99.7,416.2 100.2,413.9 100.7,416.6 101.2,418.4 101.7,416.3 102.2,412.2 102.7,408.3 103.2,412.4 103.7,416.4 104.2,416.8 104.7,414.8 105.2,417.4 105.7,419.4 106.2,419.6 106.7,418.8 107.2,417.0 107.7,413.9 108.2,415.2 108.7,410.8 109.2,412.0 109.7,416.4 110.2,417.7 110.7,416.2 111.2,415.3 111.7,415.3 112.2,416.4 112.7,417.8 113.2,416.2 113.7,416.1 114.2,413.7 114.7,413.6 115.2,415.6 115.7,415.9 116.2,416.7 116.7,413.8 117.2,416.3 117.7,416.2 118.2,415.9 118.7,414.6 119.2,412.5 119.7,415.7 120.2,418.5 120.7,416.8 121.2,415.8 121.7,414.1 122.2,413.8 122.7,416.5 123.2,418.4 123.7,415.1 124.2,415.5 124.7,415.0 125.2,413.9 125.7,415.8 126.2,416.8 126.7,419.0 127.2,417.3 127.7,417.9 128.2,415.8 128.7,412.9 129.2,412.7 129.7,416.9 130.2,418.5 130.7,420.5 131.2,417.8 131.7,414.8 132.2,415.0 132.7,415.7 133.2,414.0 133.7,414.3 134.2,417.9 134.7,417.7 135.2,416.5 135.7,414.2 136.2,414.9 136.7,419.1 137.2,419.7 137.7,420.5 138.2,419.7 138.7,417.0 139.2,414.2 139.7,416.0 140.2,416.6 140.7,417.5 141.2,419.2 141.7,421.3 142.2,418.6 142.7,417.3 143.2,417.4 143.7,419.4 144.2,420.2 144.7,420.4 145.2,417.1 145.7,417.0 146.2,418.0 146.7,418.6 147.2,418.2 147.7,419.5 148.2,420.4 148.7,419.5 149.2,417.8 149.7,417.8 150.2,419.4 150.7,418.7 151.2,418.5 151.7,420.8 152.2,421.5 152.7,420.6 153.2,419.0 153.7,417.9 154.2,419.0 154.7,417.4 155.2,417.9 155.7,420.7 156.2,421.8 156.7,420.8 157.2,420.4 157.7,420.0 158.2,419.2 158.7,418.6 159.2,416.7 159.7,417.3 160.2,418.1 160.7,419.2 161.2,418.6 161.7,419.2 162.2,419.8 162.7,419.2 163.2,417.5 163.7,418.2 164.2,418.6 164.7,416.9 165.2,418.2 165.7,418.6 166.2,417.6 166.7,417.7 167.2,417.7 167.7,418.5 168.2,419.4 168.7,420.2 169.2,419.0 169.7,418.0 170.2,418.1 170.7,419.8 171.2,417.6 171.7,417.6 172.2,419.3 172.7,419.3 173.2,418.6 173.7,419.1 174.2,418.1 174.7,417.8 175.2,419.0 175.7,419.2 176.2,418.8 176.7,418.4 177.2,419.1 177.7,418.7 178.2,418.9 178.7,417.8 179.2,419.1 179.7,419.9 180.2,419.1 180.7,419.5 181.2,418.3 181.7,417.7 182.2,417.4 182.7,419.3 183.2,418.6 183.7,417.5 184.2,419.7 184.7,422.0 185.2,422.5 185.7,418.7 186.2,417.1 186.7,417.1 187.2,417.0 187.7,418.6 188.2,418.7 188.7,419.8 189.2,420.6 189.7,419.9 190.2,417.4 190.7,416.5 191.2,417.9 191.7,419.2 192.2,419.8 192.7,419.1 193.2,418.6 193.7,418.0 194.2,418.1 194.7,418.7 195.2,418.6 195.7,418.4 196.2,417.9 196.7,421.4 197.2,420.6 197.7,418.4 198.2,419.8 198.7,420.2 199.2,419.4 199.7,418.6 200.2,419.8 200.7,418.6 201.2,418.0 201.7,418.4 202.2,419.2 202.7,418.6 203.2,419.4 203.7,418.7 204.2,420.6 204.7,420.8 205.2,419.6 205.7,419.5 206.2,420.3 206.7,420.4 207.2,420.0 207.7,418.6 208.2,416.6 208.7,419.2 209.2,420.4 209.7,419.5 210.2,419.1 210.7,419.5 211.2,418.7 211.7,418.6 212.2,417.9 212.7,419.1 213.2,419.1 213.7,419.0 214.2,418.3 214.7,419.4 215.2,419.7 215.7,419.2 216.2,419.0 216.7,418.4 217.2,419.3 217.7,417.5 218.2,419.9 218.7,420.5 219.2,420.2 219.7,418.9 220.2,419.5 220.7,419.5 221.2,418.9 221.7,419.5 222.2,418.6 222.7,418.1 223.2,418.4 223.7,419.8 224.2,420.4 224.7,417.9 225.2,417.1 225.7,419.3 226.2,421.6 226.7,421.0 227.2,420.0 227.7,418.5 228.2,418.0 228.7,418.8 229.2,419.3 229.7,419.6 230.2,418.4 230.7,420.7 231.2,420.2 231.7,418.5 232.2,416.8 232.7,418.8 233.2,419.9 233.7,419.7 234.2,417.6 234.7,418.7 235.2,418.6 235.7,419.4 236.2,419.3 236.7,419.4 237.2,419.2 237.7,419.3 238.2,420.4 238.7,418.1 239.2,417.4 239.7,417.1 240.2,416.5 240.7,417.4 241.2,419.2 241.7,419.2 242.2,420.3 242.7,418.9 243.2,419.0 243.7,418.0 244.2,418.5 244.7,419.8 245.2,420.4 245.7,420.0 246.2,418.1 246.7,415.9 247.2,417.4 247.7,417.1 248.2,417.6 248.7,417.4 249.2,419.2 249.7,418.7 250.2,417.6 250.7,418.4 251.2,416.6 251.7,417.0 252.2,417.1 252.7,418.3 253.2,419.7 253.7,418.4 254.2,417.4 254.7,416.9 255.2,417.5 255.7,417.4 256.2,417.4 256.7,416.9 257.2,417.3 257.7,416.6 258.2,417.7 258.7,417.8 259.2,415.7 259.7,416.2 260.2,417.4 260.7,418.7 261.2,417.4 261.7,415.7 262.2,416.5 262.7,417.6 263.2,416.5 263.7,417.4 264.2,416.0 264.7,415.5 265.2,416.6 265.7,416.2 266.2,417.4 266.7,417.8 267.2,415.2 267.7,414.7 268.2,414.6 268.7,416.1 269.2,415.1 269.7,416.5 270.2,417.1 270.7,415.4 271.2,414.9 271.7,416.0 272.2,415.7 272.7,416.1 273.2,416.5 273.7,415.2 274.2,414.2 274.7,414.5 275.2,414.2 275.7,413.0 276.2,413.9 276.7,414.6 277.2,414.9 277.7,413.5 278.2,414.2 278.7,415.1 279.2,415.1 279.7,413.8 280.2,412.2 280.7,412.2 281.2,413.2 281.7,414.8 282.2,413.1 282.7,413.0 283.2,412.6 283.7,413.1 284.2,411.8 284.7,412.8 285.2,412.2 285.7,410.7 286.2,412.0" fill="none" stroke="#7272c2" stroke-width="1.4" stroke-linejoin="round" clip-path="url(#c)"/>
<polyline points="46.2,425.1 46.7,423.4 47.2,421.1 47.7,421.2 48.2,421.9 48.7,423.4 49.2,423.0 49.7,422.5 50.2,422.7 50.7,421.7 51.2,421.5 51.7,421.9 52.2,420.1 52.7,421.9 53.2,423.4 53.7,421.6 54.2,420.7 54.7,421.8 55.2,423.2 55.7,421.3 56.2,420.3 56.7,420.8 57.2,420.6 57.7,420.2 58.2,421.6 58.7,419.9 59.2,419.2 59.7,419.6 60.2,421.6 60.7,422.1 61.2,422.2 61.7,420.1 62.2,419.4 62.7,420.2 63.2,419.2 63.7,418.9 64.2,419.1 64.7,420.5 65.2,421.0 65.7,420.8 66.2,419.4 66.7,417.8 67.2,418.8 67.7,418.3 68.2,418.8 68.7,420.5 69.2,420.4 69.7,421.2 70.2,419.5 70.7,418.7 71.2,418.3 71.7,418.3 72.2,420.6 72.7,419.6 73.2,417.8 73.7,420.2 74.2,418.4 74.7,416.6 75.2,417.8 75.7,422.0 76.2,420.6 76.7,418.1 77.2,418.2 77.7,419.3 78.2,418.7 78.7,417.5 79.2,416.7 79.7,418.8 80.2,419.1 80.7,420.2 81.2,421.0 81.7,419.5 82.2,418.1 82.7,416.2 83.2,416.0 83.7,418.6 84.2,418.7 84.7,418.2 85.2,418.2 85.7,419.5 86.2,420.1 86.7,418.3 87.2,418.9 87.7,418.3 88.2,418.0 88.7,418.6 89.2,417.7 89.7,418.5 90.2,417.4 90.7,416.7 91.2,417.3 91.7,418.9 92.2,419.4 92.7,419.3 93.2,420.4 93.7,418.7 94.2,416.3 94.7,419.0 95.2,419.6 95.7,416.9 96.2,415.8 96.7,419.0 97.2,419.0 97.7,417.9 98.2,417.0 98.7,418.9 99.2,419.1 99.7,419.1 100.2,418.2 100.7,418.0 101.2,417.2 101.7,418.4 102.2,419.2 102.7,418.4 103.2,419.4 103.7,417.5 104.2,417.3 104.7,418.3 105.2,418.4 105.7,418.6 106.2,418.4 106.7,418.4 107.2,417.7 107.7,418.3 108.2,418.5 108.7,418.5 109.2,417.1 109.7,417.1 110.2,417.9 110.7,419.0 111.2,420.2 111.7,419.3 112.2,417.4 112.7,417.7 113.2,417.5 113.7,417.3 114.2,419.1 114.7,419.4 115.2,418.2 115.7,416.9 116.2,418.1 116.7,418.4 117.2,419.5 117.7,418.6 118.2,418.5 118.7,417.6 119.2,417.1 119.7,417.1 120.2,418.1 120.7,419.0 121.2,419.1 121.7,418.0 122.2,418.1 122.7,418.6 123.2,418.6 123.7,419.1 124.2,420.5 124.7,419.6 125.2,417.5 125.7,417.4 126.2,418.0 126.7,416.9 127.2,417.9 127.7,418.5 128.2,417.7 128.7,418.0 129.2,417.7 129.7,420.4 130.2,419.0 130.7,417.6 131.2,417.2 131.7,418.4 132.2,418.8 132.7,419.9 133.2,418.8 133.7,417.5 134.2,419.0 134.7,419.1 135.2,419.5 135.7,419.1 136.2,419.6 136.7,418.7 137.2,419.0 137.7,419.8 138.2,419.0 138.7,418.8 139.2,419.1 139.7,419.0 140.2,419.5 140.7,419.4 141.2,419.7 141.7,418.3 142.2,419.9 142.7,420.8 143.2,420.0 143.7,419.8 144.2,418.6 144.7,419.3 145.2,419.3 145.7,419.3 146.2,420.4 146.7,420.2 147.2,420.0 147.7,420.5 148.2,421.0 148.7,419.0 149.2,418.4 149.7,419.7 150.2,419.2 150.7,419.2 151.2,418.8 151.7,420.8 152.2,421.3 152.7,421.9 153.2,420.3 153.7,418.3 154.2,419.7 154.7,418.4 155.2,417.8 155.7,419.5 156.2,419.9 156.7,419.8 157.2,420.2 157.7,419.5 158.2,419.3 158.7,418.4 159.2,417.9 159.7,419.6 160.2,421.3 160.7,420.4 161.2,418.9 161.7,418.7 162.2,418.2 162.7,417.1 163.2,418.9 163.7,419.6 164.2,419.9 164.7,419.3 165.2,420.2 165.7,421.3 166.2,420.1 166.7,420.2 167.2,418.4 167.7,417.6 168.2,418.5 168.7,418.6 169.2,419.5 169.7,419.1 170.2,419.4 170.7,419.8 171.2,418.0 171.7,416.2 172.2,418.8 172.7,420.0 173.2,419.8 173.7,419.8 174.2,418.1 174.7,418.4 175.2,418.8 175.7,418.3 176.2,419.6 176.7,419.7 177.2,419.2 177.7,419.4 178.2,418.8 178.7,418.8 179.2,419.2 179.7,418.7 180.2,419.3 180.7,418.2 181.2,417.4 181.7,418.8 182.2,419.2 182.7,419.5 183.2,418.7 183.7,419.5 184.2,419.3 184.7,418.7 185.2,419.3 185.7,418.4 186.2,418.2 186.7,418.0 187.2,418.1 187.7,418.2 188.2,418.6 188.7,419.4 189.2,417.5 189.7,416.9 190.2,418.5 190.7,418.2 191.2,419.2 191.7,417.1 192.2,417.5 192.7,417.3 193.2,418.6 193.7,419.3 194.2,418.2 194.7,418.9 195.2,418.8 195.7,417.7 196.2,417.4 196.7,416.4 197.2,417.1 197.7,418.2 198.2,417.7 198.7,418.4 199.2,417.2 199.7,416.0 200.2,417.1 200.7,417.3 201.2,417.8 201.7,419.4 202.2,418.9 202.7,417.1 203.2,417.0 203.7,416.8 204.2,418.3 204.7,417.5 205.2,417.8 205.7,418.7 206.2,416.9 206.7,416.4 207.2,417.3 207.7,417.4 208.2,416.3 208.7,416.3 209.2,417.2 209.7,418.5 210.2,419.2 210.7,416.9 211.2,415.4 211.7,417.5 212.2,417.3 212.7,416.7 213.2,416.9 213.7,417.7 214.2,417.1 214.7,416.8 215.2,416.9 215.7,416.6 216.2,416.5 216.7,416.6 217.2,415.0 217.7,416.0 218.2,416.1 218.7,417.3 219.2,417.2 219.7,415.8 220.2,417.0 220.7,417.6 221.2,416.6 221.7,415.7 222.2,415.2 222.7,417.8 223.2,416.6 223.7,416.6 224.2,415.9 224.7,414.2 225.2,415.0 225.7,414.8 226.2,415.0 226.7,416.1 227.2,417.2 227.7,415.7 228.2,414.3 228.7,414.6 229.2,416.0 229.7,415.6 230.2,415.3 230.7,416.3 231.2,414.5 231.7,416.1 232.2,415.5 232.7,415.9 233.2,415.3 233.7,415.1 234.2,416.0 234.7,415.5 235.2,413.1 235.7,414.2 236.2,414.2 236.7,414.8 237.2,415.7 237.7,415.4 238.2,415.8 238.7,415.2 239.2,415.1 239.7,414.8 240.2,415.6 240.7,414.4 241.2,414.4 241.7,414.9 242.2,416.5 242.7,416.1 243.2,415.8 243.7,414.3 244.2,414.3 244.7,415.5 245.2,414.6 245.7,414.5 246.2,412.6 246.7,414.8 247.2,415.3 247.7,414.4 248.2,414.6 248.7,414.9 249.2,413.8 249.7,412.9 250.2,413.3 250.7,414.2 251.2,414.9 251.7,416.3 252.2,413.9 252.7,414.9 253.2,413.6 253.7,414.0 254.2,413.9 254.7,413.4 255.2,414.5 255.7,415.2 256.2,414.8 256.7,414.1 257.2,413.7 257.7,413.2 258.2,413.0 258.7,414.0 259.2,415.2 259.7,415.6 260.2,412.9 260.7,412.4 261.2,413.3 261.7,413.7 262.2,412.7 262.7,413.2 263.2,413.0 263.7,412.5 264.2,411.7 264.7,412.3 265.2,413.7 265.7,414.9 266.2,413.2 266.7,413.0 267.2,414.9 267.7,413.2 268.2,412.2 268.7,411.9 269.2,412.9 269.7,412.2 270.2,412.3 270.7,413.5 271.2,413.2 271.7,412.3 272.2,413.1 272.7,412.2 273.2,410.4 273.7,411.2 274.2,410.6 274.7,413.0 275.2,413.6 275.7,411.4 276.2,411.1 276.7,412.4 277.2,412.0 277.7,412.7 278.2,410.7 278.7,410.9 279.2,412.1 279.7,411.9 280.2,411.0 280.7,411.3 281.2,412.3 281.7,412.4 282.2,412.6 282.7,409.6 283.2,410.2 283.7,411.1 284.2,410.6 284.7,411.8 285.2,410.1 285.7,409.7 286.2,410.6" fill="none" stroke="#a5a5a5" stroke-width="1.3" stroke-linejoin="round" clip-path="url(#c)"/>
<polyline points="46.2,525.8 46.7,527.4 47.2,526.0 47.7,527.3 48.2,529.0 48.7,527.9 49.2,529.8 49.7,531.1 50.2,531.5 50.7,533.6 51.2,533.2 51.7,533.0 52.2,534.3 52.7,533.9 53.2,533.6 53.7,535.9 54.2,539.8 54.7,540.0 55.2,540.1 55.7,543.9 56.2,545.6 56.7,547.7 57.2,545.0 57.7,543.7 58.2,545.6 58.7,547.3 59.2,546.6 59.7,548.0 60.2,546.7 60.7,544.7 61.2,543.0 61.7,542.0 62.2,544.9 62.7,543.2 63.2,541.6 63.7,540.6 64.2,538.1 64.7,536.4 65.2,538.5 65.7,533.0 66.2,535.0 66.7,534.8 67.2,535.7 67.7,529.9 68.2,529.2 68.7,530.5 69.2,526.8 69.7,526.1 70.2,525.4 70.7,528.5 71.2,527.5 71.7,525.3 72.2,527.6 72.7,529.1 73.2,527.2 73.7,528.0 74.2,530.4 74.7,527.4 75.2,527.7 75.7,533.1 76.2,529.6 76.7,532.7 77.2,531.4 77.7,529.1 78.2,531.4 78.7,534.9 79.2,535.4 79.7,534.6 80.2,537.4 80.7,537.0 81.2,535.3 81.7,539.1 82.2,535.0 82.7,530.1 83.2,531.3 83.7,535.4 84.2,535.3 84.7,538.2 85.2,538.2 85.7,540.5 86.2,535.0 86.7,534.7 87.2,541.2 87.7,540.1 88.2,540.9 88.7,543.0 89.2,540.4 89.7,536.6 90.2,535.0 90.7,540.3 91.2,541.5 91.7,540.8 92.2,543.5 92.7,541.3 93.2,539.4 93.7,543.0 94.2,540.9 94.7,539.4 95.2,539.7 95.7,542.9 96.2,545.5 96.7,544.6 97.2,544.3 97.7,542.0 98.2,541.3 98.7,542.6 99.2,543.9 99.7,545.3 100.2,545.5 100.7,545.9 101.2,544.2 101.7,545.8 102.2,541.2 102.7,540.9 103.2,544.2 103.7,545.9 104.2,543.2 104.7,549.3 105.2,546.5 105.7,546.2 106.2,544.7 106.7,544.9 107.2,544.4 107.7,542.3 108.2,545.9 108.7,547.2 109.2,544.8 109.7,547.0 110.2,548.0 110.7,547.8 111.2,546.9 111.7,549.2 112.2,546.0 112.7,547.9 113.2,549.8 113.7,545.6 114.2,546.2 114.7,547.3 115.2,548.6 115.7,547.7 116.2,546.3 116.7,552.8 117.2,554.7 117.7,548.6 118.2,551.6 118.7,552.9 119.2,552.5 119.7,548.7 120.2,552.3 120.7,551.2 121.2,555.6 121.7,555.4 122.2,553.2 122.7,554.5 123.2,554.4 123.7,551.5 124.2,553.0 124.7,550.8 125.2,554.9 125.7,554.9 126.2,559.2 126.7,555.4 127.2,553.5 127.7,554.1 128.2,551.5 128.7,552.6 129.2,551.2 129.7,551.6 130.2,549.3 130.7,546.6 131.2,548.4 131.7,547.8 132.2,549.6 132.7,551.2 133.2,549.4 133.7,546.5 134.2,546.2 134.7,552.4 135.2,554.3 135.7,547.7 136.2,548.3 136.7,550.6 137.2,552.4 137.7,555.3 138.2,552.7 138.7,552.3 139.2,551.0 139.7,550.4 140.2,557.2 140.7,562.5 141.2,564.3 141.7,561.1 142.2,564.8 142.7,564.3 143.2,565.4 143.7,570.1 144.2,569.6 144.7,572.6 145.2,571.0 145.7,568.0 146.2,572.4 146.7,571.6 147.2,574.0 147.7,576.5 148.2,574.6 148.7,570.9 149.2,573.9 149.7,575.2 150.2,574.5 150.7,571.2 151.2,568.8 151.7,563.4 152.2,563.0 152.7,566.4 153.2,571.0 153.7,563.7 154.2,559.6 154.7,556.5 155.2,553.4 155.7,551.8 156.2,553.6 156.7,553.8 157.2,550.1 157.7,542.9 158.2,540.0 158.7,545.7 159.2,542.6 159.7,547.8 160.2,550.1 160.7,547.4 161.2,543.5 161.7,547.4 162.2,550.8 162.7,557.9 163.2,556.5 163.7,558.0 164.2,558.8 164.7,559.6 165.2,564.1 165.7,571.6 166.2,575.9 166.7,575.6 167.2,573.7 167.7,574.1 168.2,583.7 168.7,588.7 169.2,585.1 169.7,584.5 170.2,584.9 170.7,585.0 171.2,587.2 171.7,589.1 172.2,586.8 172.7,588.0 173.2,583.7 173.7,586.9 174.2,591.5 174.7,593.4 175.2,593.4 175.7,591.8 176.2,593.5 176.7,595.4 177.2,590.1 177.7,586.8 178.2,592.0 178.7,594.9 179.2,594.1 179.7,594.2 180.2,597.4 180.7,595.6 181.2,598.1 181.7,594.8 182.2,593.9 182.7,596.4 183.2,595.0 183.7,594.2 184.2,596.6 184.7,602.6 185.2,603.7 185.7,597.4 186.2,593.3 186.7,591.4 187.2,602.3 187.7,603.4 188.2,595.6 188.7,593.5 189.2,596.2 189.7,602.4 190.2,601.7 190.7,599.7 191.2,601.1 191.7,599.3 192.2,601.6 192.7,602.2 193.2,599.5 193.7,600.7 194.2,602.9 194.7,607.3 195.2,606.4 195.7,603.1 196.2,602.2 196.7,599.4 197.2,599.3 197.7,605.5 198.2,602.1 198.7,603.1 199.2,602.2 199.7,603.2 200.2,607.6 200.7,610.5 201.2,603.5 201.7,596.5 202.2,597.9 202.7,600.2 203.2,606.4 203.7,613.2 204.2,607.6 204.7,603.7 205.2,604.6 205.7,600.6 206.2,608.1 206.7,605.1 207.2,611.6 207.7,606.9 208.2,612.5 208.7,603.8 209.2,598.6 209.7,601.7 210.2,605.9 210.7,608.6 211.2,607.2 211.7,605.1 212.2,604.6 212.7,604.7 213.2,601.4 213.7,598.1 214.2,610.4 214.7,619.3 215.2,612.6 215.7,603.9 216.2,604.3 216.7,604.6 217.2,602.7 217.7,603.6 218.2,599.3 218.7,608.0 219.2,614.7 219.7,609.7 220.2,608.0 220.7,614.2 221.2,612.5 221.7,602.5 222.2,605.8 222.7,601.8 223.2,604.8 223.7,604.8 224.2,606.8 224.7,605.7 225.2,608.2 225.7,606.9 226.2,601.2 226.7,596.6 227.2,606.9 227.7,610.5 228.2,598.6 228.7,595.8 229.2,597.6 229.7,591.8 230.2,595.3 230.7,594.4 231.2,593.6 231.7,593.1 232.2,589.9 232.7,582.6 233.2,580.4 233.7,588.8 234.2,592.7 234.7,584.7 235.2,581.9 235.7,579.4 236.2,572.0 236.7,569.5 237.2,570.4 237.7,573.7 238.2,576.5 238.7,576.0 239.2,575.8 239.7,571.0 240.2,567.6 240.7,562.6 241.2,563.6 241.7,574.4 242.2,565.4 242.7,558.0 243.2,562.9 243.7,559.7 244.2,563.2 244.7,562.4 245.2,560.5 245.7,556.7 246.2,556.0 246.7,559.5 247.2,565.5 247.7,566.9 248.2,554.5 248.7,554.2 249.2,556.2 249.7,558.4 250.2,561.1 250.7,557.9 251.2,553.9 251.7,549.0 252.2,546.2 252.7,555.8 253.2,561.6 253.7,562.2 254.2,555.8 254.7,557.0 255.2,558.7 255.7,559.2 256.2,568.2 256.7,566.7 257.2,558.3 257.7,557.1 258.2,565.1 258.7,564.9 259.2,560.9 259.7,560.1 260.2,562.2 260.7,563.1 261.2,568.3 261.7,570.5 262.2,568.8 262.7,568.4 263.2,569.8 263.7,568.8 264.2,562.3 264.7,570.4 265.2,576.5 265.7,574.1 266.2,574.9 266.7,570.9 267.2,565.6 267.7,570.0 268.2,571.4 268.7,568.4 269.2,570.3 269.7,569.0 270.2,566.5 270.7,564.4 271.2,566.5 271.7,570.5 272.2,571.3 272.7,573.1 273.2,563.2 273.7,563.2 274.2,567.4 274.7,555.5 275.2,560.1 275.7,569.9 276.2,570.9 276.7,567.2 277.2,565.0 277.7,561.1 278.2,557.4 278.7,561.6 279.2,566.7 279.7,558.2 280.2,556.6 280.7,568.8 281.2,562.2 281.7,557.2 282.2,562.6 282.7,559.5 283.2,556.0 283.7,559.6 284.2,556.8 284.7,559.4 285.2,561.8 285.7,563.9 286.2,561.5" fill="none" stroke="#f27878" stroke-width="1.4" stroke-linejoin="round" clip-path="url(#c)"/>
<polyline points="46.2,554.6 46.7,562.8 47.2,556.4 47.7,548.1 48.2,559.2 48.7,569.0 49.2,555.4 49.7,537.9 50.2,552.1 50.7,571.6 51.2,569.9 51.7,551.6 52.2,550.7 52.7,553.5 53.2,559.3 53.7,566.2 54.2,566.7 54.7,556.4 55.2,550.3 55.7,552.6 56.2,560.2 56.7,574.7 57.2,572.4 57.7,558.9 58.2,559.9 58.7,561.4 59.2,559.1 59.7,548.6 60.2,541.6 60.7,552.7 61.2,563.6 61.7,566.5 62.2,566.3 62.7,566.2 63.2,562.5 63.7,559.1 64.2,558.7 64.7,559.7 65.2,552.5 65.7,549.3 66.2,557.1 66.7,559.4 67.2,561.2 67.7,564.2 68.2,567.7 68.7,565.4 69.2,563.4 69.7,559.0 70.2,553.3 70.7,543.8 71.2,550.7 71.7,557.9 72.2,566.4 72.7,561.4 73.2,557.9 73.7,549.7 74.2,543.8 74.7,552.1 75.2,558.7 75.7,557.6 76.2,565.0 76.7,564.1 77.2,553.4 77.7,547.2 78.2,547.5 78.7,543.7 79.2,551.1 79.7,557.6 80.2,558.2 80.7,556.4 81.2,549.4 81.7,547.0 82.2,551.4 82.7,548.1 83.2,547.3 83.7,554.8 84.2,554.9 84.7,550.9 85.2,543.3 85.7,539.5 86.2,551.2 86.7,554.4 87.2,545.9 87.7,537.1 88.2,540.5 88.7,554.8 89.2,547.3 89.7,536.1 90.2,536.9 90.7,543.3 91.2,543.3 91.7,538.8 92.2,532.2 92.7,527.9 93.2,533.5 93.7,536.8 94.2,538.3 94.7,536.4 95.2,527.8 95.7,530.8 96.2,538.2 96.7,534.5 97.2,531.6 97.7,530.3 98.2,527.3 98.7,525.2 99.2,522.1 99.7,523.8 100.2,525.1 100.7,522.2 101.2,519.3 101.7,521.4 102.2,523.6 102.7,521.7 103.2,521.6 103.7,520.2 104.2,519.1 104.7,516.9 105.2,515.3 105.7,519.2 106.2,524.7 106.7,527.0 107.2,524.1 107.7,522.2 108.2,519.1 108.7,515.2 109.2,520.3 109.7,521.3 110.2,524.0 110.7,526.7 111.2,518.9 111.7,515.7 112.2,520.3 112.7,520.6 113.2,524.1 113.7,521.4 114.2,519.2 114.7,524.6 115.2,526.2 115.7,522.9 116.2,521.3 116.7,520.5 117.2,521.6 117.7,520.6 118.2,519.5 118.7,524.3 119.2,524.2 119.7,524.8 120.2,521.5 120.7,522.5 121.2,521.1 121.7,521.0 122.2,520.3 122.7,520.3 123.2,520.2 123.7,520.5 124.2,520.0 124.7,517.6 125.2,518.1 125.7,520.2 126.2,513.2 126.7,512.1 127.2,515.2 127.7,514.0 128.2,516.2 128.7,514.3 129.2,512.8 129.7,511.8 130.2,513.6 130.7,514.6 131.2,514.7 131.7,512.1 132.2,508.7 132.7,509.5 133.2,511.2 133.7,515.1 134.2,514.7 134.7,511.8 135.2,509.3 135.7,509.6 136.2,510.1 136.7,511.0 137.2,514.9 137.7,514.3 138.2,511.7 138.7,513.4 139.2,512.5 139.7,511.9 140.2,513.9 140.7,513.9 141.2,514.1 141.7,513.7 142.2,513.1 142.7,514.4 143.2,513.7 143.7,515.0 144.2,513.9 144.7,517.7 145.2,518.6 145.7,515.0 146.2,518.2 146.7,521.5 147.2,517.4 147.7,519.9 148.2,520.5 148.7,521.4 149.2,523.6 149.7,523.1 150.2,523.5 150.7,520.8 151.2,521.9 151.7,520.6 152.2,520.2 152.7,521.1 153.2,524.2 153.7,520.4 154.2,521.6 154.7,519.6 155.2,519.3 155.7,519.2 156.2,521.1 156.7,520.1 157.2,519.0 157.7,518.2 158.2,519.8 158.7,519.9 159.2,517.8 159.7,516.7 160.2,517.2 160.7,517.4 161.2,516.8 161.7,516.4 162.2,516.9 162.7,513.6 163.2,511.7 163.7,512.5 164.2,515.0 164.7,519.0 165.2,516.5 165.7,515.7 166.2,517.9 166.7,515.8 167.2,517.1 167.7,516.5 168.2,518.0 168.7,519.6 169.2,520.7 169.7,518.4 170.2,517.5 170.7,519.0 171.2,520.5 171.7,519.7 172.2,520.3 172.7,519.0 173.2,517.0 173.7,515.4 174.2,519.2 174.7,518.1 175.2,517.7 175.7,519.8 176.2,518.3 176.7,518.4 177.2,517.5 177.7,519.3 178.2,518.0 178.7,519.7 179.2,515.8 179.7,515.9 180.2,514.9 180.7,515.7 181.2,517.3 181.7,517.9 182.2,517.7 182.7,515.2 183.2,519.5 183.7,520.0 184.2,515.8 184.7,515.8 185.2,516.3 185.7,515.0 186.2,517.2 186.7,519.1 187.2,517.7 187.7,520.3 188.2,522.3 188.7,519.5 189.2,520.5 189.7,521.7 190.2,521.9 190.7,522.5 191.2,520.8 191.7,523.0 192.2,524.8 192.7,521.0 193.2,521.1 193.7,520.3 194.2,522.4 194.7,522.4 195.2,522.9 195.7,522.9 196.2,525.1 196.7,525.6 197.2,523.9 197.7,525.3 198.2,526.4 198.7,525.7 199.2,528.8 199.7,527.0 200.2,529.8 200.7,529.8 201.2,527.2 201.7,528.8 202.2,529.7 202.7,528.3 203.2,528.1 203.7,529.1 204.2,527.5 204.7,530.7 205.2,530.5 205.7,530.2 206.2,526.9 206.7,529.0 207.2,529.2 207.7,528.1 208.2,526.7 208.7,527.5 209.2,527.0 209.7,527.5 210.2,529.1 210.7,529.6 211.2,530.5 211.7,531.7 212.2,536.4 212.7,536.3 213.2,536.7 213.7,535.8 214.2,539.5 214.7,537.1 215.2,537.7 215.7,541.4 216.2,544.0 216.7,541.4 217.2,545.4 217.7,547.0 218.2,548.6 218.7,553.7 219.2,561.8 219.7,572.4 220.2,579.8 220.7,583.7 221.2,586.8 221.7,594.4 222.2,595.4 222.7,602.3 223.2,605.3 223.7,609.9" fill="none" stroke="#6fa8e0" stroke-width="1.4" stroke-linejoin="round" clip-path="url(#c)"/>
<polyline points="120.0,596.3 120.5,591.2 121.0,589.4 121.5,586.6 122.0,583.1 122.5,579.8 123.0,579.1 123.5,576.7 124.0,575.9 124.5,577.7 125.0,575.5 125.5,574.4 126.0,574.2 126.5,575.3 127.0,575.1 127.5,575.5 128.0,573.8 128.5,572.4 129.0,575.1 129.5,573.5 130.0,574.9 130.5,576.0 131.0,576.5 131.5,574.1 132.0,572.6 132.5,574.6 133.0,575.9 133.5,575.0 134.0,573.2 134.5,574.9 135.0,574.4 135.5,578.1 136.0,581.0 136.5,579.3 137.0,580.8 137.5,580.2 138.0,580.9 138.5,581.9 139.0,581.3 139.5,582.6 140.0,582.6 140.5,584.3 141.0,583.3 141.5,582.2 142.0,584.2 142.5,583.7 143.0,581.6 143.5,582.4 144.0,582.6 144.5,585.9 145.0,584.5 145.5,584.4 146.0,583.5 146.5,579.7 147.0,578.7 147.5,576.3 148.0,572.3 148.5,569.6 149.0,566.4 149.5,563.4 150.0,559.7 150.5,557.1 151.0,552.9 151.5,552.8 152.0,550.6 152.5,548.7 153.0,546.9 153.5,546.2 154.0,544.0 154.5,541.0 155.0,539.5 155.5,539.6 156.0,537.7 156.5,534.9 157.0,534.7 157.5,534.6 158.0,534.0 158.5,533.5 159.0,534.2 159.5,532.8 160.0,532.1 160.5,534.5 161.0,535.2 161.5,533.1 162.0,532.1 162.5,535.1 163.0,536.2 163.5,536.0 164.0,534.3 164.5,536.4 165.0,538.8 165.5,540.1 166.0,541.0 166.5,543.8 167.0,544.4 167.5,544.7 168.0,548.2 168.5,547.4 169.0,551.0 169.5,553.8 170.0,555.1 170.5,555.6 171.0,561.9 171.5,566.7 172.0,569.6 172.5,571.8 173.0,573.2 173.5,575.8 174.0,575.2 174.5,574.8 175.0,573.7 175.5,570.1 176.0,568.5 176.5,563.7 177.0,558.4 177.5,551.0 178.0,548.6 178.5,544.9 179.0,543.1 179.5,540.8 180.0,535.9 180.5,532.9 181.0,532.4 181.5,528.7 182.0,526.8 182.5,526.3 183.0,525.0 183.5,521.8 184.0,520.1 184.5,520.5 185.0,521.4 185.5,520.5 186.0,518.7 186.5,519.2 187.0,517.6 187.5,519.6 188.0,518.1 188.5,519.3 189.0,520.1 189.5,519.3 190.0,519.5 190.5,519.9 191.0,521.0 191.5,520.6 192.0,520.4 192.5,519.5 193.0,523.8 193.5,525.3 194.0,525.9 194.5,527.4 195.0,530.3 195.5,534.3 196.0,534.8 196.5,536.6 197.0,539.1 197.5,540.5 198.0,543.7 198.5,545.2 199.0,546.4 199.5,548.5 200.0,551.6 200.5,554.7 201.0,555.0 201.5,556.3 202.0,559.5 202.5,562.5 203.0,564.2 203.5,566.5 204.0,567.7 204.5,568.9 205.0,570.6 205.5,571.7 206.0,572.9 206.5,573.6 207.0,572.8 207.5,567.4 208.0,557.7 208.5,549.5 209.0,543.3 209.5,537.6 210.0,533.5 210.5,530.8 211.0,529.0 211.5,524.4 212.0,523.4 212.5,522.1 213.0,519.7 213.5,518.9 214.0,519.3 214.5,518.2 215.0,517.1 215.5,515.7 216.0,517.1 216.5,514.8 217.0,516.0 217.5,514.9 218.0,517.1 218.5,518.6 219.0,516.3 219.5,516.7 220.0,516.2 220.5,520.6 221.0,523.0 221.5,525.9 222.0,526.4 222.5,527.1 223.0,526.6 223.5,527.2 224.0,529.4 224.5,528.1 225.0,529.6 225.5,530.4 226.0,531.6 226.5,530.9 227.0,529.1 227.5,531.6 228.0,531.8 228.5,530.6 229.0,532.3 229.5,532.0 230.0,531.3 230.5,531.2 231.0,530.9 231.5,530.1 232.0,531.9 232.5,532.1 233.0,534.7 233.5,532.6 234.0,532.0 234.5,534.3 235.0,532.5 235.5,533.4 236.0,534.7 236.5,534.3 237.0,534.2 237.5,533.8 238.0,535.2 238.5,535.2 239.0,534.7 239.5,536.3 240.0,534.0 240.5,534.7 241.0,533.4 241.5,531.4 242.0,532.1 242.5,530.7 243.0,529.8 243.5,529.2 244.0,530.9 244.5,529.4 245.0,527.5 245.5,526.1 246.0,526.3 246.5,526.5 247.0,526.9 247.5,526.5 248.0,524.8 248.5,523.0 249.0,523.6 249.5,521.4 250.0,522.4 250.5,521.7 251.0,520.8 251.5,520.9 252.0,519.9 252.5,520.9 253.0,520.3 253.5,519.3 254.0,520.8 254.5,522.3 255.0,523.1 255.5,523.0 256.0,520.8 256.5,524.8 257.0,525.5 257.5,524.0 258.0,526.3 258.5,527.5 259.0,529.4 259.5,529.9 260.0,531.4 260.5,532.5 261.0,533.7 261.5,532.4 262.0,534.4 262.5,534.9 263.0,535.2 263.5,541.0 264.0,541.6 264.5,541.2 265.0,543.0 265.5,544.8 266.0,545.5 266.5,547.3 267.0,549.0 267.5,548.7 268.0,550.3 268.5,551.0 269.0,553.2 269.5,554.3 270.0,555.0 270.5,555.0 271.0,555.7 271.5,554.0 272.0,555.4 272.5,555.1 273.0,558.2 273.5,554.4 274.0,553.6 274.5,554.4 275.0,553.5 275.5,553.8 276.0,552.7 276.5,549.4 277.0,549.0 277.5,548.3 278.0,549.5 278.5,549.9 279.0,546.7 279.5,546.5 280.0,546.8 280.5,547.6 281.0,544.6 281.5,540.8 282.0,543.2 282.5,540.3 283.0,542.2 283.5,539.8 284.0,537.8 284.5,537.3 285.0,536.4 285.5,535.6 286.0,535.4" fill="none" stroke="#d9761c" stroke-width="2.2" stroke-linejoin="round" clip-path="url(#c)"/>
<polyline points="46.2,528.3 46.7,531.3 47.2,531.6 47.7,530.5 48.2,535.6 48.7,533.2 49.2,534.3 49.7,536.7 50.2,539.2 50.7,539.0 51.2,538.3 51.7,538.9 52.2,538.3 52.7,541.8 53.2,541.5 53.7,543.4 54.2,540.9 54.7,545.3 55.2,546.3 55.7,547.3 56.2,547.9 56.7,547.2 57.2,546.2 57.7,550.4 58.2,549.1 58.7,547.6 59.2,550.3 59.7,548.5 60.2,546.8 60.7,548.1 61.2,549.5 61.7,546.3 62.2,542.9 62.7,545.1 63.2,545.9 63.7,544.6 64.2,542.9 64.7,539.3 65.2,538.2 65.7,540.7 66.2,538.5 66.7,537.2 67.2,538.4 67.7,537.3 68.2,534.2 68.7,533.0 69.2,532.1 69.7,530.4 70.2,531.1 70.7,530.5 71.2,525.1 71.7,527.4 72.2,526.3 72.7,528.8 73.2,527.6 73.7,530.5 74.2,529.5 74.7,528.7 75.2,529.5 75.7,530.0 76.2,532.2 76.7,530.5 77.2,532.4 77.7,531.2 78.2,532.2 78.7,532.9 79.2,532.8 79.7,534.7 80.2,534.6 80.7,534.4 81.2,535.7 81.7,535.1 82.2,534.0 82.7,535.0 83.2,536.1 83.7,538.3 84.2,539.5 84.7,538.1 85.2,538.2 85.7,536.6 86.2,536.3 86.7,537.0 87.2,539.4 87.7,540.9 88.2,542.4 88.7,537.8 89.2,537.3 89.7,538.6 90.2,541.0 90.7,539.1 91.2,540.6 91.7,543.0 92.2,542.9 92.7,541.7 93.2,543.7 93.7,542.2 94.2,542.7 94.7,544.1 95.2,541.8 95.7,543.2 96.2,544.3 96.7,544.3 97.2,545.4 97.7,541.8 98.2,541.6 98.7,543.6 99.2,544.2 99.7,544.6 100.2,546.1 100.7,546.6 101.2,544.0 101.7,541.8 102.2,543.2 102.7,543.0 103.2,540.3 103.7,542.4 104.2,543.5 104.7,545.5 105.2,543.3 105.7,542.4 106.2,541.0 106.7,540.3 107.2,542.5 107.7,542.4 108.2,541.9 108.7,543.7 109.2,542.6 109.7,541.8 110.2,541.9 110.7,540.3 111.2,540.1 111.7,540.8 112.2,544.3 112.7,543.2 113.2,544.1 113.7,544.5 114.2,542.5 114.7,545.0 115.2,545.5 115.7,546.8 116.2,544.9 116.7,547.1 117.2,548.3 117.7,548.3 118.2,547.0 118.7,550.2 119.2,550.0 119.7,550.9 120.2,552.5 120.7,553.8 121.2,554.5 121.7,552.0 122.2,554.0 122.7,553.2 123.2,554.4 123.7,557.2 124.2,558.5 124.7,557.3 125.2,559.4 125.7,559.0 126.2,557.8 126.7,560.1 127.2,560.4 127.7,557.7 128.2,557.4 128.7,556.6 129.2,555.5 129.7,553.0 130.2,556.4 130.7,554.7 131.2,553.5 131.7,549.8 132.2,546.1 132.7,545.1 133.2,544.5 133.7,543.6 134.2,546.2 134.7,545.4 135.2,545.9 135.7,543.2 136.2,546.4 136.7,545.9 137.2,545.2 137.7,546.9 138.2,549.1 138.7,548.0 139.2,549.4 139.7,549.2 140.2,549.3 140.7,552.2 141.2,550.0 141.7,550.7 142.2,552.8 142.7,552.7 143.2,551.7 143.7,553.2 144.2,554.9 144.7,557.4 145.2,558.2 145.7,558.0 146.2,559.8 146.7,559.5 147.2,559.8 147.7,559.2 148.2,560.5 148.7,559.8 149.2,562.6 149.7,561.3 150.2,560.7 150.7,562.4 151.2,560.1 151.7,560.8 152.2,560.0 152.7,558.3 153.2,561.5 153.7,560.3 154.2,560.2 154.7,559.0 155.2,556.7 155.7,554.8 156.2,553.7 156.7,553.0 157.2,550.6 157.7,552.0 158.2,550.0 158.7,551.4 159.2,548.3 159.7,546.6 160.2,549.6 160.7,552.2 161.2,550.5 161.7,549.2 162.2,553.2 162.7,556.8 163.2,558.3 163.7,555.5 164.2,559.0 164.7,560.9 165.2,563.7 165.7,568.7 166.2,570.4 166.7,572.5 167.2,577.5 167.7,578.3 168.2,583.6 168.7,583.8 169.2,582.8 169.7,584.8 170.2,586.7 170.7,587.2 171.2,587.8 171.7,587.4 172.2,588.4 172.7,589.4 173.2,589.7 173.7,585.9 174.2,587.8 174.7,591.6 175.2,591.4 175.7,590.9 176.2,591.8 176.7,593.3 177.2,590.5 177.7,592.5 178.2,591.7 178.7,591.9 179.2,592.2 179.7,595.9 180.2,596.3 180.7,598.8 181.2,597.2 181.7,596.5 182.2,593.4 182.7,594.8 183.2,596.4 183.7,597.4 184.2,597.2 184.7,599.0 185.2,597.9 185.7,596.9 186.2,597.6 186.7,601.4 187.2,600.1 187.7,598.3 188.2,599.7 188.7,599.3 189.2,601.5 189.7,604.1 190.2,601.0 190.7,600.9 191.2,600.8 191.7,600.4 192.2,601.9 192.7,602.0 193.2,602.0 193.7,603.0 194.2,603.5 194.7,602.0 195.2,604.6 195.7,601.3 196.2,599.9 196.7,601.5 197.2,603.8 197.7,605.0 198.2,602.4 198.7,602.9 199.2,602.4 199.7,604.1 200.2,603.9 200.7,604.7 201.2,604.9 201.7,605.7 202.2,605.0 202.7,605.2 203.2,606.5 203.7,606.2 204.2,601.9 204.7,606.4 205.2,607.9 205.7,606.4 206.2,606.4 206.7,606.1 207.2,604.6 207.7,608.3 208.2,602.2 208.7,604.8 209.2,602.5 209.7,606.4 210.2,609.0 210.7,608.5 211.2,605.8 211.7,604.5 212.2,607.5 212.7,606.9 213.2,607.2 213.7,608.7 214.2,605.9 214.7,606.4 215.2,605.0 215.7,606.0 216.2,608.3 216.7,606.1 217.2,608.0 217.7,611.2 218.2,606.5 218.7,605.2 219.2,607.7 219.7,603.7 220.2,602.8 220.7,604.0 221.2,606.3 221.7,605.7 222.2,608.2 222.7,609.4 223.2,607.1 223.7,607.3 224.2,607.5 224.7,604.7 225.2,602.5 225.7,604.3 226.2,607.1 226.7,605.5 227.2,603.8 227.7,604.8 228.2,601.5 228.7,605.0 229.2,603.7 229.7,602.4 230.2,602.2 230.7,600.9 231.2,602.5 231.7,602.4 232.2,601.7 232.7,601.0 233.2,598.0 233.7,600.8 234.2,597.9 234.7,595.7 235.2,600.1 235.7,601.7 236.2,597.5 236.7,593.6 237.2,594.1 237.7,598.2 238.2,600.3 238.7,596.1 239.2,594.0 239.7,592.8 240.2,594.3 240.7,597.0 241.2,594.3 241.7,592.1 242.2,587.5 242.7,586.7 243.2,588.5 243.7,590.3 244.2,589.3 244.7,590.9 245.2,588.9 245.7,585.1 246.2,585.7 246.7,585.9 247.2,586.8 247.7,581.7 248.2,581.1 248.7,580.4 249.2,580.8 249.7,579.2 250.2,573.7 250.7,579.9 251.2,579.3 251.7,578.5 252.2,573.9 252.7,573.7 253.2,572.8 253.7,571.5 254.2,574.4 254.7,576.7 255.2,570.8 255.7,567.3 256.2,573.3 256.7,573.1 257.2,566.7 257.7,573.1 258.2,574.3 258.7,572.8 259.2,564.3 259.7,565.4 260.2,565.1 260.7,562.7 261.2,568.8 261.7,571.6 262.2,569.5 262.7,564.2 263.2,565.4 263.7,567.5 264.2,564.8 264.7,560.2 265.2,561.0 265.7,566.7 266.2,568.2 266.7,559.0 267.2,555.1 267.7,557.4 268.2,557.1 268.7,562.9 269.2,562.8 269.7,556.0 270.2,558.1 270.7,562.9 271.2,557.9 271.7,553.4 272.2,552.2 272.7,552.4 273.2,554.7 273.7,556.2 274.2,555.2 274.7,550.7 275.2,546.8 275.7,546.9 276.2,558.1 276.7,559.1 277.2,552.6 277.7,547.8 278.2,546.9 278.7,549.8 279.2,549.3 279.7,549.3 280.2,550.5 280.7,549.2 281.2,553.8 281.7,555.0 282.2,544.0 282.7,539.2 283.2,548.4 283.7,544.8 284.2,548.0 284.7,556.2 285.2,556.7 285.7,546.7 286.2,531.3" fill="none" stroke="#16a3a3" stroke-width="2.0" stroke-linejoin="round" clip-path="url(#c)"/>
<polyline points="46.2,552.3 46.7,536.3 47.2,551.5 47.7,565.4 48.2,558.2 48.7,552.6 49.2,554.5 49.7,560.2 50.2,554.5 50.7,559.1 51.2,559.6 51.7,567.1 52.2,564.4 52.7,573.5 53.2,569.3 53.7,551.5 54.2,539.9 54.7,542.3 55.2,552.9 55.7,564.3 56.2,558.6 56.7,567.9 57.2,576.8 57.7,569.6 58.2,548.9 58.7,543.9 59.2,551.4 59.7,558.9 60.2,560.5 60.7,557.2 61.2,549.2 61.7,546.9 62.2,556.9 62.7,563.3 63.2,562.6 63.7,549.7 64.2,547.0 64.7,551.8 65.2,562.3 65.7,555.2 66.2,543.8 66.7,548.5 67.2,549.8 67.7,546.8 68.2,550.1 68.7,539.3 69.2,548.0 69.7,560.0 70.2,546.7 70.7,532.0 71.2,535.4 71.7,546.9 72.2,549.0 72.7,544.3 73.2,538.7 73.7,546.7 74.2,552.7 74.7,541.5 75.2,537.3 75.7,537.1 76.2,530.1 76.7,531.9 77.2,533.2 77.7,532.1 78.2,553.1 78.7,555.5 79.2,537.0 79.7,531.1 80.2,537.8 80.7,544.7 81.2,536.1 81.7,530.4 82.2,538.8 82.7,547.7 83.2,542.6 83.7,534.2 84.2,529.9 84.7,537.5 85.2,543.0 85.7,530.1 86.2,516.7 86.7,522.5 87.2,531.3 87.7,533.8 88.2,534.7 88.7,531.9 89.2,541.7 89.7,553.3 90.2,544.9 90.7,537.8 91.2,537.5 91.7,533.4 92.2,529.3 92.7,528.3 93.2,528.9 93.7,525.3 94.2,537.6 94.7,540.2 95.2,528.4 95.7,522.6 96.2,521.0 96.7,517.5 97.2,525.9 97.7,531.2 98.2,525.6 98.7,527.1 99.2,534.4 99.7,535.3 100.2,530.5 100.7,522.7 101.2,520.9 101.7,522.2 102.2,519.9 102.7,512.5 103.2,516.8 103.7,518.2 104.2,519.7 104.7,512.5 105.2,518.4 105.7,522.7 106.2,520.3 106.7,510.4 107.2,513.2 107.7,511.9 108.2,505.7 108.7,509.9 109.2,520.8 109.7,525.8 110.2,528.0 110.7,519.5 111.2,517.1 111.7,508.4 112.2,505.3 112.7,514.7 113.2,528.7 113.7,523.6 114.2,513.0 114.7,503.8 115.2,508.0 115.7,506.9 116.2,512.0 116.7,517.7 117.2,519.2 117.7,519.2 118.2,517.3 118.7,516.2 119.2,509.8 119.7,509.9 120.2,517.3 120.7,521.8 121.2,515.4 121.7,516.1 122.2,516.1 122.7,512.2 123.2,517.2 123.7,518.4 124.2,514.3 124.7,505.9 125.2,509.4 125.7,513.4 126.2,507.9 126.7,511.7 127.2,514.2 127.7,516.7 128.2,515.9 128.7,515.9 129.2,514.3 129.7,515.7 130.2,515.6 130.7,512.6 131.2,511.3 131.7,514.3 132.2,512.6 132.7,509.8 133.2,511.7 133.7,514.3 134.2,514.2 134.7,512.1 135.2,508.4 135.7,512.3 136.2,515.5 136.7,515.5 137.2,518.8 137.7,520.6 138.2,520.0 138.7,515.3 139.2,517.5 139.7,519.2 140.2,520.6 140.7,521.8 141.2,517.0 141.7,514.5 142.2,515.9 142.7,520.2 143.2,518.8 143.7,514.9 144.2,512.3 144.7,513.4 145.2,518.2 145.7,515.0 146.2,514.3 146.7,515.9 147.2,516.4 147.7,513.6 148.2,509.4 148.7,510.6 149.2,514.6 149.7,515.9 150.2,514.3 150.7,516.6 151.2,514.1 151.7,506.7 152.2,505.9 152.7,508.6 153.2,509.8 153.7,509.3 154.2,510.3 154.7,511.1 155.2,507.4 155.7,505.5 156.2,503.4 156.7,503.0 157.2,500.3 157.7,499.3 158.2,499.6 158.7,501.2 159.2,502.3 159.7,503.0 160.2,504.6 160.7,502.9 161.2,502.6 161.7,500.8 162.2,505.5 162.7,507.4 163.2,499.7 163.7,498.2 164.2,499.8 164.7,504.4 165.2,505.0 165.7,507.3 166.2,503.9 166.7,501.2 167.2,501.2 167.7,506.7 168.2,508.4 168.7,509.7 169.2,510.7 169.7,513.3 170.2,511.0 170.7,506.2 171.2,503.5 171.7,503.8 172.2,506.3 172.7,509.2 173.2,513.4 173.7,511.9 174.2,507.8 174.7,505.7 175.2,508.2 175.7,509.3 176.2,509.3 176.7,508.5 177.2,505.6 177.7,502.6 178.2,501.5 178.7,505.7 179.2,505.5 179.7,503.9 180.2,503.2 180.7,500.4 181.2,499.6 181.7,500.8 182.2,497.0 182.7,495.0 183.2,492.6 183.7,494.5 184.2,494.7 184.7,498.0 185.2,497.4 185.7,494.8 186.2,495.2 186.7,496.0 187.2,494.7 187.7,495.6 188.2,491.9 188.7,490.5 189.2,493.8 189.7,495.5 190.2,488.3 190.7,489.2 191.2,491.5 191.7,495.8 192.2,494.7 192.7,495.0 193.2,495.3 193.7,490.7 194.2,496.5 194.7,499.9 195.2,500.0 195.7,497.5 196.2,494.8 196.7,496.2 197.2,494.9 197.7,496.2 198.2,495.5 198.7,497.1 199.2,500.8 199.7,499.4 200.2,498.8 200.7,496.2 201.2,500.7 201.7,501.6 202.2,495.5 202.7,497.5 203.2,496.6 203.7,497.9 204.2,499.3 204.7,495.8 205.2,496.5 205.7,494.7 206.2,497.4 206.7,497.1 207.2,495.3 207.7,491.3 208.2,489.3 208.7,489.5 209.2,492.1 209.7,491.6 210.2,492.2 210.7,493.4 211.2,491.7 211.7,493.2 212.2,494.0 212.7,492.3 213.2,492.7 213.7,489.1 214.2,489.7 214.7,488.8 215.2,487.2 215.7,485.4 216.2,484.4 216.7,490.0 217.2,489.3 217.7,488.9 218.2,486.6 218.7,489.7 219.2,490.5 219.7,487.0 220.2,489.2 220.7,489.5 221.2,490.2 221.7,490.8 222.2,486.4 222.7,483.0 223.2,490.6 223.7,487.7 224.2,488.0 224.7,491.9 225.2,492.0 225.7,488.1 226.2,485.2 226.7,487.9 227.2,489.3 227.7,492.1 228.2,488.3 228.7,487.7 229.2,488.8 229.7,487.7 230.2,489.2 230.7,488.1 231.2,490.4 231.7,487.5 232.2,487.5 232.7,485.6 233.2,484.5 233.7,484.6 234.2,487.1 234.7,488.1 235.2,486.5 235.7,484.8 236.2,486.6 236.7,486.4 237.2,485.0 237.7,489.8 238.2,487.8 238.7,487.8 239.2,489.2 239.7,486.5 240.2,487.2 240.7,484.1 241.2,488.1 241.7,485.9 242.2,484.2 242.7,483.8 243.2,486.5 243.7,487.3 244.2,486.7 244.7,484.4 245.2,484.5 245.7,485.9 246.2,489.3 246.7,488.2 247.2,486.4 247.7,486.8 248.2,489.3 248.7,486.7 249.2,489.9 249.7,493.0 250.2,492.8 250.7,492.1 251.2,489.5 251.7,494.2 252.2,487.3 252.7,489.6 253.2,495.2 253.7,489.8 254.2,488.8 254.7,488.5 255.2,488.7 255.7,491.0 256.2,489.1 256.7,488.7 257.2,490.4 257.7,487.8 258.2,489.3 258.7,488.7 259.2,488.0 259.7,488.9 260.2,487.5 260.7,483.9 261.2,483.4 261.7,486.8 262.2,487.6 262.7,488.2 263.2,486.7 263.7,487.5 264.2,490.0 264.7,488.2 265.2,485.9 265.7,484.0 266.2,483.2 266.7,486.0 267.2,489.8 267.7,490.7 268.2,488.0 268.7,486.5 269.2,483.2 269.7,482.9 270.2,481.4 270.7,483.0 271.2,488.2 271.7,484.8 272.2,487.9 272.7,490.2 273.2,485.1 273.7,485.4 274.2,485.0 274.7,484.2 275.2,486.5 275.7,489.3 276.2,488.9 276.7,491.5 277.2,494.6 277.7,494.1 278.2,488.0 278.7,487.6 279.2,488.3 279.7,492.7 280.2,493.3 280.7,492.7 281.2,494.5 281.7,495.3 282.2,491.0 282.7,494.0 283.2,493.9 283.7,496.4 284.2,491.5 284.7,494.2 285.2,494.9 285.7,494.4 286.2,495.8" fill="none" stroke="#7569c2" stroke-width="1.5" stroke-linejoin="round" clip-path="url(#c)"/>
<polyline points="157.4,512.4 157.9,514.8 158.4,516.3 158.9,512.4 159.4,512.0 159.9,512.3 160.4,511.9 160.9,511.7 161.4,511.0 161.9,514.7 162.4,513.3 162.9,507.8 163.4,508.9 163.9,509.3 164.4,512.2 164.9,511.3 165.4,514.2 165.9,511.1 166.4,506.1 166.9,509.4 167.4,509.5 167.9,508.7 168.4,507.8 168.9,513.2 169.4,512.9 169.9,511.2 170.4,507.3 170.9,506.8 171.4,510.4 171.9,514.8 172.4,513.0 172.9,509.3 173.4,511.4 173.9,514.9 174.4,509.5 174.9,509.1 175.4,508.0 175.9,508.0 176.4,510.0 176.9,513.2 177.4,512.9 177.9,508.2 178.4,509.3 178.9,507.6 179.4,508.6 179.9,506.5 180.4,508.4 180.9,508.8 181.4,507.0 181.9,507.8 182.4,508.8 182.9,507.7 183.4,508.6 183.9,502.7 184.4,503.3 184.9,507.1 185.4,509.6 185.9,506.8 186.4,505.8 186.9,507.9 187.4,508.6 187.9,506.1 188.4,506.5 188.9,505.6 189.4,502.3 189.9,501.9 190.4,499.2 190.9,503.8 191.4,506.6 191.9,513.3 192.4,510.9 192.9,508.0 193.4,502.1 193.9,496.6 194.4,501.5 194.9,505.9 195.4,507.1 195.9,502.9 196.4,501.8 196.9,503.8 197.4,504.2 197.9,505.0 198.4,502.1 198.9,505.6 199.4,502.0 199.9,501.0 200.4,498.3 200.9,501.5 201.4,502.6 201.9,501.5 202.4,499.7 202.9,498.9 203.4,496.2 203.9,499.2 204.4,502.2 204.9,497.2 205.4,495.7 205.9,498.4 206.4,499.8 206.9,501.3 207.4,497.5 207.9,499.2 208.4,495.0 208.9,496.5 209.4,501.8 209.9,501.6 210.4,493.3 210.9,496.4 211.4,496.4 211.9,501.4 212.4,492.8 212.9,496.6 213.4,500.0 213.9,497.3 214.4,497.0 214.9,493.8 215.4,497.3 215.9,496.9 216.4,493.5 216.9,494.9 217.4,503.4 217.9,503.5 218.4,499.1 218.9,491.5 219.4,494.3 219.9,498.8 220.4,494.0 220.9,492.5 221.4,493.9 221.9,496.6 222.4,496.2 222.9,495.9 223.4,494.7 223.9,495.9 224.4,497.3 224.9,489.7 225.4,490.8 225.9,493.8 226.4,495.3 226.9,497.4 227.4,490.6 227.9,496.6 228.4,494.5 228.9,492.7 229.4,489.0 229.9,493.4 230.4,494.9 230.9,493.1 231.4,493.0 231.9,494.2 232.4,492.4 232.9,496.2 233.4,496.4 233.9,491.8 234.4,495.6 234.9,499.0 235.4,498.3 235.9,492.4 236.4,488.3 236.9,487.9 237.4,491.1 237.9,490.3 238.4,491.2 238.9,496.9 239.4,492.2 239.9,490.1 240.4,495.9 240.9,496.2 241.4,492.7 241.9,490.7 242.4,488.8 242.9,492.9 243.4,495.7 243.9,492.9 244.4,489.6 244.9,492.8 245.4,495.6 245.9,497.0 246.4,492.3 246.9,495.9 247.4,492.4 247.9,491.6 248.4,492.4 248.9,492.5 249.4,490.4 249.9,494.6 250.4,496.0 250.9,495.6 251.4,494.0 251.9,491.8 252.4,490.9 252.9,494.2 253.4,492.9 253.9,491.9 254.4,488.8 254.9,488.8 255.4,495.3 255.9,497.3 256.4,494.4 256.9,492.8 257.4,497.7 257.9,498.7 258.4,497.1 258.9,494.5 259.4,493.4 259.9,492.6 260.4,497.5 260.9,492.8 261.4,497.3 261.9,493.5 262.4,494.8 262.9,496.1 263.4,498.6 263.9,500.7 264.4,498.5 264.9,493.8 265.4,501.3 265.9,499.0 266.4,496.2 266.9,500.8 267.4,503.5 267.9,501.9 268.4,499.1 268.9,497.9 269.4,499.9 269.9,501.6 270.4,504.5 270.9,509.9 271.4,502.6 271.9,500.9 272.4,501.4 272.9,502.9 273.4,507.7 273.9,504.8 274.4,503.9 274.9,508.1 275.4,509.6 275.9,514.4 276.4,511.3 276.9,507.9 277.4,504.1 277.9,503.0 278.4,507.7 278.9,510.1 279.4,514.2 279.9,512.2 280.4,512.5 280.9,510.9 281.4,508.9 281.9,508.3 282.4,506.0 282.9,508.2 283.4,507.7 283.9,503.8 284.4,506.5 284.9,506.7 285.4,503.1 285.9,506.1 286.4,510.8" fill="none" stroke="#a48f8b" stroke-width="1.7" stroke-linejoin="round" clip-path="url(#c)"/>
<polyline points="170.9,583.2 171.4,581.8 171.9,574.3 172.4,570.8 172.9,570.2 173.4,576.6 173.9,573.2 174.4,568.1 174.9,568.4 175.4,574.5 175.9,567.3 176.4,562.0 176.9,566.0 177.4,566.3 177.9,561.9 178.4,559.7 178.9,563.5 179.4,570.5 179.9,580.1 180.4,589.9 180.9,584.0 181.4,575.5 181.9,568.6 182.4,576.6 182.9,587.5 183.4,584.7 183.9,576.8 184.4,582.9 184.9,589.6 185.4,593.3 185.9,590.6 186.4,583.7 186.9,583.2 187.4,581.6 187.9,584.9 188.4,586.1 188.9,587.5 189.4,588.6 189.9,580.9 190.4,580.7 190.9,586.1 191.4,583.7 191.9,576.5 192.4,574.7 192.9,563.7 193.4,571.2 193.9,577.1 194.4,568.5 194.9,562.6 195.4,552.4 195.9,550.1 196.4,566.5 196.9,570.8 197.4,564.1 197.9,548.0 198.4,538.5 198.9,538.9 199.4,539.7 199.9,539.2 200.4,548.6 200.9,546.9 201.4,541.3 201.9,548.0 202.4,545.3 202.9,541.0 203.4,551.5 203.9,542.5 204.4,548.3 204.9,555.2 205.4,554.7 205.9,560.9 206.4,544.9 206.9,543.7 207.4,558.7 207.9,564.8 208.4,564.9 208.9,561.3 209.4,557.2 209.9,568.5 210.4,565.9 210.9,564.2 211.4,573.6 211.9,576.4 212.4,581.8 212.9,562.8 213.4,560.3 213.9,570.7 214.4,576.0 214.9,578.3 215.4,567.1 215.9,558.0 216.4,567.7 216.9,569.2 217.4,559.3 217.9,557.3 218.4,559.9 218.9,561.8 219.4,564.7 219.9,560.6 220.4,564.1 220.9,570.3 221.4,567.6 221.9,570.5 222.4,567.4 222.9,558.9 223.4,558.2 223.9,559.8 224.4,558.9 224.9,558.5 225.4,555.8 225.9,556.0 226.4,557.1 226.9,551.9 227.4,539.2 227.9,541.5 228.4,542.1 228.9,542.5 229.4,540.2 229.9,540.1 230.4,543.8 230.9,543.9 231.4,542.6 231.9,552.2 232.4,544.2 232.9,546.8 233.4,547.2 233.9,557.2 234.4,561.1 234.9,558.3 235.4,555.8 235.9,555.9 236.4,551.5 236.9,568.2 237.4,575.9 237.9,572.0 238.4,570.3 238.9,562.0 239.4,565.0 239.9,568.5 240.4,561.8 240.9,566.3 241.4,561.7 241.9,556.7 242.4,555.7 242.9,559.3 243.4,563.4 243.9,557.0 244.4,565.5 244.9,560.7 245.4,551.0 245.9,543.5 246.4,548.9 246.9,554.5 247.4,561.0 247.9,556.7 248.4,556.4 248.9,552.8 249.4,544.4 249.9,553.5 250.4,547.1 250.9,549.4 251.4,559.3 251.9,564.6 252.4,558.5 252.9,558.5 253.4,553.9 253.9,545.9 254.4,538.2 254.9,542.0 255.4,558.8 255.9,571.2 256.4,557.1 256.9,559.5 257.4,554.6 257.9,563.4 258.4,569.1 258.9,569.2 259.4,560.5 259.9,546.4 260.4,552.0 260.9,564.7 261.4,574.0 261.9,574.7 262.4,580.6 262.9,576.4 263.4,565.0 263.9,560.5 264.4,559.8 264.9,570.3 265.4,570.9 265.9,565.0 266.4,575.8 266.9,573.6 267.4,565.8 267.9,563.5 268.4,566.5 268.9,570.7 269.4,564.3 269.9,550.4 270.4,553.8 270.9,557.0 271.4,561.9 271.9,560.5 272.4,563.8 272.9,569.5 273.4,572.3 273.9,570.3 274.4,561.0 274.9,555.0 275.4,555.8 275.9,558.8 276.4,558.3 276.9,555.4 277.4,561.0 277.9,561.5 278.4,564.3 278.9,556.8 279.4,554.4 279.9,557.9 280.4,564.4 280.9,571.2 281.4,567.5 281.9,562.7 282.4,558.8 282.9,560.0 283.4,555.9 283.9,547.1 284.4,549.0 284.9,550.7 285.4,555.9 285.9,560.1" fill="none" stroke="#d83c50" stroke-width="1.5" stroke-linejoin="round" clip-path="url(#c)"/>
<polyline points="46.2,558.3 46.7,548.3 47.2,545.0 47.7,549.5 48.2,562.6 48.7,567.9 49.2,565.4 49.7,562.5 50.2,554.1 50.7,550.4 51.2,549.6 51.7,549.6 52.2,554.9 52.7,564.4 53.2,564.3 53.7,568.0 54.2,565.3 54.7,562.2 55.2,562.7 55.7,564.6 56.2,563.6 56.7,553.1 57.2,551.3 57.7,563.3 58.2,569.4 58.7,565.3 59.2,561.6 59.7,564.4 60.2,570.0 60.7,564.2 61.2,561.7 61.7,555.0 62.2,559.1 62.7,563.2 63.2,558.4 63.7,569.4 64.2,571.2 64.7,562.2 65.2,563.2 65.7,566.2 66.2,563.0 66.7,559.8 67.2,560.0 67.7,564.2 68.2,566.9 68.7,564.4 69.2,558.0 69.7,565.3 70.2,565.1 70.7,563.1 71.2,561.8 71.7,561.0 72.2,557.3 72.7,561.4 73.2,562.1 73.7,564.0 74.2,562.4 74.7,558.5 75.2,549.8 75.7,555.1 76.2,558.1 76.7,555.0 77.2,558.9 77.7,563.1 78.2,553.3 78.7,557.4 79.2,562.4 79.7,560.1 80.2,555.9 80.7,555.3 81.2,549.1 81.7,554.8 82.2,558.8 82.7,555.6 83.2,553.4 83.7,551.3 84.2,557.8 84.7,562.7 85.2,554.4 85.7,546.9 86.2,545.4 86.7,545.2 87.2,544.4 87.7,547.4 88.2,552.4 88.7,550.1 89.2,550.0 89.7,546.8 90.2,546.1 90.7,548.2 91.2,547.6 91.7,545.0 92.2,540.3 92.7,536.6 93.2,543.0 93.7,548.2 94.2,546.8 94.7,545.4 95.2,540.2 95.7,537.8 96.2,533.0 96.7,529.6 97.2,537.0 97.7,546.7 98.2,539.7 98.7,539.9 99.2,534.4 99.7,531.7 100.2,534.0 100.7,536.2 101.2,536.8 101.7,531.5 102.2,531.2 102.7,533.5 103.2,528.3 103.7,525.1 104.2,524.1 104.7,525.9 105.2,533.3 105.7,531.0 106.2,526.3 106.7,521.1 107.2,523.9 107.7,529.4 108.2,527.4 108.7,521.9 109.2,515.1 109.7,523.4 110.2,525.7 110.7,526.4 111.2,524.7 111.7,517.2 112.2,520.7 112.7,520.6 113.2,523.5 113.7,524.1 114.2,524.4 114.7,521.4 115.2,526.7 115.7,525.7 116.2,528.6 116.7,527.6 117.2,532.1 117.7,534.8 118.2,536.8 118.7,538.5 119.2,536.1 119.7,536.9 120.2,537.0 120.7,537.7 121.2,533.3 121.7,533.2 122.2,535.4 122.7,536.2 123.2,540.5 123.7,537.8 124.2,538.5 124.7,533.1 125.2,533.5 125.7,541.9 126.2,538.7 126.7,534.9 127.2,529.9 127.7,528.5 128.2,530.4 128.7,531.6 129.2,534.6 129.7,533.2 130.2,528.0 130.7,530.3 131.2,524.9 131.7,522.7 132.2,524.1 132.7,523.1 133.2,524.6 133.7,522.9 134.2,518.8 134.7,520.7 135.2,522.5 135.7,522.2 136.2,521.2 136.7,517.5 137.2,521.1 137.7,522.1 138.2,521.7 138.7,522.3 139.2,519.6 139.7,523.3 140.2,524.9 140.7,522.5 141.2,523.3 141.7,524.6 142.2,522.4 142.7,520.0 143.2,520.1 143.7,525.7 144.2,528.7 144.7,528.7 145.2,526.0 145.7,525.5 146.2,524.5 146.7,528.6 147.2,527.4 147.7,526.3 148.2,527.4 148.7,531.2 149.2,533.9 149.7,530.1 150.2,532.4 150.7,533.8 151.2,532.1 151.7,529.3 152.2,529.1 152.7,531.3 153.2,531.8 153.7,530.9 154.2,528.0 154.7,527.3 155.2,528.9 155.7,531.7 156.2,533.5 156.7,527.9 157.2,527.6 157.7,529.2 158.2,532.2 158.7,531.8 159.2,529.3 159.7,527.9 160.2,528.7 160.7,528.2 161.2,527.2 161.7,530.8 162.2,532.0 162.7,532.1 163.2,530.6 163.7,529.3 164.2,531.9 164.7,531.1 165.2,529.7 165.7,529.1 166.2,531.8 166.7,532.8 167.2,534.9 167.7,534.7 168.2,534.8 168.7,534.4 169.2,531.8 169.7,534.0 170.2,534.7 170.7,535.3 171.2,534.3 171.7,533.1 172.2,534.8 172.7,531.9 173.2,533.1 173.7,536.4 174.2,532.7 174.7,534.1 175.2,534.4 175.7,534.1 176.2,534.4 176.7,535.0 177.2,533.7 177.7,532.4 178.2,535.1 178.7,534.7 179.2,534.2 179.7,529.7 180.2,531.6 180.7,536.4 181.2,536.4 181.7,536.8 182.2,536.6 182.7,536.5 183.2,535.0 183.7,531.9 184.2,535.2 184.7,534.5 185.2,535.5 185.7,537.9 186.2,537.8 186.7,535.5 187.2,538.2 187.7,538.3 188.2,538.1 188.7,538.9 189.2,540.0 189.7,542.8 190.2,543.7 190.7,542.5 191.2,543.6 191.7,545.5 192.2,546.6 192.7,547.9 193.2,550.5 193.7,551.7 194.2,552.5 194.7,554.9 195.2,559.0 195.7,563.1 196.2,566.9 196.7,570.5 197.2,572.7 197.7,572.4 198.2,573.9 198.7,572.8 199.2,573.9 199.7,575.7 200.2,574.9 200.7,573.9 201.2,574.8 201.7,573.0 202.2,572.1 202.7,572.1 203.2,570.7 203.7,570.9 204.2,571.0 204.7,568.3 205.2,571.1 205.7,568.0 206.2,569.1 206.7,569.5 207.2,569.6 207.7,568.5 208.2,568.7 208.7,564.7 209.2,565.0 209.7,564.1 210.2,566.3 210.7,561.9 211.2,562.0 211.7,561.1 212.2,559.2 212.7,558.9 213.2,558.2 213.7,561.2 214.2,561.2 214.7,560.6 215.2,557.8 215.7,554.4 216.2,554.9 216.7,558.7 217.2,556.2 217.7,555.1 218.2,556.7 218.7,561.9 219.2,565.8 219.7,567.1 220.2,564.9 220.7,565.3 221.2,569.2 221.7,569.6 222.2,571.6 222.7,572.0 223.2,573.4 223.7,575.1 224.2,571.9 224.7,569.7 225.2,574.4 225.7,577.6 226.2,583.2 226.7,585.8 227.2,577.7 227.7,576.7 228.2,579.9 228.7,581.1 229.2,577.5 229.7,580.9 230.2,582.7 230.7,582.3 231.2,585.5 231.7,583.4 232.2,584.7 232.7,587.0 233.2,584.6 233.7,588.5 234.2,590.9 234.7,592.0 235.2,591.7 235.7,590.0 236.2,587.1 236.7,588.9 237.2,592.0 237.7,595.0 238.2,595.7 238.7,593.8 239.2,593.8 239.7,595.0 240.2,596.7 240.7,598.3 241.2,594.1 241.7,596.1 242.2,592.0 242.7,589.4 243.2,590.6 243.7,595.7 244.2,598.3 244.7,594.2 245.2,594.7 245.7,596.6 246.2,602.1 246.7,595.0 247.2,593.1 247.7,589.2 248.2,591.5 248.7,587.2 249.2,584.7 249.7,585.3 250.2,588.8 250.7,590.2 251.2,586.3 251.7,589.9 252.2,590.1 252.7,588.0 253.2,586.0 253.7,584.7 254.2,582.8 254.7,584.0 255.2,582.2 255.7,581.8 256.2,582.2 256.7,582.0 257.2,582.2 257.7,578.0 258.2,577.4 258.7,577.1 259.2,577.7 259.7,581.4 260.2,582.4 260.7,580.3 261.2,577.4 261.7,579.5 262.2,582.8 262.7,580.8 263.2,578.6 263.7,575.6 264.2,572.4 264.7,573.6 265.2,573.4 265.7,575.7 266.2,579.6 266.7,576.5 267.2,576.2 267.7,575.5 268.2,577.1 268.7,581.0 269.2,577.2 269.7,575.4 270.2,574.2 270.7,568.9 271.2,576.1 271.7,578.8 272.2,571.3 272.7,566.1 273.2,569.1 273.7,575.4 274.2,571.1 274.7,573.8 275.2,576.5 275.7,573.2 276.2,567.0 276.7,569.0 277.2,574.1 277.7,575.0 278.2,572.2 278.7,569.2 279.2,571.9 279.7,570.0 280.2,570.8 280.7,569.6 281.2,571.9 281.7,570.7 282.2,569.8 282.7,563.1 283.2,568.5 283.7,574.8 284.2,570.7 284.7,565.9 285.2,567.5 285.7,566.7 286.2,562.3" fill="none" stroke="#6aacaa" stroke-width="1.5" stroke-linejoin="round" clip-path="url(#c)"/>
<polyline points="98.3,594.3 98.8,596.5 99.3,594.2 99.8,597.0 100.3,590.6 100.8,592.6 101.3,590.6 101.8,588.7 102.3,587.6 102.8,584.8 103.3,588.3 103.8,584.5 104.3,582.3 104.8,583.1 105.3,584.7 105.8,578.8 106.3,579.5 106.8,575.3 107.3,575.5 107.8,573.8 108.3,569.0 108.8,567.5 109.3,566.6 109.8,561.6 110.3,561.8 110.8,561.5 111.3,560.3 111.8,558.4 112.3,556.5 112.8,555.7 113.3,555.8 113.8,558.4 114.3,558.6 114.8,558.4 115.3,555.4 115.8,557.1 116.3,560.7 116.8,563.6 117.3,562.7 117.8,560.9 118.3,563.1 118.8,562.3 119.3,563.7 119.8,566.0 120.3,569.9 120.8,568.8 121.3,572.1 121.8,574.0 122.3,577.4 122.8,578.4 123.3,578.7 123.8,577.0 124.3,576.2 124.8,575.7 125.3,578.8 125.8,573.3 126.3,574.4 126.8,575.4 127.3,573.6 127.8,573.0 128.3,575.1 128.8,569.9 129.3,569.9 129.8,564.7 130.3,563.9 130.8,558.2 131.3,553.8 131.8,548.3 132.3,542.8 132.8,537.2 133.3,532.4 133.8,532.2 134.3,528.3 134.8,528.2 135.3,525.5 135.8,521.5 136.3,522.2 136.8,523.4 137.3,520.1 137.8,520.6 138.3,523.4 138.8,523.4 139.3,522.5 139.8,521.8 140.3,524.8 140.8,524.6 141.3,528.0 141.8,524.8 142.3,523.0 142.8,524.4 143.3,526.3 143.8,525.4 144.3,525.6 144.8,528.0 145.3,527.5 145.8,525.4 146.3,528.1 146.8,529.0 147.3,529.3 147.8,529.9 148.3,527.8 148.8,531.4 149.3,530.1 149.8,528.7 150.3,531.0 150.8,528.7 151.3,531.6 151.8,531.6 152.3,532.4 152.8,531.1 153.3,528.3 153.8,528.6 154.3,528.6 154.8,526.1 155.3,522.1 155.8,524.6 156.3,524.7 156.8,521.0 157.3,520.8 157.8,518.3 158.3,520.8 158.8,518.8 159.3,519.9 159.8,517.3 160.3,516.5 160.8,516.5 161.3,518.6 161.8,515.9 162.3,513.3 162.8,516.0 163.3,513.8 163.8,513.8 164.3,512.8 164.8,512.3 165.3,512.8 165.8,514.3 166.3,514.2 166.8,514.6 167.3,511.9 167.8,512.7 168.3,513.4 168.8,512.7 169.3,511.8 169.8,511.9 170.3,511.1 170.8,512.9 171.3,512.0 171.8,513.7 172.3,513.4 172.8,511.5 173.3,509.6 173.8,509.1 174.3,508.0 174.8,512.2 175.3,511.1 175.8,510.3 176.3,510.1 176.8,510.6 177.3,511.2 177.8,513.1 178.3,511.5 178.8,511.4 179.3,509.7 179.8,512.8 180.3,509.5 180.8,510.1 181.3,509.7 181.8,509.8 182.3,511.5 182.8,509.9 183.3,506.5 183.8,508.8 184.3,513.0 184.8,508.0 185.3,508.5 185.8,509.4 186.3,509.3 186.8,509.3 187.3,507.3 187.8,509.4 188.3,510.2 188.8,509.3 189.3,510.2 189.8,508.3 190.3,508.9 190.8,510.6 191.3,506.0 191.8,509.0 192.3,511.2 192.8,508.7 193.3,507.4 193.8,509.7 194.3,507.5 194.8,509.0 195.3,506.5 195.8,508.9 196.3,509.7 196.8,506.9 197.3,506.9 197.8,507.2 198.3,507.0 198.8,506.5 199.3,508.7 199.8,507.8 200.3,506.8 200.8,505.1 201.3,504.3 201.8,503.5 202.3,505.9 202.8,503.2 203.3,504.4 203.8,501.3 204.3,504.3 204.8,504.9 205.3,504.1 205.8,504.1 206.3,503.8 206.8,503.0 207.3,503.0 207.8,505.4 208.3,505.4 208.8,505.1 209.3,505.0 209.8,507.4 210.3,505.4 210.8,506.2 211.3,503.5 211.8,504.3 212.3,504.2 212.8,505.8 213.3,502.6 213.8,502.9 214.3,505.7 214.8,506.6 215.3,504.3 215.8,503.5 216.3,507.8 216.8,503.7 217.3,502.4 217.8,503.1 218.3,502.1 218.8,502.2 219.3,502.4 219.8,503.9 220.3,496.7 220.8,497.9 221.3,496.4 221.8,497.1 222.3,498.5 222.8,500.9 223.3,498.5 223.8,498.4 224.3,498.4 224.8,502.3 225.3,502.9 225.8,499.1 226.3,500.8 226.8,499.0 227.3,495.5 227.8,499.7 228.3,501.2 228.8,503.9 229.3,498.4 229.8,498.4 230.3,499.6 230.8,499.6 231.3,500.3 231.8,499.7 232.3,498.2 232.8,496.5 233.3,497.7 233.8,500.5 234.3,499.6 234.8,498.9 235.3,501.6 235.8,500.3 236.3,500.2 236.8,499.6 237.3,497.0 237.8,499.4 238.3,495.9 238.8,499.4 239.3,498.1 239.8,495.8 240.3,498.9 240.8,499.3 241.3,501.4 241.8,499.0 242.3,496.3 242.8,498.6 243.3,499.1 243.8,499.8 244.3,499.2 244.8,498.8 245.3,498.3 245.8,498.0 246.3,498.1 246.8,501.9 247.3,501.9 247.8,501.4 248.3,496.8 248.8,499.9 249.3,501.5 249.8,499.2 250.3,499.8 250.8,501.7 251.3,498.3 251.8,500.1 252.3,502.5 252.8,503.1 253.3,500.6 253.8,503.4 254.3,505.6 254.8,502.8 255.3,505.3 255.8,505.2 256.3,504.5 256.8,504.6 257.3,505.7 257.8,506.7 258.3,508.6 258.8,508.3 259.3,508.0 259.8,510.0 260.3,508.7 260.8,510.6 261.3,509.3 261.8,511.0 262.3,511.2 262.8,511.9 263.3,510.3 263.8,514.7 264.3,514.8 264.8,513.9 265.3,513.9 265.8,516.7 266.3,517.0 266.8,520.5 267.3,520.8 267.8,518.9 268.3,519.3 268.8,519.0 269.3,521.5 269.8,520.9 270.3,522.8 270.8,526.5 271.3,527.0 271.8,525.3 272.3,523.6 272.8,522.1 273.3,522.9 273.8,521.1 274.3,523.4 274.8,519.7 275.3,517.9 275.8,519.5 276.3,515.9 276.8,519.6 277.3,516.9 277.8,520.7 278.3,521.7 278.8,521.0 279.3,518.6 279.8,518.4 280.3,516.5 280.8,516.7 281.3,516.9 281.8,519.9 282.3,520.2 282.8,519.9 283.3,517.6 283.8,519.3 284.3,520.9 284.8,520.2 285.3,518.6 285.8,520.1 286.3,514.5" fill="none" stroke="#d8a31e" stroke-width="2.0" stroke-linejoin="round" clip-path="url(#c)"/>
<polyline points="46.2,435.5 46.7,432.8 47.2,432.7 47.7,432.2 48.2,428.6 48.7,425.1 49.2,426.3 49.7,427.6 50.2,423.6 50.7,423.2 51.2,426.9 51.7,425.7 52.2,426.4 52.7,423.2 53.2,425.0 53.7,422.8 54.2,419.4 54.7,421.5 55.2,424.5 55.7,423.9 56.2,423.5 56.7,425.1 57.2,425.3 57.7,426.2 58.2,422.9 58.7,421.4 59.2,422.1 59.7,421.1 60.2,421.8 60.7,424.2 61.2,425.0 61.7,423.3 62.2,423.1 62.7,423.3 63.2,423.7 63.7,422.9 64.2,423.0 64.7,424.6 65.2,423.4 65.7,421.5 66.2,422.9 66.7,422.5 67.2,422.0 67.7,422.5 68.2,424.5 68.7,425.0 69.2,423.3 69.7,423.8 70.2,423.4 70.7,419.7 71.2,420.0 71.7,422.9 72.2,423.6 72.7,423.2 73.2,425.4 73.7,423.0 74.2,422.1 74.7,421.0 75.2,423.2 75.7,421.5 76.2,421.7 76.7,422.8 77.2,421.4 77.7,423.3 78.2,422.6 78.7,421.7 79.2,419.8 79.7,420.5 80.2,421.1 80.7,422.2 81.2,420.2 81.7,419.6 82.2,421.7 82.7,421.3 83.2,421.0 83.7,420.9 84.2,420.8 84.7,422.3 85.2,420.2 85.7,421.4 86.2,421.0 86.7,419.1 87.2,416.3 87.7,418.2 88.2,420.1 88.7,421.0 89.2,419.8 89.7,420.8 90.2,421.3 90.7,420.2 91.2,418.0 91.7,418.0 92.2,419.4 92.7,421.9 93.2,422.1 93.7,420.4 94.2,419.7 94.7,420.8 95.2,420.7 95.7,420.6 96.2,421.5 96.7,421.2 97.2,421.6 97.7,420.2 98.2,419.4 98.7,419.4 99.2,420.3 99.7,420.6 100.2,424.1 100.7,422.3 101.2,419.9 101.7,421.5 102.2,420.0 102.7,421.6 103.2,422.5 103.7,422.4 104.2,422.5 104.7,421.8 105.2,420.8 105.7,422.5 106.2,424.0 106.7,422.3 107.2,422.5 107.7,422.5 108.2,422.7 108.7,422.2 109.2,421.7 109.7,422.4 110.2,421.9 110.7,422.5 111.2,422.2 111.7,421.6 112.2,421.1 112.7,421.8 113.2,420.4 113.7,421.6 114.2,421.4 114.7,420.6 115.2,420.2 115.7,421.6 116.2,421.1 116.7,422.1 117.2,422.8 117.7,422.5 118.2,421.2 118.7,420.4 119.2,419.8 119.7,420.4 120.2,420.8 120.7,419.2 121.2,419.2 121.7,419.9 122.2,419.9 122.7,419.2 123.2,419.1 123.7,420.3 124.2,419.7 124.7,419.2 125.2,419.2 125.7,418.3 126.2,419.1 126.7,419.7 127.2,419.3 127.7,420.1 128.2,419.4 128.7,419.0 129.2,419.1 129.7,418.3 130.2,418.3 130.7,418.0 131.2,418.9 131.7,419.6 132.2,418.7 132.7,418.1 133.2,418.3 133.7,418.8 134.2,418.5 134.7,418.9 135.2,419.6 135.7,417.7 136.2,418.8 136.7,418.5 137.2,418.1 137.7,417.2 138.2,419.5 138.7,418.4 139.2,420.0 139.7,420.0 140.2,419.6 140.7,420.2 141.2,420.6 141.7,422.2 142.2,421.1 142.7,420.6 143.2,421.8 143.7,421.8 144.2,421.2 144.7,421.6 145.2,422.1 145.7,421.8 146.2,421.1 146.7,421.0 147.2,421.6 147.7,421.4 148.2,422.8 148.7,423.2 149.2,422.8 149.7,424.0 150.2,422.2 150.7,421.9 151.2,422.2 151.7,421.7 152.2,422.9 152.7,424.5 153.2,423.0 153.7,421.3 154.2,421.1 154.7,422.0 155.2,423.4 155.7,422.6 156.2,423.3 156.7,424.0 157.2,423.2 157.7,422.5 158.2,423.1 158.7,423.2 159.2,422.6 159.7,423.0 160.2,422.2 160.7,421.8 161.2,421.2 161.7,421.7 162.2,421.4 162.7,420.9 163.2,420.1 163.7,422.7 164.2,422.2 164.7,421.3 165.2,421.3 165.7,419.8 166.2,421.5 166.7,421.4 167.2,421.3 167.7,422.1 168.2,420.9 168.7,420.9 169.2,422.8 169.7,422.1 170.2,423.2 170.7,421.8 171.2,421.3 171.7,422.8 172.2,422.4 172.7,424.0 173.2,424.1 173.7,424.5 174.2,424.3 174.7,424.9 175.2,423.7 175.7,422.8 176.2,424.3 176.7,425.7 177.2,424.1 177.7,423.9 178.2,423.1 178.7,422.7 179.2,423.2 179.7,423.0 180.2,423.0 180.7,421.7 181.2,422.7 181.7,422.0 182.2,420.6 182.7,420.1 183.2,421.1 183.7,421.8 184.2,419.1 184.7,420.1 185.2,419.4 185.7,420.1 186.2,419.8 186.7,419.2 187.2,419.7 187.7,420.3 188.2,419.9 188.7,418.9 189.2,419.7 189.7,420.0 190.2,419.5 190.7,417.9 191.2,420.2 191.7,420.4 192.2,420.5 192.7,419.4 193.2,420.0 193.7,419.6 194.2,419.3 194.7,420.2 195.2,420.9 195.7,419.2 196.2,420.9 196.7,421.4 197.2,421.6 197.7,420.6 198.2,420.5 198.7,419.9 199.2,419.5 199.7,420.7 200.2,421.6 200.7,421.1 201.2,421.3 201.7,421.5 202.2,422.0 202.7,422.0 203.2,421.3 203.7,420.8 204.2,420.0 204.7,420.0 205.2,419.3 205.7,420.7 206.2,420.2 206.7,417.7 207.2,418.8 207.7,418.0 208.2,419.5 208.7,418.1 209.2,417.3 209.7,417.8 210.2,417.4 210.7,417.8 211.2,418.3 211.7,417.6 212.2,416.5 212.7,418.3 213.2,417.3 213.7,418.0 214.2,418.2 214.7,417.4 215.2,416.5 215.7,418.5 216.2,417.2 216.7,417.5 217.2,417.8 217.7,419.5 218.2,418.4 218.7,417.7 219.2,418.1 219.7,418.3 220.2,418.2 220.7,418.6 221.2,417.9 221.7,418.2 222.2,419.2 222.7,416.5 223.2,418.0 223.7,418.6 224.2,419.0 224.7,419.4 225.2,418.5 225.7,418.4 226.2,419.4 226.7,418.6 227.2,417.3 227.7,417.3 228.2,417.7 228.7,416.1 229.2,417.3 229.7,417.2 230.2,416.8 230.7,417.5 231.2,416.9 231.7,416.0 232.2,416.1 232.7,417.5 233.2,418.7 233.7,416.2 234.2,417.1 234.7,415.7 235.2,416.2 235.7,416.1 236.2,417.8 236.7,418.0 237.2,417.2 237.7,415.8 238.2,417.0 238.7,416.1 239.2,416.7 239.7,417.6 240.2,418.3 240.7,418.5 241.2,420.1 241.7,418.2 242.2,419.4 242.7,421.1 243.2,419.8 243.7,419.3 244.2,419.8 244.7,419.5 245.2,419.6 245.7,419.7 246.2,417.0 246.7,418.7 247.2,420.4 247.7,419.1 248.2,418.9 248.7,419.3 249.2,419.1 249.7,418.3 250.2,417.1 250.7,418.0 251.2,416.8 251.7,417.3 252.2,418.0 252.7,416.7 253.2,416.3 253.7,415.7 254.2,414.6 254.7,415.0 255.2,415.6 255.7,415.6 256.2,415.4 256.7,415.2 257.2,413.5 257.7,414.7 258.2,415.2 258.7,414.7 259.2,415.3 259.7,413.4 260.2,416.0 260.7,416.1 261.2,415.9 261.7,415.8 262.2,415.5 262.7,415.5 263.2,417.0 263.7,415.2 264.2,416.1 264.7,416.0 265.2,416.6 265.7,414.7 266.2,413.1 266.7,416.0 267.2,414.6 267.7,415.6 268.2,416.3 268.7,415.1 269.2,415.3 269.7,415.0 270.2,415.7 270.7,413.6 271.2,414.1 271.7,413.7 272.2,415.3 272.7,414.6 273.2,414.5 273.7,413.5 274.2,411.7 274.7,412.1 275.2,411.6 275.7,411.0 276.2,411.4 276.7,412.7 277.2,412.5 277.7,411.9 278.2,411.5 278.7,411.3 279.2,411.8 279.7,411.7 280.2,410.1 280.7,409.3 281.2,409.1 281.7,407.9 282.2,407.9 282.7,407.6 283.2,407.7 283.7,408.5 284.2,405.9 284.7,407.0 285.2,407.8 285.7,406.7 286.2,404.2" fill="none" stroke="#173a6b" stroke-width="2.1" stroke-linejoin="round" clip-path="url(#c)"/>
<polyline points="245.7,421.3 246.2,418.5 246.7,417.8 247.2,418.1 247.7,418.3 248.2,418.0 248.7,416.3 249.2,417.4 249.7,419.5 250.2,419.1 250.7,417.2 251.2,416.3 251.7,415.6 252.2,415.8 252.7,417.5 253.2,418.1 253.7,417.0 254.2,415.1 254.7,415.8 255.2,415.7 255.7,415.5 256.2,415.5 256.7,416.6 257.2,416.0 257.7,418.0 258.2,417.2 258.7,415.9 259.2,414.9 259.7,415.9 260.2,415.6 260.7,417.8 261.2,416.2 261.7,415.1 262.2,416.1 262.7,418.2 263.2,417.5 263.7,415.8 264.2,415.8 264.7,417.6 265.2,418.5 265.7,416.5 266.2,415.9 266.7,416.7 267.2,418.9 267.7,417.6 268.2,417.1 268.7,414.8 269.2,416.9 269.7,416.1 270.2,416.4 270.7,416.6 271.2,414.7 271.7,416.1 272.2,415.6 272.7,415.8 273.2,415.4 273.7,414.0 274.2,414.5 274.7,416.0 275.2,413.8 275.7,412.8 276.2,414.8 276.7,413.7 277.2,413.2 277.7,412.0 278.2,413.2 278.7,411.5 279.2,413.0 279.7,412.0 280.2,412.5 280.7,412.8 281.2,410.5 281.7,412.3 282.2,412.2 282.7,411.0 283.2,410.3 283.7,408.8 284.2,410.1 284.7,407.9 285.2,407.9 285.7,409.3 286.2,407.9" fill="none" stroke="#173a6b" stroke-width="2.4" stroke-linejoin="round" clip-path="url(#c)"/>
<rect x="46.3" y="395.0" width="240.10" height="189.20" fill="none" stroke="#262626" stroke-width="1.0"/>
<line x1="64.10" y1="584.20" x2="64.10" y2="588.20" stroke="#262626" stroke-width="1.0"/>
<text x="64.10" y="600.40" font-size="11.5" text-anchor="middle" >1510</text>
<line x1="89.55" y1="584.20" x2="89.55" y2="586.20" stroke="#262626" stroke-width="1.0"/>
<line x1="115.00" y1="584.20" x2="115.00" y2="588.20" stroke="#262626" stroke-width="1.0"/>
<text x="115.00" y="600.40" font-size="11.5" text-anchor="middle" >1530</text>
<line x1="140.45" y1="584.20" x2="140.45" y2="586.20" stroke="#262626" stroke-width="1.0"/>
<line x1="165.90" y1="584.20" x2="165.90" y2="588.20" stroke="#262626" stroke-width="1.0"/>
<text x="165.90" y="600.40" font-size="11.5" text-anchor="middle" >1550</text>
<line x1="191.35" y1="584.20" x2="191.35" y2="586.20" stroke="#262626" stroke-width="1.0"/>
<line x1="216.80" y1="584.20" x2="216.80" y2="588.20" stroke="#262626" stroke-width="1.0"/>
<text x="216.80" y="600.40" font-size="11.5" text-anchor="middle" >1570</text>
<line x1="242.25" y1="584.20" x2="242.25" y2="586.20" stroke="#262626" stroke-width="1.0"/>
<line x1="267.70" y1="584.20" x2="267.70" y2="588.20" stroke="#262626" stroke-width="1.0"/>
<text x="267.70" y="600.40" font-size="11.5" text-anchor="middle" >1590</text>
<line x1="46.30" y1="406.30" x2="41.80" y2="406.30" stroke="#262626" stroke-width="1.0"/>
<text x="38.00" y="410.20" font-size="11" text-anchor="end" >0</text>
<line x1="46.30" y1="435.95" x2="44.30" y2="435.95" stroke="#262626" stroke-width="1.0"/>
<line x1="46.30" y1="465.60" x2="41.80" y2="465.60" stroke="#262626" stroke-width="1.0"/>
<text x="38.00" y="469.50" font-size="11" text-anchor="end" >-10</text>
<line x1="46.30" y1="495.25" x2="44.30" y2="495.25" stroke="#262626" stroke-width="1.0"/>
<line x1="46.30" y1="524.90" x2="41.80" y2="524.90" stroke="#262626" stroke-width="1.0"/>
<text x="38.00" y="528.80" font-size="11" text-anchor="end" >-20</text>
<line x1="46.30" y1="554.55" x2="44.30" y2="554.55" stroke="#262626" stroke-width="1.0"/>
<line x1="46.30" y1="584.20" x2="41.80" y2="584.20" stroke="#262626" stroke-width="1.0"/>
<text x="38.00" y="588.10" font-size="11" text-anchor="end" >-30</text>
<text x="9.30" y="483.20" font-size="12.2" text-anchor="middle" transform="rotate(-90 9.30 483.20)" >Transmission (dB)</text>
<text x="166.00" y="618.70" font-size="11.6" text-anchor="middle" >Wavelength (nm)</text>
<linearGradient id="semgray" x1="0" y1="0" x2="0" y2="1"><stop offset="0" stop-color="#2a2a2a"/><stop offset="0.07" stop-color="#7a7a7a"/><stop offset="0.13" stop-color="#3a3a3a"/><stop offset="0.2" stop-color="#e0e0e0"/><stop offset="0.27" stop-color="#6a6a6a"/><stop offset="0.34" stop-color="#ececec"/><stop offset="0.43" stop-color="#5a5a5a"/><stop offset="0.52" stop-color="#e4e4e4"/><stop offset="0.61" stop-color="#606060"/><stop offset="0.7" stop-color="#e8e8e8"/><stop offset="0.79" stop-color="#5a5a5a"/><stop offset="0.87" stop-color="#d8d8d8"/><stop offset="0.94" stop-color="#777"/><stop offset="1" stop-color="#9a9a9a"/></linearGradient>
<linearGradient id="semp" x1="0" y1="0" x2="1" y2="0"><stop offset="0" stop-color="#45398a"/><stop offset="0.5" stop-color="#503f98"/><stop offset="1" stop-color="#8072c8"/></linearGradient>
<linearGradient id="semleft" x1="0" y1="0" x2="0" y2="1"><stop offset="0" stop-color="#9a9a9a"/><stop offset="0.35" stop-color="#3a3a3a"/><stop offset="1" stop-color="#101010"/></linearGradient>
<rect x="54.7" y="431.8" width="83.3" height="68.1" fill="#121212"/>
<rect x="98" y="431.8" width="40.0" height="68.1" fill="url(#semgray)"/>
<rect x="55" y="453.6" width="11.5" height="30" fill="url(#semleft)"/>
<path d="M55,436.2 L100,438.5 L112,440.3 L138,440.3 L138,444.2 L116,444.6 L106,446.4 L113,450 L126,451.6 L138,452 L138,458.4 L121,458.2 L108,456 L99,454.6 L88,454.3 L55,453.6 Z" fill="url(#semp)" stroke="#9f95e4" stroke-width="0.7" stroke-opacity="0.8"/>
<path d="M66.3,455.8 L82,456.3 L92,459 L100,463 L112,465.8 L136,466 L136,472.6 L118,472.6 L106,470 L110,474 L118,479 L138,479.6 L138,487.6 L118,487.6 L106,484 L100,487 L96,492 L93,494.6 L66.3,494.6 Z" fill="url(#semp)" stroke="#9f95e4" stroke-width="0.7" stroke-opacity="0.8"/>
<circle cx="68.0" cy="450.2" r="0.45" fill="#2a2350"/>
<circle cx="69.6" cy="450.2" r="0.45" fill="#2a2350"/>
<circle cx="71.2" cy="450.2" r="0.45" fill="#2a2350"/>
<circle cx="72.8" cy="450.2" r="0.45" fill="#2a2350"/>
<circle cx="74.4" cy="450.2" r="0.45" fill="#2a2350"/>
<circle cx="76.0" cy="450.2" r="0.45" fill="#2a2350"/>
<circle cx="77.6" cy="450.2" r="0.45" fill="#2a2350"/>
<circle cx="79.2" cy="450.2" r="0.45" fill="#2a2350"/>
<circle cx="80.8" cy="450.2" r="0.45" fill="#2a2350"/>
<circle cx="82.4" cy="450.2" r="0.45" fill="#2a2350"/>
<circle cx="84.0" cy="450.2" r="0.45" fill="#2a2350"/>
<circle cx="85.6" cy="450.2" r="0.45" fill="#2a2350"/>
<circle cx="87.2" cy="450.2" r="0.45" fill="#2a2350"/>
<circle cx="88.8" cy="450.2" r="0.45" fill="#2a2350"/>
<circle cx="90.4" cy="450.2" r="0.45" fill="#2a2350"/>
<circle cx="92.0" cy="450.2" r="0.45" fill="#2a2350"/>
<circle cx="93.6" cy="450.2" r="0.45" fill="#2a2350"/>
<circle cx="95.2" cy="450.2" r="0.45" fill="#2a2350"/>
<circle cx="96.8" cy="450.2" r="0.45" fill="#2a2350"/>
<circle cx="98.4" cy="450.2" r="0.45" fill="#2a2350"/>
<circle cx="100.0" cy="450.2" r="0.45" fill="#2a2350"/>
<circle cx="78.0" cy="446.5" r="0.45" fill="#2a2350"/>
<circle cx="79.6" cy="446.5" r="0.45" fill="#2a2350"/>
<circle cx="81.2" cy="446.5" r="0.45" fill="#2a2350"/>
<circle cx="82.8" cy="446.5" r="0.45" fill="#2a2350"/>
<circle cx="84.4" cy="446.5" r="0.45" fill="#2a2350"/>
<circle cx="86.0" cy="446.5" r="0.45" fill="#2a2350"/>
<circle cx="87.6" cy="446.5" r="0.45" fill="#2a2350"/>
<circle cx="89.2" cy="446.5" r="0.45" fill="#2a2350"/>
<circle cx="90.8" cy="446.5" r="0.45" fill="#2a2350"/>
<circle cx="92.4" cy="446.5" r="0.45" fill="#2a2350"/>
<circle cx="94.0" cy="446.5" r="0.45" fill="#2a2350"/>
<circle cx="95.6" cy="446.5" r="0.45" fill="#2a2350"/>
<circle cx="97.2" cy="446.5" r="0.45" fill="#2a2350"/>
<circle cx="98.8" cy="446.5" r="0.45" fill="#2a2350"/>
<circle cx="100.4" cy="446.5" r="0.45" fill="#2a2350"/>
<circle cx="102.0" cy="446.5" r="0.45" fill="#2a2350"/>
<circle cx="103.6" cy="446.5" r="0.45" fill="#2a2350"/>
<path d="M82,468 L88,470.5 L94,474 L96,476" fill="none" stroke="#231d45" stroke-width="1.1"/>
<path d="M90,463 L98,467 L104,472" fill="none" stroke="#231d45" stroke-width="0.8"/>
<path d="M66.5,455.6 L84,455.9 L93,458.2" fill="none" stroke="#1f1a38" stroke-width="0.9"/>
<text x="58.0" y="488.0" font-size="10" fill="#ffffff">1 µm</text>
<rect x="61" y="492.5" width="10" height="2.1" fill="#ffffff"/>
<rect x="142.7" y="430.9" width="160.5" height="48.3" fill="#ffffff" stroke="#333" stroke-width="1"/>
<line x1="144.00" y1="436.5" x2="162.00" y2="436.5" stroke="#ec1c24" stroke-width="1.1"/>
<text x="164.20" y="439.70" font-size="8.4" fill="#333">I<tspan font-size="6" dy="1.8">1</tspan><tspan dy="-1.8">-O</tspan><tspan font-size="6" dy="1.8">1</tspan></text>
<line x1="184.20" y1="436.5" x2="202.20" y2="436.5" stroke="#3f6fb5" stroke-width="1.1"/>
<text x="204.40" y="439.70" font-size="8.4" fill="#333">I<tspan font-size="6" dy="1.8">1</tspan><tspan dy="-1.8">-O</tspan><tspan font-size="6" dy="1.8">2</tspan></text>
<line x1="224.40" y1="436.5" x2="242.40" y2="436.5" stroke="#f7c12f" stroke-width="1.1"/>
<text x="244.60" y="439.70" font-size="8.4" fill="#333">I<tspan font-size="6" dy="1.8">1</tspan><tspan dy="-1.8">-O</tspan><tspan font-size="6" dy="1.8">3</tspan></text>
<line x1="264.60" y1="436.5" x2="282.60" y2="436.5" stroke="#3dbf73" stroke-width="1.1"/>
<text x="284.80" y="439.70" font-size="8.4" fill="#333">I<tspan font-size="6" dy="1.8">1</tspan><tspan dy="-1.8">-O</tspan><tspan font-size="6" dy="1.8">4</tspan></text>
<line x1="144.00" y1="448.4" x2="162.00" y2="448.4" stroke="#7272c2" stroke-width="1.1"/>
<text x="164.20" y="451.60" font-size="8.4" fill="#333">I<tspan font-size="6" dy="1.8">2</tspan><tspan dy="-1.8">-O</tspan><tspan font-size="6" dy="1.8">1</tspan></text>
<line x1="184.20" y1="448.4" x2="202.20" y2="448.4" stroke="#a5a5a5" stroke-width="1.1"/>
<text x="204.40" y="451.60" font-size="8.4" fill="#333">I<tspan font-size="6" dy="1.8">2</tspan><tspan dy="-1.8">-O</tspan><tspan font-size="6" dy="1.8">2</tspan></text>
<line x1="224.40" y1="448.4" x2="242.40" y2="448.4" stroke="#f27878" stroke-width="1.1"/>
<text x="244.60" y="451.60" font-size="8.4" fill="#333">I<tspan font-size="6" dy="1.8">2</tspan><tspan dy="-1.8">-O</tspan><tspan font-size="6" dy="1.8">3</tspan></text>
<line x1="264.60" y1="448.4" x2="282.60" y2="448.4" stroke="#6fa8e0" stroke-width="1.1"/>
<text x="284.80" y="451.60" font-size="8.4" fill="#333">I<tspan font-size="6" dy="1.8">2</tspan><tspan dy="-1.8">-O</tspan><tspan font-size="6" dy="1.8">4</tspan></text>
<line x1="144.00" y1="460.2" x2="162.00" y2="460.2" stroke="#d9761c" stroke-width="1.1"/>
<text x="164.20" y="463.40" font-size="8.4" fill="#333">I<tspan font-size="6" dy="1.8">3</tspan><tspan dy="-1.8">-O</tspan><tspan font-size="6" dy="1.8">1</tspan></text>
<line x1="184.20" y1="460.2" x2="202.20" y2="460.2" stroke="#16a3a3" stroke-width="1.1"/>
<text x="204.40" y="463.40" font-size="8.4" fill="#333">I<tspan font-size="6" dy="1.8">3</tspan><tspan dy="-1.8">-O</tspan><tspan font-size="6" dy="1.8">2</tspan></text>
<line x1="224.40" y1="460.2" x2="242.40" y2="460.2" stroke="#7569c2" stroke-width="1.1"/>
<text x="244.60" y="463.40" font-size="8.4" fill="#333">I<tspan font-size="6" dy="1.8">3</tspan><tspan dy="-1.8">-O</tspan><tspan font-size="6" dy="1.8">3</tspan></text>
<line x1="264.60" y1="460.2" x2="282.60" y2="460.2" stroke="#a48f8b" stroke-width="1.1"/>
<text x="284.80" y="463.40" font-size="8.4" fill="#333">I<tspan font-size="6" dy="1.8">3</tspan><tspan dy="-1.8">-O</tspan><tspan font-size="6" dy="1.8">4</tspan></text>
<line x1="144.00" y1="472.3" x2="162.00" y2="472.3" stroke="#d83c50" stroke-width="1.1"/>
<text x="164.20" y="475.50" font-size="8.4" fill="#333">I<tspan font-size="6" dy="1.8">4</tspan><tspan dy="-1.8">-O</tspan><tspan font-size="6" dy="1.8">1</tspan></text>
<line x1="184.20" y1="472.3" x2="202.20" y2="472.3" stroke="#6aacaa" stroke-width="1.1"/>
<text x="204.40" y="475.50" font-size="8.4" fill="#333">I<tspan font-size="6" dy="1.8">4</tspan><tspan dy="-1.8">-O</tspan><tspan font-size="6" dy="1.8">2</tspan></text>
<line x1="224.40" y1="472.3" x2="242.40" y2="472.3" stroke="#d8a31e" stroke-width="1.1"/>
<text x="244.60" y="475.50" font-size="8.4" fill="#333">I<tspan font-size="6" dy="1.8">4</tspan><tspan dy="-1.8">-O</tspan><tspan font-size="6" dy="1.8">3</tspan></text>
<line x1="264.60" y1="472.3" x2="282.60" y2="472.3" stroke="#173a6b" stroke-width="1.1"/>
<text x="284.80" y="475.50" font-size="8.4" fill="#333">I<tspan font-size="6" dy="1.8">4</tspan><tspan dy="-1.8">-O</tspan><tspan font-size="6" dy="1.8">4</tspan></text>
</svg>
</body></html>
